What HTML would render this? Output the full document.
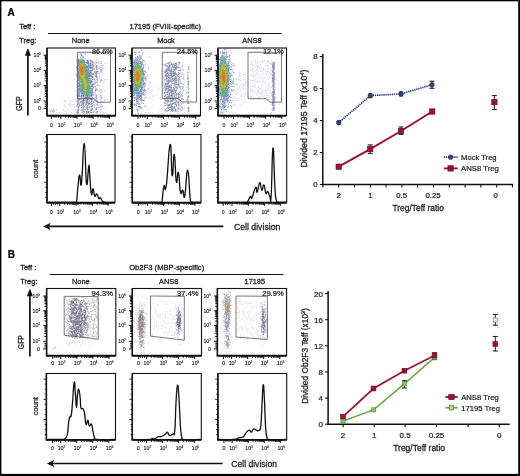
<!DOCTYPE html>
<html><head><meta charset="utf-8"><style>
html,body{margin:0;padding:0;background:#fff;}
svg{display:block;font-family:"Liberation Sans", sans-serif;}
</style></head><body>
<svg width="520" height="476" viewBox="0 0 520 476">
<defs><filter id="b4" x="-50%" y="-50%" width="200%" height="200%"><feGaussianBlur stdDeviation="0.4"/></filter><filter id="b8" x="-50%" y="-50%" width="200%" height="200%"><feGaussianBlur stdDeviation="0.8"/></filter><filter id="b10" x="-50%" y="-50%" width="200%" height="200%"><feGaussianBlur stdDeviation="1.0"/></filter><filter id="b12" x="-50%" y="-50%" width="200%" height="200%"><feGaussianBlur stdDeviation="1.2"/></filter><filter id="b15" x="-50%" y="-50%" width="200%" height="200%"><feGaussianBlur stdDeviation="1.5"/></filter><filter id="b20" x="-50%" y="-50%" width="200%" height="200%"><feGaussianBlur stdDeviation="2.0"/></filter></defs>
<rect width="520" height="476" fill="#fff"/>
<g opacity="0.999">
<rect x="0" y="0" width="520" height="1.3" fill="#000"/>
<rect x="0" y="0" width="1.4" height="476" fill="#000"/>
<rect x="518.2" y="0" width="1.8" height="476" fill="#000"/>
<rect x="0" y="473.9" width="520" height="2.1" fill="#000"/>
<text x="7.4" y="15.8" font-size="10" fill="#000" font-weight="bold" stroke="#000" stroke-width="0.22">A</text>
<text x="19.2" y="28.8" font-size="7.5" fill="#222" stroke="#222" stroke-width="0.32">Teff :</text>
<text x="129.5" y="28.8" font-size="7.4" fill="#222" textLength="71.5" lengthAdjust="spacingAndGlyphs" stroke="#222" stroke-width="0.28">17195 (FVIII-specific)</text>
<line x1="48" y1="33.5" x2="281.5" y2="33.5" stroke="#111" stroke-width="1.1"/>
<text x="19.2" y="42.8" font-size="7.5" fill="#222" stroke="#222" stroke-width="0.32">Treg:</text>
<text x="80.7" y="43" font-size="7.4" fill="#222" text-anchor="middle" stroke="#222" stroke-width="0.28">None</text>
<text x="166" y="43" font-size="7.4" fill="#222" text-anchor="middle" stroke="#222" stroke-width="0.28">Mock</text>
<text x="252" y="43" font-size="7.4" fill="#222" text-anchor="middle" stroke="#222" stroke-width="0.28">ANS8</text>
<g filter="url(#b4)">
<path d="M106.1 63.0h1v1h-1zM68.5 100.7h1v1h-1zM63.7 100.2h1v1h-1zM75.5 90.6h1v1h-1zM98.6 106.4h1v1h-1zM76.1 74.4h1v1h-1zM71.0 100.7h1v1h-1zM98.0 110.8h1v1h-1zM64.1 106.1h1v1h-1zM75.9 80.9h1v1h-1zM98.0 85.1h1v1h-1zM104.3 100.0h1v1h-1zM102.3 67.1h1v1h-1zM102.4 104.9h1v1h-1zM106.8 99.4h1v1h-1zM98.2 94.6h1v1h-1zM101.8 110.6h1v1h-1zM49.1 110.4h1v1h-1zM104.0 90.4h1v1h-1zM76.1 87.5h1v1h-1zM104.6 79.2h1v1h-1zM104.2 79.2h1v1h-1zM65.3 100.3h1v1h-1zM62.8 112.3h1v1h-1zM69.5 102.6h1v1h-1zM68.4 105.6h1v1h-1zM72.2 106.2h1v1h-1zM98.5 89.2h1v1h-1zM63.4 112.0h1v1h-1zM104.1 99.9h1v1h-1zM104.1 81.0h1v1h-1zM71.8 104.1h1v1h-1zM54.2 107.9h1v1h-1zM102.3 76.9h1v1h-1zM63.4 110.1h1v1h-1zM65.0 101.8h1v1h-1zM98.6 66.4h1v1h-1zM69.6 110.2h1v1h-1zM74.9 108.9h1v1h-1zM103.0 112.0h1v1h-1zM49.1 109.0h1v1h-1zM102.8 107.7h1v1h-1zM73.3 105.6h1v1h-1zM104.5 106.2h1v1h-1zM70.2 104.9h1v1h-1zM97.9 71.0h1v1h-1zM65.7 107.6h1v1h-1zM58.5 113.4h1v1h-1zM102.6 79.9h1v1h-1zM103.7 83.3h1v1h-1zM70.8 108.0h1v1h-1zM69.5 106.6h1v1h-1zM102.3 65.0h1v1h-1zM104.5 69.7h1v1h-1zM65.2 100.5h1v1h-1zM68.3 104.1h1v1h-1zM105.2 93.2h1v1h-1zM62.4 109.4h1v1h-1zM98.9 74.8h1v1h-1zM63.7 103.9h1v1h-1zM102.2 86.3h1v1h-1zM51.8 114.1h1v1h-1zM104.5 89.6h1v1h-1zM102.1 97.3h1v1h-1zM98.6 106.6h1v1h-1zM98.8 68.2h1v1h-1zM72.3 108.6h1v1h-1zM74.4 105.8h1v1h-1zM75.7 86.1h1v1h-1zM102.1 101.3h1v1h-1zM98.8 88.1h1v1h-1zM104.7 112.3h1v1h-1zM98.4 95.2h1v1h-1zM71.1 111.9h1v1h-1zM104.9 63.2h1v1h-1zM64.6 110.9h1v1h-1zM67.0 108.9h1v1h-1zM105.1 95.7h1v1h-1zM105.5 68.6h1v1h-1zM72.6 104.0h1v1h-1zM98.7 71.3h1v1h-1zM106.6 79.4h1v1h-1zM98.7 78.4h1v1h-1zM102.1 112.2h1v1h-1zM106.4 109.7h1v1h-1zM101.9 105.6h1v1h-1zM68.2 110.4h1v1h-1zM104.2 72.7h1v1h-1zM101.7 112.2h1v1h-1zM66.0 112.7h1v1h-1zM74.2 107.0h1v1h-1zM98.4 90.3h1v1h-1zM63.6 101.8h1v1h-1zM75.4 72.6h1v1h-1zM99.0 76.1h1v1h-1zM105.2 96.3h1v1h-1zM98.7 103.8h1v1h-1zM106.3 85.9h1v1h-1zM63.7 104.9h1v1h-1zM75.5 73.5h1v1h-1zM63.1 109.1h1v1h-1zM70.5 103.6h1v1h-1zM105.3 112.2h1v1h-1zM104.7 75.8h1v1h-1zM76.0 60.7h1v1h-1zM104.2 99.1h1v1h-1zM103.1 69.1h1v1h-1zM71.2 108.3h1v1h-1zM102.2 64.0h1v1h-1zM102.8 80.2h1v1h-1zM66.2 107.5h1v1h-1zM98.1 85.9h1v1h-1zM69.2 104.6h1v1h-1zM102.6 68.0h1v1h-1zM73.6 106.6h1v1h-1zM105.5 67.3h1v1h-1zM103.0 112.2h1v1h-1zM102.2 101.5h1v1h-1zM106.6 107.5h1v1h-1zM98.8 75.3h1v1h-1zM102.8 73.1h1v1h-1zM69.8 100.0h1v1h-1zM103.7 64.6h1v1h-1z" fill="#b4b4d6" fill-opacity="0.55"/>
<path d="M93.4 74.3h1v1h-1zM80.2 75.3h1v1h-1zM99.6 80.2h1v1h-1zM92.8 94.6h1v1h-1zM89.7 66.2h1v1h-1zM50.2 111.5h1v1h-1zM84.2 79.4h1v1h-1zM92.8 101.6h1v1h-1zM85.2 82.8h1v1h-1zM100.4 71.2h1v1h-1zM94.9 100.6h1v1h-1zM79.4 71.8h1v1h-1zM97.2 68.5h1v1h-1zM89.0 104.3h1v1h-1zM96.8 100.6h1v1h-1zM90.1 70.5h1v1h-1zM85.1 70.0h1v1h-1zM101.8 70.1h1v1h-1zM96.9 102.6h1v1h-1zM100.6 95.2h1v1h-1zM85.1 61.6h1v1h-1zM50.1 110.9h1v1h-1zM100.1 98.2h1v1h-1zM79.4 68.0h1v1h-1zM76.0 106.0h1v1h-1zM97.2 79.7h1v1h-1zM89.5 92.8h1v1h-1zM76.8 84.2h1v1h-1zM100.8 69.0h1v1h-1zM76.7 72.9h1v1h-1zM80.0 72.5h1v1h-1zM85.4 98.0h1v1h-1zM80.9 101.0h1v1h-1zM101.1 105.7h1v1h-1zM93.5 92.1h1v1h-1zM53.3 111.8h1v1h-1zM100.2 103.4h1v1h-1zM84.4 112.5h1v1h-1zM95.0 100.0h1v1h-1zM100.5 80.2h1v1h-1zM84.6 72.0h1v1h-1zM80.8 84.9h1v1h-1zM97.9 61.8h1v1h-1zM93.4 82.9h1v1h-1zM100.7 101.8h1v1h-1zM84.5 106.8h1v1h-1zM89.1 110.6h1v1h-1zM90.0 109.4h1v1h-1zM77.0 99.7h1v1h-1zM84.1 73.5h1v1h-1zM84.0 91.0h1v1h-1zM80.6 104.4h1v1h-1zM84.3 77.8h1v1h-1zM92.8 73.0h1v1h-1zM84.0 85.8h1v1h-1zM84.2 111.3h1v1h-1zM84.0 105.8h1v1h-1zM93.8 98.6h1v1h-1zM80.8 99.0h1v1h-1zM80.8 77.6h1v1h-1zM99.9 101.9h1v1h-1zM84.4 102.4h1v1h-1zM79.7 77.1h1v1h-1zM85.3 88.6h1v1h-1zM84.5 77.6h1v1h-1zM101.5 61.2h1v1h-1zM84.1 63.2h1v1h-1zM101.0 63.1h1v1h-1zM85.4 70.2h1v1h-1zM99.2 69.3h1v1h-1zM97.3 101.9h1v1h-1zM75.8 111.9h1v1h-1zM101.7 101.7h1v1h-1zM93.6 81.9h1v1h-1zM93.4 110.6h1v1h-1zM88.7 74.3h1v1h-1zM92.8 85.9h1v1h-1zM84.5 108.9h1v1h-1zM79.8 67.9h1v1h-1zM95.1 90.4h1v1h-1zM50.7 109.7h1v1h-1zM85.3 98.3h1v1h-1zM100.6 105.8h1v1h-1zM88.5 67.7h1v1h-1zM97.4 62.8h1v1h-1zM99.6 61.8h1v1h-1zM89.0 107.3h1v1h-1zM79.2 84.6h1v1h-1zM83.9 111.5h1v1h-1zM95.1 93.4h1v1h-1zM95.0 72.3h1v1h-1zM88.4 108.9h1v1h-1zM79.7 96.2h1v1h-1zM80.2 90.9h1v1h-1zM93.2 79.2h1v1h-1zM93.5 86.1h1v1h-1zM99.9 95.5h1v1h-1zM79.5 70.9h1v1h-1zM99.6 109.1h1v1h-1zM94.6 94.2h1v1h-1zM76.4 62.6h1v1h-1zM79.9 95.8h1v1h-1zM49.9 110.5h1v1h-1zM80.2 85.3h1v1h-1zM93.3 104.2h1v1h-1zM84.3 92.0h1v1h-1zM92.8 77.8h1v1h-1zM76.5 77.8h1v1h-1zM81.0 82.8h1v1h-1zM94.2 65.3h1v1h-1zM99.8 85.6h1v1h-1zM93.1 62.4h1v1h-1zM94.5 102.4h1v1h-1zM94.7 74.7h1v1h-1zM79.4 98.5h1v1h-1zM85.3 103.6h1v1h-1zM97.1 111.4h1v1h-1zM90.3 110.2h1v1h-1zM81.1 81.3h1v1h-1zM97.1 71.0h1v1h-1zM89.8 96.8h1v1h-1zM100.4 79.6h1v1h-1zM97.8 106.0h1v1h-1zM85.6 82.3h1v1h-1zM99.4 107.2h1v1h-1zM89.0 70.2h1v1h-1zM81.0 105.3h1v1h-1zM100.9 101.1h1v1h-1zM89.9 65.5h1v1h-1zM89.0 110.7h1v1h-1zM96.8 110.9h1v1h-1zM94.6 90.3h1v1h-1zM80.4 90.0h1v1h-1zM96.8 79.3h1v1h-1zM89.2 94.6h1v1h-1zM80.9 98.6h1v1h-1zM99.9 105.7h1v1h-1zM76.5 111.3h1v1h-1zM88.4 98.2h1v1h-1zM100.4 64.8h1v1h-1zM99.6 67.6h1v1h-1zM93.9 84.2h1v1h-1zM93.7 81.0h1v1h-1zM94.4 86.6h1v1h-1zM85.0 71.1h1v1h-1zM89.8 68.2h1v1h-1zM89.1 73.5h1v1h-1zM100.5 89.3h1v1h-1zM95.0 83.1h1v1h-1zM94.0 110.5h1v1h-1zM100.2 60.9h1v1h-1zM94.7 71.5h1v1h-1zM88.6 85.4h1v1h-1zM76.9 68.1h1v1h-1zM90.1 98.9h1v1h-1zM79.3 62.7h1v1h-1zM80.4 64.5h1v1h-1zM80.6 60.4h1v1h-1zM88.4 101.4h1v1h-1zM97.2 81.8h1v1h-1zM79.4 83.4h1v1h-1zM99.8 81.5h1v1h-1zM53.2 108.7h1v1h-1zM79.5 79.6h1v1h-1zM85.5 77.2h1v1h-1zM80.4 66.1h1v1h-1zM90.0 72.1h1v1h-1zM85.4 91.0h1v1h-1zM79.3 62.2h1v1h-1zM88.5 61.8h1v1h-1zM97.2 66.7h1v1h-1zM100.9 96.8h1v1h-1zM96.9 79.8h1v1h-1zM89.1 100.3h1v1h-1zM101.5 69.0h1v1h-1zM81.0 90.1h1v1h-1zM99.4 76.0h1v1h-1zM84.6 80.9h1v1h-1zM76.9 60.7h1v1h-1zM101.0 79.9h1v1h-1zM94.8 73.0h1v1h-1zM89.5 66.6h1v1h-1zM100.3 61.1h1v1h-1zM97.2 90.4h1v1h-1zM94.9 108.9h1v1h-1zM99.3 90.0h1v1h-1zM99.2 93.5h1v1h-1zM84.5 81.9h1v1h-1zM84.0 77.8h1v1h-1zM100.7 97.0h1v1h-1zM100.0 91.8h1v1h-1zM101.2 90.6h1v1h-1zM95.2 88.8h1v1h-1zM76.5 98.5h1v1h-1zM93.2 82.9h1v1h-1zM97.7 102.4h1v1h-1zM81.1 91.1h1v1h-1zM97.3 105.7h1v1h-1zM100.4 69.3h1v1h-1zM79.7 86.1h1v1h-1zM84.4 63.4h1v1h-1zM79.8 102.5h1v1h-1zM84.2 109.8h1v1h-1zM100.5 106.0h1v1h-1zM100.6 65.2h1v1h-1zM85.5 100.0h1v1h-1zM94.3 105.0h1v1h-1zM79.9 101.3h1v1h-1zM100.8 78.5h1v1h-1zM89.7 97.1h1v1h-1zM89.3 80.1h1v1h-1zM96.7 112.5h1v1h-1zM101.4 66.5h1v1h-1zM76.5 112.0h1v1h-1zM79.5 106.2h1v1h-1zM79.3 79.8h1v1h-1zM94.8 70.4h1v1h-1zM100.7 98.7h1v1h-1zM94.0 82.6h1v1h-1zM79.3 68.4h1v1h-1zM93.5 83.4h1v1h-1zM88.9 76.0h1v1h-1zM76.9 89.3h1v1h-1zM101.1 91.6h1v1h-1zM94.5 85.6h1v1h-1zM89.3 106.0h1v1h-1zM95.0 75.8h1v1h-1zM94.8 90.4h1v1h-1zM95.0 89.2h1v1h-1zM93.3 83.5h1v1h-1zM97.7 67.8h1v1h-1zM80.6 110.3h1v1h-1zM79.2 104.3h1v1h-1zM85.1 74.4h1v1h-1zM80.5 98.4h1v1h-1zM99.2 77.5h1v1h-1zM93.7 107.0h1v1h-1zM79.6 97.1h1v1h-1zM80.3 78.6h1v1h-1zM93.3 77.9h1v1h-1zM89.5 70.6h1v1h-1zM79.2 99.7h1v1h-1zM89.8 65.3h1v1h-1zM79.7 97.6h1v1h-1zM97.7 62.3h1v1h-1zM79.1 82.5h1v1h-1zM101.6 105.9h1v1h-1zM76.6 97.3h1v1h-1zM100.5 108.9h1v1h-1zM80.0 71.1h1v1h-1zM80.2 98.8h1v1h-1zM100.5 67.0h1v1h-1zM94.0 70.9h1v1h-1zM89.8 68.9h1v1h-1zM101.1 71.1h1v1h-1zM94.8 87.3h1v1h-1zM89.8 108.8h1v1h-1zM94.7 90.3h1v1h-1zM76.9 82.9h1v1h-1zM95.0 91.4h1v1h-1zM80.0 75.2h1v1h-1zM85.0 77.2h1v1h-1zM79.8 72.8h1v1h-1zM81.1 97.0h1v1h-1zM99.3 72.4h1v1h-1zM100.7 105.8h1v1h-1zM97.1 84.3h1v1h-1zM79.8 63.6h1v1h-1zM101.2 95.3h1v1h-1zM89.2 92.7h1v1h-1zM76.2 91.2h1v1h-1zM80.8 72.1h1v1h-1zM100.0 69.6h1v1h-1zM94.6 110.4h1v1h-1zM89.5 92.1h1v1h-1zM76.6 93.8h1v1h-1zM97.6 68.3h1v1h-1zM80.1 68.8h1v1h-1zM88.9 96.1h1v1h-1zM93.4 83.0h1v1h-1zM97.7 106.9h1v1h-1zM99.4 72.8h1v1h-1zM93.7 92.7h1v1h-1zM84.7 72.8h1v1h-1zM90.0 98.5h1v1h-1zM100.6 61.0h1v1h-1zM79.3 75.6h1v1h-1zM100.3 96.4h1v1h-1zM100.0 81.7h1v1h-1zM76.9 89.3h1v1h-1zM93.0 102.2h1v1h-1zM101.6 106.7h1v1h-1zM88.6 78.2h1v1h-1zM93.5 81.4h1v1h-1zM100.6 79.2h1v1h-1zM81.0 106.9h1v1h-1zM100.3 70.3h1v1h-1zM90.2 64.8h1v1h-1zM99.5 62.7h1v1h-1zM96.8 100.8h1v1h-1zM53.0 109.0h1v1h-1zM93.9 79.3h1v1h-1zM85.0 88.0h1v1h-1zM95.2 85.9h1v1h-1zM101.1 97.8h1v1h-1zM101.4 79.8h1v1h-1zM93.9 62.2h1v1h-1zM79.4 77.1h1v1h-1zM79.9 89.6h1v1h-1zM89.6 110.7h1v1h-1zM101.3 71.8h1v1h-1zM85.2 84.6h1v1h-1zM80.7 74.4h1v1h-1zM93.3 77.9h1v1h-1zM56.1 109.9h1v1h-1zM85.4 74.0h1v1h-1zM94.2 106.5h1v1h-1zM88.4 90.8h1v1h-1zM85.3 67.6h1v1h-1zM80.2 84.3h1v1h-1zM100.5 111.4h1v1h-1zM93.4 95.5h1v1h-1zM100.3 81.7h1v1h-1zM93.1 83.3h1v1h-1zM84.7 81.8h1v1h-1zM80.3 60.3h1v1h-1zM95.1 61.0h1v1h-1zM79.2 77.2h1v1h-1zM81.0 77.2h1v1h-1zM101.6 69.8h1v1h-1zM81.0 84.6h1v1h-1zM94.6 89.5h1v1h-1zM84.6 71.8h1v1h-1zM89.8 60.1h1v1h-1zM79.2 61.4h1v1h-1zM84.6 77.0h1v1h-1zM100.9 104.1h1v1h-1zM99.9 95.7h1v1h-1zM96.8 102.0h1v1h-1zM79.2 87.4h1v1h-1zM80.6 105.4h1v1h-1zM97.4 101.0h1v1h-1zM94.3 72.0h1v1h-1zM80.5 63.2h1v1h-1zM90.0 66.8h1v1h-1zM89.9 93.7h1v1h-1zM94.9 97.2h1v1h-1zM93.7 81.6h1v1h-1zM94.4 103.8h1v1h-1zM84.0 67.9h1v1h-1zM80.4 87.0h1v1h-1zM92.9 101.6h1v1h-1zM53.0 109.5h1v1h-1zM100.7 107.2h1v1h-1zM76.5 66.2h1v1h-1zM94.8 80.0h1v1h-1zM76.8 60.9h1v1h-1zM94.0 69.1h1v1h-1zM101.7 69.8h1v1h-1zM93.2 105.2h1v1h-1zM83.9 67.8h1v1h-1zM76.5 94.8h1v1h-1zM80.0 71.6h1v1h-1zM93.4 100.8h1v1h-1zM88.5 98.0h1v1h-1zM94.6 100.3h1v1h-1zM97.8 72.7h1v1h-1zM89.6 86.3h1v1h-1zM76.5 76.3h1v1h-1zM84.3 76.9h1v1h-1zM84.7 83.3h1v1h-1zM93.6 111.1h1v1h-1zM89.6 77.7h1v1h-1zM89.1 101.5h1v1h-1zM79.3 90.4h1v1h-1zM77.0 80.6h1v1h-1zM80.0 86.8h1v1h-1zM100.1 81.6h1v1h-1zM76.6 101.6h1v1h-1zM76.9 60.5h1v1h-1zM92.9 92.3h1v1h-1zM89.6 90.8h1v1h-1zM84.9 90.0h1v1h-1zM99.6 90.6h1v1h-1zM93.6 68.7h1v1h-1zM89.0 73.4h1v1h-1zM76.4 93.5h1v1h-1zM85.6 96.2h1v1h-1zM93.1 65.5h1v1h-1zM88.6 109.1h1v1h-1zM79.2 68.7h1v1h-1zM95.2 109.0h1v1h-1zM85.3 102.9h1v1h-1zM88.5 97.3h1v1h-1z" fill="#8e94bc" fill-opacity="0.65"/>
<path d="M86.4 89.4h1v1h-1zM79.1 67.7h1v1h-1zM83.0 95.1h1v1h-1zM83.3 70.6h1v1h-1zM78.1 74.0h1v1h-1zM89.0 85.3h1v1h-1zM82.9 82.2h1v1h-1zM79.9 73.7h1v1h-1zM86.3 89.3h1v1h-1zM85.9 83.0h1v1h-1zM89.4 87.9h1v1h-1zM82.2 88.6h1v1h-1zM87.8 62.9h1v1h-1zM88.1 75.5h1v1h-1zM84.4 61.4h1v1h-1zM80.9 70.7h1v1h-1zM90.8 94.9h1v1h-1zM82.7 74.3h1v1h-1zM90.3 71.7h1v1h-1zM81.4 71.2h1v1h-1zM88.9 80.4h1v1h-1zM80.8 69.0h1v1h-1zM82.1 67.5h1v1h-1zM86.0 61.9h1v1h-1zM83.6 79.5h1v1h-1zM79.6 73.3h1v1h-1zM86.0 93.5h1v1h-1zM83.2 74.3h1v1h-1zM83.2 72.1h1v1h-1zM82.9 67.3h1v1h-1zM86.6 97.2h1v1h-1zM86.7 94.3h1v1h-1zM83.0 99.9h1v1h-1zM85.6 75.0h1v1h-1zM85.6 71.1h1v1h-1zM81.9 64.8h1v1h-1zM89.8 62.9h1v1h-1zM79.2 82.9h1v1h-1zM81.6 76.9h1v1h-1zM85.3 69.5h1v1h-1zM77.4 69.6h1v1h-1zM84.9 82.2h1v1h-1zM84.4 93.5h1v1h-1zM83.7 65.6h1v1h-1zM90.5 87.7h1v1h-1zM79.0 77.1h1v1h-1zM83.5 80.9h1v1h-1zM83.7 82.4h1v1h-1zM86.9 77.1h1v1h-1zM83.8 71.2h1v1h-1zM79.3 77.6h1v1h-1zM82.7 66.6h1v1h-1zM87.3 86.9h1v1h-1zM81.4 70.0h1v1h-1zM79.8 91.4h1v1h-1zM79.6 76.1h1v1h-1zM86.8 100.2h1v1h-1zM89.4 74.9h1v1h-1zM86.8 90.5h1v1h-1zM84.8 85.5h1v1h-1zM89.0 73.2h1v1h-1zM78.2 59.4h1v1h-1zM86.4 83.9h1v1h-1zM82.2 80.3h1v1h-1zM87.4 98.2h1v1h-1zM83.0 86.2h1v1h-1zM86.8 79.2h1v1h-1zM87.2 86.9h1v1h-1zM85.0 88.2h1v1h-1zM81.6 71.1h1v1h-1zM83.0 95.4h1v1h-1zM89.4 71.8h1v1h-1zM85.8 97.0h1v1h-1zM90.4 80.5h1v1h-1zM81.1 54.8h1v1h-1zM82.1 89.4h1v1h-1zM81.1 71.0h1v1h-1zM85.7 95.2h1v1h-1zM90.2 92.0h1v1h-1zM81.4 59.6h1v1h-1zM87.1 66.6h1v1h-1zM90.1 81.7h1v1h-1zM78.8 68.2h1v1h-1zM90.4 81.3h1v1h-1zM85.5 80.6h1v1h-1zM83.5 85.8h1v1h-1zM80.5 62.5h1v1h-1zM80.0 61.5h1v1h-1zM81.8 84.0h1v1h-1zM85.0 67.7h1v1h-1zM81.3 61.1h1v1h-1zM87.5 77.6h1v1h-1zM85.2 64.1h1v1h-1zM81.4 77.3h1v1h-1zM86.8 95.1h1v1h-1zM86.9 88.1h1v1h-1zM88.0 76.1h1v1h-1zM79.2 72.9h1v1h-1zM85.5 86.4h1v1h-1zM82.0 85.5h1v1h-1zM79.1 67.8h1v1h-1zM80.3 63.3h1v1h-1zM80.6 92.8h1v1h-1zM81.1 61.2h1v1h-1zM79.3 66.9h1v1h-1zM80.0 75.0h1v1h-1zM84.3 68.5h1v1h-1zM86.1 93.7h1v1h-1zM82.7 88.3h1v1h-1zM80.2 76.5h1v1h-1zM80.0 75.0h1v1h-1zM82.1 77.4h1v1h-1zM85.1 73.7h1v1h-1zM87.4 97.9h1v1h-1zM80.3 67.3h1v1h-1zM76.9 68.9h1v1h-1zM78.8 65.9h1v1h-1zM80.3 101.4h1v1h-1zM80.4 71.6h1v1h-1zM82.5 71.1h1v1h-1zM90.3 72.2h1v1h-1zM81.0 70.3h1v1h-1zM83.3 65.5h1v1h-1zM82.1 62.5h1v1h-1zM85.4 79.5h1v1h-1zM90.2 75.8h1v1h-1zM76.3 66.9h1v1h-1zM86.6 99.7h1v1h-1zM82.4 77.8h1v1h-1zM81.0 95.3h1v1h-1zM79.8 64.2h1v1h-1zM85.5 75.8h1v1h-1zM80.1 70.2h1v1h-1zM86.0 84.8h1v1h-1zM85.1 66.5h1v1h-1zM86.7 78.7h1v1h-1zM82.9 60.2h1v1h-1zM88.2 67.8h1v1h-1zM82.0 63.0h1v1h-1zM78.4 60.0h1v1h-1zM83.2 80.6h1v1h-1zM86.3 82.2h1v1h-1zM78.6 70.6h1v1h-1zM84.7 78.1h1v1h-1zM81.3 76.9h1v1h-1zM83.6 100.0h1v1h-1zM89.2 84.8h1v1h-1zM84.0 61.8h1v1h-1zM87.3 86.6h1v1h-1zM88.2 82.3h1v1h-1zM79.9 71.3h1v1h-1zM81.1 88.9h1v1h-1zM86.9 61.3h1v1h-1zM85.8 74.8h1v1h-1zM78.1 77.1h1v1h-1zM81.6 74.6h1v1h-1zM77.0 80.0h1v1h-1zM83.2 81.9h1v1h-1zM81.6 79.1h1v1h-1zM80.1 75.7h1v1h-1zM83.3 72.2h1v1h-1zM86.5 74.3h1v1h-1zM87.8 91.9h1v1h-1zM82.7 63.7h1v1h-1zM86.4 92.4h1v1h-1zM85.2 73.9h1v1h-1zM81.1 71.6h1v1h-1zM87.3 79.9h1v1h-1zM81.4 62.3h1v1h-1zM78.8 66.2h1v1h-1zM86.0 65.8h1v1h-1zM79.0 70.1h1v1h-1zM82.3 67.2h1v1h-1zM85.4 88.6h1v1h-1zM82.5 92.8h1v1h-1zM85.9 86.3h1v1h-1zM88.6 74.9h1v1h-1zM88.9 103.1h1v1h-1zM86.6 86.6h1v1h-1zM80.5 65.2h1v1h-1zM82.9 69.5h1v1h-1zM87.3 76.1h1v1h-1zM91.2 98.7h1v1h-1zM78.9 75.8h1v1h-1zM78.3 69.1h1v1h-1z" fill="#34427a" fill-opacity="0.7"/>
<path d="M91.3 72.7h1v1h-1zM77.4 110.9h1v1h-1zM83.5 90.8h1v1h-1zM83.3 84.0h1v1h-1zM88.4 107.1h1v1h-1zM81.6 102.5h1v1h-1zM77.8 107.6h1v1h-1zM92.3 73.5h1v1h-1zM91.3 99.3h1v1h-1zM91.1 85.0h1v1h-1zM91.6 85.2h1v1h-1zM95.8 97.6h1v1h-1zM82.4 79.6h1v1h-1zM82.5 67.2h1v1h-1zM87.3 82.3h1v1h-1zM85.6 97.3h1v1h-1zM87.6 60.9h1v1h-1zM91.0 93.6h1v1h-1zM82.3 73.6h1v1h-1zM77.6 60.3h1v1h-1zM82.5 72.2h1v1h-1zM82.4 97.7h1v1h-1zM77.5 65.5h1v1h-1zM77.5 101.9h1v1h-1zM86.0 82.1h1v1h-1zM86.9 73.7h1v1h-1zM78.6 64.8h1v1h-1zM91.9 96.9h1v1h-1zM83.0 78.1h1v1h-1zM82.1 98.0h1v1h-1zM81.4 102.2h1v1h-1zM92.0 67.3h1v1h-1zM82.0 93.6h1v1h-1zM82.2 73.7h1v1h-1zM95.6 71.7h1v1h-1zM81.3 92.6h1v1h-1zM92.5 73.8h1v1h-1zM82.8 103.8h1v1h-1zM79.0 92.3h1v1h-1zM82.9 66.3h1v1h-1zM85.9 98.0h1v1h-1zM91.3 101.1h1v1h-1zM79.1 85.6h1v1h-1zM83.0 95.4h1v1h-1zM81.9 97.8h1v1h-1zM91.4 112.0h1v1h-1zM91.8 75.9h1v1h-1zM78.0 83.2h1v1h-1zM78.4 75.3h1v1h-1zM95.9 67.2h1v1h-1zM78.6 88.2h1v1h-1zM82.6 77.9h1v1h-1zM92.7 73.9h1v1h-1zM96.5 110.8h1v1h-1zM78.6 103.1h1v1h-1zM87.0 84.9h1v1h-1zM83.4 69.2h1v1h-1zM95.6 82.2h1v1h-1zM81.7 78.7h1v1h-1zM87.9 65.8h1v1h-1zM83.5 93.7h1v1h-1zM90.4 78.3h1v1h-1zM79.0 84.2h1v1h-1zM85.9 101.5h1v1h-1zM96.6 78.0h1v1h-1zM81.9 65.3h1v1h-1zM78.3 63.6h1v1h-1zM96.4 81.3h1v1h-1zM85.8 82.1h1v1h-1zM86.3 110.8h1v1h-1zM95.5 87.8h1v1h-1zM87.3 102.5h1v1h-1zM88.3 78.3h1v1h-1zM96.7 76.0h1v1h-1zM86.7 98.8h1v1h-1zM81.1 95.4h1v1h-1zM77.6 110.7h1v1h-1zM91.6 98.2h1v1h-1zM83.8 100.3h1v1h-1zM92.5 102.6h1v1h-1zM88.3 91.9h1v1h-1zM82.3 87.2h1v1h-1zM88.2 64.9h1v1h-1zM92.2 107.9h1v1h-1zM96.0 97.7h1v1h-1zM87.4 102.2h1v1h-1zM96.2 67.5h1v1h-1zM83.2 92.8h1v1h-1zM83.5 68.6h1v1h-1zM83.2 76.7h1v1h-1zM87.4 69.7h1v1h-1zM92.7 67.7h1v1h-1zM87.8 78.8h1v1h-1zM85.9 80.8h1v1h-1zM87.1 93.4h1v1h-1zM91.0 110.1h1v1h-1zM90.5 81.3h1v1h-1zM85.9 107.4h1v1h-1zM87.0 88.2h1v1h-1zM85.8 101.7h1v1h-1zM83.6 79.6h1v1h-1zM83.2 98.9h1v1h-1zM96.7 64.9h1v1h-1zM91.8 63.0h1v1h-1zM78.0 61.2h1v1h-1zM95.6 68.6h1v1h-1zM82.1 92.3h1v1h-1zM92.6 111.9h1v1h-1zM86.8 80.7h1v1h-1zM82.9 112.7h1v1h-1zM83.1 99.1h1v1h-1zM78.9 88.1h1v1h-1zM91.8 83.9h1v1h-1zM90.9 67.6h1v1h-1zM81.1 60.2h1v1h-1zM91.6 90.2h1v1h-1zM95.9 73.9h1v1h-1zM77.9 106.2h1v1h-1zM87.6 98.5h1v1h-1zM82.3 65.2h1v1h-1zM82.0 79.6h1v1h-1zM77.1 113.0h1v1h-1zM86.2 90.3h1v1h-1zM85.7 110.4h1v1h-1zM91.1 95.5h1v1h-1zM77.2 73.2h1v1h-1zM86.6 78.2h1v1h-1zM81.4 68.7h1v1h-1zM82.5 108.4h1v1h-1zM92.3 65.2h1v1h-1zM90.9 67.3h1v1h-1zM87.4 86.1h1v1h-1zM81.5 100.4h1v1h-1zM92.6 68.6h1v1h-1zM87.0 86.3h1v1h-1zM83.3 66.6h1v1h-1zM82.6 93.4h1v1h-1zM86.2 111.4h1v1h-1zM81.9 111.6h1v1h-1zM87.1 66.3h1v1h-1zM88.0 90.1h1v1h-1zM77.8 82.0h1v1h-1zM78.2 104.1h1v1h-1zM78.7 109.4h1v1h-1zM83.6 77.1h1v1h-1zM87.5 93.5h1v1h-1zM77.0 104.0h1v1h-1zM83.2 95.1h1v1h-1zM92.4 94.6h1v1h-1zM82.3 79.0h1v1h-1zM83.2 67.9h1v1h-1zM91.7 86.6h1v1h-1zM90.8 89.7h1v1h-1zM86.8 63.1h1v1h-1zM86.9 72.5h1v1h-1zM96.1 72.8h1v1h-1zM86.0 71.8h1v1h-1zM82.4 63.7h1v1h-1zM77.7 94.4h1v1h-1zM87.5 76.4h1v1h-1zM92.3 68.2h1v1h-1zM82.2 77.2h1v1h-1zM83.1 104.9h1v1h-1zM91.7 68.3h1v1h-1zM78.5 99.4h1v1h-1zM95.3 95.5h1v1h-1zM87.0 95.0h1v1h-1zM78.1 71.8h1v1h-1zM86.9 70.5h1v1h-1zM79.0 95.5h1v1h-1zM83.6 63.7h1v1h-1zM86.8 85.9h1v1h-1zM81.8 102.9h1v1h-1zM81.3 109.5h1v1h-1zM78.1 96.3h1v1h-1zM77.8 90.9h1v1h-1zM96.4 78.4h1v1h-1zM88.4 60.2h1v1h-1zM95.5 66.1h1v1h-1zM87.0 62.2h1v1h-1zM86.9 106.4h1v1h-1zM92.0 85.6h1v1h-1zM88.4 79.8h1v1h-1zM90.8 74.7h1v1h-1zM86.6 86.7h1v1h-1zM86.6 88.2h1v1h-1zM81.8 100.8h1v1h-1zM96.3 73.2h1v1h-1zM96.6 98.7h1v1h-1zM81.2 84.0h1v1h-1zM86.6 100.0h1v1h-1zM82.9 95.8h1v1h-1zM83.6 61.7h1v1h-1zM90.6 92.2h1v1h-1zM87.4 65.8h1v1h-1zM81.1 85.8h1v1h-1zM83.3 68.4h1v1h-1zM82.4 108.9h1v1h-1zM95.6 107.8h1v1h-1zM87.4 81.1h1v1h-1zM91.5 80.7h1v1h-1zM87.2 60.6h1v1h-1zM87.1 96.0h1v1h-1zM90.4 70.0h1v1h-1zM77.2 75.6h1v1h-1zM91.4 77.2h1v1h-1zM91.8 91.9h1v1h-1zM92.1 76.5h1v1h-1zM87.6 79.3h1v1h-1zM83.1 91.1h1v1h-1zM86.3 62.0h1v1h-1zM86.1 112.3h1v1h-1zM77.4 93.1h1v1h-1zM96.6 104.6h1v1h-1zM83.9 99.9h1v1h-1zM87.5 84.5h1v1h-1zM82.5 60.1h1v1h-1zM79.0 82.9h1v1h-1zM87.6 75.3h1v1h-1zM92.6 69.0h1v1h-1zM91.2 86.2h1v1h-1zM87.5 106.5h1v1h-1zM86.4 77.8h1v1h-1zM90.6 64.5h1v1h-1zM86.6 65.5h1v1h-1zM91.1 88.2h1v1h-1zM85.9 77.9h1v1h-1zM86.4 95.1h1v1h-1zM91.9 83.7h1v1h-1zM87.2 84.2h1v1h-1zM96.2 95.8h1v1h-1zM86.2 69.2h1v1h-1zM91.6 96.8h1v1h-1zM82.1 92.5h1v1h-1zM82.0 87.0h1v1h-1zM81.9 85.6h1v1h-1zM91.3 67.1h1v1h-1zM81.8 92.7h1v1h-1zM77.6 92.4h1v1h-1zM81.2 104.8h1v1h-1zM83.2 60.8h1v1h-1zM81.1 107.6h1v1h-1zM88.1 63.5h1v1h-1zM78.2 93.1h1v1h-1zM78.5 74.8h1v1h-1zM83.3 109.1h1v1h-1zM83.0 110.7h1v1h-1zM82.4 73.1h1v1h-1zM83.1 79.5h1v1h-1zM78.0 106.4h1v1h-1zM86.8 81.5h1v1h-1zM96.6 78.7h1v1h-1zM81.6 80.0h1v1h-1zM90.5 71.5h1v1h-1zM91.1 101.2h1v1h-1zM82.1 105.7h1v1h-1zM83.5 87.0h1v1h-1zM83.2 71.7h1v1h-1zM91.9 70.1h1v1h-1zM85.7 86.7h1v1h-1zM95.4 76.2h1v1h-1zM96.2 94.4h1v1h-1zM83.7 73.3h1v1h-1zM83.2 84.5h1v1h-1zM87.5 66.0h1v1h-1zM82.4 61.8h1v1h-1zM86.5 100.7h1v1h-1zM92.5 84.5h1v1h-1zM91.5 105.8h1v1h-1zM91.5 104.7h1v1h-1zM87.7 97.8h1v1h-1zM96.7 70.8h1v1h-1zM90.5 61.2h1v1h-1zM91.2 95.5h1v1h-1zM83.0 101.9h1v1h-1zM95.4 63.6h1v1h-1zM87.5 86.6h1v1h-1zM88.1 66.5h1v1h-1zM90.5 80.3h1v1h-1zM87.6 83.3h1v1h-1zM95.4 74.6h1v1h-1zM81.2 109.7h1v1h-1zM52.7 110.6h1v1h-1zM87.9 91.1h1v1h-1zM95.5 63.3h1v1h-1zM87.1 60.8h1v1h-1zM82.6 64.8h1v1h-1zM83.0 87.4h1v1h-1zM78.5 73.3h1v1h-1zM81.4 104.5h1v1h-1zM78.0 110.1h1v1h-1zM86.5 91.7h1v1h-1zM91.8 98.2h1v1h-1zM81.7 83.2h1v1h-1zM82.5 91.0h1v1h-1zM82.2 64.5h1v1h-1zM83.6 86.7h1v1h-1zM87.7 112.0h1v1h-1zM82.3 103.2h1v1h-1zM92.7 94.3h1v1h-1zM78.5 73.7h1v1h-1zM90.9 70.3h1v1h-1zM86.9 95.0h1v1h-1zM77.5 85.2h1v1h-1zM91.4 70.1h1v1h-1zM87.2 80.4h1v1h-1zM86.7 96.9h1v1h-1zM95.3 90.2h1v1h-1zM90.5 70.0h1v1h-1zM82.4 109.7h1v1h-1zM82.8 76.6h1v1h-1zM85.7 102.3h1v1h-1zM82.2 68.2h1v1h-1zM96.5 71.9h1v1h-1zM78.8 73.4h1v1h-1zM77.8 65.3h1v1h-1zM81.8 111.4h1v1h-1zM96.7 89.1h1v1h-1zM91.4 70.1h1v1h-1zM83.5 65.4h1v1h-1zM86.5 97.4h1v1h-1zM87.1 65.8h1v1h-1zM90.5 102.9h1v1h-1zM81.5 66.8h1v1h-1zM90.9 83.6h1v1h-1zM83.2 64.0h1v1h-1zM86.9 60.9h1v1h-1zM91.6 86.0h1v1h-1zM88.0 94.2h1v1h-1zM86.3 112.8h1v1h-1zM78.3 82.4h1v1h-1zM92.7 73.9h1v1h-1zM91.6 63.5h1v1h-1zM90.5 81.4h1v1h-1zM79.0 98.8h1v1h-1zM83.2 108.8h1v1h-1zM86.4 75.7h1v1h-1zM90.8 112.6h1v1h-1zM91.9 88.3h1v1h-1zM96.2 77.0h1v1h-1zM82.8 80.2h1v1h-1zM82.1 92.1h1v1h-1zM81.3 78.3h1v1h-1zM91.9 61.0h1v1h-1zM86.2 68.3h1v1h-1zM77.4 90.8h1v1h-1zM88.4 103.5h1v1h-1zM96.2 104.1h1v1h-1zM91.4 88.8h1v1h-1zM78.9 105.6h1v1h-1zM95.8 74.9h1v1h-1zM96.5 84.7h1v1h-1zM78.0 95.4h1v1h-1zM77.5 73.1h1v1h-1zM92.4 83.8h1v1h-1zM77.1 78.1h1v1h-1zM83.0 101.6h1v1h-1zM77.3 75.0h1v1h-1zM96.7 71.3h1v1h-1zM82.0 93.8h1v1h-1zM77.0 105.8h1v1h-1zM92.1 73.7h1v1h-1zM77.3 86.6h1v1h-1zM88.1 80.3h1v1h-1zM90.8 99.2h1v1h-1zM91.2 84.8h1v1h-1zM88.3 111.1h1v1h-1zM86.2 112.5h1v1h-1zM78.8 79.9h1v1h-1zM86.9 90.6h1v1h-1zM77.4 63.6h1v1h-1zM90.4 112.1h1v1h-1zM86.3 78.6h1v1h-1zM88.3 91.3h1v1h-1zM81.9 83.7h1v1h-1zM91.6 69.9h1v1h-1zM87.5 72.5h1v1h-1zM91.2 63.5h1v1h-1zM91.4 96.5h1v1h-1zM91.6 85.8h1v1h-1zM78.4 99.0h1v1h-1zM91.3 72.3h1v1h-1zM83.8 69.6h1v1h-1zM90.3 70.1h1v1h-1zM92.5 65.3h1v1h-1zM87.3 60.7h1v1h-1zM95.8 72.3h1v1h-1zM87.2 106.5h1v1h-1zM78.0 88.9h1v1h-1zM87.1 71.0h1v1h-1zM95.7 100.9h1v1h-1zM82.5 85.0h1v1h-1zM77.9 100.5h1v1h-1zM95.6 88.4h1v1h-1zM90.8 98.6h1v1h-1zM82.1 65.1h1v1h-1zM88.0 98.7h1v1h-1zM92.4 66.2h1v1h-1zM78.0 74.3h1v1h-1zM82.5 89.7h1v1h-1zM77.3 75.8h1v1h-1zM82.9 107.6h1v1h-1zM82.7 66.2h1v1h-1zM87.6 73.3h1v1h-1zM92.0 83.6h1v1h-1zM86.7 108.7h1v1h-1zM77.5 106.9h1v1h-1zM86.5 95.3h1v1h-1zM81.6 112.1h1v1h-1zM81.6 97.7h1v1h-1zM77.9 67.9h1v1h-1zM92.1 69.2h1v1h-1zM79.0 71.5h1v1h-1zM87.5 110.7h1v1h-1zM91.0 109.9h1v1h-1zM95.3 81.8h1v1h-1zM87.4 88.9h1v1h-1zM77.1 85.9h1v1h-1zM95.8 109.0h1v1h-1zM86.9 91.5h1v1h-1zM82.8 62.2h1v1h-1zM82.4 107.6h1v1h-1zM90.9 81.9h1v1h-1zM77.1 80.1h1v1h-1zM77.7 112.9h1v1h-1zM77.3 96.9h1v1h-1zM86.3 87.1h1v1h-1zM87.5 94.3h1v1h-1zM92.6 87.2h1v1h-1zM82.6 60.8h1v1h-1zM86.1 76.6h1v1h-1zM77.7 108.8h1v1h-1zM87.2 106.6h1v1h-1zM95.7 76.0h1v1h-1zM85.8 103.7h1v1h-1zM77.9 98.4h1v1h-1zM90.6 86.2h1v1h-1zM92.1 79.2h1v1h-1zM86.0 111.5h1v1h-1zM78.5 60.9h1v1h-1zM87.8 72.7h1v1h-1zM87.0 98.7h1v1h-1zM86.0 83.3h1v1h-1zM87.9 61.8h1v1h-1zM77.3 76.2h1v1h-1zM91.2 107.7h1v1h-1zM91.5 74.6h1v1h-1zM83.5 67.0h1v1h-1zM81.9 100.3h1v1h-1zM88.0 85.2h1v1h-1zM87.4 82.6h1v1h-1zM86.9 106.9h1v1h-1zM87.6 97.0h1v1h-1zM86.2 69.4h1v1h-1zM86.9 96.1h1v1h-1zM78.0 73.8h1v1h-1zM83.2 77.3h1v1h-1zM81.1 75.4h1v1h-1zM81.3 101.8h1v1h-1zM91.8 68.7h1v1h-1zM82.7 88.0h1v1h-1zM96.6 76.4h1v1h-1zM77.3 112.0h1v1h-1zM82.8 94.6h1v1h-1zM86.5 107.1h1v1h-1zM83.1 102.7h1v1h-1zM83.0 74.4h1v1h-1zM78.4 92.5h1v1h-1zM87.0 69.9h1v1h-1zM87.8 68.7h1v1h-1zM91.1 94.8h1v1h-1zM92.5 65.9h1v1h-1zM53.5 110.1h1v1h-1zM83.5 101.4h1v1h-1zM81.9 67.1h1v1h-1zM81.6 81.3h1v1h-1zM88.0 102.4h1v1h-1zM76.7 105.8h1v1h-1zM78.0 106.4h1v1h-1zM83.0 81.6h1v1h-1zM83.7 96.7h1v1h-1zM83.2 103.0h1v1h-1zM85.8 77.0h1v1h-1zM91.4 78.7h1v1h-1zM78.0 98.9h1v1h-1zM92.0 89.4h1v1h-1zM92.3 94.0h1v1h-1zM83.7 88.0h1v1h-1zM86.5 101.5h1v1h-1zM77.2 103.1h1v1h-1zM83.2 83.7h1v1h-1zM85.8 76.3h1v1h-1zM78.8 66.7h1v1h-1zM87.8 112.3h1v1h-1zM77.8 74.5h1v1h-1zM77.0 95.7h1v1h-1zM91.3 91.7h1v1h-1zM82.3 97.9h1v1h-1zM83.8 92.7h1v1h-1zM82.8 105.6h1v1h-1zM96.6 60.3h1v1h-1zM86.9 78.5h1v1h-1zM83.4 111.2h1v1h-1zM91.7 88.8h1v1h-1zM95.6 112.1h1v1h-1zM90.9 105.9h1v1h-1zM92.0 79.1h1v1h-1zM81.3 103.5h1v1h-1zM82.0 65.0h1v1h-1zM92.0 105.5h1v1h-1zM77.3 88.5h1v1h-1zM91.4 64.9h1v1h-1zM96.0 67.0h1v1h-1zM83.3 106.7h1v1h-1zM86.3 72.6h1v1h-1zM92.3 64.0h1v1h-1zM95.9 65.7h1v1h-1zM83.8 85.2h1v1h-1zM77.1 108.7h1v1h-1zM77.1 99.6h1v1h-1zM91.1 92.4h1v1h-1zM96.5 85.0h1v1h-1zM86.4 82.4h1v1h-1zM91.4 96.6h1v1h-1zM87.2 105.1h1v1h-1zM86.1 94.6h1v1h-1zM79.1 76.2h1v1h-1zM86.9 109.3h1v1h-1zM91.8 93.5h1v1h-1zM83.3 110.9h1v1h-1zM86.0 92.9h1v1h-1zM91.3 60.2h1v1h-1zM91.5 102.9h1v1h-1zM78.2 87.8h1v1h-1zM85.8 83.2h1v1h-1zM95.8 61.9h1v1h-1zM91.1 108.8h1v1h-1zM92.4 61.0h1v1h-1zM86.7 111.8h1v1h-1zM53.8 110.6h1v1h-1zM86.9 65.9h1v1h-1zM78.0 112.1h1v1h-1zM87.1 100.9h1v1h-1zM77.4 101.1h1v1h-1zM91.6 81.9h1v1h-1zM92.0 76.5h1v1h-1zM78.3 62.6h1v1h-1zM95.8 70.9h1v1h-1zM91.7 80.9h1v1h-1zM77.5 85.5h1v1h-1zM90.4 102.0h1v1h-1zM78.0 65.9h1v1h-1zM82.2 61.1h1v1h-1zM86.5 60.3h1v1h-1zM81.9 60.1h1v1h-1zM83.0 72.9h1v1h-1zM81.5 77.2h1v1h-1zM78.6 104.4h1v1h-1zM95.9 72.4h1v1h-1zM82.5 92.8h1v1h-1zM87.7 103.4h1v1h-1zM96.1 65.3h1v1h-1zM77.7 93.8h1v1h-1zM96.4 69.0h1v1h-1zM91.2 65.0h1v1h-1zM91.4 91.9h1v1h-1zM78.1 91.2h1v1h-1zM90.6 78.0h1v1h-1zM87.3 80.3h1v1h-1zM81.7 90.1h1v1h-1zM87.2 71.7h1v1h-1zM86.5 112.5h1v1h-1zM78.3 85.7h1v1h-1zM78.6 78.5h1v1h-1zM88.1 88.1h1v1h-1zM87.2 89.6h1v1h-1zM82.7 99.4h1v1h-1zM87.0 67.0h1v1h-1zM82.4 79.6h1v1h-1zM76.7 110.8h1v1h-1zM91.1 99.5h1v1h-1zM86.8 94.1h1v1h-1zM83.5 74.6h1v1h-1zM51.8 110.7h1v1h-1zM87.9 112.0h1v1h-1zM78.5 64.0h1v1h-1zM96.2 107.2h1v1h-1zM86.4 103.2h1v1h-1zM88.1 73.7h1v1h-1zM81.6 86.3h1v1h-1zM86.4 74.0h1v1h-1zM91.6 105.6h1v1h-1zM92.5 62.4h1v1h-1zM92.3 90.9h1v1h-1zM86.4 98.1h1v1h-1zM91.6 76.4h1v1h-1zM86.9 108.0h1v1h-1zM82.9 74.8h1v1h-1zM77.3 89.3h1v1h-1zM78.0 109.0h1v1h-1zM81.2 106.5h1v1h-1zM83.0 64.0h1v1h-1zM87.2 111.5h1v1h-1zM86.9 87.3h1v1h-1zM91.2 65.2h1v1h-1zM90.5 104.0h1v1h-1zM96.4 66.4h1v1h-1zM78.9 93.7h1v1h-1zM78.3 102.0h1v1h-1zM92.1 91.7h1v1h-1zM78.7 71.4h1v1h-1zM76.7 105.5h1v1h-1zM83.8 72.7h1v1h-1zM76.7 100.9h1v1h-1zM90.5 66.0h1v1h-1zM82.2 65.7h1v1h-1zM82.1 102.2h1v1h-1zM92.4 77.0h1v1h-1zM86.9 86.9h1v1h-1zM82.3 91.7h1v1h-1zM82.8 87.0h1v1h-1zM91.8 86.5h1v1h-1zM79.1 77.9h1v1h-1zM81.1 96.1h1v1h-1zM82.5 93.9h1v1h-1zM91.8 109.0h1v1h-1zM92.7 87.4h1v1h-1zM81.8 84.6h1v1h-1zM87.5 87.0h1v1h-1zM96.3 97.1h1v1h-1zM91.7 94.6h1v1h-1zM88.3 104.3h1v1h-1zM91.8 62.3h1v1h-1z" fill="#636a94" fill-opacity="0.72"/>
<path d="M77.6 58.5h1v1h-1zM84.7 53.6h1v1h-1zM93.0 86.7h1v1h-1zM89.2 98.4h1v1h-1zM84.9 58.5h1v1h-1zM88.7 97.1h1v1h-1zM76.1 66.8h1v1h-1zM77.2 63.7h1v1h-1zM77.4 77.6h1v1h-1zM90.6 73.2h1v1h-1zM84.0 100.0h1v1h-1zM85.7 101.0h1v1h-1zM80.9 56.2h1v1h-1zM90.7 74.7h1v1h-1zM77.0 95.2h1v1h-1zM76.5 67.2h1v1h-1zM80.3 56.4h1v1h-1zM88.7 106.6h1v1h-1zM82.1 55.5h1v1h-1zM77.3 55.8h1v1h-1zM80.8 54.6h1v1h-1zM91.2 93.7h1v1h-1zM85.6 104.8h1v1h-1zM76.7 80.5h1v1h-1zM80.3 56.8h1v1h-1zM83.0 57.5h1v1h-1zM91.4 88.6h1v1h-1zM80.3 56.7h1v1h-1zM90.8 95.4h1v1h-1zM85.8 106.1h1v1h-1zM91.1 91.5h1v1h-1zM81.0 55.1h1v1h-1zM77.3 62.9h1v1h-1zM91.6 93.2h1v1h-1zM93.9 78.4h1v1h-1zM77.0 74.2h1v1h-1zM84.5 58.3h1v1h-1zM77.7 62.5h1v1h-1zM83.2 56.4h1v1h-1zM76.7 88.9h1v1h-1zM89.9 98.2h1v1h-1zM77.4 61.2h1v1h-1zM83.6 101.8h1v1h-1zM77.4 76.5h1v1h-1zM77.6 78.6h1v1h-1zM77.8 86.3h1v1h-1zM79.9 52.6h1v1h-1zM90.7 80.4h1v1h-1zM88.3 98.1h1v1h-1zM75.3 73.4h1v1h-1zM82.6 101.3h1v1h-1zM76.7 70.2h1v1h-1zM80.5 53.7h1v1h-1zM77.0 66.2h1v1h-1zM85.5 99.6h1v1h-1zM82.9 97.4h1v1h-1zM88.3 100.7h1v1h-1zM88.7 97.3h1v1h-1zM87.9 102.9h1v1h-1zM89.8 100.4h1v1h-1zM82.7 53.0h1v1h-1zM90.6 99.0h1v1h-1zM76.4 59.0h1v1h-1zM83.2 98.7h1v1h-1zM93.5 75.9h1v1h-1zM83.2 56.6h1v1h-1zM91.5 100.2h1v1h-1zM76.6 69.6h1v1h-1zM76.9 67.8h1v1h-1zM91.0 75.8h1v1h-1zM91.1 91.2h1v1h-1zM85.4 54.4h1v1h-1zM76.8 55.3h1v1h-1zM82.0 56.7h1v1h-1zM91.5 88.2h1v1h-1zM76.6 58.7h1v1h-1zM75.7 74.9h1v1h-1zM90.7 87.6h1v1h-1zM83.7 98.6h1v1h-1zM80.8 96.5h1v1h-1zM83.1 99.1h1v1h-1zM90.9 101.1h1v1h-1zM77.5 61.5h1v1h-1zM89.3 114.4h1v1h-1zM85.1 100.2h1v1h-1z" fill="#7078b0" fill-opacity="0.65"/>
<path d="M87.6 96.4h1v1h-1zM86.7 68.0h1v1h-1zM81.6 95.3h1v1h-1zM84.3 97.9h1v1h-1zM78.8 85.0h1v1h-1zM90.4 89.4h1v1h-1zM89.3 66.6h1v1h-1zM77.7 72.0h1v1h-1zM78.7 92.3h1v1h-1zM89.0 77.9h1v1h-1zM90.0 75.5h1v1h-1zM88.0 62.1h1v1h-1zM80.8 93.7h1v1h-1zM89.3 74.6h1v1h-1zM77.8 70.6h1v1h-1zM89.4 75.4h1v1h-1zM89.3 79.0h1v1h-1zM78.2 79.5h1v1h-1zM87.8 69.8h1v1h-1zM88.4 72.2h1v1h-1zM86.8 62.3h1v1h-1zM78.0 74.0h1v1h-1zM86.2 65.2h1v1h-1zM81.1 94.7h1v1h-1zM78.5 89.9h1v1h-1zM86.6 67.6h1v1h-1zM86.7 67.5h1v1h-1zM78.8 86.3h1v1h-1zM86.4 69.8h1v1h-1zM87.1 61.0h1v1h-1zM86.9 97.0h1v1h-1zM88.5 63.4h1v1h-1zM89.8 79.5h1v1h-1zM89.4 93.8h1v1h-1zM87.0 60.8h1v1h-1zM85.7 98.2h1v1h-1zM89.3 76.4h1v1h-1zM80.9 93.0h1v1h-1zM89.6 67.4h1v1h-1zM89.9 64.4h1v1h-1zM88.7 70.1h1v1h-1zM90.5 93.5h1v1h-1zM78.4 83.6h1v1h-1zM80.8 90.7h1v1h-1zM82.1 95.3h1v1h-1zM90.4 62.8h1v1h-1zM86.3 66.1h1v1h-1zM89.6 72.8h1v1h-1zM85.7 67.1h1v1h-1zM86.0 62.4h1v1h-1zM90.2 59.7h1v1h-1zM87.0 67.6h1v1h-1zM77.9 65.1h1v1h-1zM80.6 58.7h1v1h-1zM90.0 75.2h1v1h-1zM89.2 65.2h1v1h-1zM78.6 89.3h1v1h-1zM78.3 59.1h1v1h-1zM88.2 75.0h1v1h-1zM89.8 64.3h1v1h-1zM88.2 65.5h1v1h-1zM90.1 67.0h1v1h-1zM84.4 97.4h1v1h-1zM80.7 90.6h1v1h-1zM88.7 75.2h1v1h-1zM78.8 80.8h1v1h-1zM86.1 66.5h1v1h-1zM90.4 95.0h1v1h-1zM90.2 59.2h1v1h-1zM79.4 90.3h1v1h-1zM77.8 72.9h1v1h-1zM79.3 94.6h1v1h-1zM89.6 65.8h1v1h-1zM87.7 73.4h1v1h-1zM80.0 87.9h1v1h-1zM79.5 95.4h1v1h-1zM81.6 58.2h1v1h-1zM79.8 89.8h1v1h-1zM78.4 81.6h1v1h-1zM89.6 71.2h1v1h-1zM90.4 90.4h1v1h-1zM89.5 75.5h1v1h-1zM78.1 59.5h1v1h-1zM88.2 61.9h1v1h-1zM79.8 88.5h1v1h-1zM80.3 89.2h1v1h-1zM88.3 71.3h1v1h-1zM90.2 89.8h1v1h-1zM77.6 65.5h1v1h-1zM88.9 76.0h1v1h-1zM90.3 61.1h1v1h-1zM78.2 85.5h1v1h-1zM78.7 89.0h1v1h-1zM78.3 94.8h1v1h-1zM86.8 62.8h1v1h-1zM79.3 87.3h1v1h-1zM77.3 65.7h1v1h-1zM85.3 64.8h1v1h-1zM79.1 93.0h1v1h-1zM87.0 67.3h1v1h-1zM78.7 84.1h1v1h-1zM84.7 97.0h1v1h-1zM79.2 88.5h1v1h-1zM85.1 96.7h1v1h-1zM86.6 67.6h1v1h-1zM79.1 84.7h1v1h-1zM88.1 68.7h1v1h-1zM90.1 82.6h1v1h-1zM82.2 95.8h1v1h-1zM81.6 57.7h1v1h-1zM78.0 90.1h1v1h-1zM89.9 91.9h1v1h-1zM79.4 90.9h1v1h-1zM79.4 95.7h1v1h-1zM79.3 89.7h1v1h-1zM87.7 64.1h1v1h-1zM88.0 63.2h1v1h-1zM77.4 72.8h1v1h-1zM79.0 89.0h1v1h-1zM89.5 66.9h1v1h-1zM87.7 70.4h1v1h-1zM87.7 72.4h1v1h-1zM89.5 95.1h1v1h-1zM89.9 70.6h1v1h-1zM80.0 90.9h1v1h-1zM89.0 66.8h1v1h-1zM78.6 80.4h1v1h-1zM89.0 95.2h1v1h-1zM79.8 86.3h1v1h-1zM90.3 91.3h1v1h-1zM85.9 97.6h1v1h-1zM90.1 91.3h1v1h-1zM90.4 67.7h1v1h-1zM81.3 92.6h1v1h-1zM77.9 73.9h1v1h-1zM89.6 66.1h1v1h-1zM87.8 72.2h1v1h-1zM87.6 63.4h1v1h-1zM78.7 84.2h1v1h-1zM84.0 61.0h1v1h-1zM88.3 75.0h1v1h-1zM80.1 58.5h1v1h-1zM89.9 74.3h1v1h-1zM81.2 92.5h1v1h-1zM78.5 89.9h1v1h-1zM77.9 71.1h1v1h-1zM90.1 71.7h1v1h-1zM80.2 88.1h1v1h-1zM77.7 65.6h1v1h-1zM83.8 60.2h1v1h-1zM86.6 67.5h1v1h-1zM89.3 77.4h1v1h-1zM87.4 60.3h1v1h-1zM90.1 82.5h1v1h-1zM78.5 79.8h1v1h-1zM88.5 64.6h1v1h-1zM89.7 81.1h1v1h-1zM88.3 69.1h1v1h-1zM90.2 88.7h1v1h-1zM90.2 86.7h1v1h-1zM89.9 82.6h1v1h-1zM88.1 71.4h1v1h-1zM90.2 81.4h1v1h-1zM86.9 67.9h1v1h-1zM78.3 89.7h1v1h-1zM79.3 89.5h1v1h-1zM90.1 65.0h1v1h-1zM90.1 62.3h1v1h-1zM88.2 96.6h1v1h-1zM86.3 65.7h1v1h-1zM77.9 71.4h1v1h-1zM89.9 95.7h1v1h-1zM84.4 59.9h1v1h-1zM79.8 88.7h1v1h-1z" fill="#5e88b0" fill-opacity="0.72"/>
<path d="M88.7 91.7h1v1h-1zM89.0 89.3h1v1h-1zM85.5 95.1h1v1h-1zM88.9 88.5h1v1h-1zM78.8 61.5h1v1h-1zM78.3 78.5h1v1h-1zM88.8 79.8h1v1h-1zM84.9 94.4h1v1h-1zM79.6 59.5h1v1h-1zM84.1 94.2h1v1h-1zM78.2 75.3h1v1h-1zM89.8 90.1h1v1h-1zM87.8 92.2h1v1h-1zM84.9 66.0h1v1h-1zM83.0 91.4h1v1h-1zM83.4 93.2h1v1h-1zM88.2 94.5h1v1h-1zM89.0 80.3h1v1h-1zM80.6 86.4h1v1h-1zM88.2 93.7h1v1h-1zM82.6 92.5h1v1h-1zM89.1 87.8h1v1h-1zM80.1 84.5h1v1h-1zM82.3 89.6h1v1h-1zM86.5 93.8h1v1h-1zM79.0 62.0h1v1h-1zM87.9 77.1h1v1h-1zM80.5 88.5h1v1h-1zM84.3 66.6h1v1h-1zM86.9 94.2h1v1h-1zM88.8 89.4h1v1h-1zM81.3 85.5h1v1h-1zM89.5 82.5h1v1h-1zM88.6 83.6h1v1h-1zM84.6 94.4h1v1h-1zM89.3 93.2h1v1h-1zM89.2 86.8h1v1h-1zM80.8 85.1h1v1h-1zM88.1 94.5h1v1h-1zM79.4 78.6h1v1h-1zM82.5 91.3h1v1h-1zM86.3 70.6h1v1h-1zM82.8 60.8h1v1h-1zM88.6 85.3h1v1h-1zM82.1 91.6h1v1h-1zM85.1 70.4h1v1h-1zM87.5 78.8h1v1h-1zM80.5 87.7h1v1h-1zM78.4 74.3h1v1h-1zM84.7 67.0h1v1h-1zM79.0 80.8h1v1h-1zM81.7 60.0h1v1h-1zM85.8 72.2h1v1h-1zM80.6 81.9h1v1h-1zM87.2 75.1h1v1h-1zM85.1 68.1h1v1h-1zM87.4 74.6h1v1h-1zM84.9 67.6h1v1h-1zM83.1 94.1h1v1h-1zM85.7 94.8h1v1h-1zM89.2 88.2h1v1h-1zM87.3 75.2h1v1h-1zM83.9 93.2h1v1h-1zM89.5 92.5h1v1h-1zM82.2 90.9h1v1h-1zM80.6 81.6h1v1h-1zM80.7 83.7h1v1h-1zM80.4 84.8h1v1h-1zM89.4 91.0h1v1h-1zM89.2 87.0h1v1h-1zM81.5 59.6h1v1h-1zM86.9 76.0h1v1h-1zM89.2 88.9h1v1h-1zM88.4 81.2h1v1h-1zM83.2 60.2h1v1h-1zM78.6 63.4h1v1h-1zM87.9 76.0h1v1h-1zM82.2 59.3h1v1h-1zM87.6 74.7h1v1h-1zM80.0 81.1h1v1h-1zM85.0 68.3h1v1h-1zM83.3 94.0h1v1h-1zM88.2 94.6h1v1h-1zM90.0 83.8h1v1h-1zM81.7 59.8h1v1h-1zM85.5 72.1h1v1h-1zM84.7 64.1h1v1h-1zM87.9 93.9h1v1h-1zM84.5 64.0h1v1h-1zM84.9 64.4h1v1h-1zM87.9 91.3h1v1h-1zM78.6 62.9h1v1h-1zM78.0 64.6h1v1h-1zM82.9 93.8h1v1h-1zM89.2 90.8h1v1h-1zM87.1 71.8h1v1h-1zM88.1 91.7h1v1h-1zM89.9 90.1h1v1h-1zM89.6 82.0h1v1h-1zM79.5 81.0h1v1h-1zM81.2 87.1h1v1h-1zM78.6 78.5h1v1h-1zM79.8 84.8h1v1h-1zM84.7 95.9h1v1h-1zM81.6 88.4h1v1h-1zM89.2 86.2h1v1h-1zM78.9 77.2h1v1h-1zM85.5 72.1h1v1h-1zM88.3 81.7h1v1h-1zM82.4 91.6h1v1h-1zM85.4 72.8h1v1h-1zM78.5 75.1h1v1h-1zM79.5 80.4h1v1h-1zM89.0 90.9h1v1h-1zM86.3 72.0h1v1h-1zM82.4 59.0h1v1h-1zM83.9 65.0h1v1h-1zM87.9 74.8h1v1h-1zM88.4 82.2h1v1h-1zM84.5 65.0h1v1h-1zM89.7 83.1h1v1h-1zM81.6 87.4h1v1h-1zM88.3 92.4h1v1h-1zM89.8 85.7h1v1h-1zM82.0 89.2h1v1h-1zM78.7 79.4h1v1h-1zM87.0 72.8h1v1h-1zM80.2 82.0h1v1h-1zM87.9 92.7h1v1h-1zM89.9 85.7h1v1h-1zM79.4 59.8h1v1h-1zM87.5 92.9h1v1h-1zM88.6 88.6h1v1h-1zM86.7 72.1h1v1h-1zM83.0 94.0h1v1h-1zM89.9 84.0h1v1h-1zM84.4 66.9h1v1h-1zM83.1 61.2h1v1h-1zM88.8 83.0h1v1h-1zM89.6 91.3h1v1h-1zM85.5 71.2h1v1h-1zM81.2 85.3h1v1h-1zM89.4 91.3h1v1h-1zM85.5 94.2h1v1h-1zM78.5 77.7h1v1h-1zM88.4 93.6h1v1h-1zM81.0 85.6h1v1h-1zM88.3 80.8h1v1h-1zM89.8 88.3h1v1h-1zM88.7 77.9h1v1h-1zM87.3 73.0h1v1h-1zM86.5 70.9h1v1h-1zM84.8 67.3h1v1h-1zM88.3 92.1h1v1h-1zM88.6 89.8h1v1h-1zM85.1 70.8h1v1h-1zM85.4 67.1h1v1h-1zM84.3 95.1h1v1h-1zM82.6 60.6h1v1h-1zM81.0 89.4h1v1h-1zM84.3 93.5h1v1h-1zM85.5 73.0h1v1h-1zM86.3 74.5h1v1h-1zM78.8 78.9h1v1h-1zM87.3 73.9h1v1h-1zM87.8 74.9h1v1h-1zM83.3 94.1h1v1h-1zM83.7 93.6h1v1h-1zM89.4 92.1h1v1h-1zM81.8 88.1h1v1h-1zM79.1 77.2h1v1h-1zM86.5 71.9h1v1h-1zM78.7 62.8h1v1h-1zM89.4 86.8h1v1h-1zM80.5 82.1h1v1h-1zM87.2 74.2h1v1h-1zM81.2 90.0h1v1h-1zM86.9 73.5h1v1h-1zM78.8 59.7h1v1h-1zM87.8 95.3h1v1h-1zM89.3 81.6h1v1h-1zM83.3 95.9h1v1h-1zM84.0 63.2h1v1h-1zM88.5 95.0h1v1h-1zM88.3 95.3h1v1h-1zM86.0 69.4h1v1h-1zM88.0 78.4h1v1h-1zM79.3 82.4h1v1h-1zM81.2 87.5h1v1h-1zM87.7 73.6h1v1h-1zM81.4 90.3h1v1h-1zM87.4 77.5h1v1h-1zM80.1 60.0h1v1h-1zM82.2 89.1h1v1h-1zM88.9 91.5h1v1h-1zM78.1 71.6h1v1h-1zM83.1 61.7h1v1h-1zM81.8 92.4h1v1h-1zM82.7 59.3h1v1h-1zM82.0 89.0h1v1h-1zM86.7 76.5h1v1h-1zM81.4 86.6h1v1h-1zM78.3 75.6h1v1h-1zM89.6 82.6h1v1h-1zM87.7 95.2h1v1h-1zM88.3 77.6h1v1h-1zM78.1 61.8h1v1h-1zM88.0 92.8h1v1h-1zM89.7 87.2h1v1h-1zM89.1 88.4h1v1h-1zM80.0 81.7h1v1h-1zM87.3 94.7h1v1h-1zM80.4 86.6h1v1h-1zM87.4 78.1h1v1h-1zM79.0 59.2h1v1h-1zM88.9 94.6h1v1h-1zM86.3 95.9h1v1h-1zM87.1 77.0h1v1h-1z" fill="#58a49c" fill-opacity="0.8"/>
<path d="M84.7 76.4h1v1h-1zM84.6 91.4h1v1h-1zM87.6 80.2h1v1h-1zM85.2 75.9h1v1h-1zM78.8 74.9h1v1h-1zM84.2 72.7h1v1h-1zM78.3 69.8h1v1h-1zM82.8 80.3h1v1h-1zM87.7 81.3h1v1h-1zM84.0 65.6h1v1h-1zM83.7 92.3h1v1h-1zM86.5 93.2h1v1h-1zM82.6 87.9h1v1h-1zM84.6 69.3h1v1h-1zM84.3 77.9h1v1h-1zM88.0 86.1h1v1h-1zM80.4 60.4h1v1h-1zM78.8 72.0h1v1h-1zM86.5 80.8h1v1h-1zM80.2 63.2h1v1h-1zM83.6 65.8h1v1h-1zM82.4 64.0h1v1h-1zM84.1 73.4h1v1h-1zM85.2 78.5h1v1h-1zM84.9 78.4h1v1h-1zM84.0 73.2h1v1h-1zM80.7 81.5h1v1h-1zM78.9 65.2h1v1h-1zM84.1 92.0h1v1h-1zM80.9 80.5h1v1h-1zM82.3 62.4h1v1h-1zM83.3 88.3h1v1h-1zM80.9 78.9h1v1h-1zM80.6 77.9h1v1h-1zM80.9 82.0h1v1h-1zM86.5 87.5h1v1h-1zM82.0 62.5h1v1h-1zM78.8 69.3h1v1h-1zM84.6 73.3h1v1h-1zM83.6 86.8h1v1h-1zM81.6 60.8h1v1h-1zM84.0 88.1h1v1h-1zM78.2 68.8h1v1h-1zM86.5 93.4h1v1h-1zM84.1 70.9h1v1h-1zM78.1 70.2h1v1h-1zM84.0 88.8h1v1h-1zM84.0 66.7h1v1h-1zM87.3 81.3h1v1h-1zM81.6 79.0h1v1h-1zM82.2 85.1h1v1h-1zM85.4 78.9h1v1h-1zM87.3 81.3h1v1h-1zM85.2 74.2h1v1h-1zM88.0 88.8h1v1h-1zM84.0 88.5h1v1h-1zM85.6 77.8h1v1h-1zM88.2 87.6h1v1h-1zM83.6 67.7h1v1h-1zM82.7 86.3h1v1h-1zM83.0 63.8h1v1h-1zM88.3 89.5h1v1h-1zM83.0 84.0h1v1h-1zM83.9 89.7h1v1h-1zM78.6 63.9h1v1h-1zM81.7 61.7h1v1h-1zM85.5 92.2h1v1h-1zM85.2 72.6h1v1h-1zM84.4 89.0h1v1h-1zM78.3 66.3h1v1h-1zM82.4 79.9h1v1h-1zM86.5 91.4h1v1h-1zM82.2 79.0h1v1h-1zM82.9 82.7h1v1h-1zM87.8 81.6h1v1h-1zM86.5 84.7h1v1h-1zM87.9 82.9h1v1h-1zM87.1 83.2h1v1h-1zM85.4 78.7h1v1h-1zM86.6 93.3h1v1h-1zM85.3 91.7h1v1h-1zM83.8 68.6h1v1h-1zM84.6 74.0h1v1h-1zM83.5 65.5h1v1h-1zM87.4 91.7h1v1h-1zM78.7 65.0h1v1h-1zM79.4 64.2h1v1h-1zM86.6 81.0h1v1h-1zM83.9 69.6h1v1h-1zM82.4 82.9h1v1h-1zM79.1 64.5h1v1h-1zM79.0 66.9h1v1h-1zM84.5 68.8h1v1h-1zM88.2 88.5h1v1h-1zM86.7 83.6h1v1h-1zM86.4 89.3h1v1h-1zM84.4 72.7h1v1h-1zM87.1 87.3h1v1h-1zM78.6 70.8h1v1h-1zM87.4 82.9h1v1h-1zM83.2 84.1h1v1h-1zM86.1 92.6h1v1h-1zM82.4 79.3h1v1h-1zM86.0 75.8h1v1h-1zM84.8 79.6h1v1h-1zM86.1 82.2h1v1h-1zM86.9 80.7h1v1h-1zM81.5 78.7h1v1h-1zM84.1 87.2h1v1h-1zM84.5 91.0h1v1h-1zM88.2 89.2h1v1h-1zM83.0 89.7h1v1h-1zM80.5 80.1h1v1h-1zM82.8 87.5h1v1h-1zM79.1 75.0h1v1h-1zM83.5 89.4h1v1h-1zM85.9 88.0h1v1h-1zM78.6 70.1h1v1h-1zM82.7 81.6h1v1h-1zM86.2 88.2h1v1h-1zM83.0 81.7h1v1h-1zM86.7 81.1h1v1h-1zM84.1 76.3h1v1h-1zM84.4 71.4h1v1h-1zM79.0 74.2h1v1h-1zM84.2 70.1h1v1h-1zM86.8 79.2h1v1h-1zM86.0 75.0h1v1h-1zM82.8 86.9h1v1h-1zM87.1 87.0h1v1h-1zM86.9 86.6h1v1h-1zM83.0 63.4h1v1h-1zM82.4 81.5h1v1h-1zM88.0 87.7h1v1h-1zM81.7 80.9h1v1h-1zM80.5 80.4h1v1h-1zM85.1 77.7h1v1h-1zM85.2 91.2h1v1h-1zM82.2 62.6h1v1h-1zM84.2 69.1h1v1h-1zM85.5 75.5h1v1h-1zM79.1 74.8h1v1h-1zM87.2 88.7h1v1h-1zM87.6 83.4h1v1h-1zM82.8 86.8h1v1h-1zM80.6 79.2h1v1h-1zM78.9 64.4h1v1h-1zM78.6 69.3h1v1h-1zM87.9 85.9h1v1h-1zM78.9 75.0h1v1h-1zM78.9 68.2h1v1h-1zM85.4 93.8h1v1h-1zM83.8 87.5h1v1h-1zM85.7 76.4h1v1h-1zM78.8 66.6h1v1h-1zM85.1 88.9h1v1h-1zM87.5 80.4h1v1h-1zM87.3 87.1h1v1h-1zM82.3 81.8h1v1h-1zM86.2 88.3h1v1h-1zM84.2 93.1h1v1h-1zM79.8 78.7h1v1h-1zM84.1 75.9h1v1h-1zM88.2 83.3h1v1h-1zM84.6 73.3h1v1h-1zM78.0 70.3h1v1h-1zM82.4 82.6h1v1h-1zM78.5 69.1h1v1h-1zM79.5 63.1h1v1h-1zM83.4 84.8h1v1h-1zM86.4 88.4h1v1h-1zM83.2 64.5h1v1h-1zM81.4 82.4h1v1h-1zM83.0 64.0h1v1h-1zM84.6 74.2h1v1h-1zM84.8 92.2h1v1h-1zM79.1 76.7h1v1h-1zM85.8 78.6h1v1h-1zM84.0 87.8h1v1h-1zM87.0 89.2h1v1h-1zM83.1 64.3h1v1h-1zM84.1 90.9h1v1h-1zM82.8 83.3h1v1h-1zM85.6 77.0h1v1h-1zM79.9 76.9h1v1h-1zM82.4 62.4h1v1h-1zM86.4 82.3h1v1h-1zM82.7 62.5h1v1h-1zM85.1 76.8h1v1h-1zM88.1 84.1h1v1h-1zM82.4 82.8h1v1h-1zM86.9 89.5h1v1h-1zM81.5 84.5h1v1h-1zM79.6 62.0h1v1h-1zM80.3 62.8h1v1h-1zM79.4 77.1h1v1h-1zM85.3 89.3h1v1h-1zM83.5 64.8h1v1h-1zM87.5 86.1h1v1h-1zM88.4 86.5h1v1h-1zM85.0 74.8h1v1h-1zM78.4 65.6h1v1h-1zM84.3 73.4h1v1h-1zM85.2 79.3h1v1h-1zM86.7 80.8h1v1h-1zM79.7 62.9h1v1h-1zM82.4 87.3h1v1h-1zM81.7 80.1h1v1h-1zM87.5 86.0h1v1h-1zM82.8 80.4h1v1h-1zM78.5 69.5h1v1h-1zM86.7 83.8h1v1h-1zM81.8 84.5h1v1h-1zM78.7 67.8h1v1h-1zM87.7 81.0h1v1h-1zM80.0 77.9h1v1h-1zM84.4 68.0h1v1h-1zM81.6 84.4h1v1h-1zM86.6 88.9h1v1h-1zM87.7 89.0h1v1h-1zM86.9 93.0h1v1h-1zM86.7 87.9h1v1h-1zM87.6 91.3h1v1h-1zM82.6 84.4h1v1h-1zM79.0 65.6h1v1h-1zM83.4 91.1h1v1h-1zM80.6 78.3h1v1h-1zM85.2 91.2h1v1h-1zM84.0 68.4h1v1h-1zM78.5 68.9h1v1h-1zM86.4 89.4h1v1h-1zM83.6 89.5h1v1h-1zM81.2 60.4h1v1h-1zM85.3 77.0h1v1h-1zM85.8 89.5h1v1h-1zM81.3 79.6h1v1h-1zM86.3 76.4h1v1h-1zM84.8 79.3h1v1h-1zM82.7 82.4h1v1h-1zM82.6 86.5h1v1h-1zM86.6 84.7h1v1h-1zM86.4 84.2h1v1h-1zM78.6 73.7h1v1h-1zM82.1 61.6h1v1h-1zM79.1 65.3h1v1h-1zM79.9 62.1h1v1h-1zM84.3 74.2h1v1h-1zM83.8 74.3h1v1h-1zM79.8 75.3h1v1h-1zM82.9 85.1h1v1h-1zM83.3 65.4h1v1h-1zM79.9 61.1h1v1h-1zM86.7 81.6h1v1h-1zM80.8 79.2h1v1h-1zM85.1 78.5h1v1h-1zM79.1 64.2h1v1h-1zM82.0 81.9h1v1h-1zM84.4 75.9h1v1h-1zM78.5 69.2h1v1h-1zM84.3 72.6h1v1h-1zM81.3 81.1h1v1h-1zM79.1 73.5h1v1h-1zM80.9 81.0h1v1h-1zM83.6 91.8h1v1h-1zM81.1 78.8h1v1h-1zM84.0 77.4h1v1h-1zM83.5 84.0h1v1h-1zM83.4 67.2h1v1h-1zM87.9 84.3h1v1h-1zM87.3 81.6h1v1h-1zM80.6 78.2h1v1h-1zM86.9 93.1h1v1h-1zM84.7 91.8h1v1h-1zM81.4 78.5h1v1h-1zM85.8 79.6h1v1h-1zM84.8 74.3h1v1h-1zM86.9 86.0h1v1h-1zM83.3 87.4h1v1h-1zM79.5 64.4h1v1h-1zM84.9 79.6h1v1h-1zM78.6 73.5h1v1h-1zM84.9 77.6h1v1h-1zM86.7 81.8h1v1h-1zM86.2 82.2h1v1h-1zM86.1 78.6h1v1h-1zM86.7 91.0h1v1h-1zM83.7 86.9h1v1h-1zM82.2 62.1h1v1h-1zM86.0 77.7h1v1h-1zM85.9 81.6h1v1h-1zM84.9 73.0h1v1h-1zM81.4 61.5h1v1h-1zM85.9 88.5h1v1h-1zM78.6 71.6h1v1h-1zM83.1 81.3h1v1h-1zM87.1 80.6h1v1h-1zM80.3 79.2h1v1h-1zM88.4 86.5h1v1h-1zM80.8 61.8h1v1h-1zM85.4 91.8h1v1h-1zM78.8 66.6h1v1h-1zM85.7 81.4h1v1h-1zM84.6 76.2h1v1h-1zM84.3 71.6h1v1h-1zM86.7 80.4h1v1h-1zM82.9 64.2h1v1h-1zM79.8 76.5h1v1h-1zM81.2 82.0h1v1h-1zM87.0 86.5h1v1h-1zM88.1 85.3h1v1h-1zM83.3 64.6h1v1h-1zM85.5 78.1h1v1h-1zM86.9 88.5h1v1h-1zM85.9 92.0h1v1h-1zM84.6 88.9h1v1h-1zM83.5 67.9h1v1h-1zM87.8 87.2h1v1h-1zM86.8 85.4h1v1h-1zM80.0 61.4h1v1h-1zM86.1 92.9h1v1h-1zM82.6 85.8h1v1h-1zM81.5 81.4h1v1h-1zM86.1 78.9h1v1h-1zM80.8 78.5h1v1h-1zM83.8 67.1h1v1h-1zM86.2 81.1h1v1h-1zM81.8 61.4h1v1h-1zM80.2 62.7h1v1h-1zM85.7 78.8h1v1h-1zM83.9 91.2h1v1h-1zM81.6 78.8h1v1h-1zM86.3 90.8h1v1h-1zM85.1 91.3h1v1h-1zM83.8 70.1h1v1h-1zM85.7 74.2h1v1h-1zM85.5 77.1h1v1h-1zM85.3 93.8h1v1h-1zM81.9 84.0h1v1h-1zM78.3 72.8h1v1h-1z" fill="#72ae4c" fill-opacity="0.88"/>
<path d="M85.1 81.5h1v1h-1zM82.0 65.1h1v1h-1zM82.7 79.3h1v1h-1zM83.7 70.1h1v1h-1zM81.0 75.0h1v1h-1zM83.1 69.2h1v1h-1zM84.4 81.9h1v1h-1zM84.8 85.4h1v1h-1zM80.1 72.9h1v1h-1zM84.4 87.3h1v1h-1zM84.7 87.8h1v1h-1zM83.6 81.5h1v1h-1zM84.4 85.6h1v1h-1zM81.8 77.1h1v1h-1zM85.7 83.8h1v1h-1zM83.5 79.6h1v1h-1zM84.6 82.6h1v1h-1zM84.0 81.1h1v1h-1zM81.2 77.0h1v1h-1zM82.1 78.2h1v1h-1zM84.3 79.8h1v1h-1zM83.7 78.7h1v1h-1zM82.6 73.5h1v1h-1zM82.9 67.2h1v1h-1zM84.8 86.6h1v1h-1zM81.4 63.8h1v1h-1zM83.7 79.9h1v1h-1zM85.1 86.6h1v1h-1zM83.5 82.2h1v1h-1zM85.7 87.3h1v1h-1zM83.9 80.3h1v1h-1zM82.7 72.2h1v1h-1zM86.2 85.5h1v1h-1zM82.8 79.8h1v1h-1zM85.8 84.2h1v1h-1zM84.3 78.8h1v1h-1zM83.8 85.5h1v1h-1zM85.4 83.1h1v1h-1zM85.4 88.1h1v1h-1zM85.6 85.7h1v1h-1zM84.1 79.6h1v1h-1zM83.8 84.5h1v1h-1zM83.9 82.5h1v1h-1zM81.8 64.8h1v1h-1zM85.0 87.2h1v1h-1zM81.4 77.2h1v1h-1zM85.7 83.2h1v1h-1zM79.2 72.8h1v1h-1zM86.1 87.3h1v1h-1zM83.2 79.3h1v1h-1zM81.8 63.7h1v1h-1zM83.3 68.5h1v1h-1zM79.9 74.3h1v1h-1zM83.2 66.9h1v1h-1zM81.3 75.1h1v1h-1zM79.1 70.0h1v1h-1zM86.1 86.0h1v1h-1zM84.0 80.7h1v1h-1zM82.1 78.5h1v1h-1zM82.9 73.0h1v1h-1zM85.2 84.2h1v1h-1zM82.8 69.4h1v1h-1zM80.3 63.2h1v1h-1zM82.8 66.3h1v1h-1zM81.3 64.9h1v1h-1zM81.4 74.9h1v1h-1zM85.1 82.6h1v1h-1zM82.3 66.1h1v1h-1zM83.7 82.0h1v1h-1zM83.7 84.9h1v1h-1zM83.4 78.0h1v1h-1zM86.1 84.7h1v1h-1zM83.4 73.8h1v1h-1zM83.1 67.8h1v1h-1zM85.9 84.8h1v1h-1zM84.4 83.8h1v1h-1zM83.7 74.8h1v1h-1zM80.1 74.7h1v1h-1zM79.2 69.2h1v1h-1zM81.7 78.1h1v1h-1zM83.6 78.2h1v1h-1zM82.4 65.3h1v1h-1zM79.4 65.3h1v1h-1zM83.1 77.4h1v1h-1zM81.1 74.7h1v1h-1zM84.7 87.6h1v1h-1zM80.2 63.5h1v1h-1zM83.2 72.9h1v1h-1zM83.9 79.8h1v1h-1zM82.8 67.7h1v1h-1zM81.9 64.1h1v1h-1zM80.7 64.2h1v1h-1zM80.3 75.5h1v1h-1zM84.8 83.6h1v1h-1zM82.3 64.6h1v1h-1zM83.9 86.1h1v1h-1zM82.5 74.4h1v1h-1zM80.2 75.5h1v1h-1zM80.6 75.1h1v1h-1zM82.0 63.6h1v1h-1zM83.2 77.8h1v1h-1zM84.5 82.4h1v1h-1zM80.3 74.9h1v1h-1zM83.7 76.4h1v1h-1zM85.9 85.1h1v1h-1zM83.8 75.2h1v1h-1zM81.3 76.1h1v1h-1zM81.9 74.9h1v1h-1zM79.6 72.4h1v1h-1zM84.6 85.9h1v1h-1zM80.4 63.6h1v1h-1zM83.0 78.1h1v1h-1zM83.4 79.8h1v1h-1zM82.0 77.4h1v1h-1zM80.9 74.6h1v1h-1zM79.3 71.0h1v1h-1zM82.6 73.8h1v1h-1zM83.7 71.6h1v1h-1zM85.6 88.1h1v1h-1zM80.6 76.7h1v1h-1zM84.4 85.7h1v1h-1zM80.8 62.9h1v1h-1zM81.9 64.0h1v1h-1zM80.6 65.2h1v1h-1zM85.8 85.9h1v1h-1zM82.2 74.4h1v1h-1zM80.3 64.7h1v1h-1zM82.4 79.0h1v1h-1zM85.1 83.1h1v1h-1zM84.1 85.7h1v1h-1zM82.7 68.6h1v1h-1zM82.7 75.7h1v1h-1zM83.6 73.4h1v1h-1zM80.6 76.1h1v1h-1zM84.6 87.7h1v1h-1zM80.4 76.0h1v1h-1zM84.7 84.7h1v1h-1zM82.9 77.4h1v1h-1zM85.1 85.5h1v1h-1zM85.3 81.6h1v1h-1zM80.1 64.3h1v1h-1zM81.9 78.3h1v1h-1zM82.7 79.5h1v1h-1zM83.3 76.7h1v1h-1zM82.5 77.5h1v1h-1zM83.2 75.8h1v1h-1zM82.1 64.4h1v1h-1zM80.4 74.6h1v1h-1zM81.2 75.1h1v1h-1zM80.5 74.5h1v1h-1zM84.5 82.7h1v1h-1zM82.1 76.9h1v1h-1zM80.4 75.2h1v1h-1zM82.4 66.2h1v1h-1zM81.5 76.0h1v1h-1zM83.0 73.1h1v1h-1zM83.0 78.3h1v1h-1zM85.0 83.2h1v1h-1zM84.8 81.7h1v1h-1zM85.3 86.9h1v1h-1zM79.6 74.2h1v1h-1zM82.8 72.1h1v1h-1zM79.4 66.4h1v1h-1zM82.8 76.1h1v1h-1zM80.7 76.0h1v1h-1zM85.9 82.5h1v1h-1zM82.3 74.4h1v1h-1zM82.5 64.2h1v1h-1zM81.8 77.2h1v1h-1zM83.5 70.0h1v1h-1zM82.9 73.4h1v1h-1zM82.2 77.3h1v1h-1zM81.2 76.1h1v1h-1zM83.1 77.0h1v1h-1zM81.8 63.2h1v1h-1zM83.3 69.4h1v1h-1zM82.8 66.9h1v1h-1zM82.3 74.5h1v1h-1zM79.7 70.8h1v1h-1zM82.5 76.9h1v1h-1zM82.7 68.7h1v1h-1zM83.0 70.8h1v1h-1zM84.1 85.3h1v1h-1zM84.1 79.9h1v1h-1zM82.9 78.5h1v1h-1zM83.4 70.4h1v1h-1zM84.3 84.4h1v1h-1zM85.0 80.8h1v1h-1zM80.2 63.8h1v1h-1zM83.6 81.0h1v1h-1zM80.7 64.3h1v1h-1zM85.4 81.4h1v1h-1zM82.7 78.5h1v1h-1zM82.7 76.2h1v1h-1zM81.7 76.2h1v1h-1zM83.1 79.9h1v1h-1zM83.4 78.1h1v1h-1zM82.5 78.3h1v1h-1zM83.4 76.4h1v1h-1zM85.5 86.1h1v1h-1zM83.3 72.2h1v1h-1zM79.4 66.4h1v1h-1zM83.1 75.9h1v1h-1zM82.7 67.1h1v1h-1zM84.4 79.1h1v1h-1zM84.4 79.4h1v1h-1zM86.3 85.0h1v1h-1zM82.4 65.0h1v1h-1zM83.8 77.8h1v1h-1zM81.7 75.3h1v1h-1zM79.6 71.5h1v1h-1zM83.8 76.0h1v1h-1zM84.6 87.3h1v1h-1zM84.3 84.0h1v1h-1zM82.7 78.3h1v1h-1zM84.6 79.8h1v1h-1zM84.8 81.9h1v1h-1zM82.4 75.7h1v1h-1zM80.1 74.8h1v1h-1zM80.9 75.0h1v1h-1zM82.8 65.4h1v1h-1zM82.8 78.8h1v1h-1zM82.6 76.4h1v1h-1zM83.7 77.1h1v1h-1zM81.5 77.3h1v1h-1zM81.4 65.0h1v1h-1zM83.7 71.6h1v1h-1zM79.7 71.8h1v1h-1zM80.7 76.7h1v1h-1zM85.1 82.3h1v1h-1zM81.7 75.3h1v1h-1zM86.0 85.2h1v1h-1zM82.9 79.4h1v1h-1zM85.6 83.6h1v1h-1zM83.4 71.5h1v1h-1zM80.6 74.9h1v1h-1zM83.7 74.1h1v1h-1zM83.4 74.1h1v1h-1zM81.0 75.2h1v1h-1zM82.1 74.5h1v1h-1zM82.8 73.6h1v1h-1zM85.1 82.8h1v1h-1zM83.8 76.5h1v1h-1zM81.7 65.2h1v1h-1zM83.7 75.7h1v1h-1zM79.4 68.2h1v1h-1zM79.6 72.8h1v1h-1zM83.1 70.2h1v1h-1zM82.7 73.6h1v1h-1zM81.3 75.4h1v1h-1zM83.0 65.9h1v1h-1zM84.2 81.1h1v1h-1zM85.2 84.0h1v1h-1zM83.8 78.8h1v1h-1zM84.6 84.6h1v1h-1zM81.2 75.8h1v1h-1z" fill="#c4bc34" fill-opacity="0.92"/>
<path d="M80.4 68.9h1v1h-1zM82.3 72.5h1v1h-1zM82.3 70.5h1v1h-1zM80.4 69.1h1v1h-1zM79.8 69.9h1v1h-1zM81.6 72.9h1v1h-1zM82.0 73.7h1v1h-1zM82.1 69.0h1v1h-1zM80.7 70.0h1v1h-1zM80.2 71.7h1v1h-1zM80.7 73.6h1v1h-1zM80.1 70.5h1v1h-1zM81.1 69.2h1v1h-1zM81.0 71.3h1v1h-1zM81.9 71.3h1v1h-1zM81.5 74.0h1v1h-1zM81.0 70.1h1v1h-1zM81.1 74.0h1v1h-1zM82.7 69.7h1v1h-1zM82.3 73.2h1v1h-1zM82.4 71.1h1v1h-1zM82.0 66.5h1v1h-1zM81.7 72.5h1v1h-1zM81.3 71.4h1v1h-1zM82.7 71.5h1v1h-1zM81.9 71.2h1v1h-1zM81.7 69.7h1v1h-1zM82.6 69.1h1v1h-1zM81.5 69.6h1v1h-1zM80.9 71.8h1v1h-1zM81.0 73.5h1v1h-1zM80.3 70.6h1v1h-1zM82.6 72.6h1v1h-1zM81.5 66.4h1v1h-1zM82.3 72.7h1v1h-1zM82.1 69.7h1v1h-1zM82.4 67.3h1v1h-1zM81.5 68.0h1v1h-1zM81.1 68.1h1v1h-1zM82.1 71.7h1v1h-1zM80.4 67.3h1v1h-1zM81.6 69.3h1v1h-1zM80.9 73.9h1v1h-1zM82.6 70.9h1v1h-1zM82.3 69.0h1v1h-1zM81.3 68.1h1v1h-1zM81.8 72.8h1v1h-1zM80.4 66.8h1v1h-1zM80.6 70.0h1v1h-1zM81.9 73.4h1v1h-1zM81.9 74.3h1v1h-1zM80.6 68.5h1v1h-1zM79.9 70.7h1v1h-1zM81.3 71.1h1v1h-1zM81.9 72.4h1v1h-1zM79.9 69.7h1v1h-1zM81.2 69.9h1v1h-1zM80.6 66.2h1v1h-1zM80.9 65.2h1v1h-1zM82.6 69.0h1v1h-1zM80.4 66.1h1v1h-1zM82.3 69.9h1v1h-1zM81.6 70.0h1v1h-1zM81.1 72.3h1v1h-1zM80.9 73.0h1v1h-1zM81.4 68.9h1v1h-1zM80.0 67.6h1v1h-1zM81.8 70.2h1v1h-1zM81.4 71.5h1v1h-1zM81.2 67.6h1v1h-1zM82.5 73.2h1v1h-1zM82.2 67.9h1v1h-1zM82.1 72.7h1v1h-1zM79.9 71.5h1v1h-1zM82.2 70.1h1v1h-1zM82.0 71.2h1v1h-1zM80.2 72.0h1v1h-1zM80.7 73.3h1v1h-1zM80.8 66.5h1v1h-1zM81.5 66.3h1v1h-1zM81.7 66.8h1v1h-1zM81.9 73.4h1v1h-1zM82.6 71.1h1v1h-1zM80.9 70.4h1v1h-1zM81.7 69.6h1v1h-1zM82.2 69.9h1v1h-1zM81.0 71.9h1v1h-1zM81.0 67.2h1v1h-1zM81.0 67.9h1v1h-1zM82.5 70.8h1v1h-1zM81.0 72.3h1v1h-1zM80.5 65.7h1v1h-1zM79.8 70.4h1v1h-1zM80.1 67.7h1v1h-1zM81.4 65.4h1v1h-1zM80.3 72.7h1v1h-1zM79.9 71.4h1v1h-1zM80.5 69.9h1v1h-1zM82.1 69.6h1v1h-1zM80.8 68.3h1v1h-1zM82.4 68.9h1v1h-1zM81.3 68.9h1v1h-1zM79.9 70.6h1v1h-1zM81.4 65.6h1v1h-1zM81.5 69.7h1v1h-1zM81.9 72.0h1v1h-1zM81.0 71.8h1v1h-1zM81.0 72.7h1v1h-1zM80.4 68.1h1v1h-1zM82.6 68.7h1v1h-1zM80.4 73.2h1v1h-1zM81.2 70.9h1v1h-1zM81.7 66.8h1v1h-1zM81.7 70.6h1v1h-1zM81.5 68.3h1v1h-1zM79.8 69.7h1v1h-1zM79.9 68.8h1v1h-1zM81.6 67.4h1v1h-1zM79.9 71.7h1v1h-1zM81.5 73.0h1v1h-1zM81.3 67.7h1v1h-1zM80.8 67.4h1v1h-1zM80.9 65.3h1v1h-1zM81.4 72.4h1v1h-1zM80.6 70.9h1v1h-1zM79.7 69.2h1v1h-1zM81.1 67.6h1v1h-1zM81.3 72.1h1v1h-1zM81.0 70.2h1v1h-1zM82.4 69.3h1v1h-1zM81.0 66.2h1v1h-1zM80.8 69.4h1v1h-1zM81.1 68.5h1v1h-1zM82.3 69.2h1v1h-1zM81.9 71.5h1v1h-1zM81.3 69.4h1v1h-1zM81.1 72.6h1v1h-1zM81.6 73.1h1v1h-1zM80.8 66.2h1v1h-1zM82.7 71.4h1v1h-1zM81.0 65.3h1v1h-1zM81.1 70.6h1v1h-1zM81.0 68.9h1v1h-1z" fill="#dc7c2a" fill-opacity="0.95"/>
</g>
<path d="M77.5 52.3H110.5V102.2H98L94 98.6H77.5Z" fill="none" stroke="#555" stroke-width="0.8"/>
<rect x="47" y="48" width="68.5" height="67.5" fill="none" stroke="#111" stroke-width="1.1"/>
<line x1="47" y1="48" x2="47" y2="116.1" stroke="#111" stroke-width="1.5"/>
<line x1="46.4" y1="115.7" x2="115.5" y2="115.7" stroke="#111" stroke-width="1.9"/>
<path d="M51.5 115.5v3.4M60.8 115.5v3.4M77 115.5v3.4M93.1 115.5v3.4M109.3 115.5v3.4M65.7 115.5v2.2M68.5 115.5v2.2M70.6 115.5v2.2M72.1 115.5v2.2M73.4 115.5v2.2M74.5 115.5v2.2M75.4 115.5v2.2M76.3 115.5v2.2M81.8 115.5v2.2M84.7 115.5v2.2M86.7 115.5v2.2M88.3 115.5v2.2M89.5 115.5v2.2M90.6 115.5v2.2M91.5 115.5v2.2M92.4 115.5v2.2M98 115.5v2.2M100.8 115.5v2.2M102.9 115.5v2.2M104.4 115.5v2.2M105.7 115.5v2.2M106.8 115.5v2.2M107.7 115.5v2.2M108.6 115.5v2.2M53.8 115.5v2.2M56.1 115.5v2.2M58.5 115.5v2.2" stroke="#111" stroke-width="1.0" fill="none"/>
<path d="M47 108.5h-3.4M47 101h-3.4M47 85.5h-3.4M47 70.3h-3.4M47 55.2h-3.4M47 96.3h-2.2M47 93.6h-2.2M47 91.7h-2.2M47 90.2h-2.2M47 88.9h-2.2M47 87.9h-2.2M47 87h-2.2M47 86.2h-2.2M47 80.9h-2.2M47 78.2h-2.2M47 76.3h-2.2M47 74.9h-2.2M47 73.7h-2.2M47 72.7h-2.2M47 71.8h-2.2M47 71h-2.2M47 65.8h-2.2M47 63.1h-2.2M47 61.2h-2.2M47 59.7h-2.2M47 58.5h-2.2M47 57.5h-2.2M47 56.7h-2.2M47 55.9h-2.2M47 106.6h-2.2M47 104.8h-2.2M47 102.9h-2.2" stroke="#111" stroke-width="1.0" fill="none"/>
<text x="51.5" y="126.6" font-size="5.2" fill="#222" text-anchor="middle" stroke="#222" stroke-width="0.14">0</text>
<text x="61.6" y="126.6" font-size="5.2" fill="#222" text-anchor="middle" stroke="#222" stroke-width="0.14">10<tspan dy="-2" font-size="2.9">2</tspan></text>
<text x="77.8" y="126.6" font-size="5.2" fill="#222" text-anchor="middle" stroke="#222" stroke-width="0.14">10<tspan dy="-2" font-size="2.9">3</tspan></text>
<text x="93.9" y="126.6" font-size="5.2" fill="#222" text-anchor="middle" stroke="#222" stroke-width="0.14">10<tspan dy="-2" font-size="2.9">4</tspan></text>
<text x="110.1" y="126.6" font-size="5.2" fill="#222" text-anchor="middle" stroke="#222" stroke-width="0.14">10<tspan dy="-2" font-size="2.9">5</tspan></text>
<text x="40.9" y="110.3" font-size="5.2" fill="#222" text-anchor="end" stroke="#222" stroke-width="0.14">0</text>
<text x="40.9" y="102.8" font-size="5.2" fill="#222" text-anchor="end" stroke="#222" stroke-width="0.14">10<tspan dy="-2" font-size="2.9">2</tspan></text>
<text x="40.9" y="87.3" font-size="5.2" fill="#222" text-anchor="end" stroke="#222" stroke-width="0.14">10<tspan dy="-2" font-size="2.9">3</tspan></text>
<text x="40.9" y="72.1" font-size="5.2" fill="#222" text-anchor="end" stroke="#222" stroke-width="0.14">10<tspan dy="-2" font-size="2.9">4</tspan></text>
<text x="40.9" y="57" font-size="5.2" fill="#222" text-anchor="end" stroke="#222" stroke-width="0.14">10<tspan dy="-2" font-size="2.9">5</tspan></text>
<text x="112.6" y="53.5" font-size="7.3" fill="#222" text-anchor="end" textLength="20.5" lengthAdjust="spacingAndGlyphs" stroke="#222" stroke-width="0.22">86.6%</text>
<g filter="url(#b4)">
<path d="M138.4 106.0h1v1h-1zM147.2 107.6h1v1h-1zM161.8 107.3h1v1h-1zM162.5 97.4h1v1h-1zM136.9 111.2h1v1h-1zM137.4 111.1h1v1h-1zM139.5 85.6h1v1h-1zM152.7 96.1h1v1h-1zM188.9 68.7h1v1h-1zM137.0 82.8h1v1h-1zM186.4 99.5h1v1h-1zM139.9 84.0h1v1h-1zM133.5 94.4h1v1h-1zM189.4 105.8h1v1h-1zM176.4 112.0h1v1h-1zM177.7 111.0h1v1h-1zM149.1 87.3h1v1h-1zM151.5 107.6h1v1h-1zM162.8 73.3h1v1h-1zM183.6 85.3h1v1h-1zM150.2 90.8h1v1h-1zM184.0 106.7h1v1h-1zM138.4 87.2h1v1h-1zM135.7 92.2h1v1h-1zM162.6 77.7h1v1h-1zM151.5 97.9h1v1h-1zM138.0 95.6h1v1h-1zM183.5 100.6h1v1h-1zM152.8 88.7h1v1h-1zM183.5 108.3h1v1h-1zM140.1 103.9h1v1h-1zM145.1 93.5h1v1h-1zM165.7 112.0h1v1h-1zM135.5 97.3h1v1h-1zM158.1 110.0h1v1h-1zM138.4 95.5h1v1h-1zM153.9 104.7h1v1h-1zM184.4 112.3h1v1h-1zM186.2 81.9h1v1h-1zM134.2 104.4h1v1h-1zM162.7 64.3h1v1h-1zM186.5 86.5h1v1h-1zM138.4 95.5h1v1h-1zM185.7 73.0h1v1h-1zM139.2 107.8h1v1h-1zM183.6 84.1h1v1h-1zM158.4 97.6h1v1h-1zM160.6 99.1h1v1h-1zM154.1 86.1h1v1h-1zM161.4 107.6h1v1h-1zM136.3 107.4h1v1h-1zM133.1 90.3h1v1h-1zM183.4 83.1h1v1h-1zM186.2 89.8h1v1h-1zM184.0 89.3h1v1h-1zM136.1 109.7h1v1h-1zM136.3 109.8h1v1h-1zM136.2 91.6h1v1h-1zM136.5 91.8h1v1h-1zM144.7 90.4h1v1h-1zM137.3 106.3h1v1h-1zM138.5 96.3h1v1h-1zM136.3 105.5h1v1h-1zM147.4 93.2h1v1h-1zM161.1 95.2h1v1h-1zM182.4 112.5h1v1h-1zM183.3 77.0h1v1h-1zM156.4 94.8h1v1h-1zM157.3 87.6h1v1h-1zM139.9 89.3h1v1h-1zM134.6 98.4h1v1h-1zM152.5 111.9h1v1h-1zM138.8 88.1h1v1h-1zM183.8 79.1h1v1h-1zM145.5 111.9h1v1h-1zM150.0 111.7h1v1h-1zM148.7 97.8h1v1h-1zM183.5 81.6h1v1h-1zM184.9 63.9h1v1h-1zM135.1 98.0h1v1h-1zM151.7 98.6h1v1h-1zM151.3 90.8h1v1h-1zM149.5 85.9h1v1h-1zM137.8 108.2h1v1h-1zM184.3 75.3h1v1h-1zM139.5 97.1h1v1h-1zM138.1 90.8h1v1h-1zM139.0 107.9h1v1h-1zM185.6 93.6h1v1h-1zM138.5 95.9h1v1h-1zM162.3 76.1h1v1h-1zM151.9 95.2h1v1h-1zM138.0 91.1h1v1h-1zM149.7 97.0h1v1h-1zM158.5 88.7h1v1h-1z" fill="#b4b4d6" fill-opacity="0.55"/>
<path d="M182.1 77.9h1v1h-1zM180.8 82.7h1v1h-1zM180.1 110.6h1v1h-1zM177.0 79.4h1v1h-1zM179.6 108.4h1v1h-1zM188.5 68.7h1v1h-1zM164.2 102.2h1v1h-1zM182.6 88.0h1v1h-1zM180.0 108.8h1v1h-1zM188.5 66.9h1v1h-1zM180.1 81.2h1v1h-1zM179.4 87.5h1v1h-1zM188.3 66.4h1v1h-1zM181.7 66.4h1v1h-1zM179.7 81.0h1v1h-1zM182.7 77.9h1v1h-1zM182.6 73.7h1v1h-1zM163.7 106.0h1v1h-1zM177.2 75.3h1v1h-1zM180.5 88.6h1v1h-1zM180.2 104.2h1v1h-1zM188.3 86.5h1v1h-1zM177.2 101.0h1v1h-1zM182.4 98.3h1v1h-1zM179.8 70.0h1v1h-1zM182.4 87.4h1v1h-1zM179.3 100.8h1v1h-1zM188.4 107.5h1v1h-1zM181.5 96.1h1v1h-1zM177.3 85.0h1v1h-1zM164.3 110.7h1v1h-1zM180.1 72.7h1v1h-1zM188.6 67.1h1v1h-1zM188.5 80.6h1v1h-1zM177.0 67.1h1v1h-1zM163.2 83.6h1v1h-1zM163.8 78.6h1v1h-1zM163.9 83.6h1v1h-1zM182.0 97.7h1v1h-1zM186.7 70.5h1v1h-1zM180.1 95.9h1v1h-1zM187.2 83.5h1v1h-1zM137.5 98.2h1v1h-1zM176.6 74.0h1v1h-1zM180.9 97.9h1v1h-1zM163.9 82.2h1v1h-1zM182.5 93.1h1v1h-1zM177.4 107.8h1v1h-1zM180.8 93.8h1v1h-1zM176.9 107.1h1v1h-1zM186.6 96.4h1v1h-1zM180.1 86.3h1v1h-1zM183.2 69.5h1v1h-1zM181.8 72.3h1v1h-1zM187.1 74.8h1v1h-1zM181.3 102.5h1v1h-1zM179.6 89.5h1v1h-1zM163.4 84.7h1v1h-1zM136.3 97.7h1v1h-1zM180.5 98.9h1v1h-1zM137.1 100.6h1v1h-1zM181.4 67.3h1v1h-1zM177.1 103.5h1v1h-1zM177.1 84.4h1v1h-1zM164.1 103.3h1v1h-1zM182.5 69.8h1v1h-1zM136.8 103.2h1v1h-1zM188.5 110.0h1v1h-1zM180.9 103.8h1v1h-1zM179.6 66.6h1v1h-1zM176.9 102.2h1v1h-1zM181.9 96.0h1v1h-1zM137.0 96.0h1v1h-1zM180.1 79.6h1v1h-1zM180.4 105.8h1v1h-1zM181.7 85.9h1v1h-1zM188.6 103.0h1v1h-1zM188.7 110.3h1v1h-1zM177.9 104.4h1v1h-1zM180.3 108.8h1v1h-1zM176.8 66.8h1v1h-1zM188.4 88.2h1v1h-1zM179.2 63.2h1v1h-1zM181.7 65.3h1v1h-1zM188.5 108.8h1v1h-1zM187.2 77.9h1v1h-1zM188.4 83.6h1v1h-1zM181.6 101.0h1v1h-1zM181.7 99.4h1v1h-1zM177.4 78.4h1v1h-1zM180.3 82.5h1v1h-1zM182.8 90.8h1v1h-1zM182.2 98.0h1v1h-1zM179.3 109.3h1v1h-1zM187.1 85.5h1v1h-1zM187.1 102.9h1v1h-1zM180.3 69.4h1v1h-1zM188.2 67.5h1v1h-1zM183.1 79.1h1v1h-1zM187.0 95.7h1v1h-1zM188.6 72.5h1v1h-1zM182.6 95.2h1v1h-1zM180.3 91.2h1v1h-1zM164.2 84.9h1v1h-1zM163.2 87.7h1v1h-1zM179.9 67.8h1v1h-1zM182.8 86.8h1v1h-1zM179.8 87.8h1v1h-1zM163.4 80.5h1v1h-1zM182.9 76.3h1v1h-1zM136.8 103.2h1v1h-1zM177.7 108.9h1v1h-1zM177.9 101.4h1v1h-1zM188.3 80.1h1v1h-1zM180.7 95.2h1v1h-1zM181.7 94.5h1v1h-1zM186.6 107.3h1v1h-1zM188.2 92.7h1v1h-1zM180.2 83.0h1v1h-1zM181.5 82.7h1v1h-1zM181.8 68.9h1v1h-1zM182.0 74.0h1v1h-1zM179.4 100.2h1v1h-1zM180.2 70.0h1v1h-1zM136.6 102.8h1v1h-1zM187.1 100.0h1v1h-1zM188.5 97.1h1v1h-1zM180.1 93.1h1v1h-1zM180.3 86.2h1v1h-1zM187.1 101.7h1v1h-1zM163.8 64.3h1v1h-1zM182.0 109.4h1v1h-1zM181.0 109.6h1v1h-1zM188.7 108.3h1v1h-1zM179.3 73.5h1v1h-1zM188.5 92.5h1v1h-1zM182.9 90.1h1v1h-1zM163.8 64.2h1v1h-1zM163.7 71.6h1v1h-1zM182.6 98.7h1v1h-1zM179.4 76.6h1v1h-1zM163.6 75.8h1v1h-1zM182.6 88.4h1v1h-1zM187.2 99.1h1v1h-1zM187.1 98.1h1v1h-1zM181.7 92.3h1v1h-1zM187.0 78.7h1v1h-1zM181.3 87.3h1v1h-1zM180.8 106.9h1v1h-1zM164.0 70.6h1v1h-1zM177.8 104.0h1v1h-1zM179.3 77.1h1v1h-1zM183.1 88.8h1v1h-1zM182.4 64.4h1v1h-1zM179.8 80.9h1v1h-1zM180.7 70.6h1v1h-1zM163.8 89.3h1v1h-1zM176.8 110.7h1v1h-1zM176.6 80.1h1v1h-1zM182.8 86.2h1v1h-1zM180.2 102.8h1v1h-1zM137.5 100.4h1v1h-1zM181.2 90.8h1v1h-1zM188.3 80.7h1v1h-1zM182.8 102.9h1v1h-1zM163.3 92.4h1v1h-1zM188.4 107.9h1v1h-1zM181.6 96.0h1v1h-1zM181.9 108.1h1v1h-1zM180.0 95.1h1v1h-1zM187.0 72.2h1v1h-1zM179.6 94.5h1v1h-1zM136.9 99.6h1v1h-1zM188.3 109.9h1v1h-1zM182.1 97.7h1v1h-1zM177.3 110.4h1v1h-1zM164.4 100.0h1v1h-1zM182.0 106.9h1v1h-1zM164.0 96.0h1v1h-1zM176.9 88.2h1v1h-1zM177.0 107.3h1v1h-1zM177.0 67.6h1v1h-1zM177.8 102.0h1v1h-1zM181.7 95.7h1v1h-1zM180.4 75.9h1v1h-1zM163.8 92.2h1v1h-1zM138.2 100.6h1v1h-1zM163.5 77.4h1v1h-1zM181.8 96.1h1v1h-1zM177.1 75.1h1v1h-1zM188.3 76.5h1v1h-1zM177.0 85.5h1v1h-1zM181.7 98.9h1v1h-1zM164.3 109.3h1v1h-1zM188.5 95.2h1v1h-1zM181.3 98.8h1v1h-1zM188.3 78.7h1v1h-1zM186.8 92.4h1v1h-1zM182.9 84.0h1v1h-1zM187.3 92.0h1v1h-1zM177.1 97.7h1v1h-1zM177.4 103.8h1v1h-1zM179.3 76.9h1v1h-1zM182.0 97.7h1v1h-1zM181.6 84.2h1v1h-1zM176.9 68.2h1v1h-1z" fill="#8e94bc" fill-opacity="0.65"/>
<path d="M143.0 71.8h1v1h-1zM139.4 77.5h1v1h-1zM142.0 78.5h1v1h-1zM134.4 68.6h1v1h-1zM133.3 61.8h1v1h-1zM136.1 89.2h1v1h-1zM133.4 80.0h1v1h-1zM139.6 95.7h1v1h-1zM137.9 74.1h1v1h-1zM138.2 68.0h1v1h-1zM144.1 83.1h1v1h-1zM142.3 77.9h1v1h-1zM135.3 79.3h1v1h-1zM134.4 76.6h1v1h-1zM137.5 86.6h1v1h-1zM138.4 79.2h1v1h-1zM133.6 73.9h1v1h-1zM140.1 83.7h1v1h-1zM136.4 70.4h1v1h-1zM135.1 77.2h1v1h-1zM138.0 81.3h1v1h-1zM133.4 71.8h1v1h-1zM135.0 69.5h1v1h-1zM137.7 79.2h1v1h-1zM139.7 75.5h1v1h-1zM134.9 76.7h1v1h-1zM142.5 83.0h1v1h-1zM133.5 94.9h1v1h-1zM137.0 87.8h1v1h-1zM136.3 79.9h1v1h-1zM140.5 64.2h1v1h-1zM138.3 75.4h1v1h-1zM136.2 90.1h1v1h-1zM140.6 86.9h1v1h-1zM135.0 74.0h1v1h-1zM134.5 85.1h1v1h-1zM136.1 85.5h1v1h-1zM140.0 81.9h1v1h-1zM137.7 79.1h1v1h-1zM135.4 72.9h1v1h-1zM140.4 61.4h1v1h-1zM136.4 88.1h1v1h-1zM141.5 82.0h1v1h-1zM134.6 81.2h1v1h-1zM133.8 76.8h1v1h-1zM136.0 83.1h1v1h-1zM137.7 72.9h1v1h-1zM138.6 75.5h1v1h-1zM136.0 85.2h1v1h-1zM137.0 71.8h1v1h-1zM140.7 87.0h1v1h-1zM138.0 69.8h1v1h-1zM134.3 78.3h1v1h-1zM133.2 78.7h1v1h-1zM136.4 61.9h1v1h-1zM140.4 66.3h1v1h-1zM138.6 71.3h1v1h-1zM136.1 74.1h1v1h-1zM137.4 65.0h1v1h-1zM137.1 73.4h1v1h-1zM134.4 77.9h1v1h-1zM136.2 78.0h1v1h-1zM139.7 83.8h1v1h-1zM133.2 69.4h1v1h-1zM144.6 106.2h1v1h-1zM136.7 66.0h1v1h-1zM139.4 72.4h1v1h-1zM143.9 74.1h1v1h-1zM138.1 77.7h1v1h-1zM137.8 79.2h1v1h-1zM134.9 82.5h1v1h-1zM135.1 89.8h1v1h-1zM133.5 80.3h1v1h-1zM133.8 89.4h1v1h-1zM137.7 52.0h1v1h-1zM136.9 83.9h1v1h-1zM141.4 98.7h1v1h-1zM135.3 69.7h1v1h-1zM136.0 79.9h1v1h-1zM139.1 83.3h1v1h-1zM140.0 74.2h1v1h-1zM134.7 83.5h1v1h-1zM137.2 77.4h1v1h-1zM136.0 73.3h1v1h-1zM137.9 71.0h1v1h-1zM133.3 76.4h1v1h-1zM136.1 72.7h1v1h-1zM135.9 77.8h1v1h-1zM138.1 92.3h1v1h-1zM133.9 99.9h1v1h-1zM133.4 83.8h1v1h-1zM135.6 59.8h1v1h-1zM133.1 69.9h1v1h-1zM137.8 80.1h1v1h-1zM136.3 77.6h1v1h-1zM140.4 66.0h1v1h-1zM140.9 83.1h1v1h-1zM143.3 75.5h1v1h-1zM141.0 88.3h1v1h-1zM142.9 83.9h1v1h-1zM136.9 85.8h1v1h-1zM136.4 79.2h1v1h-1zM135.5 80.3h1v1h-1zM139.8 70.1h1v1h-1zM139.6 61.0h1v1h-1zM142.7 92.3h1v1h-1zM136.5 77.8h1v1h-1zM140.0 81.9h1v1h-1zM138.7 80.8h1v1h-1zM139.0 66.5h1v1h-1zM138.7 106.0h1v1h-1zM132.7 80.8h1v1h-1zM139.9 78.4h1v1h-1zM135.6 72.4h1v1h-1zM138.1 66.7h1v1h-1zM132.9 85.9h1v1h-1zM133.5 81.6h1v1h-1zM133.1 91.0h1v1h-1zM137.0 82.4h1v1h-1zM136.8 82.7h1v1h-1zM137.1 56.8h1v1h-1zM136.4 93.3h1v1h-1zM136.5 70.6h1v1h-1zM133.7 71.9h1v1h-1zM140.5 86.5h1v1h-1zM135.2 72.4h1v1h-1zM137.4 69.1h1v1h-1zM137.6 70.7h1v1h-1zM136.7 86.7h1v1h-1zM137.3 76.8h1v1h-1zM141.7 77.9h1v1h-1zM139.0 85.1h1v1h-1zM135.1 69.8h1v1h-1zM140.5 95.7h1v1h-1zM134.1 74.7h1v1h-1zM143.5 100.0h1v1h-1zM139.0 73.3h1v1h-1zM137.2 90.1h1v1h-1zM136.8 75.0h1v1h-1zM135.6 79.3h1v1h-1zM136.9 81.5h1v1h-1zM139.5 77.9h1v1h-1zM133.0 67.9h1v1h-1zM142.6 83.7h1v1h-1zM141.6 70.7h1v1h-1zM136.9 85.0h1v1h-1zM136.5 78.7h1v1h-1zM138.6 82.0h1v1h-1zM136.7 70.3h1v1h-1zM134.1 62.0h1v1h-1zM136.4 75.6h1v1h-1zM139.0 96.9h1v1h-1zM136.8 59.2h1v1h-1zM140.7 107.7h1v1h-1zM138.0 76.0h1v1h-1zM135.8 84.0h1v1h-1zM136.2 67.6h1v1h-1zM137.1 81.6h1v1h-1zM137.0 81.4h1v1h-1zM138.8 78.6h1v1h-1zM135.6 81.6h1v1h-1zM137.1 75.7h1v1h-1zM133.1 66.0h1v1h-1zM140.4 62.7h1v1h-1zM137.6 83.1h1v1h-1zM133.8 94.4h1v1h-1zM133.3 78.8h1v1h-1zM142.0 63.8h1v1h-1zM139.1 74.9h1v1h-1zM138.8 74.8h1v1h-1zM135.8 77.2h1v1h-1zM136.2 71.1h1v1h-1zM135.3 64.9h1v1h-1zM137.5 78.7h1v1h-1zM143.8 88.8h1v1h-1zM145.1 97.3h1v1h-1zM133.6 92.9h1v1h-1zM142.0 73.2h1v1h-1zM135.5 86.5h1v1h-1zM138.2 73.0h1v1h-1zM134.0 88.8h1v1h-1zM137.7 77.7h1v1h-1zM142.8 90.3h1v1h-1zM138.0 86.2h1v1h-1zM136.1 98.4h1v1h-1zM135.9 67.4h1v1h-1zM134.2 72.2h1v1h-1zM138.4 72.4h1v1h-1zM136.7 81.0h1v1h-1zM140.2 89.0h1v1h-1zM137.6 95.0h1v1h-1zM135.7 74.6h1v1h-1zM136.0 82.0h1v1h-1zM136.4 78.8h1v1h-1zM138.9 78.6h1v1h-1zM139.9 71.9h1v1h-1zM133.6 68.0h1v1h-1zM135.5 93.4h1v1h-1zM139.6 72.1h1v1h-1zM136.5 68.0h1v1h-1zM137.6 70.5h1v1h-1zM134.8 76.3h1v1h-1zM137.3 69.1h1v1h-1zM136.9 63.3h1v1h-1zM143.4 75.6h1v1h-1zM134.4 104.1h1v1h-1zM133.4 77.1h1v1h-1zM141.9 70.5h1v1h-1zM136.2 73.3h1v1h-1zM137.1 71.4h1v1h-1zM140.2 68.3h1v1h-1zM136.7 81.0h1v1h-1zM137.6 82.5h1v1h-1zM137.5 63.0h1v1h-1zM136.6 101.6h1v1h-1zM136.6 72.6h1v1h-1zM137.6 89.0h1v1h-1zM136.5 81.3h1v1h-1zM135.7 77.6h1v1h-1zM136.2 73.6h1v1h-1zM134.3 90.4h1v1h-1zM134.1 78.7h1v1h-1zM140.2 90.5h1v1h-1zM138.6 71.9h1v1h-1zM139.4 70.7h1v1h-1zM143.5 89.7h1v1h-1zM135.6 71.5h1v1h-1zM135.8 100.5h1v1h-1zM137.8 82.7h1v1h-1zM141.4 63.6h1v1h-1zM148.2 68.0h1v1h-1zM142.1 76.9h1v1h-1zM140.2 57.7h1v1h-1zM137.7 82.4h1v1h-1zM137.0 85.7h1v1h-1zM139.2 81.2h1v1h-1zM136.9 73.8h1v1h-1zM137.5 85.5h1v1h-1zM137.7 82.0h1v1h-1zM142.4 69.5h1v1h-1zM134.3 76.2h1v1h-1zM139.0 72.1h1v1h-1zM137.7 77.3h1v1h-1zM143.3 81.4h1v1h-1zM133.3 71.8h1v1h-1zM135.8 79.1h1v1h-1zM133.3 68.3h1v1h-1zM138.6 75.4h1v1h-1z" fill="#34427a" fill-opacity="0.7"/>
<path d="M167.6 85.8h1v1h-1zM169.6 71.0h1v1h-1zM173.1 97.7h1v1h-1zM169.2 70.5h1v1h-1zM178.2 85.3h1v1h-1zM177.9 97.0h1v1h-1zM170.6 72.2h1v1h-1zM168.2 72.5h1v1h-1zM173.2 98.8h1v1h-1zM166.7 102.2h1v1h-1zM174.2 85.4h1v1h-1zM171.1 86.9h1v1h-1zM172.5 88.8h1v1h-1zM171.4 91.8h1v1h-1zM173.7 73.6h1v1h-1zM171.9 79.0h1v1h-1zM169.0 90.3h1v1h-1zM171.1 94.4h1v1h-1zM174.4 63.3h1v1h-1zM178.4 62.1h1v1h-1zM174.6 77.9h1v1h-1zM166.9 69.8h1v1h-1zM170.4 102.8h1v1h-1zM167.9 86.3h1v1h-1zM175.5 74.0h1v1h-1zM169.8 99.4h1v1h-1zM171.5 75.1h1v1h-1zM178.0 92.8h1v1h-1zM176.3 109.7h1v1h-1zM171.8 106.0h1v1h-1zM168.2 95.9h1v1h-1zM170.1 100.7h1v1h-1zM188.0 102.9h1v1h-1zM167.0 107.7h1v1h-1zM174.6 64.3h1v1h-1zM169.9 80.6h1v1h-1zM167.5 80.5h1v1h-1zM178.9 98.6h1v1h-1zM169.3 68.2h1v1h-1zM168.5 66.7h1v1h-1zM178.8 96.4h1v1h-1zM171.0 75.8h1v1h-1zM164.8 88.5h1v1h-1zM164.2 93.2h1v1h-1zM173.2 92.5h1v1h-1zM168.5 74.2h1v1h-1zM171.7 94.7h1v1h-1zM166.0 80.3h1v1h-1zM168.6 69.5h1v1h-1zM175.1 85.6h1v1h-1zM166.5 87.4h1v1h-1zM167.2 82.5h1v1h-1zM171.9 81.1h1v1h-1zM171.4 94.4h1v1h-1zM164.8 75.4h1v1h-1zM164.4 105.2h1v1h-1zM174.8 63.1h1v1h-1zM178.4 83.8h1v1h-1zM164.9 89.3h1v1h-1zM168.9 106.7h1v1h-1zM172.5 75.8h1v1h-1zM177.9 64.2h1v1h-1zM173.9 67.3h1v1h-1zM168.7 108.9h1v1h-1zM164.7 63.6h1v1h-1zM167.4 93.0h1v1h-1zM168.9 84.9h1v1h-1zM178.4 94.0h1v1h-1zM179.1 62.2h1v1h-1zM172.4 95.1h1v1h-1zM176.2 78.6h1v1h-1zM173.6 74.0h1v1h-1zM176.2 66.5h1v1h-1zM175.8 100.8h1v1h-1zM170.0 89.4h1v1h-1zM172.2 64.7h1v1h-1zM178.8 94.0h1v1h-1zM170.9 74.6h1v1h-1zM176.1 93.0h1v1h-1zM166.0 78.6h1v1h-1zM167.5 110.2h1v1h-1zM171.3 107.4h1v1h-1zM170.3 77.0h1v1h-1zM169.2 106.8h1v1h-1zM178.5 75.8h1v1h-1zM167.7 82.6h1v1h-1zM165.2 94.6h1v1h-1zM171.1 74.3h1v1h-1zM168.7 105.4h1v1h-1zM170.5 108.7h1v1h-1zM174.7 70.3h1v1h-1zM168.0 83.0h1v1h-1zM179.2 91.9h1v1h-1zM175.6 90.3h1v1h-1zM166.6 64.8h1v1h-1zM175.9 93.3h1v1h-1zM164.5 105.0h1v1h-1zM169.3 89.3h1v1h-1zM176.3 64.3h1v1h-1zM169.0 67.7h1v1h-1zM187.7 95.7h1v1h-1zM174.1 89.8h1v1h-1zM170.1 77.6h1v1h-1zM170.9 70.0h1v1h-1zM175.4 90.8h1v1h-1zM170.7 70.9h1v1h-1zM166.9 68.6h1v1h-1zM168.5 87.0h1v1h-1zM166.8 72.9h1v1h-1zM177.8 93.3h1v1h-1zM170.0 91.5h1v1h-1zM174.7 77.1h1v1h-1zM171.4 64.2h1v1h-1zM165.3 89.5h1v1h-1zM167.5 87.8h1v1h-1zM171.4 75.6h1v1h-1zM172.7 66.8h1v1h-1zM169.9 80.1h1v1h-1zM171.3 95.6h1v1h-1zM172.5 72.9h1v1h-1zM165.3 70.4h1v1h-1zM174.3 64.7h1v1h-1zM172.2 89.2h1v1h-1zM171.7 109.6h1v1h-1zM167.5 85.1h1v1h-1zM174.3 97.9h1v1h-1zM171.7 72.4h1v1h-1zM171.2 90.0h1v1h-1zM172.9 91.1h1v1h-1zM170.1 103.3h1v1h-1zM175.3 90.8h1v1h-1zM168.0 70.0h1v1h-1zM172.8 106.9h1v1h-1zM165.2 69.1h1v1h-1zM166.4 75.2h1v1h-1zM173.4 93.3h1v1h-1zM164.7 109.4h1v1h-1zM173.5 107.7h1v1h-1zM188.1 83.3h1v1h-1zM178.0 101.8h1v1h-1zM169.2 64.6h1v1h-1zM176.2 82.0h1v1h-1zM172.7 63.3h1v1h-1zM168.0 74.0h1v1h-1zM172.3 73.6h1v1h-1zM169.9 99.6h1v1h-1zM175.9 63.2h1v1h-1zM172.2 73.3h1v1h-1zM166.7 66.1h1v1h-1zM167.0 68.4h1v1h-1zM169.0 97.6h1v1h-1zM169.1 68.4h1v1h-1zM175.4 99.5h1v1h-1zM170.8 108.9h1v1h-1zM173.9 106.4h1v1h-1zM172.4 89.7h1v1h-1zM168.3 95.6h1v1h-1zM175.0 110.4h1v1h-1zM172.6 72.2h1v1h-1zM174.5 77.5h1v1h-1zM165.5 103.3h1v1h-1zM165.7 91.7h1v1h-1zM171.3 110.2h1v1h-1zM170.7 87.2h1v1h-1zM171.3 63.9h1v1h-1zM165.3 71.5h1v1h-1zM172.6 75.8h1v1h-1zM171.7 103.1h1v1h-1zM176.0 65.4h1v1h-1zM174.0 83.1h1v1h-1zM170.6 91.8h1v1h-1zM169.3 96.5h1v1h-1zM168.0 76.7h1v1h-1zM173.7 107.6h1v1h-1zM167.2 98.0h1v1h-1zM187.9 96.7h1v1h-1zM166.8 75.1h1v1h-1zM174.7 81.5h1v1h-1zM178.7 97.7h1v1h-1zM168.5 89.1h1v1h-1zM164.8 83.2h1v1h-1zM168.0 82.1h1v1h-1zM165.8 78.4h1v1h-1zM171.4 100.9h1v1h-1zM167.6 66.5h1v1h-1zM166.3 68.1h1v1h-1zM174.5 73.3h1v1h-1zM166.3 92.1h1v1h-1zM173.8 72.2h1v1h-1zM172.2 91.1h1v1h-1zM171.0 99.9h1v1h-1zM167.9 76.9h1v1h-1zM187.5 87.2h1v1h-1zM174.9 68.1h1v1h-1zM170.1 107.1h1v1h-1zM171.6 105.9h1v1h-1zM168.0 90.6h1v1h-1zM165.0 109.3h1v1h-1zM167.3 103.8h1v1h-1zM169.5 72.8h1v1h-1zM171.4 73.3h1v1h-1zM176.1 96.8h1v1h-1zM166.3 91.4h1v1h-1zM172.4 76.0h1v1h-1zM168.2 105.2h1v1h-1zM169.4 109.1h1v1h-1zM167.1 86.0h1v1h-1zM170.0 70.2h1v1h-1zM167.6 67.1h1v1h-1zM187.4 102.7h1v1h-1zM175.7 90.3h1v1h-1zM171.4 97.7h1v1h-1zM174.9 109.9h1v1h-1zM173.0 87.1h1v1h-1zM171.6 78.9h1v1h-1zM187.5 77.3h1v1h-1zM188.0 89.3h1v1h-1zM174.0 82.4h1v1h-1zM166.3 77.8h1v1h-1zM172.0 90.1h1v1h-1zM171.1 100.3h1v1h-1zM166.2 85.2h1v1h-1zM168.1 79.1h1v1h-1zM174.6 91.6h1v1h-1zM178.4 86.6h1v1h-1zM165.3 76.0h1v1h-1zM171.7 109.6h1v1h-1zM174.6 87.3h1v1h-1zM175.4 93.8h1v1h-1zM166.9 73.1h1v1h-1zM167.2 91.3h1v1h-1zM171.3 107.3h1v1h-1zM178.3 100.8h1v1h-1zM172.2 64.3h1v1h-1zM178.0 74.1h1v1h-1zM166.1 96.6h1v1h-1zM173.8 89.0h1v1h-1zM178.4 93.0h1v1h-1zM168.8 108.5h1v1h-1zM169.3 64.3h1v1h-1zM187.7 68.4h1v1h-1zM173.0 102.3h1v1h-1zM168.6 79.2h1v1h-1zM172.4 77.9h1v1h-1zM164.1 92.0h1v1h-1zM170.4 106.3h1v1h-1zM171.1 82.4h1v1h-1zM176.3 66.1h1v1h-1zM168.5 94.6h1v1h-1zM174.0 73.0h1v1h-1zM172.2 64.5h1v1h-1zM165.0 73.7h1v1h-1zM168.3 79.4h1v1h-1zM174.9 99.3h1v1h-1zM176.1 68.4h1v1h-1zM178.6 79.8h1v1h-1zM173.3 75.6h1v1h-1zM167.6 80.2h1v1h-1zM172.2 83.1h1v1h-1zM187.6 110.4h1v1h-1zM175.0 71.8h1v1h-1zM164.9 100.8h1v1h-1zM179.0 79.1h1v1h-1zM174.1 88.3h1v1h-1zM165.0 83.4h1v1h-1zM174.2 78.1h1v1h-1zM167.9 86.4h1v1h-1zM173.4 71.6h1v1h-1zM168.8 68.6h1v1h-1zM170.5 86.2h1v1h-1zM171.0 84.8h1v1h-1zM173.4 96.1h1v1h-1zM175.2 73.3h1v1h-1zM170.5 100.6h1v1h-1zM176.3 105.9h1v1h-1zM168.0 90.0h1v1h-1zM166.0 78.1h1v1h-1zM167.5 84.0h1v1h-1zM165.9 89.5h1v1h-1zM175.4 73.0h1v1h-1zM175.0 63.0h1v1h-1zM173.9 78.7h1v1h-1zM169.9 90.2h1v1h-1zM166.2 85.1h1v1h-1zM171.9 108.6h1v1h-1zM168.1 107.7h1v1h-1zM169.4 65.6h1v1h-1zM175.1 62.4h1v1h-1zM168.0 66.2h1v1h-1zM169.7 85.6h1v1h-1zM168.7 81.6h1v1h-1zM165.1 76.2h1v1h-1zM177.7 97.7h1v1h-1zM171.1 104.0h1v1h-1zM170.9 63.4h1v1h-1zM170.9 69.7h1v1h-1zM169.1 92.3h1v1h-1zM167.3 95.9h1v1h-1zM188.1 83.3h1v1h-1zM164.3 86.8h1v1h-1zM173.9 94.4h1v1h-1zM170.9 68.6h1v1h-1zM169.3 93.3h1v1h-1zM169.3 77.7h1v1h-1zM167.3 75.5h1v1h-1zM172.2 109.2h1v1h-1zM177.9 94.0h1v1h-1zM171.9 95.5h1v1h-1zM175.1 109.0h1v1h-1zM169.0 93.2h1v1h-1zM169.6 74.9h1v1h-1zM187.6 107.8h1v1h-1zM169.5 86.2h1v1h-1zM166.7 83.4h1v1h-1zM166.2 94.4h1v1h-1zM175.1 75.9h1v1h-1zM169.0 77.7h1v1h-1zM166.9 78.5h1v1h-1zM175.7 79.2h1v1h-1zM172.6 79.9h1v1h-1zM178.1 108.2h1v1h-1zM174.7 77.3h1v1h-1zM171.0 94.0h1v1h-1zM171.3 74.2h1v1h-1zM172.7 66.9h1v1h-1zM169.5 71.4h1v1h-1zM170.6 81.1h1v1h-1zM167.8 99.9h1v1h-1zM172.1 103.8h1v1h-1zM170.8 90.9h1v1h-1zM171.2 79.8h1v1h-1zM171.2 91.0h1v1h-1zM178.6 81.5h1v1h-1zM167.4 85.9h1v1h-1zM176.0 100.8h1v1h-1zM176.3 86.8h1v1h-1zM174.9 72.8h1v1h-1zM187.7 110.9h1v1h-1zM175.6 99.6h1v1h-1zM177.8 67.0h1v1h-1zM166.5 65.1h1v1h-1zM169.2 87.0h1v1h-1zM171.4 77.2h1v1h-1zM165.7 75.8h1v1h-1zM166.3 86.3h1v1h-1zM170.3 95.3h1v1h-1zM172.7 73.5h1v1h-1zM173.0 79.8h1v1h-1zM169.6 97.9h1v1h-1zM174.4 96.5h1v1h-1zM169.8 100.9h1v1h-1zM176.4 93.4h1v1h-1zM164.7 72.0h1v1h-1zM164.4 79.5h1v1h-1zM167.0 106.4h1v1h-1zM164.7 102.5h1v1h-1zM175.2 68.2h1v1h-1zM169.4 65.6h1v1h-1zM169.1 104.4h1v1h-1zM170.6 77.1h1v1h-1zM172.9 63.7h1v1h-1zM170.5 72.8h1v1h-1zM174.5 91.9h1v1h-1zM174.5 74.9h1v1h-1zM175.4 74.1h1v1h-1zM169.3 70.6h1v1h-1zM169.3 70.0h1v1h-1zM174.6 87.2h1v1h-1zM166.4 97.1h1v1h-1zM171.9 93.5h1v1h-1zM167.7 88.2h1v1h-1zM171.6 76.4h1v1h-1zM171.2 87.6h1v1h-1zM187.5 71.7h1v1h-1zM171.5 107.8h1v1h-1zM171.3 92.2h1v1h-1zM177.6 66.3h1v1h-1zM167.3 104.7h1v1h-1zM171.8 98.2h1v1h-1zM176.0 82.4h1v1h-1zM170.1 73.1h1v1h-1zM167.8 85.4h1v1h-1zM167.9 103.9h1v1h-1zM174.3 103.7h1v1h-1zM187.7 81.8h1v1h-1zM175.6 68.3h1v1h-1zM165.4 104.5h1v1h-1zM170.3 79.3h1v1h-1zM174.8 109.6h1v1h-1zM172.8 93.3h1v1h-1zM173.6 101.9h1v1h-1zM171.7 99.5h1v1h-1zM175.4 76.5h1v1h-1zM171.8 71.0h1v1h-1zM165.8 89.5h1v1h-1zM173.9 89.9h1v1h-1zM171.0 110.2h1v1h-1zM175.0 97.5h1v1h-1zM165.1 64.3h1v1h-1zM168.4 81.3h1v1h-1zM175.8 105.1h1v1h-1zM165.0 95.0h1v1h-1zM172.3 66.4h1v1h-1zM165.5 100.1h1v1h-1zM173.7 77.6h1v1h-1zM167.9 69.5h1v1h-1zM169.4 108.7h1v1h-1zM167.2 97.3h1v1h-1zM167.3 87.8h1v1h-1zM169.1 65.7h1v1h-1zM168.1 67.9h1v1h-1zM171.4 101.0h1v1h-1zM174.2 88.3h1v1h-1zM167.1 66.3h1v1h-1zM172.3 73.6h1v1h-1zM168.2 107.7h1v1h-1zM168.8 93.9h1v1h-1zM170.3 87.0h1v1h-1zM178.2 96.1h1v1h-1zM173.9 65.9h1v1h-1zM166.6 82.5h1v1h-1zM178.5 78.3h1v1h-1zM168.4 87.6h1v1h-1zM170.7 68.7h1v1h-1zM168.6 94.7h1v1h-1zM169.9 84.5h1v1h-1zM166.5 94.0h1v1h-1zM170.7 75.7h1v1h-1zM172.4 99.6h1v1h-1zM168.0 81.9h1v1h-1zM164.3 95.5h1v1h-1zM173.5 68.5h1v1h-1zM167.2 94.0h1v1h-1zM173.4 64.5h1v1h-1zM187.5 76.5h1v1h-1zM171.5 101.3h1v1h-1zM166.7 80.9h1v1h-1zM178.4 70.1h1v1h-1zM176.4 84.1h1v1h-1zM167.1 93.9h1v1h-1zM175.8 68.4h1v1h-1zM169.8 70.4h1v1h-1zM173.3 80.1h1v1h-1zM175.0 73.4h1v1h-1zM164.7 86.1h1v1h-1zM178.9 70.0h1v1h-1zM173.1 93.6h1v1h-1zM170.9 77.3h1v1h-1zM166.8 83.0h1v1h-1zM164.8 90.4h1v1h-1zM167.3 101.5h1v1h-1zM179.3 86.4h1v1h-1zM167.9 97.5h1v1h-1zM168.9 100.6h1v1h-1zM172.5 78.3h1v1h-1zM167.0 99.4h1v1h-1zM167.6 62.3h1v1h-1zM178.7 104.4h1v1h-1zM168.7 95.6h1v1h-1zM178.2 72.6h1v1h-1zM187.5 83.5h1v1h-1zM167.7 96.8h1v1h-1zM170.5 104.1h1v1h-1zM168.9 108.8h1v1h-1zM173.6 71.1h1v1h-1zM170.9 86.7h1v1h-1zM164.6 70.7h1v1h-1zM172.8 81.6h1v1h-1zM187.6 76.4h1v1h-1zM175.7 73.9h1v1h-1zM168.3 107.6h1v1h-1zM170.6 66.9h1v1h-1zM178.4 62.5h1v1h-1zM169.7 86.0h1v1h-1zM165.0 78.4h1v1h-1zM170.6 77.6h1v1h-1zM170.6 88.6h1v1h-1zM167.4 80.0h1v1h-1zM177.9 75.9h1v1h-1zM177.7 80.4h1v1h-1zM188.1 96.3h1v1h-1zM167.6 89.7h1v1h-1zM176.3 95.3h1v1h-1zM171.2 79.6h1v1h-1zM176.5 74.4h1v1h-1zM167.5 73.3h1v1h-1zM164.6 95.8h1v1h-1zM164.6 87.6h1v1h-1zM173.8 78.1h1v1h-1zM175.2 68.8h1v1h-1zM166.9 96.3h1v1h-1zM172.3 97.0h1v1h-1zM171.1 75.8h1v1h-1zM178.1 84.0h1v1h-1zM172.3 66.1h1v1h-1zM165.5 65.5h1v1h-1zM175.6 93.7h1v1h-1zM187.6 99.6h1v1h-1zM167.2 71.7h1v1h-1zM169.4 65.1h1v1h-1zM166.6 69.9h1v1h-1zM172.4 103.0h1v1h-1zM169.2 75.3h1v1h-1zM173.2 71.4h1v1h-1zM172.6 99.8h1v1h-1zM171.3 99.9h1v1h-1zM187.4 107.4h1v1h-1zM168.8 62.5h1v1h-1zM173.7 70.2h1v1h-1zM175.8 86.4h1v1h-1zM171.7 95.6h1v1h-1zM167.9 63.2h1v1h-1zM187.3 90.9h1v1h-1zM174.6 102.2h1v1h-1zM173.6 98.2h1v1h-1zM174.5 107.7h1v1h-1zM170.2 71.4h1v1h-1zM165.6 74.1h1v1h-1zM174.8 102.5h1v1h-1zM170.6 86.4h1v1h-1zM171.2 63.9h1v1h-1zM187.8 84.0h1v1h-1zM178.3 72.7h1v1h-1zM178.3 95.3h1v1h-1zM166.4 71.0h1v1h-1zM172.0 100.2h1v1h-1zM166.5 72.7h1v1h-1zM173.2 75.1h1v1h-1zM173.6 67.5h1v1h-1zM174.4 80.4h1v1h-1zM175.3 82.8h1v1h-1zM169.8 103.3h1v1h-1zM173.4 100.5h1v1h-1zM167.5 83.3h1v1h-1zM178.9 77.1h1v1h-1zM174.0 85.5h1v1h-1zM171.4 107.7h1v1h-1zM171.7 106.8h1v1h-1zM175.6 80.3h1v1h-1zM168.5 67.1h1v1h-1zM178.5 103.0h1v1h-1zM171.6 90.9h1v1h-1zM175.3 110.7h1v1h-1zM169.4 96.0h1v1h-1zM168.5 75.5h1v1h-1zM168.9 75.5h1v1h-1zM170.2 74.5h1v1h-1zM170.0 74.9h1v1h-1zM168.2 110.0h1v1h-1zM166.1 73.0h1v1h-1zM175.1 72.7h1v1h-1zM176.3 94.1h1v1h-1zM165.7 76.7h1v1h-1zM171.1 105.2h1v1h-1zM177.9 96.9h1v1h-1zM172.1 66.0h1v1h-1zM173.1 103.0h1v1h-1zM178.5 82.2h1v1h-1zM175.1 109.0h1v1h-1zM175.9 88.9h1v1h-1zM172.7 93.6h1v1h-1zM164.6 99.1h1v1h-1zM168.2 81.8h1v1h-1zM178.6 73.8h1v1h-1zM179.1 67.3h1v1h-1zM165.6 82.7h1v1h-1zM172.2 90.5h1v1h-1zM172.9 109.5h1v1h-1zM172.0 77.9h1v1h-1zM178.2 107.5h1v1h-1zM168.9 70.5h1v1h-1zM173.6 83.0h1v1h-1zM178.5 105.5h1v1h-1zM175.3 78.0h1v1h-1zM188.1 92.4h1v1h-1zM169.5 80.3h1v1h-1zM166.0 88.4h1v1h-1zM165.1 84.0h1v1h-1zM169.8 62.1h1v1h-1zM171.9 110.5h1v1h-1zM176.6 87.0h1v1h-1zM167.9 80.8h1v1h-1zM175.4 77.9h1v1h-1zM172.6 84.7h1v1h-1zM170.1 88.9h1v1h-1zM167.5 88.4h1v1h-1zM174.5 95.2h1v1h-1zM166.4 110.9h1v1h-1zM164.3 97.6h1v1h-1zM177.7 66.2h1v1h-1zM175.0 76.6h1v1h-1zM166.2 74.4h1v1h-1zM176.2 76.8h1v1h-1zM166.5 88.2h1v1h-1zM167.2 97.9h1v1h-1zM164.2 86.2h1v1h-1zM174.0 72.9h1v1h-1zM167.8 74.1h1v1h-1zM169.9 104.5h1v1h-1zM167.4 91.9h1v1h-1zM172.5 93.3h1v1h-1zM174.4 69.0h1v1h-1zM173.4 66.5h1v1h-1zM168.6 88.5h1v1h-1zM171.3 93.2h1v1h-1zM166.6 68.6h1v1h-1zM174.9 103.3h1v1h-1zM166.9 72.4h1v1h-1zM178.6 83.6h1v1h-1zM174.1 96.9h1v1h-1zM170.5 66.5h1v1h-1zM176.3 81.6h1v1h-1zM178.3 96.1h1v1h-1zM171.9 65.5h1v1h-1zM166.4 83.3h1v1h-1zM174.6 67.3h1v1h-1zM173.2 87.9h1v1h-1zM166.5 69.1h1v1h-1zM187.8 81.8h1v1h-1zM169.6 80.0h1v1h-1zM174.3 79.6h1v1h-1zM169.4 96.6h1v1h-1zM171.5 109.7h1v1h-1zM166.5 110.3h1v1h-1zM169.7 97.8h1v1h-1zM175.0 64.8h1v1h-1zM165.2 108.9h1v1h-1zM175.3 78.7h1v1h-1zM177.7 62.1h1v1h-1zM176.3 78.2h1v1h-1zM167.5 100.5h1v1h-1zM174.7 82.1h1v1h-1zM174.0 65.4h1v1h-1zM175.8 101.4h1v1h-1zM170.9 95.7h1v1h-1zM166.1 83.8h1v1h-1zM175.2 67.0h1v1h-1zM167.8 100.8h1v1h-1zM171.3 75.4h1v1h-1zM173.6 74.8h1v1h-1zM175.8 87.3h1v1h-1zM188.0 110.1h1v1h-1zM170.7 107.7h1v1h-1zM172.2 95.1h1v1h-1zM175.7 67.5h1v1h-1zM166.9 83.8h1v1h-1zM172.4 105.9h1v1h-1zM170.2 64.6h1v1h-1zM187.5 108.3h1v1h-1zM171.0 84.4h1v1h-1zM166.3 96.6h1v1h-1zM176.7 88.0h1v1h-1zM172.3 66.3h1v1h-1zM164.8 99.9h1v1h-1zM178.6 82.0h1v1h-1zM170.9 63.1h1v1h-1zM175.7 99.6h1v1h-1zM166.2 107.9h1v1h-1zM171.9 110.8h1v1h-1zM170.7 69.2h1v1h-1zM170.8 72.8h1v1h-1zM175.0 104.0h1v1h-1zM165.0 109.8h1v1h-1zM187.4 77.7h1v1h-1zM187.5 66.2h1v1h-1zM173.3 93.6h1v1h-1zM168.1 82.1h1v1h-1zM172.8 70.7h1v1h-1zM168.9 89.5h1v1h-1zM171.0 93.5h1v1h-1zM174.3 90.8h1v1h-1zM165.1 87.4h1v1h-1zM169.0 80.4h1v1h-1zM174.0 79.0h1v1h-1zM174.6 92.6h1v1h-1zM178.1 79.4h1v1h-1zM178.1 96.9h1v1h-1zM178.4 84.7h1v1h-1zM174.8 79.9h1v1h-1zM173.1 72.8h1v1h-1zM174.4 106.4h1v1h-1zM170.4 102.5h1v1h-1zM166.8 101.2h1v1h-1zM172.2 99.8h1v1h-1zM187.3 80.7h1v1h-1zM175.5 90.1h1v1h-1zM165.2 84.4h1v1h-1zM174.6 90.2h1v1h-1zM174.4 68.9h1v1h-1zM167.6 106.5h1v1h-1zM172.4 90.0h1v1h-1zM168.5 86.1h1v1h-1zM171.0 71.2h1v1h-1zM170.7 70.9h1v1h-1zM173.2 71.1h1v1h-1zM176.5 75.6h1v1h-1zM166.0 87.4h1v1h-1zM176.2 95.3h1v1h-1zM167.8 74.7h1v1h-1zM167.5 100.9h1v1h-1zM164.2 86.1h1v1h-1zM166.3 100.6h1v1h-1zM166.4 110.7h1v1h-1zM164.7 74.5h1v1h-1zM175.9 62.6h1v1h-1zM166.5 97.1h1v1h-1zM170.4 74.3h1v1h-1zM170.6 95.0h1v1h-1zM165.2 82.8h1v1h-1zM187.4 74.3h1v1h-1zM175.2 92.0h1v1h-1zM171.6 96.8h1v1h-1zM172.1 95.3h1v1h-1zM173.2 69.0h1v1h-1zM169.1 77.2h1v1h-1zM167.8 99.7h1v1h-1zM187.9 100.7h1v1h-1zM171.9 75.6h1v1h-1zM174.5 64.4h1v1h-1zM174.4 106.0h1v1h-1zM171.1 89.4h1v1h-1zM168.4 80.7h1v1h-1zM172.9 74.6h1v1h-1zM170.8 107.8h1v1h-1zM168.0 99.8h1v1h-1zM169.8 95.4h1v1h-1zM170.4 97.5h1v1h-1zM166.7 63.0h1v1h-1zM166.0 96.4h1v1h-1zM165.6 69.9h1v1h-1zM188.0 107.4h1v1h-1zM178.1 72.0h1v1h-1zM166.8 66.0h1v1h-1zM164.7 65.5h1v1h-1zM176.5 86.4h1v1h-1zM169.1 103.7h1v1h-1zM179.1 96.8h1v1h-1zM169.0 66.2h1v1h-1zM173.3 79.6h1v1h-1zM169.0 90.0h1v1h-1zM175.3 101.9h1v1h-1zM171.3 69.0h1v1h-1zM166.8 76.3h1v1h-1zM174.4 84.1h1v1h-1zM176.0 103.8h1v1h-1zM174.5 99.7h1v1h-1zM169.6 80.8h1v1h-1zM175.3 84.0h1v1h-1zM173.5 110.5h1v1h-1z" fill="#636a94" fill-opacity="0.72"/>
<path d="M139.8 105.9h1v1h-1zM140.3 113.6h1v1h-1zM141.3 64.0h1v1h-1zM137.6 58.1h1v1h-1zM134.3 97.4h1v1h-1zM139.9 106.9h1v1h-1zM136.9 101.8h1v1h-1zM143.3 78.8h1v1h-1zM139.8 54.9h1v1h-1zM138.2 98.8h1v1h-1zM144.0 95.3h1v1h-1zM137.8 98.3h1v1h-1zM141.6 99.5h1v1h-1zM140.7 96.3h1v1h-1zM135.8 51.5h1v1h-1zM133.2 103.5h1v1h-1zM143.0 93.3h1v1h-1zM144.2 61.2h1v1h-1zM136.2 104.6h1v1h-1zM137.5 97.6h1v1h-1zM141.0 95.2h1v1h-1zM133.6 61.0h1v1h-1zM141.3 98.2h1v1h-1zM137.9 57.4h1v1h-1zM135.1 52.0h1v1h-1zM133.4 61.5h1v1h-1zM141.1 100.5h1v1h-1zM139.2 55.8h1v1h-1zM141.9 59.3h1v1h-1zM137.1 102.9h1v1h-1zM144.2 90.8h1v1h-1zM135.8 57.7h1v1h-1zM143.2 80.8h1v1h-1zM134.2 104.7h1v1h-1zM143.6 85.3h1v1h-1zM141.1 55.5h1v1h-1zM142.0 61.4h1v1h-1zM140.0 100.2h1v1h-1zM134.2 60.1h1v1h-1zM137.8 103.4h1v1h-1zM138.9 103.2h1v1h-1zM137.2 112.5h1v1h-1zM135.2 114.1h1v1h-1zM139.2 96.4h1v1h-1zM142.1 93.3h1v1h-1zM141.1 106.8h1v1h-1zM145.0 85.8h1v1h-1zM143.9 89.6h1v1h-1zM143.1 80.2h1v1h-1zM141.1 58.2h1v1h-1zM136.3 98.9h1v1h-1zM144.6 76.9h1v1h-1zM143.5 82.7h1v1h-1zM140.7 56.0h1v1h-1zM137.0 109.7h1v1h-1zM136.3 101.7h1v1h-1zM141.6 95.2h1v1h-1zM140.5 94.5h1v1h-1zM144.9 76.3h1v1h-1zM141.5 93.3h1v1h-1zM142.9 59.7h1v1h-1zM143.2 65.2h1v1h-1zM143.2 71.4h1v1h-1zM139.0 59.0h1v1h-1zM138.2 56.5h1v1h-1zM142.8 68.3h1v1h-1zM141.0 49.4h1v1h-1zM143.3 91.5h1v1h-1zM134.5 97.4h1v1h-1zM138.9 107.0h1v1h-1zM145.0 78.2h1v1h-1zM134.3 103.8h1v1h-1zM135.1 59.3h1v1h-1zM138.4 54.4h1v1h-1zM143.0 103.0h1v1h-1zM139.3 59.1h1v1h-1zM135.1 54.1h1v1h-1zM142.3 93.9h1v1h-1zM134.9 57.3h1v1h-1zM143.2 74.2h1v1h-1zM144.6 77.3h1v1h-1zM143.6 73.5h1v1h-1zM144.9 63.6h1v1h-1zM135.8 104.8h1v1h-1zM144.9 71.0h1v1h-1zM143.2 83.2h1v1h-1zM133.7 61.3h1v1h-1zM144.5 89.8h1v1h-1zM138.0 102.4h1v1h-1zM134.2 51.2h1v1h-1zM149.9 82.0h1v1h-1zM144.2 93.3h1v1h-1zM142.2 62.6h1v1h-1zM141.4 96.9h1v1h-1zM137.2 56.0h1v1h-1zM143.5 77.2h1v1h-1zM141.3 60.7h1v1h-1zM145.0 71.5h1v1h-1zM142.6 68.2h1v1h-1zM145.1 80.5h1v1h-1zM139.4 57.9h1v1h-1zM138.8 59.7h1v1h-1zM145.8 72.0h1v1h-1zM139.9 55.3h1v1h-1zM137.9 56.4h1v1h-1zM148.7 56.7h1v1h-1zM140.2 99.8h1v1h-1zM143.3 73.1h1v1h-1zM142.3 100.1h1v1h-1zM137.1 108.6h1v1h-1zM139.1 97.2h1v1h-1zM133.5 58.9h1v1h-1zM147.9 88.3h1v1h-1zM136.9 98.5h1v1h-1zM145.5 89.5h1v1h-1zM136.3 109.0h1v1h-1zM144.3 69.9h1v1h-1zM137.7 98.6h1v1h-1zM134.4 52.1h1v1h-1zM141.6 92.9h1v1h-1zM141.3 92.9h1v1h-1zM143.0 94.3h1v1h-1zM142.7 64.8h1v1h-1zM138.4 99.0h1v1h-1zM137.9 58.0h1v1h-1zM138.3 104.2h1v1h-1zM140.7 98.5h1v1h-1zM144.6 104.8h1v1h-1zM143.3 59.4h1v1h-1zM137.6 106.2h1v1h-1zM133.8 97.1h1v1h-1zM141.3 61.9h1v1h-1zM133.0 96.8h1v1h-1zM141.1 95.1h1v1h-1zM141.9 53.4h1v1h-1zM141.9 93.1h1v1h-1zM133.7 59.6h1v1h-1zM138.7 60.1h1v1h-1zM143.4 84.2h1v1h-1zM135.5 103.2h1v1h-1zM140.8 102.9h1v1h-1zM140.6 62.4h1v1h-1zM145.4 78.8h1v1h-1zM144.6 84.2h1v1h-1zM133.8 98.4h1v1h-1zM137.5 101.0h1v1h-1zM136.1 99.4h1v1h-1zM133.3 58.3h1v1h-1zM143.4 100.1h1v1h-1zM136.3 59.2h1v1h-1zM146.7 74.4h1v1h-1zM143.8 71.0h1v1h-1zM136.2 99.8h1v1h-1zM138.6 57.3h1v1h-1zM141.1 94.3h1v1h-1zM145.8 92.0h1v1h-1zM137.6 110.0h1v1h-1zM144.2 61.1h1v1h-1zM137.8 98.4h1v1h-1zM143.9 82.3h1v1h-1zM144.8 83.1h1v1h-1zM144.4 94.4h1v1h-1zM146.2 78.5h1v1h-1zM143.0 66.6h1v1h-1zM143.8 86.9h1v1h-1zM132.7 92.3h1v1h-1zM141.8 91.7h1v1h-1zM147.4 66.5h1v1h-1zM139.0 106.3h1v1h-1zM142.2 52.4h1v1h-1zM145.1 78.0h1v1h-1zM136.9 55.9h1v1h-1zM137.6 58.3h1v1h-1zM140.4 56.9h1v1h-1zM142.6 69.4h1v1h-1zM142.8 67.7h1v1h-1zM139.7 98.9h1v1h-1zM137.7 112.8h1v1h-1zM142.0 89.6h1v1h-1zM135.6 58.1h1v1h-1zM135.2 56.8h1v1h-1zM134.3 54.3h1v1h-1zM140.3 98.0h1v1h-1zM145.6 79.8h1v1h-1zM133.1 60.3h1v1h-1zM139.2 50.9h1v1h-1zM141.3 50.0h1v1h-1zM143.5 84.2h1v1h-1zM133.3 63.1h1v1h-1zM137.6 106.1h1v1h-1zM143.3 66.7h1v1h-1zM136.6 98.1h1v1h-1zM137.1 58.5h1v1h-1zM140.4 62.1h1v1h-1zM137.7 106.2h1v1h-1zM133.0 95.0h1v1h-1zM143.8 78.5h1v1h-1zM143.5 86.3h1v1h-1zM135.6 98.2h1v1h-1zM145.2 84.4h1v1h-1zM142.5 87.5h1v1h-1zM141.5 94.6h1v1h-1zM139.5 51.7h1v1h-1zM143.2 79.1h1v1h-1zM135.0 57.4h1v1h-1zM144.0 90.3h1v1h-1zM143.4 64.3h1v1h-1z" fill="#7078b0" fill-opacity="0.65"/>
<path d="M133.7 62.8h1v1h-1zM137.4 62.9h1v1h-1zM141.6 84.7h1v1h-1zM142.1 81.6h1v1h-1zM141.0 90.1h1v1h-1zM133.2 87.4h1v1h-1zM132.9 66.9h1v1h-1zM137.7 92.8h1v1h-1zM136.0 94.7h1v1h-1zM138.3 95.0h1v1h-1zM133.7 86.8h1v1h-1zM140.1 90.7h1v1h-1zM137.6 95.7h1v1h-1zM135.0 64.2h1v1h-1zM136.2 62.8h1v1h-1zM140.4 92.9h1v1h-1zM141.3 64.8h1v1h-1zM133.4 86.8h1v1h-1zM138.5 63.0h1v1h-1zM141.7 69.8h1v1h-1zM136.0 92.6h1v1h-1zM143.0 77.2h1v1h-1zM132.8 85.2h1v1h-1zM135.9 62.2h1v1h-1zM136.3 60.7h1v1h-1zM142.5 73.9h1v1h-1zM142.2 79.0h1v1h-1zM137.9 96.6h1v1h-1zM133.6 90.2h1v1h-1zM135.1 92.8h1v1h-1zM141.0 68.8h1v1h-1zM135.1 61.6h1v1h-1zM133.3 87.2h1v1h-1zM134.8 90.2h1v1h-1zM141.0 65.7h1v1h-1zM133.4 90.0h1v1h-1zM133.6 88.9h1v1h-1zM139.4 63.7h1v1h-1zM141.1 91.0h1v1h-1zM133.5 87.8h1v1h-1zM139.9 89.8h1v1h-1zM142.9 74.4h1v1h-1zM134.1 64.0h1v1h-1zM132.8 87.3h1v1h-1zM142.7 74.4h1v1h-1zM142.4 73.7h1v1h-1zM142.8 76.8h1v1h-1zM135.9 62.2h1v1h-1zM136.7 93.3h1v1h-1zM135.8 91.3h1v1h-1zM141.1 90.8h1v1h-1zM139.4 90.4h1v1h-1zM140.5 63.0h1v1h-1zM141.2 86.0h1v1h-1zM137.3 96.7h1v1h-1zM141.1 90.4h1v1h-1zM138.8 93.9h1v1h-1zM134.5 90.9h1v1h-1zM133.4 66.4h1v1h-1zM133.0 88.6h1v1h-1zM136.8 60.1h1v1h-1zM138.9 93.0h1v1h-1zM140.2 92.9h1v1h-1zM136.9 63.0h1v1h-1zM139.3 60.7h1v1h-1zM140.5 90.7h1v1h-1zM136.9 92.0h1v1h-1zM139.3 95.4h1v1h-1zM136.5 62.1h1v1h-1zM136.9 92.4h1v1h-1zM134.0 66.3h1v1h-1zM140.8 87.0h1v1h-1zM137.0 62.8h1v1h-1zM137.5 94.7h1v1h-1zM136.4 93.1h1v1h-1zM141.6 88.0h1v1h-1zM139.2 92.2h1v1h-1zM138.1 93.1h1v1h-1zM139.0 90.8h1v1h-1zM132.9 66.9h1v1h-1zM133.2 85.7h1v1h-1zM140.3 91.2h1v1h-1zM136.2 62.2h1v1h-1zM142.5 72.4h1v1h-1zM133.2 88.7h1v1h-1zM138.4 93.6h1v1h-1zM142.1 85.3h1v1h-1zM142.1 71.5h1v1h-1zM142.5 85.4h1v1h-1zM141.2 89.0h1v1h-1zM133.0 83.9h1v1h-1zM140.5 93.7h1v1h-1zM136.5 91.5h1v1h-1zM133.9 93.3h1v1h-1zM137.3 61.5h1v1h-1zM139.7 90.4h1v1h-1zM139.1 95.1h1v1h-1zM134.1 62.8h1v1h-1zM140.5 93.9h1v1h-1zM136.3 96.4h1v1h-1zM137.8 92.8h1v1h-1zM142.1 69.6h1v1h-1zM142.1 87.0h1v1h-1zM137.9 61.6h1v1h-1zM134.9 90.6h1v1h-1zM134.4 92.8h1v1h-1zM143.1 74.9h1v1h-1zM140.7 87.0h1v1h-1zM139.6 90.8h1v1h-1zM142.7 79.8h1v1h-1zM141.9 85.2h1v1h-1zM134.7 65.0h1v1h-1zM138.3 61.7h1v1h-1zM141.8 73.5h1v1h-1zM137.5 93.8h1v1h-1zM141.3 87.2h1v1h-1zM141.7 86.1h1v1h-1zM141.2 69.0h1v1h-1zM142.8 73.6h1v1h-1zM132.8 65.3h1v1h-1zM139.1 63.2h1v1h-1zM134.3 88.6h1v1h-1zM137.8 61.1h1v1h-1zM142.3 70.3h1v1h-1zM141.3 86.4h1v1h-1zM141.1 68.8h1v1h-1zM134.6 61.3h1v1h-1zM136.1 95.1h1v1h-1zM132.8 69.4h1v1h-1zM140.5 66.0h1v1h-1zM141.5 69.1h1v1h-1zM136.6 95.7h1v1h-1zM140.2 94.2h1v1h-1zM141.5 67.0h1v1h-1zM137.4 92.4h1v1h-1zM134.8 90.4h1v1h-1zM139.0 95.8h1v1h-1zM141.1 85.2h1v1h-1zM141.9 86.6h1v1h-1zM135.2 96.5h1v1h-1zM133.0 87.7h1v1h-1zM135.8 60.2h1v1h-1zM138.0 60.7h1v1h-1zM142.1 79.8h1v1h-1zM141.8 66.8h1v1h-1zM140.9 92.3h1v1h-1zM142.4 70.9h1v1h-1zM141.5 67.8h1v1h-1zM140.6 65.6h1v1h-1zM141.9 75.4h1v1h-1zM136.2 93.0h1v1h-1zM135.5 91.5h1v1h-1zM133.9 62.9h1v1h-1zM133.3 64.9h1v1h-1zM141.9 73.4h1v1h-1zM142.0 80.0h1v1h-1zM142.2 86.5h1v1h-1zM138.2 93.6h1v1h-1zM133.7 88.4h1v1h-1zM142.9 80.9h1v1h-1zM139.5 92.5h1v1h-1zM133.7 86.7h1v1h-1zM133.7 86.7h1v1h-1zM136.9 95.2h1v1h-1zM142.5 70.0h1v1h-1zM133.8 87.8h1v1h-1zM138.2 63.2h1v1h-1zM137.8 91.9h1v1h-1zM142.1 67.9h1v1h-1zM140.5 88.7h1v1h-1zM141.6 89.5h1v1h-1zM141.3 88.2h1v1h-1zM134.1 93.7h1v1h-1zM133.5 87.9h1v1h-1zM134.4 61.8h1v1h-1zM140.1 91.5h1v1h-1zM136.4 91.8h1v1h-1zM141.1 85.6h1v1h-1zM139.1 62.8h1v1h-1zM139.7 93.0h1v1h-1zM137.6 61.3h1v1h-1zM142.9 72.7h1v1h-1zM132.7 66.1h1v1h-1zM133.3 64.3h1v1h-1zM134.7 63.1h1v1h-1zM141.2 91.9h1v1h-1zM138.4 94.4h1v1h-1zM138.8 96.0h1v1h-1zM138.6 91.8h1v1h-1zM139.8 95.1h1v1h-1zM134.8 60.9h1v1h-1zM140.8 64.5h1v1h-1zM133.4 91.7h1v1h-1zM141.9 78.0h1v1h-1zM134.9 89.9h1v1h-1zM134.5 90.0h1v1h-1zM132.8 89.1h1v1h-1zM132.8 85.5h1v1h-1zM133.5 64.2h1v1h-1zM135.4 62.7h1v1h-1zM139.5 91.7h1v1h-1zM138.6 91.7h1v1h-1zM139.2 96.2h1v1h-1zM141.3 91.0h1v1h-1zM142.0 88.6h1v1h-1zM134.2 92.0h1v1h-1zM142.0 69.4h1v1h-1zM138.8 90.8h1v1h-1zM133.3 89.4h1v1h-1zM133.7 63.4h1v1h-1zM141.4 68.3h1v1h-1zM134.6 90.8h1v1h-1zM134.1 88.1h1v1h-1zM142.1 80.2h1v1h-1z" fill="#5e88b0" fill-opacity="0.72"/>
<path d="M134.6 65.1h1v1h-1zM140.9 71.9h1v1h-1zM133.0 74.0h1v1h-1zM141.6 78.6h1v1h-1zM133.2 72.2h1v1h-1zM134.3 66.7h1v1h-1zM140.6 69.7h1v1h-1zM135.1 86.6h1v1h-1zM133.3 84.0h1v1h-1zM138.9 86.0h1v1h-1zM137.3 64.5h1v1h-1zM140.4 83.2h1v1h-1zM138.3 90.1h1v1h-1zM136.1 89.0h1v1h-1zM136.5 90.6h1v1h-1zM133.7 70.8h1v1h-1zM133.3 84.5h1v1h-1zM134.0 84.1h1v1h-1zM138.1 64.2h1v1h-1zM133.2 79.6h1v1h-1zM141.1 77.9h1v1h-1zM137.3 90.6h1v1h-1zM141.0 75.9h1v1h-1zM139.7 65.8h1v1h-1zM140.5 84.5h1v1h-1zM139.7 66.8h1v1h-1zM137.0 64.0h1v1h-1zM140.8 73.3h1v1h-1zM134.2 87.0h1v1h-1zM137.1 90.1h1v1h-1zM135.3 66.5h1v1h-1zM134.1 86.7h1v1h-1zM135.1 89.8h1v1h-1zM141.1 81.5h1v1h-1zM140.7 83.1h1v1h-1zM139.7 85.4h1v1h-1zM134.6 85.5h1v1h-1zM137.9 88.5h1v1h-1zM140.5 84.9h1v1h-1zM133.9 82.7h1v1h-1zM132.8 76.2h1v1h-1zM140.9 69.1h1v1h-1zM133.2 73.1h1v1h-1zM137.1 64.9h1v1h-1zM139.8 65.8h1v1h-1zM136.2 64.0h1v1h-1zM133.7 70.1h1v1h-1zM136.5 63.5h1v1h-1zM140.8 78.4h1v1h-1zM133.2 71.6h1v1h-1zM140.6 71.6h1v1h-1zM136.0 86.9h1v1h-1zM139.9 84.6h1v1h-1zM139.1 65.4h1v1h-1zM141.0 77.8h1v1h-1zM134.6 84.5h1v1h-1zM139.4 86.3h1v1h-1zM134.7 87.7h1v1h-1zM135.3 88.5h1v1h-1zM140.5 86.1h1v1h-1zM140.1 82.9h1v1h-1zM140.9 69.5h1v1h-1zM134.4 86.8h1v1h-1zM139.4 66.7h1v1h-1zM137.1 90.5h1v1h-1zM141.4 81.6h1v1h-1zM137.0 64.1h1v1h-1zM136.5 88.8h1v1h-1zM140.7 69.6h1v1h-1zM135.6 88.7h1v1h-1zM139.3 65.6h1v1h-1zM135.3 85.9h1v1h-1zM141.0 80.2h1v1h-1zM141.0 80.1h1v1h-1zM137.6 87.9h1v1h-1zM135.8 89.9h1v1h-1zM138.2 88.3h1v1h-1zM140.7 80.2h1v1h-1zM134.7 66.0h1v1h-1zM141.3 75.9h1v1h-1zM132.9 74.4h1v1h-1zM141.0 83.1h1v1h-1zM137.5 88.0h1v1h-1zM134.3 83.9h1v1h-1zM141.4 79.5h1v1h-1zM135.1 85.8h1v1h-1zM134.3 85.2h1v1h-1zM138.3 89.7h1v1h-1zM141.0 83.4h1v1h-1zM138.1 89.1h1v1h-1zM139.5 65.7h1v1h-1zM141.3 73.5h1v1h-1zM134.4 87.6h1v1h-1zM134.5 84.2h1v1h-1zM134.1 67.9h1v1h-1zM141.6 80.4h1v1h-1zM139.3 87.3h1v1h-1zM139.2 65.0h1v1h-1zM135.7 89.7h1v1h-1zM135.0 67.3h1v1h-1zM133.6 71.7h1v1h-1zM139.6 85.0h1v1h-1zM134.3 68.1h1v1h-1zM133.3 77.5h1v1h-1zM139.8 65.7h1v1h-1zM133.2 83.3h1v1h-1zM136.4 63.4h1v1h-1zM141.2 74.8h1v1h-1zM135.6 89.2h1v1h-1zM136.9 89.5h1v1h-1zM133.8 82.6h1v1h-1zM133.3 82.3h1v1h-1zM133.3 84.7h1v1h-1zM133.4 76.0h1v1h-1zM139.2 85.6h1v1h-1zM140.6 71.6h1v1h-1zM134.1 66.2h1v1h-1zM133.0 77.3h1v1h-1zM139.1 85.7h1v1h-1zM138.0 65.6h1v1h-1zM133.7 70.3h1v1h-1zM133.2 73.7h1v1h-1zM134.5 67.4h1v1h-1zM140.6 80.7h1v1h-1zM136.6 88.7h1v1h-1zM140.6 83.0h1v1h-1zM141.1 78.5h1v1h-1zM135.9 88.3h1v1h-1zM138.6 86.9h1v1h-1zM135.0 86.8h1v1h-1zM136.5 63.6h1v1h-1zM133.5 73.9h1v1h-1zM133.5 72.6h1v1h-1zM137.7 90.1h1v1h-1zM138.1 90.0h1v1h-1zM133.8 70.0h1v1h-1zM136.6 88.0h1v1h-1zM133.4 76.1h1v1h-1zM139.9 66.7h1v1h-1zM136.5 90.2h1v1h-1zM133.0 79.1h1v1h-1zM135.9 90.3h1v1h-1zM134.8 87.0h1v1h-1zM139.7 85.0h1v1h-1zM140.7 80.2h1v1h-1zM141.3 72.6h1v1h-1zM140.1 67.2h1v1h-1zM137.5 89.9h1v1h-1zM140.8 81.8h1v1h-1zM134.0 69.6h1v1h-1zM133.3 75.9h1v1h-1zM137.3 65.1h1v1h-1zM135.7 87.5h1v1h-1zM140.2 85.5h1v1h-1zM139.1 87.1h1v1h-1zM140.5 67.5h1v1h-1zM139.5 85.9h1v1h-1zM140.7 68.7h1v1h-1zM138.4 87.8h1v1h-1zM138.2 89.7h1v1h-1zM137.9 87.8h1v1h-1zM134.5 86.5h1v1h-1zM140.9 76.4h1v1h-1zM138.1 88.1h1v1h-1zM141.5 80.5h1v1h-1zM133.3 76.0h1v1h-1zM136.9 88.6h1v1h-1zM138.0 90.6h1v1h-1zM139.3 86.5h1v1h-1zM133.6 85.1h1v1h-1zM133.5 79.0h1v1h-1zM141.7 73.8h1v1h-1zM139.5 86.3h1v1h-1zM139.9 85.3h1v1h-1zM140.9 79.3h1v1h-1zM140.7 71.4h1v1h-1zM141.1 71.3h1v1h-1zM135.8 64.0h1v1h-1zM136.3 64.5h1v1h-1zM140.6 85.5h1v1h-1zM138.3 65.1h1v1h-1zM141.6 76.9h1v1h-1zM133.6 68.7h1v1h-1zM140.7 72.1h1v1h-1zM139.3 87.3h1v1h-1zM135.3 86.8h1v1h-1zM137.2 63.9h1v1h-1zM137.1 88.3h1v1h-1zM137.6 87.7h1v1h-1zM133.4 73.6h1v1h-1zM136.6 90.2h1v1h-1zM133.3 77.1h1v1h-1zM139.7 86.1h1v1h-1zM140.7 79.5h1v1h-1zM140.4 84.7h1v1h-1zM141.0 70.7h1v1h-1zM137.7 88.6h1v1h-1zM137.0 90.2h1v1h-1zM141.7 80.0h1v1h-1zM134.9 87.2h1v1h-1zM136.9 63.5h1v1h-1zM141.1 82.0h1v1h-1zM138.3 65.1h1v1h-1zM136.3 65.6h1v1h-1zM136.5 87.8h1v1h-1zM139.9 86.5h1v1h-1zM137.0 89.8h1v1h-1zM134.2 66.9h1v1h-1zM133.7 81.7h1v1h-1zM134.9 88.6h1v1h-1zM140.8 78.9h1v1h-1zM134.1 83.0h1v1h-1zM140.6 81.0h1v1h-1zM133.9 86.9h1v1h-1zM140.7 80.2h1v1h-1zM135.0 65.3h1v1h-1zM133.3 83.9h1v1h-1zM135.1 88.5h1v1h-1zM133.5 71.7h1v1h-1zM137.4 89.8h1v1h-1zM140.5 85.3h1v1h-1zM137.2 89.7h1v1h-1zM135.7 90.1h1v1h-1zM133.5 79.9h1v1h-1zM137.8 64.0h1v1h-1zM135.0 65.6h1v1h-1zM139.8 66.1h1v1h-1zM132.8 76.3h1v1h-1zM134.0 68.2h1v1h-1z" fill="#58a49c" fill-opacity="0.8"/>
<path d="M136.4 83.9h1v1h-1zM139.7 69.4h1v1h-1zM136.7 66.7h1v1h-1zM140.6 75.0h1v1h-1zM134.3 82.1h1v1h-1zM134.9 84.8h1v1h-1zM137.6 85.2h1v1h-1zM138.9 68.5h1v1h-1zM139.7 68.6h1v1h-1zM135.8 83.0h1v1h-1zM134.6 68.8h1v1h-1zM140.1 78.5h1v1h-1zM137.4 68.1h1v1h-1zM136.3 84.8h1v1h-1zM140.0 75.2h1v1h-1zM133.4 77.0h1v1h-1zM136.8 85.2h1v1h-1zM137.8 67.0h1v1h-1zM140.2 79.9h1v1h-1zM136.0 85.7h1v1h-1zM135.4 84.5h1v1h-1zM138.4 83.1h1v1h-1zM139.6 68.8h1v1h-1zM135.8 86.0h1v1h-1zM135.8 66.4h1v1h-1zM140.4 74.5h1v1h-1zM135.0 81.9h1v1h-1zM134.5 69.5h1v1h-1zM140.5 81.0h1v1h-1zM139.9 78.2h1v1h-1zM134.4 77.7h1v1h-1zM134.3 78.0h1v1h-1zM135.3 85.8h1v1h-1zM134.7 71.4h1v1h-1zM134.4 69.6h1v1h-1zM133.8 76.3h1v1h-1zM137.4 67.3h1v1h-1zM140.2 71.6h1v1h-1zM134.9 83.8h1v1h-1zM139.8 73.3h1v1h-1zM134.7 84.4h1v1h-1zM139.2 70.3h1v1h-1zM137.0 67.5h1v1h-1zM134.2 82.3h1v1h-1zM140.4 77.7h1v1h-1zM137.6 66.4h1v1h-1zM136.3 85.7h1v1h-1zM134.7 72.1h1v1h-1zM134.1 78.4h1v1h-1zM134.7 71.2h1v1h-1zM134.2 80.5h1v1h-1zM139.4 69.7h1v1h-1zM140.4 78.4h1v1h-1zM133.5 73.6h1v1h-1zM138.7 86.1h1v1h-1zM135.4 83.0h1v1h-1zM138.1 66.0h1v1h-1zM136.4 67.7h1v1h-1zM135.1 70.1h1v1h-1zM134.9 85.1h1v1h-1zM136.2 85.1h1v1h-1zM133.7 74.8h1v1h-1zM136.3 67.7h1v1h-1zM138.6 85.0h1v1h-1zM133.7 73.5h1v1h-1zM138.0 66.4h1v1h-1zM134.3 79.6h1v1h-1zM140.1 79.4h1v1h-1zM138.9 82.1h1v1h-1zM135.8 83.3h1v1h-1zM140.1 75.9h1v1h-1zM135.1 68.7h1v1h-1zM140.0 74.8h1v1h-1zM136.8 66.4h1v1h-1zM135.7 83.0h1v1h-1zM134.7 82.2h1v1h-1zM134.5 71.1h1v1h-1zM134.4 69.2h1v1h-1zM139.4 81.5h1v1h-1zM139.5 80.8h1v1h-1zM134.4 72.2h1v1h-1zM139.9 74.9h1v1h-1zM140.2 70.2h1v1h-1zM138.0 84.2h1v1h-1zM137.1 85.5h1v1h-1zM140.4 79.2h1v1h-1zM136.4 84.0h1v1h-1zM137.3 84.2h1v1h-1zM134.1 72.1h1v1h-1zM134.2 75.3h1v1h-1zM137.0 85.3h1v1h-1zM136.7 65.6h1v1h-1zM139.6 81.3h1v1h-1zM135.9 85.8h1v1h-1zM136.9 85.0h1v1h-1zM134.5 81.7h1v1h-1zM139.0 67.3h1v1h-1zM140.2 76.9h1v1h-1zM134.3 80.5h1v1h-1zM135.0 83.6h1v1h-1zM140.1 77.8h1v1h-1zM134.4 78.1h1v1h-1zM135.3 83.0h1v1h-1zM139.0 84.5h1v1h-1zM134.9 81.4h1v1h-1zM139.5 69.5h1v1h-1zM138.9 82.5h1v1h-1zM134.1 75.8h1v1h-1zM135.0 69.5h1v1h-1zM133.5 78.1h1v1h-1zM138.8 82.9h1v1h-1zM138.7 83.2h1v1h-1zM139.3 69.1h1v1h-1zM134.9 82.3h1v1h-1zM137.2 85.9h1v1h-1zM140.5 73.7h1v1h-1zM133.8 79.8h1v1h-1zM137.9 84.7h1v1h-1zM140.6 78.3h1v1h-1zM133.4 77.0h1v1h-1zM134.9 82.5h1v1h-1zM134.9 84.7h1v1h-1zM133.6 77.8h1v1h-1zM134.3 78.6h1v1h-1zM138.1 68.2h1v1h-1zM136.3 86.1h1v1h-1zM135.7 66.5h1v1h-1zM136.3 83.5h1v1h-1zM138.0 86.1h1v1h-1zM139.5 81.3h1v1h-1zM139.4 80.6h1v1h-1zM138.5 66.6h1v1h-1zM135.3 67.9h1v1h-1zM140.6 77.2h1v1h-1zM138.1 66.8h1v1h-1zM139.6 69.6h1v1h-1zM135.0 70.0h1v1h-1zM140.4 76.9h1v1h-1zM139.8 78.4h1v1h-1zM137.3 86.9h1v1h-1zM134.2 79.2h1v1h-1zM135.0 67.9h1v1h-1zM137.1 85.1h1v1h-1zM139.8 78.1h1v1h-1zM135.7 69.0h1v1h-1zM137.0 66.1h1v1h-1zM138.2 66.9h1v1h-1zM134.8 81.1h1v1h-1zM135.0 81.5h1v1h-1zM138.4 67.0h1v1h-1zM135.6 85.2h1v1h-1zM139.9 71.9h1v1h-1zM137.5 66.2h1v1h-1zM134.3 69.3h1v1h-1zM136.8 85.9h1v1h-1zM137.1 87.1h1v1h-1zM133.7 80.0h1v1h-1zM135.5 69.4h1v1h-1zM139.7 70.2h1v1h-1zM139.0 85.5h1v1h-1zM135.2 69.1h1v1h-1zM140.3 74.8h1v1h-1zM139.8 83.7h1v1h-1zM135.8 82.9h1v1h-1zM139.4 82.1h1v1h-1zM136.9 67.0h1v1h-1zM135.2 69.2h1v1h-1zM134.4 77.9h1v1h-1zM136.0 85.5h1v1h-1zM139.4 70.4h1v1h-1zM135.3 85.4h1v1h-1zM133.5 78.4h1v1h-1zM140.1 73.0h1v1h-1zM133.8 78.8h1v1h-1zM135.1 83.6h1v1h-1zM140.2 76.4h1v1h-1zM140.4 73.7h1v1h-1zM139.6 71.5h1v1h-1zM134.3 71.3h1v1h-1zM138.7 67.3h1v1h-1zM136.7 84.7h1v1h-1zM135.4 85.5h1v1h-1zM135.5 69.8h1v1h-1zM135.8 83.5h1v1h-1zM139.1 67.3h1v1h-1zM137.8 85.1h1v1h-1zM138.6 66.6h1v1h-1zM138.5 85.2h1v1h-1zM133.7 77.1h1v1h-1zM137.1 66.7h1v1h-1zM135.1 70.3h1v1h-1zM135.8 68.4h1v1h-1zM133.6 76.6h1v1h-1zM133.8 74.7h1v1h-1zM133.6 73.5h1v1h-1zM133.4 75.5h1v1h-1zM135.3 70.2h1v1h-1zM139.4 68.6h1v1h-1zM134.8 81.3h1v1h-1zM135.6 85.0h1v1h-1zM140.3 74.5h1v1h-1zM140.0 74.1h1v1h-1zM135.4 66.7h1v1h-1zM140.3 79.7h1v1h-1zM140.2 70.4h1v1h-1zM136.5 66.2h1v1h-1zM134.7 83.8h1v1h-1zM136.3 67.6h1v1h-1zM136.2 85.7h1v1h-1zM138.8 83.2h1v1h-1zM135.5 82.4h1v1h-1zM135.6 85.8h1v1h-1zM137.9 65.9h1v1h-1zM134.2 74.1h1v1h-1zM135.6 84.1h1v1h-1zM140.0 72.4h1v1h-1zM138.5 83.5h1v1h-1zM139.2 69.1h1v1h-1zM139.9 68.9h1v1h-1zM136.7 66.2h1v1h-1zM140.0 78.3h1v1h-1zM139.3 69.9h1v1h-1zM140.0 80.5h1v1h-1zM140.8 74.9h1v1h-1zM134.4 74.7h1v1h-1zM138.7 85.9h1v1h-1zM136.0 85.6h1v1h-1zM135.2 83.0h1v1h-1zM137.2 66.1h1v1h-1zM139.5 79.9h1v1h-1zM136.8 84.8h1v1h-1zM138.9 67.5h1v1h-1zM136.5 67.2h1v1h-1zM136.6 87.2h1v1h-1zM139.9 78.0h1v1h-1zM140.1 70.8h1v1h-1zM138.1 66.0h1v1h-1zM137.6 66.1h1v1h-1zM135.4 68.6h1v1h-1zM134.4 70.8h1v1h-1zM136.4 86.5h1v1h-1zM137.6 67.5h1v1h-1zM139.2 69.2h1v1h-1zM134.5 70.6h1v1h-1zM138.9 68.9h1v1h-1zM133.7 75.3h1v1h-1zM134.6 71.2h1v1h-1zM140.3 77.2h1v1h-1zM133.9 80.3h1v1h-1zM136.7 84.1h1v1h-1zM140.2 80.3h1v1h-1zM135.7 66.5h1v1h-1zM139.0 69.0h1v1h-1zM133.9 79.7h1v1h-1zM134.1 76.9h1v1h-1zM134.5 83.4h1v1h-1zM140.5 74.1h1v1h-1zM140.5 72.4h1v1h-1zM137.4 66.5h1v1h-1zM139.7 81.3h1v1h-1zM139.0 67.6h1v1h-1zM140.2 81.1h1v1h-1zM138.6 85.3h1v1h-1zM136.0 84.2h1v1h-1zM137.7 85.4h1v1h-1zM135.7 83.3h1v1h-1zM134.7 83.1h1v1h-1zM134.5 79.1h1v1h-1zM139.6 84.3h1v1h-1zM136.9 84.6h1v1h-1zM134.5 79.7h1v1h-1zM135.0 82.9h1v1h-1zM139.7 83.3h1v1h-1zM140.5 77.9h1v1h-1zM138.4 86.1h1v1h-1zM138.9 85.2h1v1h-1zM140.0 76.8h1v1h-1zM133.9 74.7h1v1h-1zM137.5 67.0h1v1h-1zM140.6 73.1h1v1h-1zM140.3 78.5h1v1h-1zM138.1 86.4h1v1h-1zM138.1 84.0h1v1h-1zM134.8 69.5h1v1h-1zM137.1 85.5h1v1h-1zM135.2 70.0h1v1h-1zM139.2 82.2h1v1h-1zM137.0 65.5h1v1h-1zM134.7 81.4h1v1h-1zM135.0 70.6h1v1h-1zM140.6 79.7h1v1h-1z" fill="#72ae4c" fill-opacity="0.88"/>
<path d="M135.7 72.3h1v1h-1zM139.1 71.3h1v1h-1zM136.0 69.7h1v1h-1zM134.9 79.5h1v1h-1zM138.9 71.1h1v1h-1zM134.9 77.9h1v1h-1zM137.4 80.9h1v1h-1zM134.8 73.8h1v1h-1zM138.6 81.4h1v1h-1zM135.7 79.5h1v1h-1zM135.4 77.6h1v1h-1zM137.1 83.1h1v1h-1zM135.5 73.2h1v1h-1zM134.5 76.2h1v1h-1zM135.0 71.6h1v1h-1zM139.5 77.8h1v1h-1zM138.0 80.4h1v1h-1zM135.0 73.0h1v1h-1zM138.5 69.8h1v1h-1zM134.8 75.9h1v1h-1zM137.3 81.7h1v1h-1zM137.3 82.9h1v1h-1zM139.2 77.6h1v1h-1zM136.5 69.2h1v1h-1zM138.1 71.3h1v1h-1zM138.8 70.5h1v1h-1zM136.3 69.8h1v1h-1zM137.6 70.5h1v1h-1zM134.9 73.8h1v1h-1zM136.4 82.5h1v1h-1zM136.5 80.6h1v1h-1zM137.6 68.6h1v1h-1zM138.5 80.8h1v1h-1zM138.7 81.9h1v1h-1zM138.4 79.9h1v1h-1zM135.8 79.4h1v1h-1zM134.9 79.2h1v1h-1zM138.0 70.6h1v1h-1zM137.6 69.0h1v1h-1zM134.7 77.6h1v1h-1zM137.6 82.2h1v1h-1zM138.7 71.1h1v1h-1zM135.6 71.0h1v1h-1zM139.1 80.3h1v1h-1zM139.3 76.0h1v1h-1zM139.4 76.0h1v1h-1zM135.1 79.6h1v1h-1zM135.6 81.5h1v1h-1zM139.5 76.7h1v1h-1zM139.4 79.4h1v1h-1zM139.4 76.0h1v1h-1zM136.7 68.8h1v1h-1zM135.0 73.1h1v1h-1zM135.7 82.1h1v1h-1zM139.0 81.1h1v1h-1zM134.8 73.3h1v1h-1zM136.2 69.1h1v1h-1zM136.5 69.1h1v1h-1zM138.3 81.8h1v1h-1zM139.1 74.3h1v1h-1zM135.0 73.3h1v1h-1zM138.2 70.3h1v1h-1zM137.5 70.2h1v1h-1zM139.5 77.9h1v1h-1zM138.9 70.2h1v1h-1zM134.8 78.9h1v1h-1zM138.2 82.3h1v1h-1zM135.1 75.0h1v1h-1zM135.3 73.7h1v1h-1zM139.2 75.7h1v1h-1zM135.0 72.3h1v1h-1zM134.7 73.8h1v1h-1zM139.0 79.5h1v1h-1zM139.8 77.7h1v1h-1zM138.5 82.3h1v1h-1zM137.9 81.6h1v1h-1zM138.6 70.8h1v1h-1zM138.5 81.7h1v1h-1zM135.2 76.6h1v1h-1zM139.5 78.4h1v1h-1zM135.5 80.4h1v1h-1zM137.6 80.9h1v1h-1zM135.0 80.5h1v1h-1zM137.8 69.0h1v1h-1zM139.3 74.7h1v1h-1zM135.3 78.1h1v1h-1zM135.6 71.9h1v1h-1zM139.4 75.1h1v1h-1zM135.6 78.6h1v1h-1zM138.7 79.2h1v1h-1zM138.5 80.7h1v1h-1zM135.2 77.6h1v1h-1zM134.9 77.4h1v1h-1zM138.2 70.8h1v1h-1zM136.8 82.7h1v1h-1zM139.1 75.5h1v1h-1zM135.6 80.2h1v1h-1zM138.0 82.5h1v1h-1zM137.7 81.6h1v1h-1zM139.5 75.6h1v1h-1zM139.2 70.9h1v1h-1zM139.0 70.8h1v1h-1zM137.2 81.6h1v1h-1zM134.5 77.1h1v1h-1zM138.5 70.8h1v1h-1zM138.4 80.6h1v1h-1zM138.5 82.2h1v1h-1zM138.3 81.7h1v1h-1zM139.4 77.5h1v1h-1zM136.7 68.8h1v1h-1zM139.6 75.7h1v1h-1zM139.4 72.4h1v1h-1zM138.5 71.7h1v1h-1zM139.1 73.0h1v1h-1zM137.2 69.9h1v1h-1zM139.2 71.3h1v1h-1zM135.4 79.5h1v1h-1zM138.6 72.0h1v1h-1zM137.0 70.2h1v1h-1zM137.8 68.5h1v1h-1zM139.0 76.0h1v1h-1zM135.3 79.4h1v1h-1zM134.7 77.0h1v1h-1zM138.0 69.0h1v1h-1zM139.2 71.6h1v1h-1zM138.4 71.9h1v1h-1zM136.3 70.8h1v1h-1zM139.1 79.5h1v1h-1zM137.5 82.7h1v1h-1zM137.2 82.2h1v1h-1zM136.5 83.3h1v1h-1zM138.2 71.4h1v1h-1zM135.2 79.6h1v1h-1zM135.8 70.4h1v1h-1zM137.3 68.3h1v1h-1zM137.9 81.3h1v1h-1zM134.7 78.0h1v1h-1zM138.4 81.2h1v1h-1zM139.2 75.0h1v1h-1zM139.1 80.0h1v1h-1zM138.8 82.0h1v1h-1zM138.2 81.8h1v1h-1zM136.8 70.0h1v1h-1zM138.9 74.3h1v1h-1zM134.9 73.2h1v1h-1zM135.4 76.8h1v1h-1zM135.5 78.9h1v1h-1zM134.7 78.8h1v1h-1zM135.4 73.2h1v1h-1zM139.6 74.4h1v1h-1zM135.0 72.6h1v1h-1zM138.8 70.6h1v1h-1zM138.6 81.0h1v1h-1zM138.6 81.1h1v1h-1zM137.2 70.2h1v1h-1zM135.9 82.1h1v1h-1zM135.1 74.4h1v1h-1zM134.8 76.6h1v1h-1zM137.0 83.5h1v1h-1zM136.9 70.7h1v1h-1zM139.3 76.3h1v1h-1zM134.9 77.6h1v1h-1zM136.7 81.3h1v1h-1zM139.0 73.4h1v1h-1zM134.6 78.6h1v1h-1zM136.7 81.6h1v1h-1zM138.1 81.3h1v1h-1zM134.9 75.0h1v1h-1zM135.8 70.4h1v1h-1zM138.9 77.9h1v1h-1zM135.2 78.3h1v1h-1zM139.2 78.1h1v1h-1zM137.0 68.3h1v1h-1zM135.2 80.7h1v1h-1zM138.9 69.9h1v1h-1zM139.0 77.0h1v1h-1zM134.9 73.4h1v1h-1zM139.2 71.4h1v1h-1zM135.2 75.0h1v1h-1zM138.9 71.0h1v1h-1zM135.0 80.1h1v1h-1zM137.1 81.3h1v1h-1zM135.1 76.9h1v1h-1zM138.9 77.9h1v1h-1zM137.1 83.1h1v1h-1zM138.8 81.8h1v1h-1zM135.3 75.1h1v1h-1zM135.4 71.3h1v1h-1zM139.0 79.1h1v1h-1zM139.0 80.9h1v1h-1zM139.7 78.2h1v1h-1zM135.6 78.5h1v1h-1zM138.2 81.3h1v1h-1zM137.3 81.8h1v1h-1zM135.4 73.6h1v1h-1zM135.9 69.2h1v1h-1zM139.1 78.9h1v1h-1zM139.9 76.5h1v1h-1zM135.5 70.0h1v1h-1zM138.5 82.3h1v1h-1zM138.7 70.4h1v1h-1zM134.4 76.8h1v1h-1zM138.2 81.2h1v1h-1zM139.6 72.5h1v1h-1zM135.2 76.3h1v1h-1zM137.8 81.0h1v1h-1zM135.7 81.1h1v1h-1zM135.7 80.8h1v1h-1zM135.2 78.9h1v1h-1zM135.0 75.4h1v1h-1zM134.8 72.7h1v1h-1zM134.5 77.1h1v1h-1zM135.2 73.3h1v1h-1zM134.8 77.3h1v1h-1zM137.3 68.6h1v1h-1zM135.6 70.9h1v1h-1zM138.9 72.2h1v1h-1zM137.4 81.6h1v1h-1zM139.1 75.4h1v1h-1zM136.0 70.2h1v1h-1zM139.4 76.8h1v1h-1zM134.8 75.0h1v1h-1zM138.9 79.9h1v1h-1zM139.3 76.8h1v1h-1zM138.8 72.5h1v1h-1zM139.1 75.5h1v1h-1zM134.6 74.9h1v1h-1zM137.4 82.7h1v1h-1zM136.3 83.0h1v1h-1zM138.5 71.2h1v1h-1zM138.6 70.3h1v1h-1zM136.6 82.2h1v1h-1zM135.4 80.3h1v1h-1zM138.9 71.9h1v1h-1zM135.5 71.7h1v1h-1zM137.8 69.1h1v1h-1zM139.5 76.3h1v1h-1zM135.7 69.5h1v1h-1zM135.2 74.4h1v1h-1zM139.0 80.9h1v1h-1zM135.8 82.6h1v1h-1zM134.5 74.0h1v1h-1zM136.5 81.5h1v1h-1zM138.2 81.2h1v1h-1zM139.6 76.0h1v1h-1zM137.1 69.1h1v1h-1zM138.4 81.6h1v1h-1zM135.4 70.6h1v1h-1zM139.1 80.4h1v1h-1zM138.4 82.1h1v1h-1zM136.8 70.5h1v1h-1zM136.4 69.7h1v1h-1zM136.6 82.9h1v1h-1z" fill="#c4bc34" fill-opacity="0.92"/>
<path d="M136.4 75.8h1v1h-1zM137.2 79.8h1v1h-1zM135.9 76.2h1v1h-1zM137.2 80.6h1v1h-1zM136.6 74.6h1v1h-1zM137.9 78.9h1v1h-1zM135.9 73.8h1v1h-1zM135.8 77.4h1v1h-1zM138.5 78.1h1v1h-1zM136.8 79.8h1v1h-1zM137.4 76.9h1v1h-1zM137.6 71.8h1v1h-1zM137.7 72.4h1v1h-1zM137.5 80.0h1v1h-1zM136.0 79.6h1v1h-1zM137.0 73.1h1v1h-1zM138.2 78.3h1v1h-1zM136.3 73.2h1v1h-1zM136.3 75.0h1v1h-1zM137.3 78.9h1v1h-1zM137.4 80.2h1v1h-1zM136.1 71.8h1v1h-1zM136.3 78.8h1v1h-1zM136.9 71.3h1v1h-1zM137.9 77.6h1v1h-1zM137.2 70.7h1v1h-1zM136.4 76.7h1v1h-1zM138.7 73.3h1v1h-1zM137.4 74.9h1v1h-1zM137.0 73.8h1v1h-1zM136.0 73.4h1v1h-1zM137.3 77.8h1v1h-1zM136.2 77.7h1v1h-1zM137.7 75.2h1v1h-1zM138.0 72.4h1v1h-1zM137.9 76.9h1v1h-1zM138.0 79.6h1v1h-1zM137.3 76.1h1v1h-1zM136.9 73.1h1v1h-1zM137.7 75.0h1v1h-1zM138.8 77.6h1v1h-1zM136.6 73.5h1v1h-1zM138.1 74.5h1v1h-1zM136.2 75.9h1v1h-1zM137.6 77.7h1v1h-1zM137.7 73.3h1v1h-1zM136.2 79.6h1v1h-1zM138.6 74.4h1v1h-1zM138.0 78.4h1v1h-1zM136.5 72.6h1v1h-1zM135.4 76.5h1v1h-1zM137.1 80.5h1v1h-1zM137.7 78.6h1v1h-1zM138.3 74.6h1v1h-1zM137.3 73.5h1v1h-1zM137.7 71.9h1v1h-1zM136.4 72.3h1v1h-1zM136.7 73.2h1v1h-1zM136.8 76.8h1v1h-1zM138.7 74.6h1v1h-1zM138.1 74.7h1v1h-1zM138.4 78.3h1v1h-1zM137.1 76.9h1v1h-1zM136.9 75.1h1v1h-1zM137.7 76.8h1v1h-1zM138.2 75.0h1v1h-1zM137.4 78.6h1v1h-1zM138.0 75.4h1v1h-1zM138.2 75.3h1v1h-1zM137.6 75.4h1v1h-1zM138.6 77.1h1v1h-1zM138.5 76.3h1v1h-1zM138.4 76.6h1v1h-1zM136.7 72.2h1v1h-1zM135.8 76.1h1v1h-1zM136.3 78.0h1v1h-1zM137.5 76.0h1v1h-1zM136.1 76.1h1v1h-1zM137.7 73.3h1v1h-1zM137.1 79.9h1v1h-1zM137.9 79.7h1v1h-1zM138.5 74.5h1v1h-1zM138.0 73.2h1v1h-1zM136.0 75.9h1v1h-1zM136.6 76.7h1v1h-1zM135.6 74.3h1v1h-1zM138.1 78.2h1v1h-1zM136.2 74.9h1v1h-1zM138.4 73.2h1v1h-1zM137.5 78.2h1v1h-1zM136.7 72.4h1v1h-1zM137.6 79.5h1v1h-1zM137.7 77.3h1v1h-1zM136.7 78.5h1v1h-1zM136.9 74.4h1v1h-1zM136.0 77.6h1v1h-1zM137.2 70.9h1v1h-1zM135.5 75.2h1v1h-1zM138.0 75.2h1v1h-1zM137.5 79.6h1v1h-1zM137.4 72.2h1v1h-1zM137.6 78.6h1v1h-1zM136.7 77.7h1v1h-1zM137.5 75.9h1v1h-1zM137.4 71.9h1v1h-1zM136.2 78.2h1v1h-1zM136.7 77.6h1v1h-1zM135.4 75.5h1v1h-1zM138.4 77.1h1v1h-1zM137.3 74.8h1v1h-1zM137.7 77.5h1v1h-1zM138.0 75.8h1v1h-1zM137.9 77.8h1v1h-1zM136.6 78.8h1v1h-1zM138.1 73.3h1v1h-1zM135.5 76.3h1v1h-1zM138.7 77.4h1v1h-1zM135.9 72.7h1v1h-1zM135.9 75.1h1v1h-1zM137.3 72.5h1v1h-1zM136.0 75.7h1v1h-1zM136.9 71.1h1v1h-1zM138.5 74.6h1v1h-1zM137.5 72.3h1v1h-1zM137.7 75.8h1v1h-1zM135.9 74.2h1v1h-1zM138.8 76.4h1v1h-1zM135.5 74.9h1v1h-1zM136.3 73.5h1v1h-1zM136.4 79.4h1v1h-1zM137.7 74.1h1v1h-1zM136.6 73.7h1v1h-1zM136.5 76.1h1v1h-1zM137.3 71.7h1v1h-1zM136.9 73.3h1v1h-1zM137.4 74.0h1v1h-1zM136.1 76.0h1v1h-1zM136.8 75.8h1v1h-1zM137.4 78.4h1v1h-1zM135.9 74.6h1v1h-1zM138.2 76.0h1v1h-1zM136.3 79.0h1v1h-1zM136.3 78.7h1v1h-1zM137.7 77.2h1v1h-1zM138.0 77.2h1v1h-1zM136.1 78.7h1v1h-1zM137.8 75.2h1v1h-1zM137.5 78.3h1v1h-1zM136.2 78.9h1v1h-1zM136.4 74.6h1v1h-1zM136.5 71.2h1v1h-1zM136.0 73.3h1v1h-1zM135.9 76.3h1v1h-1zM137.9 79.3h1v1h-1zM137.9 77.1h1v1h-1zM137.0 79.8h1v1h-1zM137.7 72.1h1v1h-1zM138.5 76.8h1v1h-1zM137.9 74.5h1v1h-1zM137.4 72.2h1v1h-1zM136.9 76.7h1v1h-1zM137.2 71.6h1v1h-1zM137.4 75.9h1v1h-1zM138.4 75.7h1v1h-1zM136.3 75.7h1v1h-1zM137.3 70.8h1v1h-1zM137.4 79.9h1v1h-1zM136.4 72.7h1v1h-1zM136.8 75.0h1v1h-1zM137.0 72.8h1v1h-1zM135.9 73.9h1v1h-1zM137.3 77.0h1v1h-1zM138.1 74.1h1v1h-1zM137.9 78.0h1v1h-1zM136.5 77.1h1v1h-1zM137.9 76.1h1v1h-1zM136.2 77.1h1v1h-1zM137.7 73.3h1v1h-1zM137.5 80.4h1v1h-1zM137.3 76.8h1v1h-1zM137.5 73.9h1v1h-1zM137.5 78.6h1v1h-1zM138.3 74.0h1v1h-1zM137.4 76.6h1v1h-1zM138.1 79.8h1v1h-1zM136.5 74.1h1v1h-1zM136.8 71.9h1v1h-1zM136.3 77.8h1v1h-1zM137.6 79.2h1v1h-1zM137.5 71.6h1v1h-1zM136.0 72.3h1v1h-1zM138.7 76.5h1v1h-1zM136.5 80.5h1v1h-1zM138.1 73.1h1v1h-1zM137.8 74.1h1v1h-1zM137.1 77.2h1v1h-1zM136.2 79.2h1v1h-1zM136.9 78.1h1v1h-1zM137.9 78.5h1v1h-1zM135.8 73.0h1v1h-1zM136.1 77.9h1v1h-1zM136.9 77.1h1v1h-1zM136.4 72.0h1v1h-1zM137.3 74.9h1v1h-1zM138.1 72.6h1v1h-1zM136.4 76.8h1v1h-1zM136.0 72.1h1v1h-1zM138.3 74.7h1v1h-1zM138.0 76.7h1v1h-1zM136.7 78.2h1v1h-1zM137.2 76.8h1v1h-1zM135.6 77.1h1v1h-1zM135.7 75.2h1v1h-1zM137.2 72.6h1v1h-1zM137.7 71.6h1v1h-1zM138.8 75.7h1v1h-1zM138.2 75.8h1v1h-1zM136.5 72.3h1v1h-1zM137.9 80.2h1v1h-1zM137.8 77.3h1v1h-1zM137.7 80.6h1v1h-1zM138.1 74.8h1v1h-1zM137.7 79.1h1v1h-1zM138.0 75.3h1v1h-1zM136.6 80.2h1v1h-1zM136.3 76.3h1v1h-1zM138.5 74.3h1v1h-1zM136.9 72.0h1v1h-1zM137.1 78.9h1v1h-1zM138.4 73.6h1v1h-1zM136.5 77.8h1v1h-1zM135.7 77.6h1v1h-1zM136.4 72.9h1v1h-1zM138.8 76.0h1v1h-1zM137.7 76.7h1v1h-1zM138.2 75.4h1v1h-1zM137.7 72.5h1v1h-1zM137.5 73.8h1v1h-1zM137.0 79.9h1v1h-1zM136.2 77.5h1v1h-1zM136.1 72.8h1v1h-1zM137.5 75.1h1v1h-1zM135.7 73.6h1v1h-1zM138.4 72.9h1v1h-1zM136.9 79.8h1v1h-1zM136.4 74.8h1v1h-1zM138.5 78.5h1v1h-1zM137.1 80.2h1v1h-1zM138.5 78.9h1v1h-1zM137.9 77.9h1v1h-1zM137.3 73.3h1v1h-1zM137.0 77.2h1v1h-1zM135.7 73.8h1v1h-1zM138.6 76.4h1v1h-1zM137.9 78.2h1v1h-1zM137.3 73.8h1v1h-1zM136.7 74.2h1v1h-1zM137.2 80.7h1v1h-1z" fill="#dc7c2a" fill-opacity="0.95"/>
</g>
<path d="M162.3 52.3H196.5V102H182.5L177.7 98.5H162.3Z" fill="none" stroke="#555" stroke-width="0.8"/>
<rect x="132" y="48" width="68.5" height="67.5" fill="none" stroke="#111" stroke-width="1.1"/>
<line x1="132" y1="48" x2="132" y2="116.1" stroke="#111" stroke-width="1.5"/>
<line x1="131.4" y1="115.7" x2="200.5" y2="115.7" stroke="#111" stroke-width="1.9"/>
<path d="M138 115.5v3.4M147.3 115.5v3.4M163.5 115.5v3.4M179.6 115.5v3.4M195.8 115.5v3.4M152.2 115.5v2.2M155 115.5v2.2M157.1 115.5v2.2M158.6 115.5v2.2M159.9 115.5v2.2M161 115.5v2.2M161.9 115.5v2.2M162.8 115.5v2.2M168.3 115.5v2.2M171.2 115.5v2.2M173.2 115.5v2.2M174.8 115.5v2.2M176 115.5v2.2M177.1 115.5v2.2M178 115.5v2.2M178.9 115.5v2.2M184.5 115.5v2.2M187.3 115.5v2.2M189.4 115.5v2.2M190.9 115.5v2.2M192.2 115.5v2.2M193.3 115.5v2.2M194.2 115.5v2.2M195.1 115.5v2.2M140.3 115.5v2.2M142.7 115.5v2.2M145 115.5v2.2" stroke="#111" stroke-width="1.0" fill="none"/>
<path d="M132 108.5h-3.4M132 101h-3.4M132 85.5h-3.4M132 70.3h-3.4M132 55.2h-3.4M132 96.3h-2.2M132 93.6h-2.2M132 91.7h-2.2M132 90.2h-2.2M132 88.9h-2.2M132 87.9h-2.2M132 87h-2.2M132 86.2h-2.2M132 80.9h-2.2M132 78.2h-2.2M132 76.3h-2.2M132 74.9h-2.2M132 73.7h-2.2M132 72.7h-2.2M132 71.8h-2.2M132 71h-2.2M132 65.8h-2.2M132 63.1h-2.2M132 61.2h-2.2M132 59.7h-2.2M132 58.5h-2.2M132 57.5h-2.2M132 56.7h-2.2M132 55.9h-2.2M132 106.6h-2.2M132 104.8h-2.2M132 102.9h-2.2" stroke="#111" stroke-width="1.0" fill="none"/>
<text x="138" y="126.6" font-size="5.2" fill="#222" text-anchor="middle" stroke="#222" stroke-width="0.14">0</text>
<text x="148.1" y="126.6" font-size="5.2" fill="#222" text-anchor="middle" stroke="#222" stroke-width="0.14">10<tspan dy="-2" font-size="2.9">2</tspan></text>
<text x="164.3" y="126.6" font-size="5.2" fill="#222" text-anchor="middle" stroke="#222" stroke-width="0.14">10<tspan dy="-2" font-size="2.9">3</tspan></text>
<text x="180.4" y="126.6" font-size="5.2" fill="#222" text-anchor="middle" stroke="#222" stroke-width="0.14">10<tspan dy="-2" font-size="2.9">4</tspan></text>
<text x="196.6" y="126.6" font-size="5.2" fill="#222" text-anchor="middle" stroke="#222" stroke-width="0.14">10<tspan dy="-2" font-size="2.9">5</tspan></text>
<text x="125.9" y="110.3" font-size="5.2" fill="#222" text-anchor="end" stroke="#222" stroke-width="0.14">0</text>
<text x="125.9" y="102.8" font-size="5.2" fill="#222" text-anchor="end" stroke="#222" stroke-width="0.14">10<tspan dy="-2" font-size="2.9">2</tspan></text>
<text x="125.9" y="87.3" font-size="5.2" fill="#222" text-anchor="end" stroke="#222" stroke-width="0.14">10<tspan dy="-2" font-size="2.9">3</tspan></text>
<text x="125.9" y="72.1" font-size="5.2" fill="#222" text-anchor="end" stroke="#222" stroke-width="0.14">10<tspan dy="-2" font-size="2.9">4</tspan></text>
<text x="125.9" y="57" font-size="5.2" fill="#222" text-anchor="end" stroke="#222" stroke-width="0.14">10<tspan dy="-2" font-size="2.9">5</tspan></text>
<text x="197.6" y="53.5" font-size="7.3" fill="#222" text-anchor="end" textLength="20.5" lengthAdjust="spacingAndGlyphs" stroke="#222" stroke-width="0.22">24.5%</text>
<g filter="url(#b4)">
<path d="M243.8 84.8h1v1h-1zM261.1 89.6h1v1h-1zM274.4 84.9h1v1h-1zM263.6 81.7h1v1h-1zM267.8 85.7h1v1h-1zM270.3 87.3h1v1h-1zM260.8 75.4h1v1h-1zM264.9 73.2h1v1h-1zM253.9 83.0h1v1h-1zM259.1 81.2h1v1h-1zM271.2 87.1h1v1h-1zM262.0 72.5h1v1h-1zM259.0 97.2h1v1h-1zM238.7 98.0h1v1h-1zM251.8 63.4h1v1h-1zM245.2 84.9h1v1h-1zM226.8 106.4h1v1h-1zM274.4 97.1h1v1h-1zM256.1 63.4h1v1h-1zM260.8 70.6h1v1h-1zM232.3 99.3h1v1h-1zM228.4 106.3h1v1h-1zM220.1 111.4h1v1h-1zM244.3 74.1h1v1h-1zM267.7 94.9h1v1h-1zM253.8 80.1h1v1h-1zM233.0 100.6h1v1h-1zM226.1 110.0h1v1h-1zM251.9 90.5h1v1h-1zM258.5 90.7h1v1h-1zM234.5 104.3h1v1h-1zM270.8 92.5h1v1h-1zM254.4 92.1h1v1h-1zM269.9 89.7h1v1h-1zM225.0 97.3h1v1h-1zM251.1 68.7h1v1h-1zM225.4 104.9h1v1h-1zM242.8 86.2h1v1h-1zM253.3 98.6h1v1h-1zM255.6 63.8h1v1h-1zM269.5 90.9h1v1h-1zM262.1 65.6h1v1h-1zM242.8 79.5h1v1h-1zM253.1 80.8h1v1h-1zM222.6 99.0h1v1h-1zM232.5 82.3h1v1h-1zM239.1 76.0h1v1h-1zM234.0 90.4h1v1h-1zM261.1 70.0h1v1h-1zM251.1 91.0h1v1h-1zM258.3 98.1h1v1h-1zM260.9 69.9h1v1h-1zM268.2 60.4h1v1h-1zM259.6 62.1h1v1h-1zM265.6 75.5h1v1h-1zM238.3 78.8h1v1h-1zM263.3 77.5h1v1h-1zM237.7 91.8h1v1h-1zM268.3 98.9h1v1h-1zM244.4 94.0h1v1h-1zM252.3 75.0h1v1h-1zM225.4 99.6h1v1h-1zM267.6 84.6h1v1h-1zM238.7 86.0h1v1h-1zM242.8 88.5h1v1h-1zM235.1 97.4h1v1h-1zM238.7 75.0h1v1h-1zM253.4 93.4h1v1h-1zM255.0 73.5h1v1h-1zM262.4 96.0h1v1h-1zM223.0 112.6h1v1h-1zM271.5 76.4h1v1h-1zM264.6 84.4h1v1h-1zM268.1 92.0h1v1h-1zM251.3 63.9h1v1h-1zM261.2 87.3h1v1h-1zM259.2 94.1h1v1h-1zM271.4 70.8h1v1h-1zM258.1 98.9h1v1h-1zM252.4 90.6h1v1h-1zM250.9 98.1h1v1h-1zM219.8 108.3h1v1h-1zM241.7 99.1h1v1h-1zM258.9 65.4h1v1h-1zM237.3 91.7h1v1h-1zM253.2 77.7h1v1h-1zM263.0 80.0h1v1h-1zM274.7 99.3h1v1h-1zM245.4 73.8h1v1h-1zM220.3 99.5h1v1h-1zM268.2 83.1h1v1h-1zM265.8 90.8h1v1h-1zM232.5 92.2h1v1h-1zM219.3 105.8h1v1h-1zM244.0 100.4h1v1h-1zM262.4 90.1h1v1h-1zM258.2 69.8h1v1h-1zM260.1 71.0h1v1h-1zM274.5 77.5h1v1h-1zM219.7 110.2h1v1h-1zM266.1 89.6h1v1h-1zM264.1 94.7h1v1h-1zM264.1 77.6h1v1h-1zM226.7 102.1h1v1h-1zM258.4 78.9h1v1h-1zM271.0 73.4h1v1h-1zM266.7 62.2h1v1h-1zM261.5 94.5h1v1h-1zM250.3 69.7h1v1h-1zM224.8 93.8h1v1h-1zM234.7 101.8h1v1h-1zM268.8 82.6h1v1h-1zM257.4 90.1h1v1h-1zM239.9 80.5h1v1h-1zM235.2 90.0h1v1h-1zM250.1 89.4h1v1h-1zM233.1 96.7h1v1h-1zM220.8 108.5h1v1h-1zM251.4 75.2h1v1h-1zM254.6 76.0h1v1h-1zM240.8 88.9h1v1h-1zM264.9 81.6h1v1h-1zM252.6 80.1h1v1h-1zM254.3 84.0h1v1h-1zM265.7 90.1h1v1h-1zM250.6 88.5h1v1h-1zM271.7 77.6h1v1h-1zM262.6 91.5h1v1h-1zM259.8 68.6h1v1h-1zM243.5 95.9h1v1h-1zM219.0 106.1h1v1h-1zM239.1 86.4h1v1h-1zM263.0 69.3h1v1h-1zM257.9 96.3h1v1h-1zM242.1 83.9h1v1h-1zM251.3 96.3h1v1h-1zM257.1 81.5h1v1h-1zM258.4 87.1h1v1h-1zM232.9 104.2h1v1h-1zM262.6 93.8h1v1h-1zM252.9 69.1h1v1h-1zM221.0 108.8h1v1h-1zM256.8 81.1h1v1h-1zM256.1 93.2h1v1h-1zM257.1 68.8h1v1h-1zM269.6 63.5h1v1h-1zM239.0 87.4h1v1h-1zM250.2 80.2h1v1h-1zM227.1 100.4h1v1h-1zM254.2 60.0h1v1h-1zM239.8 98.6h1v1h-1zM225.2 108.5h1v1h-1zM269.3 98.7h1v1h-1zM270.3 74.3h1v1h-1zM242.1 87.8h1v1h-1zM224.8 100.7h1v1h-1zM267.0 60.1h1v1h-1zM263.2 73.1h1v1h-1zM264.6 60.4h1v1h-1zM270.5 98.7h1v1h-1zM250.0 95.7h1v1h-1zM267.1 89.7h1v1h-1zM252.5 65.1h1v1h-1zM254.8 60.2h1v1h-1zM266.6 68.6h1v1h-1zM233.8 104.3h1v1h-1zM256.4 81.4h1v1h-1zM257.9 90.8h1v1h-1zM266.1 73.6h1v1h-1zM233.0 83.3h1v1h-1zM260.1 63.7h1v1h-1zM267.0 84.6h1v1h-1zM260.4 78.6h1v1h-1zM256.9 66.8h1v1h-1zM268.7 87.5h1v1h-1zM253.8 65.9h1v1h-1zM243.6 79.1h1v1h-1zM241.3 98.7h1v1h-1zM257.0 76.0h1v1h-1zM257.8 92.9h1v1h-1zM244.4 94.3h1v1h-1zM250.5 91.0h1v1h-1zM254.6 61.3h1v1h-1zM251.4 80.1h1v1h-1zM242.7 73.8h1v1h-1zM222.6 113.0h1v1h-1zM260.0 92.4h1v1h-1zM267.3 71.2h1v1h-1zM221.9 97.4h1v1h-1zM239.5 79.6h1v1h-1zM223.5 109.7h1v1h-1zM227.7 97.2h1v1h-1zM271.5 103.6h1v1h-1zM258.5 75.2h1v1h-1zM263.6 60.0h1v1h-1zM253.3 96.6h1v1h-1zM265.7 93.4h1v1h-1zM262.5 90.1h1v1h-1zM261.0 68.0h1v1h-1zM224.2 97.6h1v1h-1zM252.8 99.4h1v1h-1zM274.4 71.6h1v1h-1zM237.5 80.1h1v1h-1zM270.4 69.9h1v1h-1zM261.2 61.0h1v1h-1zM221.7 111.9h1v1h-1zM252.0 84.9h1v1h-1zM253.6 80.3h1v1h-1zM262.5 68.5h1v1h-1zM261.8 98.7h1v1h-1zM253.4 85.6h1v1h-1zM221.5 94.7h1v1h-1zM258.0 85.7h1v1h-1zM254.4 66.2h1v1h-1zM219.1 107.6h1v1h-1zM268.3 75.6h1v1h-1zM254.9 86.6h1v1h-1zM261.1 92.6h1v1h-1zM222.3 97.8h1v1h-1zM252.3 75.0h1v1h-1zM225.2 102.6h1v1h-1zM240.8 100.9h1v1h-1zM270.4 73.8h1v1h-1zM267.5 96.6h1v1h-1zM235.6 83.9h1v1h-1zM257.3 86.4h1v1h-1zM244.9 82.3h1v1h-1zM274.4 89.5h1v1h-1zM253.7 75.0h1v1h-1zM221.6 98.6h1v1h-1zM240.0 95.7h1v1h-1zM271.4 72.4h1v1h-1zM221.7 99.3h1v1h-1zM271.5 70.9h1v1h-1zM239.0 84.5h1v1h-1zM258.4 69.7h1v1h-1zM260.2 88.3h1v1h-1zM224.7 107.1h1v1h-1zM238.4 75.7h1v1h-1zM257.3 90.5h1v1h-1zM250.0 74.2h1v1h-1zM266.9 70.4h1v1h-1zM236.6 90.8h1v1h-1zM255.1 80.6h1v1h-1zM256.6 79.9h1v1h-1zM251.6 86.4h1v1h-1zM275.6 96.7h1v1h-1zM232.4 94.8h1v1h-1zM236.6 98.8h1v1h-1zM243.2 102.5h1v1h-1zM235.6 97.1h1v1h-1zM235.8 100.0h1v1h-1zM267.9 67.8h1v1h-1zM270.1 96.2h1v1h-1zM223.2 109.1h1v1h-1zM269.0 71.9h1v1h-1zM259.8 96.0h1v1h-1zM266.6 64.8h1v1h-1zM254.8 78.6h1v1h-1zM220.7 106.1h1v1h-1zM264.5 90.4h1v1h-1zM252.6 71.7h1v1h-1zM240.6 104.6h1v1h-1zM225.0 94.0h1v1h-1zM251.4 66.6h1v1h-1zM270.6 67.9h1v1h-1zM238.1 100.0h1v1h-1zM268.8 92.8h1v1h-1zM269.0 77.5h1v1h-1zM265.2 64.6h1v1h-1zM270.6 68.4h1v1h-1zM250.2 80.3h1v1h-1zM222.0 95.7h1v1h-1zM220.3 99.2h1v1h-1zM226.4 96.4h1v1h-1zM260.0 88.2h1v1h-1zM262.0 62.0h1v1h-1zM242.7 98.0h1v1h-1zM270.8 93.6h1v1h-1zM233.8 91.4h1v1h-1zM240.0 84.5h1v1h-1zM226.2 100.4h1v1h-1zM250.1 63.4h1v1h-1zM268.8 61.4h1v1h-1zM268.3 71.2h1v1h-1zM271.3 92.1h1v1h-1zM271.6 95.5h1v1h-1zM234.8 76.7h1v1h-1zM245.4 82.7h1v1h-1zM274.4 88.2h1v1h-1zM257.0 98.3h1v1h-1zM264.8 89.0h1v1h-1zM220.3 101.9h1v1h-1zM259.1 88.7h1v1h-1zM254.2 66.4h1v1h-1zM261.9 84.7h1v1h-1zM267.5 79.0h1v1h-1zM232.9 102.0h1v1h-1zM259.3 80.4h1v1h-1zM260.0 64.1h1v1h-1zM266.7 65.3h1v1h-1zM233.9 83.3h1v1h-1zM234.6 89.8h1v1h-1zM267.0 70.2h1v1h-1zM234.6 97.7h1v1h-1zM256.8 70.5h1v1h-1zM250.4 68.0h1v1h-1zM257.2 65.4h1v1h-1zM260.4 60.7h1v1h-1zM256.6 73.4h1v1h-1zM235.3 105.8h1v1h-1zM262.2 92.3h1v1h-1zM271.5 70.4h1v1h-1zM220.4 102.1h1v1h-1zM251.8 92.9h1v1h-1zM243.4 87.8h1v1h-1zM257.1 72.6h1v1h-1zM255.2 91.6h1v1h-1zM224.2 93.6h1v1h-1zM274.5 96.9h1v1h-1zM220.9 98.0h1v1h-1zM263.7 90.3h1v1h-1zM275.2 101.5h1v1h-1zM271.1 109.3h1v1h-1zM274.3 85.7h1v1h-1zM263.0 68.2h1v1h-1zM270.9 60.3h1v1h-1zM256.9 62.5h1v1h-1zM269.2 95.5h1v1h-1zM235.5 94.1h1v1h-1zM268.0 74.4h1v1h-1zM269.8 85.2h1v1h-1zM268.0 78.5h1v1h-1zM257.9 95.4h1v1h-1zM236.1 78.2h1v1h-1zM252.4 83.0h1v1h-1zM265.0 70.7h1v1h-1zM251.5 62.3h1v1h-1zM260.3 74.2h1v1h-1zM271.4 74.4h1v1h-1zM220.6 102.6h1v1h-1zM236.2 83.8h1v1h-1zM265.5 65.1h1v1h-1zM253.0 90.4h1v1h-1zM251.5 74.5h1v1h-1zM232.6 96.1h1v1h-1zM264.3 90.8h1v1h-1zM270.3 74.3h1v1h-1zM245.7 81.2h1v1h-1zM240.4 77.9h1v1h-1zM257.0 60.4h1v1h-1zM232.8 81.8h1v1h-1zM251.0 85.6h1v1h-1zM222.9 98.3h1v1h-1zM253.2 85.9h1v1h-1zM253.8 90.7h1v1h-1zM253.3 75.7h1v1h-1zM236.0 87.8h1v1h-1zM235.4 93.0h1v1h-1zM255.8 69.8h1v1h-1zM271.4 62.8h1v1h-1zM269.4 67.3h1v1h-1zM240.6 94.5h1v1h-1zM261.3 81.4h1v1h-1zM241.6 94.2h1v1h-1zM251.8 61.1h1v1h-1zM237.0 83.9h1v1h-1zM264.8 69.2h1v1h-1zM262.3 77.7h1v1h-1zM236.1 93.6h1v1h-1zM233.7 89.9h1v1h-1zM270.7 94.7h1v1h-1zM233.1 99.5h1v1h-1zM274.5 109.6h1v1h-1zM239.2 73.3h1v1h-1zM264.1 99.2h1v1h-1zM265.4 82.9h1v1h-1zM234.6 100.5h1v1h-1zM263.4 81.9h1v1h-1zM235.6 82.9h1v1h-1zM221.3 107.6h1v1h-1zM223.4 111.3h1v1h-1zM257.9 77.6h1v1h-1zM266.7 71.4h1v1h-1zM236.1 93.7h1v1h-1zM271.5 92.5h1v1h-1zM237.3 88.8h1v1h-1zM225.2 106.3h1v1h-1zM239.9 90.0h1v1h-1zM250.2 90.1h1v1h-1zM267.6 78.7h1v1h-1zM242.9 83.4h1v1h-1zM236.2 85.9h1v1h-1zM261.8 81.1h1v1h-1zM274.7 72.6h1v1h-1zM257.1 64.9h1v1h-1zM254.6 71.2h1v1h-1zM258.9 81.3h1v1h-1zM257.7 65.8h1v1h-1zM271.1 73.7h1v1h-1zM255.9 73.3h1v1h-1zM245.7 101.2h1v1h-1zM261.3 68.8h1v1h-1zM237.3 88.9h1v1h-1zM241.5 95.8h1v1h-1zM225.8 108.9h1v1h-1zM221.9 90.3h1v1h-1zM274.4 87.0h1v1h-1zM241.2 88.6h1v1h-1zM269.6 86.4h1v1h-1zM267.4 61.5h1v1h-1zM251.3 71.3h1v1h-1zM266.6 92.5h1v1h-1zM236.0 79.2h1v1h-1zM241.0 86.5h1v1h-1zM268.8 62.5h1v1h-1zM251.4 96.4h1v1h-1zM269.9 99.7h1v1h-1zM271.6 82.3h1v1h-1zM243.5 95.5h1v1h-1zM243.5 85.0h1v1h-1zM261.2 86.7h1v1h-1zM223.0 97.6h1v1h-1zM253.6 79.8h1v1h-1zM226.5 111.5h1v1h-1zM226.7 105.2h1v1h-1zM265.3 90.4h1v1h-1zM242.2 92.4h1v1h-1zM261.4 95.6h1v1h-1zM264.2 97.7h1v1h-1zM244.0 93.1h1v1h-1zM267.9 87.8h1v1h-1zM242.5 75.0h1v1h-1zM268.5 74.9h1v1h-1zM274.8 81.4h1v1h-1zM262.6 68.8h1v1h-1zM262.9 93.8h1v1h-1zM252.3 79.9h1v1h-1zM250.7 95.7h1v1h-1zM251.2 98.7h1v1h-1zM245.0 88.4h1v1h-1zM241.1 95.0h1v1h-1zM258.1 98.3h1v1h-1zM259.7 91.6h1v1h-1zM233.3 77.7h1v1h-1zM240.5 73.0h1v1h-1zM266.5 95.0h1v1h-1zM241.4 104.7h1v1h-1zM251.4 89.0h1v1h-1zM219.6 96.0h1v1h-1zM257.4 92.1h1v1h-1zM220.1 104.0h1v1h-1zM267.5 65.0h1v1h-1zM239.3 80.5h1v1h-1zM260.6 66.9h1v1h-1zM266.8 95.5h1v1h-1zM232.3 99.9h1v1h-1zM270.4 62.9h1v1h-1zM254.8 85.6h1v1h-1zM252.5 67.8h1v1h-1zM255.0 63.3h1v1h-1zM238.2 88.4h1v1h-1zM267.4 98.8h1v1h-1zM271.6 63.7h1v1h-1zM250.9 79.4h1v1h-1zM223.1 110.8h1v1h-1zM258.2 66.6h1v1h-1zM252.0 70.4h1v1h-1zM240.0 84.3h1v1h-1zM236.6 85.9h1v1h-1zM243.6 81.5h1v1h-1zM240.4 89.5h1v1h-1zM257.2 61.7h1v1h-1zM261.4 84.5h1v1h-1zM244.2 75.8h1v1h-1zM271.4 98.5h1v1h-1zM274.5 63.1h1v1h-1zM238.7 72.1h1v1h-1zM256.1 94.2h1v1h-1zM261.0 92.3h1v1h-1zM240.4 75.0h1v1h-1zM235.7 90.4h1v1h-1zM250.7 99.2h1v1h-1zM225.8 98.3h1v1h-1zM267.7 84.2h1v1h-1zM220.6 107.1h1v1h-1zM266.4 97.6h1v1h-1zM266.0 99.3h1v1h-1zM255.2 70.1h1v1h-1zM256.0 93.4h1v1h-1zM221.2 106.8h1v1h-1zM234.3 84.5h1v1h-1zM237.8 88.6h1v1h-1zM242.0 84.7h1v1h-1zM235.5 73.7h1v1h-1zM262.0 60.9h1v1h-1z" fill="#b4b4d6" fill-opacity="0.55"/>
<path d="M223.2 106.6h1v1h-1zM274.0 92.3h1v1h-1zM271.7 78.1h1v1h-1zM223.3 101.5h1v1h-1zM222.8 102.3h1v1h-1zM274.1 81.8h1v1h-1zM272.0 105.2h1v1h-1zM273.9 92.2h1v1h-1zM274.1 100.6h1v1h-1zM271.9 95.4h1v1h-1zM271.8 103.5h1v1h-1zM274.0 67.2h1v1h-1zM222.6 107.1h1v1h-1zM274.0 62.0h1v1h-1zM222.5 101.1h1v1h-1zM223.8 105.7h1v1h-1zM273.9 63.9h1v1h-1zM222.5 104.2h1v1h-1zM271.8 102.8h1v1h-1zM223.1 106.1h1v1h-1zM222.4 107.7h1v1h-1zM274.1 98.2h1v1h-1zM272.1 66.0h1v1h-1zM271.7 80.6h1v1h-1zM271.9 67.4h1v1h-1zM223.4 103.1h1v1h-1zM223.2 105.8h1v1h-1zM274.1 77.3h1v1h-1zM223.0 101.5h1v1h-1zM222.2 105.5h1v1h-1zM272.0 96.7h1v1h-1zM223.8 100.2h1v1h-1zM274.0 78.5h1v1h-1zM274.3 79.5h1v1h-1zM222.9 107.0h1v1h-1zM274.0 73.6h1v1h-1zM272.0 74.3h1v1h-1zM272.0 95.9h1v1h-1zM274.2 102.2h1v1h-1zM223.8 107.5h1v1h-1zM222.6 102.4h1v1h-1zM221.9 103.9h1v1h-1zM222.8 107.8h1v1h-1zM274.0 101.8h1v1h-1zM272.0 85.2h1v1h-1zM271.8 64.0h1v1h-1zM223.0 100.7h1v1h-1zM274.2 77.5h1v1h-1zM223.9 107.0h1v1h-1zM224.2 103.4h1v1h-1zM271.9 108.6h1v1h-1zM274.1 75.5h1v1h-1zM221.8 104.0h1v1h-1zM271.7 104.0h1v1h-1zM274.0 64.9h1v1h-1zM271.7 104.9h1v1h-1zM271.8 71.0h1v1h-1zM272.0 78.3h1v1h-1zM274.0 66.8h1v1h-1zM273.9 90.4h1v1h-1zM271.8 80.7h1v1h-1zM224.8 105.9h1v1h-1zM271.8 65.0h1v1h-1zM271.8 78.1h1v1h-1zM222.7 104.9h1v1h-1zM222.3 106.1h1v1h-1zM222.0 104.4h1v1h-1zM273.9 96.4h1v1h-1zM271.7 62.2h1v1h-1zM274.3 64.3h1v1h-1zM274.1 66.5h1v1h-1zM222.5 105.2h1v1h-1zM221.0 103.2h1v1h-1zM271.9 94.1h1v1h-1z" fill="#8e94bc" fill-opacity="0.65"/>
<path d="M220.9 72.3h1v1h-1zM219.5 75.1h1v1h-1zM223.8 84.8h1v1h-1zM221.9 71.4h1v1h-1zM220.2 78.1h1v1h-1zM222.1 60.6h1v1h-1zM227.1 94.9h1v1h-1zM224.8 77.2h1v1h-1zM226.1 95.6h1v1h-1zM228.6 86.9h1v1h-1zM223.3 76.5h1v1h-1zM224.1 76.7h1v1h-1zM223.4 76.6h1v1h-1zM224.2 80.7h1v1h-1zM224.8 70.8h1v1h-1zM222.7 76.3h1v1h-1zM224.7 69.4h1v1h-1zM222.6 65.7h1v1h-1zM222.3 75.6h1v1h-1zM221.7 86.7h1v1h-1zM225.3 78.6h1v1h-1zM220.8 82.5h1v1h-1zM222.9 80.4h1v1h-1zM225.1 88.7h1v1h-1zM223.1 89.0h1v1h-1zM224.0 71.8h1v1h-1zM224.8 81.0h1v1h-1zM220.3 92.7h1v1h-1zM222.1 74.9h1v1h-1zM225.9 68.0h1v1h-1zM224.7 83.8h1v1h-1zM225.5 96.5h1v1h-1zM230.8 89.5h1v1h-1zM224.9 77.5h1v1h-1zM220.1 57.3h1v1h-1zM221.7 74.8h1v1h-1zM221.2 67.1h1v1h-1zM221.9 89.3h1v1h-1zM219.4 66.3h1v1h-1zM225.5 56.1h1v1h-1zM221.7 72.4h1v1h-1zM219.7 71.9h1v1h-1zM223.5 82.0h1v1h-1zM223.0 86.1h1v1h-1zM221.9 85.7h1v1h-1zM226.1 79.6h1v1h-1zM227.5 70.5h1v1h-1zM226.8 88.2h1v1h-1zM221.0 64.7h1v1h-1zM222.1 92.2h1v1h-1zM227.1 92.6h1v1h-1zM224.2 65.8h1v1h-1zM222.2 89.8h1v1h-1zM227.9 75.0h1v1h-1zM222.4 91.4h1v1h-1zM225.6 91.3h1v1h-1zM227.2 100.3h1v1h-1zM222.4 72.0h1v1h-1zM226.2 89.7h1v1h-1zM222.2 83.9h1v1h-1zM222.7 83.0h1v1h-1zM220.2 64.7h1v1h-1zM225.8 96.3h1v1h-1zM223.3 84.5h1v1h-1zM223.1 58.5h1v1h-1zM222.7 100.8h1v1h-1zM224.4 93.8h1v1h-1zM220.5 87.0h1v1h-1zM225.4 68.4h1v1h-1zM226.8 90.1h1v1h-1zM221.5 94.9h1v1h-1zM223.9 69.6h1v1h-1zM220.4 82.1h1v1h-1zM224.5 81.6h1v1h-1zM224.5 89.4h1v1h-1zM219.9 100.4h1v1h-1zM222.6 75.1h1v1h-1zM223.2 73.9h1v1h-1zM230.3 69.0h1v1h-1zM226.0 68.8h1v1h-1zM221.2 63.1h1v1h-1zM224.7 58.7h1v1h-1zM220.0 61.6h1v1h-1zM222.0 68.3h1v1h-1zM222.5 88.6h1v1h-1zM223.7 72.9h1v1h-1zM223.2 77.6h1v1h-1zM221.8 90.1h1v1h-1zM220.8 109.3h1v1h-1zM226.3 86.4h1v1h-1zM227.6 80.5h1v1h-1zM221.3 90.7h1v1h-1zM224.9 82.9h1v1h-1zM227.1 80.5h1v1h-1zM224.7 94.7h1v1h-1zM222.5 78.3h1v1h-1zM225.1 60.8h1v1h-1zM230.0 81.0h1v1h-1zM222.4 84.8h1v1h-1zM225.5 82.1h1v1h-1zM227.6 68.8h1v1h-1zM228.2 77.6h1v1h-1zM224.0 81.1h1v1h-1zM222.8 52.6h1v1h-1zM226.2 67.8h1v1h-1zM227.4 72.6h1v1h-1zM223.2 72.9h1v1h-1zM221.7 83.6h1v1h-1zM222.6 73.4h1v1h-1zM223.9 48.8h1v1h-1zM220.4 76.9h1v1h-1zM220.4 76.5h1v1h-1zM226.3 73.9h1v1h-1zM224.0 75.0h1v1h-1zM233.9 65.3h1v1h-1zM221.4 88.6h1v1h-1zM227.0 79.1h1v1h-1zM225.0 77.6h1v1h-1zM225.2 83.2h1v1h-1zM224.6 61.9h1v1h-1zM221.6 82.1h1v1h-1zM220.6 76.9h1v1h-1zM227.2 65.9h1v1h-1zM220.1 68.8h1v1h-1zM225.0 70.0h1v1h-1zM226.2 78.3h1v1h-1zM224.4 85.4h1v1h-1zM222.9 82.7h1v1h-1zM222.3 73.8h1v1h-1zM219.1 71.1h1v1h-1zM225.3 76.7h1v1h-1zM222.5 75.3h1v1h-1zM226.6 94.3h1v1h-1zM223.5 75.5h1v1h-1zM219.1 77.6h1v1h-1zM221.8 74.4h1v1h-1zM221.6 77.9h1v1h-1zM219.5 73.1h1v1h-1zM222.8 85.5h1v1h-1zM225.5 104.5h1v1h-1zM219.6 89.2h1v1h-1zM223.6 84.7h1v1h-1zM223.7 59.7h1v1h-1zM220.4 74.7h1v1h-1zM221.2 60.2h1v1h-1zM225.4 75.0h1v1h-1zM223.8 69.9h1v1h-1zM220.6 73.0h1v1h-1zM224.0 81.4h1v1h-1zM223.9 90.6h1v1h-1zM222.8 77.6h1v1h-1zM222.2 72.4h1v1h-1zM220.5 65.9h1v1h-1zM223.3 87.6h1v1h-1zM223.3 79.4h1v1h-1zM225.0 78.6h1v1h-1zM221.0 88.7h1v1h-1zM224.5 77.4h1v1h-1zM220.9 70.0h1v1h-1zM224.1 84.3h1v1h-1zM223.0 93.3h1v1h-1zM225.6 90.5h1v1h-1zM224.1 62.9h1v1h-1zM226.1 79.4h1v1h-1zM230.7 102.5h1v1h-1zM223.4 79.4h1v1h-1zM223.5 90.6h1v1h-1zM226.4 66.5h1v1h-1zM228.2 69.4h1v1h-1zM218.9 105.5h1v1h-1zM228.3 81.7h1v1h-1zM224.6 80.9h1v1h-1zM220.8 57.2h1v1h-1zM223.1 81.7h1v1h-1zM223.5 103.6h1v1h-1zM223.9 77.0h1v1h-1zM224.1 87.3h1v1h-1zM226.2 92.3h1v1h-1zM232.5 85.8h1v1h-1zM226.6 89.7h1v1h-1zM221.8 68.9h1v1h-1zM219.8 66.5h1v1h-1zM223.1 88.6h1v1h-1zM224.6 91.9h1v1h-1zM222.2 89.4h1v1h-1zM223.6 81.7h1v1h-1zM224.6 66.6h1v1h-1zM226.4 85.4h1v1h-1zM225.9 51.9h1v1h-1zM225.8 82.2h1v1h-1zM222.6 83.0h1v1h-1zM224.2 80.5h1v1h-1zM219.7 59.0h1v1h-1zM227.9 83.4h1v1h-1zM223.1 84.2h1v1h-1zM222.6 85.6h1v1h-1zM219.6 107.6h1v1h-1zM220.7 69.3h1v1h-1zM222.6 91.7h1v1h-1zM223.2 71.3h1v1h-1zM224.0 58.8h1v1h-1zM220.7 77.2h1v1h-1zM223.0 75.9h1v1h-1zM219.8 66.4h1v1h-1zM229.1 79.4h1v1h-1zM220.1 62.8h1v1h-1zM222.8 85.2h1v1h-1zM226.1 73.5h1v1h-1zM225.7 73.7h1v1h-1zM223.6 65.3h1v1h-1zM223.1 95.2h1v1h-1zM224.7 62.1h1v1h-1zM224.0 80.0h1v1h-1zM224.4 106.3h1v1h-1zM221.7 74.7h1v1h-1zM218.9 94.7h1v1h-1zM227.3 65.2h1v1h-1zM221.6 78.4h1v1h-1zM226.2 90.0h1v1h-1zM222.3 86.0h1v1h-1zM224.9 66.1h1v1h-1zM225.6 88.1h1v1h-1zM224.6 86.4h1v1h-1zM223.4 69.3h1v1h-1zM221.5 73.1h1v1h-1zM221.0 84.0h1v1h-1zM223.8 90.1h1v1h-1zM226.0 72.9h1v1h-1zM222.9 69.3h1v1h-1zM222.7 72.9h1v1h-1zM219.6 85.8h1v1h-1zM221.7 93.7h1v1h-1zM221.9 70.7h1v1h-1zM230.0 76.4h1v1h-1zM224.8 93.3h1v1h-1zM222.0 67.0h1v1h-1zM225.2 61.3h1v1h-1zM219.1 64.7h1v1h-1zM224.4 82.6h1v1h-1zM219.0 68.4h1v1h-1zM222.2 69.4h1v1h-1zM222.1 59.7h1v1h-1zM219.1 80.6h1v1h-1zM220.6 80.3h1v1h-1zM218.8 65.0h1v1h-1zM226.8 81.0h1v1h-1zM230.9 106.2h1v1h-1zM225.5 83.7h1v1h-1zM220.9 78.4h1v1h-1zM222.1 73.4h1v1h-1zM224.8 87.7h1v1h-1zM221.1 88.7h1v1h-1zM221.1 76.2h1v1h-1zM229.9 93.8h1v1h-1zM228.5 87.4h1v1h-1zM220.7 69.9h1v1h-1zM228.8 72.5h1v1h-1zM230.4 97.1h1v1h-1zM229.3 54.9h1v1h-1zM224.6 62.5h1v1h-1zM224.0 76.7h1v1h-1zM227.0 84.5h1v1h-1zM230.2 100.3h1v1h-1zM220.7 82.9h1v1h-1zM219.0 72.6h1v1h-1zM220.3 93.2h1v1h-1z" fill="#34427a" fill-opacity="0.7"/>
<path d="M272.5 67.9h1v1h-1zM273.8 79.6h1v1h-1zM273.3 68.8h1v1h-1zM272.9 70.9h1v1h-1zM273.1 89.1h1v1h-1zM273.2 68.6h1v1h-1zM273.2 76.1h1v1h-1zM273.0 86.8h1v1h-1zM273.5 68.5h1v1h-1zM272.5 97.4h1v1h-1zM273.0 85.7h1v1h-1zM273.6 98.3h1v1h-1zM272.7 104.2h1v1h-1zM273.0 106.8h1v1h-1zM273.2 97.6h1v1h-1zM273.0 73.2h1v1h-1zM273.0 79.1h1v1h-1zM273.3 63.6h1v1h-1zM272.8 82.7h1v1h-1zM273.1 97.9h1v1h-1zM273.5 105.0h1v1h-1zM272.7 91.6h1v1h-1zM273.1 97.6h1v1h-1zM272.6 91.4h1v1h-1zM273.1 80.0h1v1h-1zM273.6 104.2h1v1h-1zM273.8 67.6h1v1h-1zM272.7 76.2h1v1h-1zM273.1 72.3h1v1h-1zM272.3 101.7h1v1h-1zM273.3 87.1h1v1h-1zM272.8 98.9h1v1h-1zM272.7 77.2h1v1h-1zM273.4 81.6h1v1h-1zM273.0 66.7h1v1h-1zM272.7 83.4h1v1h-1zM272.6 79.0h1v1h-1zM273.1 82.7h1v1h-1zM273.2 69.6h1v1h-1zM272.7 101.9h1v1h-1zM273.5 74.1h1v1h-1zM272.1 79.3h1v1h-1zM273.6 98.7h1v1h-1zM273.4 106.0h1v1h-1zM273.6 75.4h1v1h-1zM272.4 62.5h1v1h-1zM273.1 93.4h1v1h-1zM273.3 75.3h1v1h-1zM273.8 73.6h1v1h-1zM272.3 79.1h1v1h-1zM273.5 72.9h1v1h-1zM272.4 65.1h1v1h-1zM273.7 76.6h1v1h-1zM272.7 76.5h1v1h-1zM272.5 91.6h1v1h-1zM272.5 66.2h1v1h-1zM273.0 62.5h1v1h-1zM272.8 64.7h1v1h-1zM272.2 65.5h1v1h-1zM272.2 70.5h1v1h-1zM272.6 77.0h1v1h-1zM273.1 86.5h1v1h-1zM273.1 100.6h1v1h-1zM272.4 85.3h1v1h-1zM272.5 64.9h1v1h-1zM273.8 99.3h1v1h-1zM273.7 92.1h1v1h-1zM273.4 92.5h1v1h-1zM273.8 107.7h1v1h-1zM272.5 76.7h1v1h-1zM273.1 76.2h1v1h-1zM273.8 109.2h1v1h-1zM273.3 69.1h1v1h-1zM272.3 72.0h1v1h-1zM272.9 71.4h1v1h-1zM273.7 98.0h1v1h-1zM272.8 77.0h1v1h-1zM272.2 70.6h1v1h-1zM273.5 67.1h1v1h-1zM273.6 82.4h1v1h-1zM273.2 95.6h1v1h-1zM273.5 102.3h1v1h-1zM273.1 101.7h1v1h-1zM272.8 69.7h1v1h-1zM273.2 85.6h1v1h-1zM273.3 64.4h1v1h-1zM273.6 97.1h1v1h-1zM273.1 93.9h1v1h-1zM273.4 88.0h1v1h-1zM272.6 96.8h1v1h-1zM272.8 71.0h1v1h-1zM272.6 75.9h1v1h-1zM273.2 89.9h1v1h-1zM273.0 90.1h1v1h-1zM273.2 88.0h1v1h-1zM272.9 82.9h1v1h-1zM272.8 104.5h1v1h-1zM273.4 99.7h1v1h-1zM272.3 81.1h1v1h-1zM272.6 79.3h1v1h-1zM272.6 92.4h1v1h-1zM272.2 80.6h1v1h-1zM272.7 70.6h1v1h-1zM273.6 62.6h1v1h-1zM272.8 68.8h1v1h-1zM273.0 63.3h1v1h-1zM272.2 100.7h1v1h-1zM272.4 91.9h1v1h-1zM273.1 108.9h1v1h-1zM273.7 97.8h1v1h-1zM273.6 69.3h1v1h-1zM272.5 70.0h1v1h-1zM272.3 103.8h1v1h-1zM273.5 106.5h1v1h-1zM272.9 80.6h1v1h-1zM273.1 90.2h1v1h-1zM273.6 85.0h1v1h-1zM272.4 78.1h1v1h-1zM272.9 96.3h1v1h-1zM273.2 65.1h1v1h-1zM273.2 107.5h1v1h-1zM272.6 86.4h1v1h-1zM272.4 76.8h1v1h-1zM272.4 74.0h1v1h-1zM272.5 77.9h1v1h-1zM272.9 101.5h1v1h-1zM272.9 79.6h1v1h-1zM272.5 99.3h1v1h-1zM272.7 98.6h1v1h-1zM272.6 101.2h1v1h-1zM272.7 75.6h1v1h-1zM272.5 75.6h1v1h-1zM272.9 98.2h1v1h-1zM272.8 82.8h1v1h-1zM273.4 66.0h1v1h-1zM272.7 72.1h1v1h-1zM273.5 78.3h1v1h-1zM272.6 108.3h1v1h-1zM272.8 74.3h1v1h-1zM272.8 65.0h1v1h-1zM272.6 81.5h1v1h-1zM272.7 64.6h1v1h-1zM272.5 100.7h1v1h-1zM273.5 91.4h1v1h-1zM273.1 66.0h1v1h-1zM273.6 89.9h1v1h-1zM272.3 91.7h1v1h-1zM272.8 76.8h1v1h-1zM272.8 83.4h1v1h-1zM273.7 90.6h1v1h-1zM273.4 81.7h1v1h-1zM273.1 63.3h1v1h-1zM273.7 96.9h1v1h-1zM272.9 99.2h1v1h-1zM272.8 67.5h1v1h-1zM272.3 90.9h1v1h-1zM273.0 80.7h1v1h-1zM273.8 107.5h1v1h-1zM273.3 87.4h1v1h-1zM273.6 78.2h1v1h-1zM272.7 102.2h1v1h-1zM273.2 82.9h1v1h-1zM272.7 106.7h1v1h-1zM273.4 96.2h1v1h-1zM273.3 75.6h1v1h-1zM272.1 103.2h1v1h-1zM273.0 79.6h1v1h-1zM273.4 76.8h1v1h-1zM273.2 86.9h1v1h-1zM272.8 66.9h1v1h-1zM272.8 84.1h1v1h-1zM272.8 88.4h1v1h-1zM273.1 65.4h1v1h-1zM273.1 66.6h1v1h-1zM272.9 73.8h1v1h-1zM273.7 67.2h1v1h-1zM272.8 69.1h1v1h-1zM273.9 93.8h1v1h-1zM273.7 105.0h1v1h-1zM272.7 83.0h1v1h-1zM272.6 98.8h1v1h-1zM272.8 71.7h1v1h-1zM273.8 89.4h1v1h-1zM272.8 71.4h1v1h-1zM273.6 99.4h1v1h-1zM272.6 98.7h1v1h-1zM272.4 100.8h1v1h-1zM273.0 83.3h1v1h-1zM273.2 99.5h1v1h-1zM272.8 78.4h1v1h-1zM272.9 68.5h1v1h-1zM272.8 67.0h1v1h-1zM272.3 109.9h1v1h-1zM272.5 93.8h1v1h-1zM272.6 88.3h1v1h-1zM273.0 107.9h1v1h-1zM273.1 69.5h1v1h-1zM272.5 84.2h1v1h-1zM273.2 79.0h1v1h-1zM272.8 89.1h1v1h-1zM273.4 88.4h1v1h-1zM273.3 101.7h1v1h-1zM272.7 92.9h1v1h-1zM273.0 87.0h1v1h-1zM272.5 68.5h1v1h-1zM272.8 100.9h1v1h-1zM273.6 78.9h1v1h-1zM272.9 97.9h1v1h-1zM272.6 93.2h1v1h-1zM272.7 100.4h1v1h-1zM272.9 80.6h1v1h-1zM272.6 78.1h1v1h-1zM273.6 82.8h1v1h-1zM273.2 95.1h1v1h-1zM273.2 64.6h1v1h-1zM273.0 95.5h1v1h-1zM272.5 65.2h1v1h-1zM272.4 66.4h1v1h-1zM272.9 72.6h1v1h-1zM273.3 67.2h1v1h-1zM273.3 66.4h1v1h-1zM272.5 95.0h1v1h-1zM273.0 102.4h1v1h-1zM273.7 72.0h1v1h-1zM273.0 63.3h1v1h-1zM272.5 93.7h1v1h-1zM272.1 75.6h1v1h-1zM272.5 99.8h1v1h-1zM272.5 91.1h1v1h-1zM273.9 83.8h1v1h-1z" fill="#636a94" fill-opacity="0.72"/>
<path d="M236.6 83.6h1v1h-1zM227.1 56.0h1v1h-1zM227.5 95.1h1v1h-1zM227.9 104.5h1v1h-1zM228.9 58.9h1v1h-1zM230.4 88.4h1v1h-1zM228.2 62.7h1v1h-1zM231.7 90.8h1v1h-1zM232.6 80.8h1v1h-1zM221.7 112.2h1v1h-1zM228.5 59.1h1v1h-1zM222.0 51.8h1v1h-1zM222.4 104.7h1v1h-1zM228.9 91.2h1v1h-1zM221.2 103.1h1v1h-1zM225.9 99.6h1v1h-1zM230.5 84.1h1v1h-1zM222.1 50.0h1v1h-1zM228.9 100.3h1v1h-1zM225.8 51.8h1v1h-1zM227.4 96.6h1v1h-1zM229.1 101.9h1v1h-1zM223.4 101.8h1v1h-1zM220.2 99.6h1v1h-1zM226.9 98.5h1v1h-1zM227.0 98.0h1v1h-1zM228.0 62.9h1v1h-1zM219.0 102.7h1v1h-1zM221.8 52.7h1v1h-1zM219.6 52.2h1v1h-1zM229.3 57.4h1v1h-1zM232.7 63.0h1v1h-1zM227.8 58.8h1v1h-1zM227.9 93.8h1v1h-1zM224.5 105.8h1v1h-1zM229.3 60.0h1v1h-1zM220.1 105.8h1v1h-1zM223.7 109.4h1v1h-1zM225.9 99.7h1v1h-1zM227.8 61.5h1v1h-1zM225.1 101.8h1v1h-1zM228.5 61.6h1v1h-1zM229.8 95.6h1v1h-1zM231.3 81.8h1v1h-1zM221.0 111.6h1v1h-1zM227.3 99.1h1v1h-1zM230.4 66.8h1v1h-1zM220.5 106.6h1v1h-1zM232.7 89.3h1v1h-1zM225.9 53.6h1v1h-1zM219.5 101.1h1v1h-1zM231.6 82.4h1v1h-1zM231.0 74.9h1v1h-1zM220.3 52.9h1v1h-1zM223.3 101.7h1v1h-1zM229.6 73.2h1v1h-1zM233.8 72.2h1v1h-1zM224.8 52.6h1v1h-1zM219.3 102.7h1v1h-1zM229.5 69.6h1v1h-1zM230.5 78.8h1v1h-1zM230.6 79.0h1v1h-1zM221.3 103.3h1v1h-1zM228.2 99.5h1v1h-1zM231.6 91.1h1v1h-1zM228.1 98.0h1v1h-1zM229.2 55.7h1v1h-1zM222.4 103.9h1v1h-1zM232.1 69.2h1v1h-1zM228.7 101.9h1v1h-1zM228.2 56.4h1v1h-1zM231.2 64.0h1v1h-1zM229.9 74.2h1v1h-1zM225.3 109.2h1v1h-1zM234.0 86.3h1v1h-1zM230.3 92.5h1v1h-1zM230.7 85.5h1v1h-1zM226.8 100.7h1v1h-1zM229.7 60.9h1v1h-1zM231.9 65.0h1v1h-1zM232.8 82.5h1v1h-1zM222.7 51.9h1v1h-1zM225.7 108.9h1v1h-1zM228.9 96.2h1v1h-1zM231.7 85.9h1v1h-1zM222.7 52.8h1v1h-1zM225.8 110.9h1v1h-1zM224.0 53.5h1v1h-1zM226.4 98.7h1v1h-1zM227.7 97.4h1v1h-1zM221.5 103.5h1v1h-1zM229.8 104.9h1v1h-1zM226.6 99.3h1v1h-1zM228.1 96.3h1v1h-1zM223.8 105.2h1v1h-1zM232.1 71.5h1v1h-1zM230.0 73.5h1v1h-1zM222.3 53.1h1v1h-1zM233.2 72.3h1v1h-1zM220.1 99.9h1v1h-1zM230.5 65.9h1v1h-1zM226.4 54.9h1v1h-1zM223.8 52.0h1v1h-1zM231.1 52.6h1v1h-1zM228.0 94.5h1v1h-1zM227.0 56.5h1v1h-1zM225.5 109.1h1v1h-1zM229.4 82.7h1v1h-1zM227.5 60.8h1v1h-1zM223.8 106.9h1v1h-1zM230.8 73.4h1v1h-1zM224.1 49.5h1v1h-1zM230.5 83.8h1v1h-1zM231.6 74.8h1v1h-1zM222.1 101.5h1v1h-1zM226.4 99.8h1v1h-1zM226.5 100.0h1v1h-1zM228.2 100.5h1v1h-1zM231.3 83.8h1v1h-1zM221.9 112.4h1v1h-1zM231.6 89.7h1v1h-1zM223.5 105.8h1v1h-1zM228.4 102.8h1v1h-1zM229.9 78.8h1v1h-1zM232.0 80.9h1v1h-1zM229.2 66.7h1v1h-1zM226.3 54.2h1v1h-1zM223.3 108.4h1v1h-1zM227.9 106.4h1v1h-1zM224.3 53.9h1v1h-1zM232.5 80.0h1v1h-1zM226.5 102.2h1v1h-1zM225.8 49.0h1v1h-1zM228.5 65.2h1v1h-1zM223.9 52.7h1v1h-1zM231.3 107.8h1v1h-1zM232.9 78.4h1v1h-1zM227.4 95.6h1v1h-1zM230.7 79.7h1v1h-1zM220.4 52.7h1v1h-1zM219.5 50.6h1v1h-1zM220.7 114.2h1v1h-1zM219.9 111.4h1v1h-1zM219.2 106.3h1v1h-1zM222.6 53.5h1v1h-1zM229.8 99.5h1v1h-1zM223.6 104.9h1v1h-1zM219.5 112.4h1v1h-1zM232.4 82.8h1v1h-1zM229.9 75.4h1v1h-1zM229.2 95.4h1v1h-1zM227.0 99.0h1v1h-1zM221.6 51.0h1v1h-1zM229.7 58.2h1v1h-1zM221.8 106.0h1v1h-1zM228.2 63.8h1v1h-1zM231.3 105.8h1v1h-1zM228.5 55.3h1v1h-1zM224.0 102.9h1v1h-1zM227.4 107.1h1v1h-1zM231.9 75.4h1v1h-1zM224.0 51.8h1v1h-1zM223.9 101.9h1v1h-1zM230.7 64.5h1v1h-1zM230.2 83.3h1v1h-1z" fill="#7078b0" fill-opacity="0.65"/>
<path d="M229.0 75.0h1v1h-1zM224.4 99.5h1v1h-1zM227.6 88.0h1v1h-1zM227.7 63.0h1v1h-1zM219.0 93.4h1v1h-1zM219.5 60.2h1v1h-1zM220.2 93.6h1v1h-1zM227.2 89.4h1v1h-1zM228.3 76.4h1v1h-1zM228.9 75.5h1v1h-1zM226.8 90.9h1v1h-1zM228.2 78.0h1v1h-1zM224.7 95.9h1v1h-1zM220.6 60.2h1v1h-1zM227.8 68.0h1v1h-1zM221.7 98.5h1v1h-1zM219.0 94.6h1v1h-1zM222.3 101.5h1v1h-1zM221.3 55.6h1v1h-1zM220.2 58.8h1v1h-1zM228.5 67.3h1v1h-1zM223.1 56.2h1v1h-1zM219.1 64.7h1v1h-1zM228.2 86.8h1v1h-1zM226.1 57.8h1v1h-1zM228.7 84.3h1v1h-1zM223.9 97.6h1v1h-1zM226.2 94.2h1v1h-1zM226.7 63.5h1v1h-1zM222.6 100.8h1v1h-1zM222.8 57.6h1v1h-1zM227.6 68.8h1v1h-1zM227.6 61.6h1v1h-1zM225.9 98.6h1v1h-1zM220.5 61.1h1v1h-1zM222.0 58.7h1v1h-1zM220.7 96.2h1v1h-1zM225.9 93.5h1v1h-1zM225.9 59.2h1v1h-1zM226.6 90.6h1v1h-1zM220.0 60.5h1v1h-1zM221.6 54.7h1v1h-1zM227.2 92.5h1v1h-1zM228.5 82.8h1v1h-1zM228.2 72.5h1v1h-1zM228.2 64.2h1v1h-1zM223.4 55.2h1v1h-1zM228.8 85.3h1v1h-1zM228.5 67.4h1v1h-1zM219.2 92.7h1v1h-1zM228.5 83.4h1v1h-1zM227.1 90.5h1v1h-1zM225.0 95.3h1v1h-1zM218.9 90.3h1v1h-1zM221.4 96.3h1v1h-1zM223.4 96.9h1v1h-1zM225.3 58.2h1v1h-1zM224.8 99.9h1v1h-1zM226.9 64.0h1v1h-1zM220.3 61.8h1v1h-1zM222.4 54.8h1v1h-1zM219.4 91.7h1v1h-1zM224.4 99.1h1v1h-1zM221.3 57.7h1v1h-1zM221.4 98.2h1v1h-1zM228.5 84.0h1v1h-1zM227.0 88.9h1v1h-1zM225.3 55.9h1v1h-1zM222.6 100.4h1v1h-1zM220.5 59.7h1v1h-1zM228.8 68.1h1v1h-1zM223.8 58.5h1v1h-1zM225.2 94.3h1v1h-1zM226.1 92.3h1v1h-1zM220.5 59.6h1v1h-1zM227.7 65.1h1v1h-1zM228.9 84.5h1v1h-1zM223.9 97.1h1v1h-1zM227.9 91.9h1v1h-1zM225.6 59.5h1v1h-1zM227.7 86.5h1v1h-1zM221.7 55.0h1v1h-1zM224.4 99.0h1v1h-1zM226.9 89.4h1v1h-1zM219.2 59.0h1v1h-1zM219.6 62.8h1v1h-1zM228.3 77.3h1v1h-1zM228.6 68.0h1v1h-1zM228.1 70.7h1v1h-1zM221.2 57.6h1v1h-1zM225.9 93.7h1v1h-1zM228.4 65.2h1v1h-1zM222.0 58.3h1v1h-1zM225.4 98.5h1v1h-1zM226.0 57.3h1v1h-1zM220.0 61.7h1v1h-1zM220.5 95.8h1v1h-1zM227.8 91.6h1v1h-1zM229.3 74.7h1v1h-1zM225.1 58.2h1v1h-1zM224.6 100.7h1v1h-1zM220.1 94.7h1v1h-1zM229.1 78.2h1v1h-1zM222.6 100.0h1v1h-1zM225.4 99.7h1v1h-1zM226.8 65.0h1v1h-1zM227.6 70.5h1v1h-1zM218.7 89.3h1v1h-1zM219.9 60.2h1v1h-1zM227.8 68.2h1v1h-1zM219.3 96.8h1v1h-1zM220.8 98.7h1v1h-1zM222.0 101.0h1v1h-1zM228.0 86.7h1v1h-1zM220.2 98.9h1v1h-1zM228.1 78.6h1v1h-1zM224.1 99.9h1v1h-1zM221.0 97.1h1v1h-1zM223.6 98.2h1v1h-1zM223.4 96.0h1v1h-1zM228.6 68.0h1v1h-1zM222.9 56.4h1v1h-1zM228.4 70.3h1v1h-1zM220.6 95.3h1v1h-1zM219.1 90.7h1v1h-1zM220.2 93.5h1v1h-1zM222.0 57.7h1v1h-1zM223.7 96.1h1v1h-1zM223.4 100.1h1v1h-1zM229.0 73.2h1v1h-1zM228.5 76.2h1v1h-1zM224.8 95.2h1v1h-1zM227.7 84.8h1v1h-1zM228.3 78.1h1v1h-1zM223.1 99.8h1v1h-1zM222.6 57.2h1v1h-1zM228.1 80.8h1v1h-1zM223.0 101.1h1v1h-1zM220.2 61.9h1v1h-1zM228.4 79.5h1v1h-1zM222.0 56.5h1v1h-1zM227.1 95.1h1v1h-1zM228.5 89.1h1v1h-1zM226.2 97.8h1v1h-1zM221.7 55.0h1v1h-1zM225.2 57.3h1v1h-1zM228.4 65.7h1v1h-1zM228.9 75.4h1v1h-1zM221.6 59.1h1v1h-1zM224.2 96.4h1v1h-1zM228.7 77.1h1v1h-1zM225.8 61.9h1v1h-1zM228.0 84.5h1v1h-1zM224.4 98.1h1v1h-1zM227.8 90.7h1v1h-1zM220.7 94.2h1v1h-1zM221.3 58.7h1v1h-1zM224.1 57.9h1v1h-1zM222.8 57.8h1v1h-1zM220.6 94.8h1v1h-1zM228.0 87.7h1v1h-1zM223.8 57.1h1v1h-1zM219.0 64.6h1v1h-1zM228.4 67.9h1v1h-1zM223.4 97.5h1v1h-1zM226.7 90.7h1v1h-1zM225.5 97.8h1v1h-1zM224.5 58.9h1v1h-1zM228.6 66.5h1v1h-1zM227.8 89.7h1v1h-1zM218.9 94.7h1v1h-1zM228.5 71.6h1v1h-1zM222.9 97.6h1v1h-1zM218.7 67.0h1v1h-1zM227.8 83.5h1v1h-1zM228.2 90.3h1v1h-1zM219.0 93.0h1v1h-1zM221.7 56.8h1v1h-1zM227.5 92.5h1v1h-1zM226.6 94.3h1v1h-1zM219.1 63.8h1v1h-1zM228.6 77.1h1v1h-1zM224.1 56.2h1v1h-1zM220.0 58.4h1v1h-1zM218.9 88.0h1v1h-1zM226.4 95.9h1v1h-1zM223.4 100.3h1v1h-1zM227.9 75.2h1v1h-1zM219.2 58.9h1v1h-1zM222.2 99.6h1v1h-1zM229.0 75.3h1v1h-1zM222.5 56.0h1v1h-1zM227.5 92.0h1v1h-1zM226.9 64.7h1v1h-1zM227.5 68.9h1v1h-1zM227.4 66.8h1v1h-1zM227.8 85.9h1v1h-1zM228.7 84.9h1v1h-1zM223.7 58.7h1v1h-1z" fill="#5e88b0" fill-opacity="0.72"/>
<path d="M226.9 75.3h1v1h-1zM222.2 59.3h1v1h-1zM223.0 92.7h1v1h-1zM226.5 89.5h1v1h-1zM224.8 62.7h1v1h-1zM227.0 72.6h1v1h-1zM221.4 60.8h1v1h-1zM219.8 87.0h1v1h-1zM227.7 76.3h1v1h-1zM223.9 95.1h1v1h-1zM224.0 92.4h1v1h-1zM227.4 71.3h1v1h-1zM226.9 79.6h1v1h-1zM225.3 92.2h1v1h-1zM226.1 66.7h1v1h-1zM224.4 91.4h1v1h-1zM226.6 68.8h1v1h-1zM224.7 91.3h1v1h-1zM222.4 60.1h1v1h-1zM218.9 72.8h1v1h-1zM227.0 73.7h1v1h-1zM221.9 95.3h1v1h-1zM220.1 91.9h1v1h-1zM226.4 85.0h1v1h-1zM219.0 80.9h1v1h-1zM219.2 88.8h1v1h-1zM222.7 93.5h1v1h-1zM221.1 60.4h1v1h-1zM226.0 66.1h1v1h-1zM223.9 93.2h1v1h-1zM219.3 82.5h1v1h-1zM220.6 62.6h1v1h-1zM224.5 93.2h1v1h-1zM221.6 61.5h1v1h-1zM226.9 71.2h1v1h-1zM223.8 94.3h1v1h-1zM225.4 92.9h1v1h-1zM222.6 93.6h1v1h-1zM223.6 61.1h1v1h-1zM226.5 68.2h1v1h-1zM220.8 63.0h1v1h-1zM220.3 64.9h1v1h-1zM218.8 77.7h1v1h-1zM226.3 67.4h1v1h-1zM219.0 77.5h1v1h-1zM227.1 70.3h1v1h-1zM219.1 69.6h1v1h-1zM219.5 86.9h1v1h-1zM227.2 69.7h1v1h-1zM222.1 59.5h1v1h-1zM219.4 85.8h1v1h-1zM218.9 76.1h1v1h-1zM223.8 94.8h1v1h-1zM227.2 73.4h1v1h-1zM226.1 91.8h1v1h-1zM224.7 61.2h1v1h-1zM221.4 61.7h1v1h-1zM219.3 89.8h1v1h-1zM221.7 61.1h1v1h-1zM223.4 92.9h1v1h-1zM219.0 82.5h1v1h-1zM227.0 84.8h1v1h-1zM218.8 81.8h1v1h-1zM219.8 65.1h1v1h-1zM220.8 91.7h1v1h-1zM227.3 79.4h1v1h-1zM225.6 91.7h1v1h-1zM227.9 76.1h1v1h-1zM223.5 59.6h1v1h-1zM225.1 63.0h1v1h-1zM220.5 90.6h1v1h-1zM219.0 82.7h1v1h-1zM226.4 66.4h1v1h-1zM224.1 94.8h1v1h-1zM223.3 59.9h1v1h-1zM226.1 87.2h1v1h-1zM223.7 60.7h1v1h-1zM221.7 62.6h1v1h-1zM227.4 81.5h1v1h-1zM219.3 83.8h1v1h-1zM226.0 64.9h1v1h-1zM224.7 60.2h1v1h-1zM221.6 93.0h1v1h-1zM223.6 95.5h1v1h-1zM219.8 86.4h1v1h-1zM226.9 78.8h1v1h-1zM222.3 94.8h1v1h-1zM219.0 83.6h1v1h-1zM219.6 86.2h1v1h-1zM222.3 61.0h1v1h-1zM223.6 91.9h1v1h-1zM224.4 61.3h1v1h-1zM227.4 79.5h1v1h-1zM224.7 94.9h1v1h-1zM220.8 92.9h1v1h-1zM223.6 93.8h1v1h-1zM226.0 88.1h1v1h-1zM220.6 92.6h1v1h-1zM219.9 90.4h1v1h-1zM220.1 63.8h1v1h-1zM227.3 78.0h1v1h-1zM223.4 93.1h1v1h-1zM226.8 87.5h1v1h-1zM227.7 79.0h1v1h-1zM227.2 71.5h1v1h-1zM219.6 68.4h1v1h-1zM220.4 64.9h1v1h-1zM222.9 59.5h1v1h-1zM222.0 62.0h1v1h-1zM219.5 87.6h1v1h-1zM227.6 82.4h1v1h-1zM223.9 59.4h1v1h-1zM227.2 75.5h1v1h-1zM219.3 90.0h1v1h-1zM227.8 78.6h1v1h-1zM222.1 91.7h1v1h-1zM219.7 90.2h1v1h-1zM224.5 94.7h1v1h-1zM219.3 84.7h1v1h-1zM227.4 83.1h1v1h-1zM222.2 62.4h1v1h-1zM226.0 65.3h1v1h-1zM219.4 70.8h1v1h-1zM219.6 90.3h1v1h-1zM222.0 60.6h1v1h-1zM227.0 82.3h1v1h-1zM220.7 91.8h1v1h-1zM224.6 59.6h1v1h-1zM227.4 82.5h1v1h-1zM222.7 93.9h1v1h-1zM226.5 84.5h1v1h-1zM220.0 66.7h1v1h-1zM221.5 95.1h1v1h-1zM223.4 93.4h1v1h-1zM222.9 95.5h1v1h-1zM223.1 59.9h1v1h-1zM227.5 76.4h1v1h-1zM225.5 90.5h1v1h-1zM219.1 88.2h1v1h-1zM220.4 64.8h1v1h-1zM220.8 62.4h1v1h-1zM221.6 62.9h1v1h-1zM227.1 69.4h1v1h-1zM219.4 89.4h1v1h-1zM219.1 87.6h1v1h-1zM224.3 61.6h1v1h-1zM227.2 84.7h1v1h-1zM223.4 93.8h1v1h-1zM222.0 92.2h1v1h-1zM223.9 94.4h1v1h-1zM227.1 77.2h1v1h-1zM225.3 62.3h1v1h-1zM227.1 70.3h1v1h-1zM219.6 64.4h1v1h-1zM222.4 60.0h1v1h-1zM222.3 95.7h1v1h-1zM226.8 68.3h1v1h-1zM223.8 60.9h1v1h-1zM219.9 65.0h1v1h-1zM227.4 73.7h1v1h-1zM219.3 70.0h1v1h-1zM227.3 86.2h1v1h-1zM224.2 92.3h1v1h-1zM227.0 69.3h1v1h-1zM220.4 63.4h1v1h-1zM223.5 94.5h1v1h-1zM219.6 66.7h1v1h-1zM221.4 61.9h1v1h-1zM223.0 61.4h1v1h-1zM224.1 60.6h1v1h-1zM222.3 59.5h1v1h-1zM226.4 66.0h1v1h-1zM226.0 87.8h1v1h-1zM224.4 91.9h1v1h-1zM219.3 86.5h1v1h-1zM227.1 80.7h1v1h-1zM219.0 87.3h1v1h-1zM225.0 92.7h1v1h-1zM221.2 62.6h1v1h-1zM221.9 61.2h1v1h-1zM224.8 92.7h1v1h-1zM222.4 92.3h1v1h-1zM227.1 75.7h1v1h-1zM226.3 85.4h1v1h-1zM227.7 74.3h1v1h-1zM222.8 92.3h1v1h-1zM226.6 68.4h1v1h-1zM222.2 62.3h1v1h-1zM219.0 83.8h1v1h-1zM220.0 87.5h1v1h-1zM226.5 84.4h1v1h-1zM220.9 60.6h1v1h-1zM219.9 65.2h1v1h-1zM219.7 68.1h1v1h-1zM219.5 68.9h1v1h-1zM220.7 64.6h1v1h-1zM218.7 77.5h1v1h-1zM224.0 62.0h1v1h-1zM220.1 65.6h1v1h-1zM221.5 93.0h1v1h-1zM226.6 86.3h1v1h-1zM227.1 74.9h1v1h-1zM221.9 94.3h1v1h-1zM226.2 67.0h1v1h-1zM227.3 74.4h1v1h-1zM226.9 73.9h1v1h-1zM220.9 94.2h1v1h-1zM218.9 80.3h1v1h-1zM227.4 76.0h1v1h-1zM227.5 70.8h1v1h-1zM222.4 93.0h1v1h-1zM221.1 61.9h1v1h-1zM220.8 61.9h1v1h-1zM218.7 68.6h1v1h-1zM219.4 86.9h1v1h-1zM226.2 68.1h1v1h-1zM219.6 89.8h1v1h-1zM221.2 62.1h1v1h-1zM222.9 96.0h1v1h-1zM226.1 64.2h1v1h-1zM222.4 94.2h1v1h-1zM225.1 91.0h1v1h-1zM225.2 93.0h1v1h-1zM218.9 77.1h1v1h-1zM225.8 89.5h1v1h-1zM227.2 82.3h1v1h-1zM227.3 80.4h1v1h-1zM227.0 80.9h1v1h-1zM218.8 75.1h1v1h-1zM221.8 93.9h1v1h-1zM220.6 63.7h1v1h-1zM223.2 93.3h1v1h-1zM227.8 79.7h1v1h-1zM224.3 93.6h1v1h-1zM219.0 71.3h1v1h-1zM225.7 63.7h1v1h-1zM218.7 80.0h1v1h-1zM221.5 61.7h1v1h-1zM227.8 74.5h1v1h-1zM219.6 87.3h1v1h-1zM225.3 91.4h1v1h-1zM222.7 94.4h1v1h-1zM218.9 83.9h1v1h-1zM220.3 63.6h1v1h-1zM227.0 79.5h1v1h-1zM222.7 59.4h1v1h-1zM220.3 64.9h1v1h-1zM220.0 66.1h1v1h-1zM222.6 95.8h1v1h-1zM221.7 61.1h1v1h-1zM224.5 59.8h1v1h-1zM225.7 63.5h1v1h-1zM219.3 85.5h1v1h-1zM225.1 90.9h1v1h-1zM218.9 86.6h1v1h-1zM226.6 65.2h1v1h-1zM225.2 91.4h1v1h-1zM227.9 75.3h1v1h-1zM219.4 71.3h1v1h-1zM220.1 65.0h1v1h-1zM219.0 76.6h1v1h-1zM226.7 85.1h1v1h-1zM220.2 65.3h1v1h-1zM218.7 68.3h1v1h-1zM219.1 73.7h1v1h-1zM222.4 95.1h1v1h-1zM225.2 92.3h1v1h-1zM220.0 64.0h1v1h-1zM220.2 66.0h1v1h-1zM227.4 81.6h1v1h-1zM225.4 91.0h1v1h-1zM223.4 62.1h1v1h-1z" fill="#58a49c" fill-opacity="0.8"/>
<path d="M226.9 78.7h1v1h-1zM219.6 82.9h1v1h-1zM220.6 83.8h1v1h-1zM226.7 74.1h1v1h-1zM219.7 74.4h1v1h-1zM219.4 72.7h1v1h-1zM219.5 80.5h1v1h-1zM220.0 73.7h1v1h-1zM221.3 67.0h1v1h-1zM224.2 87.2h1v1h-1zM225.8 85.6h1v1h-1zM221.8 87.9h1v1h-1zM221.2 65.5h1v1h-1zM220.1 73.6h1v1h-1zM220.1 72.5h1v1h-1zM225.8 73.8h1v1h-1zM219.9 71.5h1v1h-1zM219.6 81.3h1v1h-1zM219.7 79.5h1v1h-1zM220.3 68.4h1v1h-1zM224.5 67.2h1v1h-1zM225.6 68.9h1v1h-1zM219.4 72.4h1v1h-1zM223.7 90.1h1v1h-1zM220.8 86.0h1v1h-1zM223.3 63.2h1v1h-1zM222.8 63.4h1v1h-1zM224.6 88.5h1v1h-1zM221.4 67.3h1v1h-1zM221.2 87.9h1v1h-1zM225.3 84.3h1v1h-1zM222.0 63.4h1v1h-1zM222.8 65.2h1v1h-1zM220.5 86.0h1v1h-1zM221.2 66.9h1v1h-1zM224.3 65.0h1v1h-1zM224.3 63.2h1v1h-1zM223.9 90.8h1v1h-1zM221.2 86.6h1v1h-1zM220.8 87.7h1v1h-1zM219.7 79.9h1v1h-1zM221.2 66.7h1v1h-1zM224.3 90.7h1v1h-1zM223.2 65.4h1v1h-1zM225.9 77.5h1v1h-1zM224.8 67.3h1v1h-1zM220.3 85.0h1v1h-1zM226.6 77.0h1v1h-1zM224.4 90.4h1v1h-1zM226.1 75.3h1v1h-1zM224.1 90.0h1v1h-1zM220.3 81.2h1v1h-1zM221.9 63.2h1v1h-1zM220.8 83.9h1v1h-1zM221.6 67.0h1v1h-1zM226.0 73.8h1v1h-1zM223.4 65.3h1v1h-1zM226.8 75.3h1v1h-1zM220.1 79.2h1v1h-1zM220.7 86.8h1v1h-1zM220.0 67.5h1v1h-1zM220.3 72.6h1v1h-1zM221.8 63.3h1v1h-1zM223.8 91.1h1v1h-1zM223.3 89.6h1v1h-1zM219.9 76.0h1v1h-1zM222.2 89.5h1v1h-1zM225.5 65.7h1v1h-1zM219.3 74.0h1v1h-1zM219.4 73.9h1v1h-1zM219.2 79.2h1v1h-1zM226.6 74.7h1v1h-1zM225.7 68.6h1v1h-1zM220.0 84.2h1v1h-1zM222.5 62.3h1v1h-1zM226.1 73.7h1v1h-1zM225.1 87.0h1v1h-1zM220.5 86.5h1v1h-1zM220.8 84.5h1v1h-1zM220.8 67.6h1v1h-1zM222.0 91.3h1v1h-1zM220.6 87.5h1v1h-1zM224.7 87.2h1v1h-1zM226.4 83.4h1v1h-1zM220.8 67.6h1v1h-1zM222.4 88.7h1v1h-1zM220.5 88.5h1v1h-1zM219.8 81.9h1v1h-1zM219.5 74.1h1v1h-1zM222.8 88.5h1v1h-1zM221.0 88.3h1v1h-1zM224.1 65.9h1v1h-1zM221.2 89.8h1v1h-1zM219.5 71.1h1v1h-1zM225.1 68.8h1v1h-1zM225.8 69.8h1v1h-1zM225.9 75.3h1v1h-1zM221.4 89.8h1v1h-1zM225.9 72.4h1v1h-1zM220.4 86.6h1v1h-1zM225.3 83.7h1v1h-1zM225.7 83.7h1v1h-1zM220.1 70.6h1v1h-1zM220.2 72.7h1v1h-1zM225.7 88.0h1v1h-1zM220.7 87.8h1v1h-1zM220.7 65.9h1v1h-1zM224.2 66.3h1v1h-1zM221.0 65.8h1v1h-1zM220.6 85.2h1v1h-1zM219.7 80.7h1v1h-1zM221.8 66.0h1v1h-1zM220.3 67.3h1v1h-1zM226.6 81.6h1v1h-1zM225.8 82.1h1v1h-1zM224.8 65.2h1v1h-1zM221.3 66.6h1v1h-1zM226.4 73.5h1v1h-1zM220.5 86.3h1v1h-1zM226.7 73.4h1v1h-1zM226.9 77.6h1v1h-1zM225.3 88.8h1v1h-1zM221.0 67.4h1v1h-1zM222.4 90.4h1v1h-1zM223.9 64.7h1v1h-1zM220.2 71.4h1v1h-1zM222.8 90.8h1v1h-1zM219.9 80.8h1v1h-1zM222.7 65.9h1v1h-1zM221.2 65.6h1v1h-1zM226.3 77.5h1v1h-1zM223.1 88.5h1v1h-1zM225.9 84.4h1v1h-1zM221.3 87.1h1v1h-1zM220.3 68.2h1v1h-1zM226.7 76.9h1v1h-1zM226.1 69.7h1v1h-1zM226.2 75.0h1v1h-1zM220.1 76.2h1v1h-1zM224.5 89.4h1v1h-1zM226.1 75.0h1v1h-1zM220.0 70.5h1v1h-1zM226.5 72.9h1v1h-1zM221.8 66.1h1v1h-1zM223.1 65.8h1v1h-1zM223.4 64.6h1v1h-1zM225.6 88.0h1v1h-1zM221.9 62.8h1v1h-1zM226.3 83.9h1v1h-1zM225.4 87.6h1v1h-1zM220.9 69.0h1v1h-1zM225.0 85.4h1v1h-1zM219.9 81.7h1v1h-1zM226.5 79.2h1v1h-1zM224.5 88.5h1v1h-1zM224.7 67.4h1v1h-1zM221.7 65.7h1v1h-1zM223.8 87.7h1v1h-1zM226.3 81.3h1v1h-1zM225.7 86.0h1v1h-1zM220.0 73.3h1v1h-1zM223.8 87.8h1v1h-1zM219.2 79.6h1v1h-1zM220.4 72.6h1v1h-1zM226.5 78.4h1v1h-1zM226.5 71.3h1v1h-1zM225.7 81.3h1v1h-1zM221.0 64.4h1v1h-1zM221.7 65.0h1v1h-1zM219.4 73.7h1v1h-1zM226.6 76.2h1v1h-1zM221.7 89.9h1v1h-1zM225.9 84.9h1v1h-1zM223.0 65.6h1v1h-1zM225.7 81.9h1v1h-1zM224.6 86.6h1v1h-1zM226.4 77.5h1v1h-1zM221.7 87.7h1v1h-1zM223.7 66.1h1v1h-1zM220.3 72.7h1v1h-1zM219.5 75.1h1v1h-1zM221.4 66.8h1v1h-1zM225.4 67.4h1v1h-1zM220.4 86.6h1v1h-1zM219.7 80.5h1v1h-1zM221.4 88.8h1v1h-1zM219.8 82.9h1v1h-1zM220.2 79.7h1v1h-1zM224.5 64.2h1v1h-1zM223.3 90.1h1v1h-1zM223.2 88.2h1v1h-1zM220.0 76.9h1v1h-1zM226.2 83.5h1v1h-1zM220.8 84.1h1v1h-1zM220.9 65.8h1v1h-1zM225.1 67.8h1v1h-1zM219.8 79.1h1v1h-1zM226.7 79.4h1v1h-1zM220.7 68.5h1v1h-1zM221.2 89.6h1v1h-1zM226.0 72.2h1v1h-1zM219.2 78.1h1v1h-1zM222.5 64.6h1v1h-1zM225.9 84.8h1v1h-1zM226.8 74.1h1v1h-1zM220.1 77.8h1v1h-1zM222.3 65.9h1v1h-1zM220.2 71.1h1v1h-1zM219.3 76.2h1v1h-1zM219.7 81.6h1v1h-1zM221.1 65.6h1v1h-1zM220.4 87.1h1v1h-1zM220.9 89.3h1v1h-1zM220.6 87.9h1v1h-1zM220.0 70.1h1v1h-1zM221.4 67.6h1v1h-1zM224.9 66.7h1v1h-1zM220.8 84.5h1v1h-1zM221.3 68.0h1v1h-1zM225.5 82.8h1v1h-1zM222.7 64.7h1v1h-1zM220.5 66.5h1v1h-1zM222.0 64.3h1v1h-1zM219.4 76.5h1v1h-1zM225.2 67.1h1v1h-1zM221.5 66.5h1v1h-1zM220.1 68.1h1v1h-1zM221.1 67.5h1v1h-1zM226.6 80.3h1v1h-1zM226.6 81.7h1v1h-1zM225.7 69.4h1v1h-1zM223.7 88.1h1v1h-1zM219.7 74.0h1v1h-1zM219.4 74.6h1v1h-1zM225.0 67.3h1v1h-1zM221.9 87.3h1v1h-1zM226.1 68.3h1v1h-1zM225.7 69.9h1v1h-1zM220.1 82.0h1v1h-1zM226.2 73.6h1v1h-1zM221.8 90.2h1v1h-1zM220.8 85.9h1v1h-1zM219.6 78.5h1v1h-1zM220.4 86.7h1v1h-1zM225.9 80.0h1v1h-1zM226.4 77.6h1v1h-1zM225.7 70.8h1v1h-1zM222.8 89.6h1v1h-1zM226.2 69.6h1v1h-1zM225.4 87.3h1v1h-1zM222.5 88.6h1v1h-1zM219.9 69.6h1v1h-1zM226.4 82.5h1v1h-1zM225.7 83.7h1v1h-1zM224.6 64.9h1v1h-1zM223.2 65.8h1v1h-1zM226.0 71.5h1v1h-1zM224.3 91.0h1v1h-1zM224.9 65.9h1v1h-1zM220.4 69.3h1v1h-1zM225.3 89.0h1v1h-1zM224.7 66.8h1v1h-1zM225.9 76.0h1v1h-1zM219.4 79.3h1v1h-1zM224.7 66.2h1v1h-1zM220.1 68.9h1v1h-1zM221.3 88.2h1v1h-1zM225.3 70.3h1v1h-1zM222.7 90.8h1v1h-1zM223.6 88.3h1v1h-1zM223.9 65.6h1v1h-1zM219.9 75.6h1v1h-1zM223.1 91.8h1v1h-1zM220.9 67.8h1v1h-1zM219.7 77.8h1v1h-1zM222.8 88.9h1v1h-1zM226.0 86.0h1v1h-1zM226.7 73.1h1v1h-1zM224.2 87.5h1v1h-1zM226.0 75.2h1v1h-1zM222.7 65.2h1v1h-1zM225.9 87.0h1v1h-1zM221.7 65.0h1v1h-1zM219.8 71.5h1v1h-1zM221.1 65.4h1v1h-1zM224.3 90.9h1v1h-1zM219.5 73.2h1v1h-1zM219.4 74.8h1v1h-1zM226.5 74.5h1v1h-1zM226.4 83.3h1v1h-1zM220.0 74.4h1v1h-1zM223.7 91.6h1v1h-1zM222.2 91.0h1v1h-1zM226.8 77.9h1v1h-1zM223.9 65.8h1v1h-1zM221.1 68.4h1v1h-1zM224.8 65.7h1v1h-1zM224.8 90.0h1v1h-1zM221.8 64.6h1v1h-1zM219.5 81.7h1v1h-1zM222.5 90.9h1v1h-1zM224.8 86.8h1v1h-1zM224.7 64.1h1v1h-1zM224.3 66.2h1v1h-1zM222.9 91.1h1v1h-1zM221.5 90.4h1v1h-1zM226.1 69.7h1v1h-1zM222.9 90.4h1v1h-1zM224.2 66.2h1v1h-1zM221.8 89.6h1v1h-1zM221.2 88.6h1v1h-1zM225.6 82.3h1v1h-1zM222.0 90.6h1v1h-1zM223.2 90.0h1v1h-1zM220.7 84.6h1v1h-1zM219.9 75.6h1v1h-1zM220.1 66.9h1v1h-1zM225.2 88.7h1v1h-1zM222.8 89.6h1v1h-1zM220.3 68.5h1v1h-1zM225.9 79.8h1v1h-1zM221.1 88.1h1v1h-1zM222.2 90.1h1v1h-1zM219.3 79.6h1v1h-1zM219.1 77.7h1v1h-1zM220.5 85.3h1v1h-1zM222.4 64.1h1v1h-1zM225.1 85.3h1v1h-1zM225.6 84.9h1v1h-1zM222.3 88.2h1v1h-1zM224.8 87.1h1v1h-1zM224.4 86.5h1v1h-1zM219.9 69.4h1v1h-1z" fill="#72ae4c" fill-opacity="0.88"/>
<path d="M223.5 86.5h1v1h-1zM224.4 84.2h1v1h-1zM224.1 83.6h1v1h-1zM225.4 76.5h1v1h-1zM221.5 84.8h1v1h-1zM225.7 78.0h1v1h-1zM223.6 86.1h1v1h-1zM224.3 86.1h1v1h-1zM225.3 75.2h1v1h-1zM225.0 76.4h1v1h-1zM224.6 85.9h1v1h-1zM221.2 78.8h1v1h-1zM224.3 86.4h1v1h-1zM220.7 75.9h1v1h-1zM222.1 83.4h1v1h-1zM221.7 69.5h1v1h-1zM222.6 68.3h1v1h-1zM225.2 71.5h1v1h-1zM224.8 79.5h1v1h-1zM224.6 83.4h1v1h-1zM224.3 69.2h1v1h-1zM222.2 86.4h1v1h-1zM220.9 75.6h1v1h-1zM221.0 69.1h1v1h-1zM224.6 83.0h1v1h-1zM225.0 77.7h1v1h-1zM224.9 74.2h1v1h-1zM225.3 73.2h1v1h-1zM221.2 68.7h1v1h-1zM221.8 68.7h1v1h-1zM220.6 75.1h1v1h-1zM221.1 70.2h1v1h-1zM225.3 79.1h1v1h-1zM222.3 83.5h1v1h-1zM224.8 81.7h1v1h-1zM223.3 84.0h1v1h-1zM220.8 74.4h1v1h-1zM222.8 69.2h1v1h-1zM223.1 86.0h1v1h-1zM222.1 68.0h1v1h-1zM224.1 67.5h1v1h-1zM220.6 80.4h1v1h-1zM220.3 76.5h1v1h-1zM224.5 81.3h1v1h-1zM225.1 70.2h1v1h-1zM224.9 79.4h1v1h-1zM225.3 74.3h1v1h-1zM225.0 83.2h1v1h-1zM222.5 84.8h1v1h-1zM221.1 69.0h1v1h-1zM221.8 69.0h1v1h-1zM221.9 68.2h1v1h-1zM224.7 82.7h1v1h-1zM223.0 87.5h1v1h-1zM223.8 67.7h1v1h-1zM221.9 83.2h1v1h-1zM223.1 67.0h1v1h-1zM221.0 76.3h1v1h-1zM221.9 68.2h1v1h-1zM221.9 84.7h1v1h-1zM225.0 70.1h1v1h-1zM220.8 74.5h1v1h-1zM223.3 67.0h1v1h-1zM220.4 79.7h1v1h-1zM224.8 70.7h1v1h-1zM224.5 71.6h1v1h-1zM224.9 83.4h1v1h-1zM221.7 84.0h1v1h-1zM225.0 74.7h1v1h-1zM225.4 74.0h1v1h-1zM221.4 85.9h1v1h-1zM225.5 73.5h1v1h-1zM220.4 76.8h1v1h-1zM225.2 79.9h1v1h-1zM225.0 80.1h1v1h-1zM221.1 77.9h1v1h-1zM220.6 74.1h1v1h-1zM223.5 85.8h1v1h-1zM222.5 86.4h1v1h-1zM224.5 83.3h1v1h-1zM224.1 86.9h1v1h-1zM223.4 66.8h1v1h-1zM222.8 67.3h1v1h-1zM223.5 67.9h1v1h-1zM222.0 68.6h1v1h-1zM225.1 70.5h1v1h-1zM222.8 84.3h1v1h-1zM225.7 77.1h1v1h-1zM224.9 78.6h1v1h-1zM223.9 67.1h1v1h-1zM225.7 74.7h1v1h-1zM223.1 86.7h1v1h-1zM222.9 69.3h1v1h-1zM223.1 86.4h1v1h-1zM222.3 67.9h1v1h-1zM221.6 71.3h1v1h-1zM222.0 66.7h1v1h-1zM225.5 74.3h1v1h-1zM221.2 82.9h1v1h-1zM220.8 74.6h1v1h-1zM221.4 81.3h1v1h-1zM220.7 73.9h1v1h-1zM223.1 86.1h1v1h-1zM221.8 70.3h1v1h-1zM222.9 69.2h1v1h-1zM223.6 86.5h1v1h-1zM225.7 77.4h1v1h-1zM224.0 69.8h1v1h-1zM220.9 83.0h1v1h-1zM223.9 84.5h1v1h-1zM221.4 70.5h1v1h-1zM225.5 76.6h1v1h-1zM221.8 69.7h1v1h-1zM221.5 84.0h1v1h-1zM222.2 68.2h1v1h-1zM224.6 71.3h1v1h-1zM220.7 77.0h1v1h-1zM221.1 83.3h1v1h-1zM224.9 81.8h1v1h-1zM225.3 73.0h1v1h-1zM222.3 66.2h1v1h-1zM225.2 71.1h1v1h-1zM225.6 75.4h1v1h-1zM222.0 84.5h1v1h-1zM220.9 74.7h1v1h-1zM225.6 74.0h1v1h-1zM222.4 86.9h1v1h-1zM224.3 86.6h1v1h-1zM223.6 67.1h1v1h-1zM221.0 69.5h1v1h-1zM225.4 71.4h1v1h-1zM221.4 68.5h1v1h-1zM223.9 67.3h1v1h-1zM223.0 69.3h1v1h-1zM221.6 70.6h1v1h-1zM224.2 84.9h1v1h-1zM220.8 73.6h1v1h-1zM224.9 80.3h1v1h-1zM221.8 69.9h1v1h-1zM222.0 67.3h1v1h-1zM221.1 76.6h1v1h-1zM220.6 82.2h1v1h-1zM225.7 79.2h1v1h-1zM222.9 86.1h1v1h-1zM221.8 67.6h1v1h-1zM220.5 77.2h1v1h-1zM225.2 81.0h1v1h-1zM221.8 70.2h1v1h-1zM224.1 70.9h1v1h-1zM224.8 78.6h1v1h-1zM220.5 74.8h1v1h-1zM225.4 79.3h1v1h-1zM222.8 84.4h1v1h-1zM223.6 84.3h1v1h-1zM221.5 83.7h1v1h-1zM223.4 69.3h1v1h-1zM221.4 69.8h1v1h-1zM223.9 69.5h1v1h-1zM221.4 69.7h1v1h-1zM224.7 72.6h1v1h-1zM221.0 74.3h1v1h-1zM223.7 87.2h1v1h-1zM220.6 74.4h1v1h-1zM220.6 81.8h1v1h-1zM221.8 67.4h1v1h-1zM220.4 78.3h1v1h-1zM224.9 69.7h1v1h-1zM224.7 70.9h1v1h-1zM221.6 85.0h1v1h-1zM224.9 72.4h1v1h-1zM221.8 86.0h1v1h-1zM224.3 82.7h1v1h-1zM220.4 78.8h1v1h-1zM224.8 72.8h1v1h-1zM220.6 82.0h1v1h-1zM220.9 78.4h1v1h-1zM225.7 80.5h1v1h-1zM225.8 78.6h1v1h-1zM224.8 83.2h1v1h-1zM220.4 76.1h1v1h-1zM221.2 73.0h1v1h-1zM223.2 84.1h1v1h-1zM225.2 77.1h1v1h-1zM224.8 74.8h1v1h-1zM225.0 72.3h1v1h-1zM220.4 79.7h1v1h-1zM220.6 80.6h1v1h-1zM221.4 72.2h1v1h-1zM225.4 75.5h1v1h-1zM222.0 70.3h1v1h-1zM223.7 66.8h1v1h-1zM221.1 77.1h1v1h-1zM223.7 67.2h1v1h-1zM220.3 73.6h1v1h-1zM222.3 69.5h1v1h-1zM222.2 67.0h1v1h-1zM221.1 74.6h1v1h-1zM221.9 85.9h1v1h-1zM222.6 67.4h1v1h-1zM223.4 85.3h1v1h-1zM223.4 84.6h1v1h-1zM223.9 69.3h1v1h-1zM225.1 74.5h1v1h-1zM224.2 86.2h1v1h-1zM224.6 67.8h1v1h-1zM224.0 84.2h1v1h-1zM220.3 79.7h1v1h-1zM222.6 86.7h1v1h-1zM222.3 69.2h1v1h-1zM224.2 83.6h1v1h-1zM224.4 67.6h1v1h-1zM221.7 68.5h1v1h-1zM224.8 69.7h1v1h-1zM225.3 81.0h1v1h-1zM223.0 86.6h1v1h-1zM222.0 84.9h1v1h-1zM221.1 84.7h1v1h-1zM224.9 77.3h1v1h-1zM224.4 69.7h1v1h-1zM221.2 72.9h1v1h-1zM224.8 69.8h1v1h-1zM223.6 67.6h1v1h-1zM220.4 75.3h1v1h-1zM223.0 84.4h1v1h-1zM221.1 71.0h1v1h-1zM221.7 85.9h1v1h-1zM222.7 87.4h1v1h-1zM223.4 85.2h1v1h-1zM220.2 78.9h1v1h-1zM223.0 87.6h1v1h-1zM220.5 78.5h1v1h-1zM224.3 71.6h1v1h-1zM223.5 68.2h1v1h-1zM224.9 74.9h1v1h-1zM221.0 79.8h1v1h-1zM224.1 83.0h1v1h-1zM220.8 82.4h1v1h-1zM220.7 79.5h1v1h-1zM221.0 75.2h1v1h-1zM220.5 76.5h1v1h-1zM223.6 68.8h1v1h-1zM220.3 75.6h1v1h-1zM223.1 86.2h1v1h-1zM224.3 70.4h1v1h-1zM221.1 76.1h1v1h-1zM221.1 74.5h1v1h-1zM220.4 81.0h1v1h-1zM221.4 69.8h1v1h-1zM225.0 72.1h1v1h-1zM225.6 75.6h1v1h-1zM220.3 72.9h1v1h-1zM225.3 75.6h1v1h-1zM224.1 86.4h1v1h-1zM222.1 83.4h1v1h-1zM221.1 71.0h1v1h-1zM223.0 87.2h1v1h-1zM220.9 70.1h1v1h-1zM225.0 78.4h1v1h-1zM224.0 69.8h1v1h-1zM220.4 78.8h1v1h-1zM223.4 86.7h1v1h-1zM225.5 81.4h1v1h-1zM222.5 66.1h1v1h-1zM224.0 69.4h1v1h-1zM225.6 79.0h1v1h-1zM224.9 72.8h1v1h-1zM220.9 84.4h1v1h-1zM223.4 68.8h1v1h-1zM222.8 65.9h1v1h-1zM224.8 72.5h1v1h-1zM223.9 68.2h1v1h-1zM224.0 86.0h1v1h-1zM221.8 67.3h1v1h-1zM222.3 83.9h1v1h-1zM223.3 84.5h1v1h-1zM222.3 66.8h1v1h-1zM220.9 71.4h1v1h-1zM220.4 73.3h1v1h-1zM221.3 85.0h1v1h-1zM224.4 68.3h1v1h-1zM220.5 80.7h1v1h-1zM221.2 81.8h1v1h-1zM225.4 80.2h1v1h-1zM221.1 76.2h1v1h-1zM223.2 86.6h1v1h-1zM221.8 67.4h1v1h-1zM221.6 86.1h1v1h-1zM225.0 73.1h1v1h-1zM222.3 67.2h1v1h-1zM221.1 77.3h1v1h-1zM223.6 87.3h1v1h-1zM222.9 69.4h1v1h-1zM223.7 66.8h1v1h-1zM223.4 66.2h1v1h-1zM223.4 85.9h1v1h-1zM220.4 74.2h1v1h-1zM222.7 87.1h1v1h-1zM222.2 86.4h1v1h-1zM222.6 86.2h1v1h-1zM225.6 80.4h1v1h-1zM224.9 73.4h1v1h-1zM225.2 81.3h1v1h-1zM222.4 86.9h1v1h-1zM225.1 70.1h1v1h-1zM221.3 81.8h1v1h-1zM221.6 70.7h1v1h-1zM223.6 67.6h1v1h-1zM224.9 79.8h1v1h-1zM221.8 85.8h1v1h-1zM220.7 81.5h1v1h-1zM220.2 77.7h1v1h-1zM223.3 87.7h1v1h-1zM223.3 86.8h1v1h-1zM220.2 75.5h1v1h-1zM225.1 82.6h1v1h-1zM220.7 79.0h1v1h-1zM221.3 83.1h1v1h-1zM224.9 73.3h1v1h-1zM220.3 75.9h1v1h-1zM222.0 85.8h1v1h-1zM223.4 86.2h1v1h-1zM221.8 71.0h1v1h-1zM221.2 84.7h1v1h-1zM221.2 75.0h1v1h-1zM220.9 70.1h1v1h-1zM221.7 85.3h1v1h-1zM221.2 73.2h1v1h-1zM224.0 67.8h1v1h-1zM223.8 70.2h1v1h-1zM225.8 77.6h1v1h-1zM223.0 84.1h1v1h-1zM221.5 85.0h1v1h-1zM220.6 71.3h1v1h-1zM223.5 67.5h1v1h-1zM223.7 84.6h1v1h-1zM224.0 70.5h1v1h-1zM225.4 82.2h1v1h-1zM224.5 81.7h1v1h-1zM220.3 74.0h1v1h-1zM222.1 86.9h1v1h-1zM221.9 68.9h1v1h-1zM220.7 71.5h1v1h-1zM224.5 81.0h1v1h-1zM220.4 75.5h1v1h-1zM224.9 82.2h1v1h-1zM223.8 68.2h1v1h-1zM223.4 68.5h1v1h-1zM224.4 68.3h1v1h-1zM220.9 79.9h1v1h-1zM222.0 67.2h1v1h-1zM223.8 67.2h1v1h-1zM223.8 87.4h1v1h-1zM220.4 73.1h1v1h-1zM225.1 74.3h1v1h-1zM224.9 71.7h1v1h-1z" fill="#c4bc34" fill-opacity="0.92"/>
<path d="M222.0 73.5h1v1h-1zM222.7 80.6h1v1h-1zM223.3 77.4h1v1h-1zM223.6 70.6h1v1h-1zM223.3 74.1h1v1h-1zM223.5 81.1h1v1h-1zM223.6 76.0h1v1h-1zM223.3 69.8h1v1h-1zM224.1 78.7h1v1h-1zM221.9 74.8h1v1h-1zM224.7 77.3h1v1h-1zM222.9 82.9h1v1h-1zM223.1 72.6h1v1h-1zM222.0 76.1h1v1h-1zM221.9 73.0h1v1h-1zM223.1 82.4h1v1h-1zM223.1 82.0h1v1h-1zM224.7 74.6h1v1h-1zM223.3 71.9h1v1h-1zM223.9 75.5h1v1h-1zM222.2 73.4h1v1h-1zM222.4 78.7h1v1h-1zM224.4 80.0h1v1h-1zM224.1 78.7h1v1h-1zM222.3 81.6h1v1h-1zM222.3 73.9h1v1h-1zM223.2 76.7h1v1h-1zM223.9 76.1h1v1h-1zM224.6 77.5h1v1h-1zM222.5 81.9h1v1h-1zM222.6 72.4h1v1h-1zM221.5 80.5h1v1h-1zM223.0 75.0h1v1h-1zM223.6 77.1h1v1h-1zM223.9 78.0h1v1h-1zM222.8 74.9h1v1h-1zM222.8 78.2h1v1h-1zM224.2 76.8h1v1h-1zM223.2 82.6h1v1h-1zM223.2 73.6h1v1h-1zM224.4 78.7h1v1h-1zM222.1 70.7h1v1h-1zM223.2 75.6h1v1h-1zM222.5 73.7h1v1h-1zM222.7 80.2h1v1h-1zM222.7 80.5h1v1h-1zM222.0 73.6h1v1h-1zM223.7 72.6h1v1h-1zM223.3 74.5h1v1h-1zM223.0 70.3h1v1h-1zM223.8 79.1h1v1h-1zM222.6 76.1h1v1h-1zM224.1 77.8h1v1h-1zM222.4 79.5h1v1h-1zM222.0 80.6h1v1h-1zM222.7 70.5h1v1h-1zM222.3 73.5h1v1h-1zM224.2 81.3h1v1h-1zM221.2 78.2h1v1h-1zM223.4 74.2h1v1h-1zM224.0 76.0h1v1h-1zM223.8 79.4h1v1h-1zM222.9 78.7h1v1h-1zM224.2 74.9h1v1h-1zM223.3 72.5h1v1h-1zM223.9 80.6h1v1h-1zM222.2 78.1h1v1h-1zM222.0 79.4h1v1h-1zM222.6 76.0h1v1h-1zM221.7 71.5h1v1h-1zM223.6 76.9h1v1h-1zM224.5 73.7h1v1h-1zM222.7 76.9h1v1h-1zM222.5 80.2h1v1h-1zM222.9 78.0h1v1h-1zM224.1 78.0h1v1h-1zM222.5 78.5h1v1h-1zM223.0 75.4h1v1h-1zM222.8 83.0h1v1h-1zM222.8 72.7h1v1h-1zM224.6 78.7h1v1h-1zM222.4 71.2h1v1h-1zM224.2 77.4h1v1h-1zM223.0 74.2h1v1h-1zM223.1 80.0h1v1h-1zM223.9 75.7h1v1h-1zM222.6 73.3h1v1h-1zM222.0 72.3h1v1h-1zM224.3 73.2h1v1h-1zM221.9 71.2h1v1h-1zM222.6 78.7h1v1h-1zM224.2 79.8h1v1h-1zM223.7 82.3h1v1h-1zM222.9 73.6h1v1h-1zM222.3 77.5h1v1h-1zM222.4 75.3h1v1h-1zM222.2 72.3h1v1h-1zM222.7 77.0h1v1h-1zM222.9 83.3h1v1h-1zM221.6 77.2h1v1h-1zM224.6 78.1h1v1h-1zM223.0 69.5h1v1h-1zM223.3 72.2h1v1h-1zM222.0 77.4h1v1h-1zM222.0 75.6h1v1h-1zM223.9 71.5h1v1h-1zM223.9 79.6h1v1h-1zM221.7 79.6h1v1h-1zM223.8 79.3h1v1h-1zM224.1 75.5h1v1h-1zM222.0 81.2h1v1h-1zM223.3 78.6h1v1h-1zM221.5 79.6h1v1h-1zM222.5 78.2h1v1h-1zM223.7 71.5h1v1h-1zM222.2 75.8h1v1h-1zM222.4 71.4h1v1h-1zM222.5 78.0h1v1h-1zM221.7 77.9h1v1h-1zM222.8 74.9h1v1h-1zM221.8 79.8h1v1h-1zM221.4 80.1h1v1h-1zM223.2 77.9h1v1h-1zM223.9 76.8h1v1h-1zM222.8 79.8h1v1h-1zM223.7 79.7h1v1h-1zM223.0 81.0h1v1h-1zM223.6 72.0h1v1h-1zM222.5 72.4h1v1h-1zM222.6 73.9h1v1h-1zM224.7 78.5h1v1h-1zM223.3 74.0h1v1h-1zM222.9 79.6h1v1h-1zM221.7 77.3h1v1h-1zM221.4 73.6h1v1h-1zM221.8 76.0h1v1h-1zM221.9 78.9h1v1h-1zM222.6 70.7h1v1h-1zM223.4 77.5h1v1h-1zM223.7 72.5h1v1h-1zM223.5 77.0h1v1h-1zM221.8 78.7h1v1h-1zM223.3 75.4h1v1h-1zM221.8 78.6h1v1h-1zM222.9 81.6h1v1h-1zM223.6 72.3h1v1h-1zM223.5 72.9h1v1h-1zM223.1 81.4h1v1h-1zM223.3 76.9h1v1h-1zM223.7 71.1h1v1h-1zM224.4 72.6h1v1h-1zM223.7 70.7h1v1h-1zM223.4 75.5h1v1h-1zM224.6 77.5h1v1h-1zM222.7 83.6h1v1h-1zM222.9 69.6h1v1h-1zM221.7 80.8h1v1h-1zM223.0 70.6h1v1h-1zM223.4 81.6h1v1h-1zM223.9 79.4h1v1h-1zM221.8 77.0h1v1h-1zM221.8 80.3h1v1h-1zM222.6 75.5h1v1h-1zM222.2 78.4h1v1h-1zM223.7 70.9h1v1h-1zM221.9 82.2h1v1h-1zM224.4 79.4h1v1h-1zM223.1 83.5h1v1h-1zM224.6 73.2h1v1h-1zM224.1 76.7h1v1h-1zM221.9 79.6h1v1h-1zM224.7 79.1h1v1h-1zM223.1 82.5h1v1h-1zM221.2 76.9h1v1h-1zM222.5 83.1h1v1h-1zM221.4 75.9h1v1h-1zM224.2 72.1h1v1h-1zM222.0 76.4h1v1h-1zM224.7 73.9h1v1h-1zM222.7 82.0h1v1h-1zM223.5 82.7h1v1h-1zM224.0 74.4h1v1h-1zM222.2 71.1h1v1h-1zM221.9 79.6h1v1h-1zM223.7 78.6h1v1h-1zM223.9 75.4h1v1h-1zM223.1 72.0h1v1h-1zM224.5 75.9h1v1h-1zM222.8 82.5h1v1h-1zM222.9 78.2h1v1h-1zM223.1 72.2h1v1h-1zM224.3 72.9h1v1h-1zM222.4 75.1h1v1h-1zM222.6 72.9h1v1h-1zM222.5 70.1h1v1h-1zM221.5 75.3h1v1h-1zM224.1 71.1h1v1h-1zM222.5 76.1h1v1h-1zM223.6 81.0h1v1h-1zM221.6 76.6h1v1h-1zM223.6 82.5h1v1h-1zM223.5 82.7h1v1h-1zM222.9 74.1h1v1h-1zM222.0 71.0h1v1h-1zM223.9 76.3h1v1h-1zM224.4 79.6h1v1h-1zM223.3 73.8h1v1h-1zM223.1 82.8h1v1h-1zM222.6 79.7h1v1h-1zM224.4 76.5h1v1h-1zM222.0 76.8h1v1h-1zM222.3 82.4h1v1h-1zM221.6 78.8h1v1h-1zM224.0 77.2h1v1h-1zM224.7 79.8h1v1h-1zM224.0 76.3h1v1h-1zM223.0 81.4h1v1h-1zM223.8 70.6h1v1h-1zM224.3 75.4h1v1h-1zM222.0 75.0h1v1h-1zM221.8 79.5h1v1h-1zM223.5 73.1h1v1h-1zM224.7 77.3h1v1h-1zM222.1 73.4h1v1h-1zM223.2 78.2h1v1h-1zM222.0 82.0h1v1h-1zM221.9 81.1h1v1h-1zM223.9 75.9h1v1h-1zM222.1 77.8h1v1h-1zM222.7 72.9h1v1h-1zM224.3 78.6h1v1h-1zM221.4 74.3h1v1h-1zM221.5 79.7h1v1h-1zM222.1 75.9h1v1h-1zM222.6 80.1h1v1h-1zM223.9 77.9h1v1h-1zM222.1 81.7h1v1h-1zM221.9 71.2h1v1h-1zM221.7 74.9h1v1h-1zM221.9 75.7h1v1h-1zM222.1 78.3h1v1h-1zM223.4 72.0h1v1h-1zM222.8 83.0h1v1h-1zM223.3 76.4h1v1h-1zM224.7 75.7h1v1h-1zM223.6 70.4h1v1h-1zM222.7 72.1h1v1h-1zM221.4 79.8h1v1h-1zM224.6 77.9h1v1h-1zM221.7 79.2h1v1h-1zM223.6 82.3h1v1h-1zM223.3 81.6h1v1h-1zM222.0 77.8h1v1h-1zM222.1 70.8h1v1h-1zM223.7 76.7h1v1h-1zM222.0 81.7h1v1h-1zM223.3 76.5h1v1h-1zM223.7 80.8h1v1h-1zM223.0 80.2h1v1h-1zM223.5 76.5h1v1h-1zM223.2 76.4h1v1h-1zM221.5 77.4h1v1h-1zM223.7 72.4h1v1h-1zM223.2 76.3h1v1h-1zM224.0 75.5h1v1h-1zM222.0 77.5h1v1h-1zM224.1 72.6h1v1h-1zM221.7 75.6h1v1h-1zM223.2 78.7h1v1h-1zM222.9 76.4h1v1h-1zM223.3 76.7h1v1h-1zM222.4 81.7h1v1h-1zM223.3 80.3h1v1h-1zM223.8 75.7h1v1h-1zM223.3 80.7h1v1h-1zM223.9 79.2h1v1h-1zM222.2 82.7h1v1h-1zM224.6 79.6h1v1h-1zM222.0 70.9h1v1h-1zM224.1 71.2h1v1h-1zM222.7 80.6h1v1h-1zM221.2 75.9h1v1h-1zM222.8 77.4h1v1h-1zM222.6 70.2h1v1h-1zM222.9 77.9h1v1h-1zM221.5 74.4h1v1h-1zM223.1 82.9h1v1h-1zM221.2 76.8h1v1h-1zM223.3 80.8h1v1h-1zM224.2 76.2h1v1h-1zM222.4 71.6h1v1h-1zM222.6 74.2h1v1h-1zM223.2 74.1h1v1h-1zM224.5 75.9h1v1h-1zM223.9 76.2h1v1h-1zM223.2 72.7h1v1h-1zM222.9 70.0h1v1h-1zM221.8 81.1h1v1h-1zM222.1 77.6h1v1h-1zM222.5 78.5h1v1h-1zM222.6 71.7h1v1h-1zM221.8 73.6h1v1h-1zM222.3 82.7h1v1h-1zM221.8 79.8h1v1h-1zM224.0 73.6h1v1h-1zM222.5 71.5h1v1h-1zM223.5 73.1h1v1h-1zM222.9 77.8h1v1h-1zM223.3 70.5h1v1h-1zM224.1 81.0h1v1h-1z" fill="#dc7c2a" fill-opacity="0.95"/>
</g>
<path d="M248 52.3H281.5V102.2H270L266 98.6H248Z" fill="none" stroke="#555" stroke-width="0.8"/>
<rect x="218" y="48" width="68.5" height="67.5" fill="none" stroke="#111" stroke-width="1.1"/>
<line x1="218" y1="48" x2="218" y2="116.1" stroke="#111" stroke-width="1.5"/>
<line x1="217.4" y1="115.7" x2="286.5" y2="115.7" stroke="#111" stroke-width="1.9"/>
<path d="M224 115.5v3.4M233.3 115.5v3.4M249.5 115.5v3.4M265.6 115.5v3.4M281.8 115.5v3.4M238.2 115.5v2.2M241 115.5v2.2M243.1 115.5v2.2M244.6 115.5v2.2M245.9 115.5v2.2M247 115.5v2.2M247.9 115.5v2.2M248.8 115.5v2.2M254.3 115.5v2.2M257.2 115.5v2.2M259.2 115.5v2.2M260.8 115.5v2.2M262 115.5v2.2M263.1 115.5v2.2M264 115.5v2.2M264.9 115.5v2.2M270.5 115.5v2.2M273.3 115.5v2.2M275.4 115.5v2.2M276.9 115.5v2.2M278.2 115.5v2.2M279.3 115.5v2.2M280.2 115.5v2.2M281.1 115.5v2.2M226.3 115.5v2.2M228.7 115.5v2.2M231 115.5v2.2" stroke="#111" stroke-width="1.0" fill="none"/>
<path d="M218 108.5h-3.4M218 101h-3.4M218 85.5h-3.4M218 70.3h-3.4M218 55.2h-3.4M218 96.3h-2.2M218 93.6h-2.2M218 91.7h-2.2M218 90.2h-2.2M218 88.9h-2.2M218 87.9h-2.2M218 87h-2.2M218 86.2h-2.2M218 80.9h-2.2M218 78.2h-2.2M218 76.3h-2.2M218 74.9h-2.2M218 73.7h-2.2M218 72.7h-2.2M218 71.8h-2.2M218 71h-2.2M218 65.8h-2.2M218 63.1h-2.2M218 61.2h-2.2M218 59.7h-2.2M218 58.5h-2.2M218 57.5h-2.2M218 56.7h-2.2M218 55.9h-2.2M218 106.6h-2.2M218 104.8h-2.2M218 102.9h-2.2" stroke="#111" stroke-width="1.0" fill="none"/>
<text x="224" y="126.6" font-size="5.2" fill="#222" text-anchor="middle" stroke="#222" stroke-width="0.14">0</text>
<text x="234.1" y="126.6" font-size="5.2" fill="#222" text-anchor="middle" stroke="#222" stroke-width="0.14">10<tspan dy="-2" font-size="2.9">2</tspan></text>
<text x="250.3" y="126.6" font-size="5.2" fill="#222" text-anchor="middle" stroke="#222" stroke-width="0.14">10<tspan dy="-2" font-size="2.9">3</tspan></text>
<text x="266.4" y="126.6" font-size="5.2" fill="#222" text-anchor="middle" stroke="#222" stroke-width="0.14">10<tspan dy="-2" font-size="2.9">4</tspan></text>
<text x="282.6" y="126.6" font-size="5.2" fill="#222" text-anchor="middle" stroke="#222" stroke-width="0.14">10<tspan dy="-2" font-size="2.9">5</tspan></text>
<text x="211.9" y="110.3" font-size="5.2" fill="#222" text-anchor="end" stroke="#222" stroke-width="0.14">0</text>
<text x="211.9" y="102.8" font-size="5.2" fill="#222" text-anchor="end" stroke="#222" stroke-width="0.14">10<tspan dy="-2" font-size="2.9">2</tspan></text>
<text x="211.9" y="87.3" font-size="5.2" fill="#222" text-anchor="end" stroke="#222" stroke-width="0.14">10<tspan dy="-2" font-size="2.9">3</tspan></text>
<text x="211.9" y="72.1" font-size="5.2" fill="#222" text-anchor="end" stroke="#222" stroke-width="0.14">10<tspan dy="-2" font-size="2.9">4</tspan></text>
<text x="211.9" y="57" font-size="5.2" fill="#222" text-anchor="end" stroke="#222" stroke-width="0.14">10<tspan dy="-2" font-size="2.9">5</tspan></text>
<text x="283.6" y="53.5" font-size="7.3" fill="#222" text-anchor="end" textLength="20.5" lengthAdjust="spacingAndGlyphs" stroke="#222" stroke-width="0.22">12.1%</text>
<line x1="27.9" y1="55" x2="27.9" y2="115.5" stroke="#111" stroke-width="1.7"/>
<path d="M24.9 55.8L27.4 49.1H28.4L30.9 55.8Z" fill="#111"/>
<text x="22.2" y="111.1" font-size="9.3" fill="#222" textLength="15.1" lengthAdjust="spacingAndGlyphs" transform="rotate(-90 22.2 111.1)" stroke="#222" stroke-width="0.3">GFP</text>
<rect x="47" y="134.5" width="68" height="68" fill="none" stroke="#111" stroke-width="1.1"/>
<line x1="47" y1="134.5" x2="47" y2="203.1" stroke="#111" stroke-width="1.5"/>
<line x1="46.4" y1="202.7" x2="115" y2="202.7" stroke="#111" stroke-width="1.9"/>
<path d="M47 197.4h-1.7M47 192.4h-1.7M47 187.3h-1.7M47 182.3h-2.8M47 177.2h-1.7M47 172.2h-1.7M47 167.2h-1.7M47 162.1h-2.8M47 157.1h-1.7M47 152h-1.7M47 146.9h-1.7M47 141.9h-2.8M47 136.9h-1.7" stroke="#111" stroke-width="0.9" fill="none"/>
<path d="M51.5 202.5v3.4M59.7 202.5v3.4M76.1 202.5v3.4M92.5 202.5v3.4M108.2 202.5v3.4M64.6 202.5v2.2M67.5 202.5v2.2M69.6 202.5v2.2M71.2 202.5v2.2M72.5 202.5v2.2M73.6 202.5v2.2M74.5 202.5v2.2M75.3 202.5v2.2M81 202.5v2.2M83.9 202.5v2.2M86 202.5v2.2M87.6 202.5v2.2M88.9 202.5v2.2M90 202.5v2.2M90.9 202.5v2.2M91.7 202.5v2.2M97.2 202.5v2.2M100 202.5v2.2M102 202.5v2.2M103.5 202.5v2.2M104.7 202.5v2.2M105.8 202.5v2.2M106.7 202.5v2.2M107.5 202.5v2.2M53.5 202.5v2.2M55.6 202.5v2.2M57.7 202.5v2.2" stroke="#111" stroke-width="1.0" fill="none"/>
<text x="51.5" y="213.6" font-size="5.2" fill="#222" text-anchor="middle" stroke="#222" stroke-width="0.14">0</text>
<text x="60.5" y="213.6" font-size="5.2" fill="#222" text-anchor="middle" stroke="#222" stroke-width="0.14">10<tspan dy="-2" font-size="2.9">2</tspan></text>
<text x="76.9" y="213.6" font-size="5.2" fill="#222" text-anchor="middle" stroke="#222" stroke-width="0.14">10<tspan dy="-2" font-size="2.9">3</tspan></text>
<text x="93.3" y="213.6" font-size="5.2" fill="#222" text-anchor="middle" stroke="#222" stroke-width="0.14">10<tspan dy="-2" font-size="2.9">4</tspan></text>
<text x="109" y="213.6" font-size="5.2" fill="#222" text-anchor="middle" stroke="#222" stroke-width="0.14">10<tspan dy="-2" font-size="2.9">5</tspan></text>
<path d="M47.50 202.30C55.10 202.30 68.24 202.41 76.00 202.30C83.76 202.19 76.04 206.51 76.60 201.90C77.16 197.29 77.30 192.17 78.10 185.00C78.90 177.83 78.69 175.59 79.60 175.00C80.51 174.41 80.25 191.20 81.50 182.80C82.75 174.40 82.97 143.31 84.30 143.50C85.63 143.69 85.33 177.34 86.50 183.50C87.67 189.66 87.87 169.53 88.70 166.60C89.53 163.67 88.91 165.25 89.60 172.50C90.29 179.75 90.37 189.48 91.30 193.80C92.23 198.12 92.19 188.11 93.10 188.70C94.01 189.29 93.69 194.59 94.70 196.00C95.71 197.41 95.83 193.33 96.90 194.00C97.97 194.67 97.71 197.46 98.70 198.50C99.69 199.54 99.16 196.91 100.60 197.90C102.04 198.89 100.39 201.03 104.10 202.20C107.81 203.37 111.73 202.27 114.50 202.30" fill="none" stroke="#111" stroke-width="1.3" stroke-linejoin="round"/>
<rect x="132.3" y="134.5" width="68.7" height="68" fill="none" stroke="#111" stroke-width="1.1"/>
<line x1="132.3" y1="134.5" x2="132.3" y2="203.1" stroke="#111" stroke-width="1.5"/>
<line x1="131.7" y1="202.7" x2="201" y2="202.7" stroke="#111" stroke-width="1.9"/>
<path d="M132.3 197.4h-1.7M132.3 192.4h-1.7M132.3 187.3h-1.7M132.3 182.3h-2.8M132.3 177.2h-1.7M132.3 172.2h-1.7M132.3 167.2h-1.7M132.3 162.1h-2.8M132.3 157.1h-1.7M132.3 152h-1.7M132.3 146.9h-1.7M132.3 141.9h-2.8M132.3 136.9h-1.7" stroke="#111" stroke-width="0.9" fill="none"/>
<path d="M138.3 202.5v3.4M147.6 202.5v3.4M163.6 202.5v3.4M179.3 202.5v3.4M194.9 202.5v3.4M152.4 202.5v2.2M155.2 202.5v2.2M157.2 202.5v2.2M158.8 202.5v2.2M160.1 202.5v2.2M161.1 202.5v2.2M162 202.5v2.2M162.9 202.5v2.2M168.3 202.5v2.2M171.1 202.5v2.2M173.1 202.5v2.2M174.6 202.5v2.2M175.8 202.5v2.2M176.9 202.5v2.2M177.8 202.5v2.2M178.6 202.5v2.2M184 202.5v2.2M186.7 202.5v2.2M188.7 202.5v2.2M190.2 202.5v2.2M191.4 202.5v2.2M192.5 202.5v2.2M193.4 202.5v2.2M194.2 202.5v2.2M140.6 202.5v2.2M143 202.5v2.2M145.3 202.5v2.2" stroke="#111" stroke-width="1.0" fill="none"/>
<text x="138.3" y="213.6" font-size="5.2" fill="#222" text-anchor="middle" stroke="#222" stroke-width="0.14">0</text>
<text x="148.4" y="213.6" font-size="5.2" fill="#222" text-anchor="middle" stroke="#222" stroke-width="0.14">10<tspan dy="-2" font-size="2.9">2</tspan></text>
<text x="164.4" y="213.6" font-size="5.2" fill="#222" text-anchor="middle" stroke="#222" stroke-width="0.14">10<tspan dy="-2" font-size="2.9">3</tspan></text>
<text x="180.1" y="213.6" font-size="5.2" fill="#222" text-anchor="middle" stroke="#222" stroke-width="0.14">10<tspan dy="-2" font-size="2.9">4</tspan></text>
<text x="195.7" y="213.6" font-size="5.2" fill="#222" text-anchor="middle" stroke="#222" stroke-width="0.14">10<tspan dy="-2" font-size="2.9">5</tspan></text>
<path d="M132.80 202.30C140.45 202.30 153.71 202.35 161.50 202.30C169.29 202.25 161.36 206.34 162.00 202.10C162.64 197.86 162.75 190.83 163.90 186.40C165.05 181.97 164.65 196.67 166.30 185.50C167.95 174.33 168.53 147.11 170.10 144.50C171.67 141.89 171.08 173.09 172.20 175.70C173.32 178.31 173.21 152.70 174.30 154.30C175.39 155.90 175.21 176.82 176.30 181.70C177.39 186.58 177.28 169.83 178.40 172.60C179.52 175.37 179.33 187.41 180.50 192.10C181.67 196.79 181.65 189.19 182.80 190.20C183.95 191.21 183.49 201.18 184.80 195.90C186.11 190.62 186.23 169.39 187.70 170.40C189.17 171.41 189.10 191.22 190.30 199.70C191.50 208.18 189.48 201.51 192.20 202.20C194.92 202.89 198.29 202.27 200.50 202.30" fill="none" stroke="#111" stroke-width="1.3" stroke-linejoin="round"/>
<rect x="218" y="134.5" width="68.7" height="68" fill="none" stroke="#111" stroke-width="1.1"/>
<line x1="218" y1="134.5" x2="218" y2="203.1" stroke="#111" stroke-width="1.5"/>
<line x1="217.4" y1="202.7" x2="286.7" y2="202.7" stroke="#111" stroke-width="1.9"/>
<path d="M218 197.4h-1.7M218 192.4h-1.7M218 187.3h-1.7M218 182.3h-2.8M218 177.2h-1.7M218 172.2h-1.7M218 167.2h-1.7M218 162.1h-2.8M218 157.1h-1.7M218 152h-1.7M218 146.9h-1.7M218 141.9h-2.8M218 136.9h-1.7" stroke="#111" stroke-width="0.9" fill="none"/>
<path d="M223.2 202.5v3.4M232 202.5v3.4M248.3 202.5v3.4M264.3 202.5v3.4M280.4 202.5v3.4M236.9 202.5v2.2M239.8 202.5v2.2M241.8 202.5v2.2M243.4 202.5v2.2M244.7 202.5v2.2M245.8 202.5v2.2M246.7 202.5v2.2M247.6 202.5v2.2M253.1 202.5v2.2M255.9 202.5v2.2M257.9 202.5v2.2M259.5 202.5v2.2M260.8 202.5v2.2M261.8 202.5v2.2M262.7 202.5v2.2M263.6 202.5v2.2M269.1 202.5v2.2M272 202.5v2.2M274 202.5v2.2M275.6 202.5v2.2M276.8 202.5v2.2M277.9 202.5v2.2M278.8 202.5v2.2M279.7 202.5v2.2M225.4 202.5v2.2M227.6 202.5v2.2M229.8 202.5v2.2" stroke="#111" stroke-width="1.0" fill="none"/>
<text x="223.2" y="213.6" font-size="5.2" fill="#222" text-anchor="middle" stroke="#222" stroke-width="0.14">0</text>
<text x="232.8" y="213.6" font-size="5.2" fill="#222" text-anchor="middle" stroke="#222" stroke-width="0.14">10<tspan dy="-2" font-size="2.9">2</tspan></text>
<text x="249.1" y="213.6" font-size="5.2" fill="#222" text-anchor="middle" stroke="#222" stroke-width="0.14">10<tspan dy="-2" font-size="2.9">3</tspan></text>
<text x="265.1" y="213.6" font-size="5.2" fill="#222" text-anchor="middle" stroke="#222" stroke-width="0.14">10<tspan dy="-2" font-size="2.9">4</tspan></text>
<text x="281.2" y="213.6" font-size="5.2" fill="#222" text-anchor="middle" stroke="#222" stroke-width="0.14">10<tspan dy="-2" font-size="2.9">5</tspan></text>
<path d="M218.50 202.30C226.10 202.30 239.27 202.35 247.00 202.30C254.73 202.25 246.59 203.65 247.50 202.10C248.41 200.55 249.23 197.65 250.40 196.50C251.57 195.35 250.49 200.23 251.90 197.80C253.31 195.37 254.29 188.92 255.70 187.40C257.11 185.88 256.11 193.35 257.20 192.10C258.29 190.85 258.60 183.21 259.80 182.70C261.00 182.19 260.58 189.56 261.70 190.20C262.82 190.84 262.88 184.25 264.00 185.10C265.12 185.95 264.89 191.69 265.90 193.40C266.91 195.11 266.76 190.67 267.80 191.50C268.84 192.33 268.89 195.57 269.80 196.50C270.71 197.43 270.35 207.91 271.20 195.00C272.05 182.09 272.01 150.13 273.00 148.10C273.99 146.07 273.97 173.40 274.90 187.40C275.83 201.40 275.59 196.65 276.50 200.60C277.41 204.55 275.71 201.75 278.30 202.20C280.89 202.65 284.09 202.27 286.20 202.30" fill="none" stroke="#111" stroke-width="1.3" stroke-linejoin="round"/>
<text x="38.3" y="178.2" font-size="7.6" fill="#222" transform="rotate(-90 38.3 178.2)" stroke="#222" stroke-width="0.28">count</text>
<line x1="48" y1="226.4" x2="223.3" y2="226.4" stroke="#111" stroke-width="1.6"/>
<path d="M43.1 226.4L50.6 222.7L48.8 226.4L50.6 230.1Z" fill="#111"/>
<text x="233.9" y="229.5" font-size="9.8" fill="#222" textLength="46.5" lengthAdjust="spacingAndGlyphs" stroke="#222" stroke-width="0.3">Cell division</text>
<line x1="322.8" y1="54" x2="322.8" y2="185.2" stroke="#111" stroke-width="1.5"/>
<line x1="322.1" y1="184.5" x2="513" y2="184.5" stroke="#111" stroke-width="1.5"/>
<line x1="319.8" y1="56.5" x2="322.8" y2="56.5" stroke="#111" stroke-width="1.1"/>
<text x="317.6" y="59.3" font-size="7.8" fill="#222" text-anchor="end" stroke="#222" stroke-width="0.22">8</text>
<line x1="319.8" y1="88.5" x2="322.8" y2="88.5" stroke="#111" stroke-width="1.1"/>
<text x="317.6" y="91.3" font-size="7.8" fill="#222" text-anchor="end" stroke="#222" stroke-width="0.22">6</text>
<line x1="319.8" y1="120.5" x2="322.8" y2="120.5" stroke="#111" stroke-width="1.1"/>
<text x="317.6" y="123.3" font-size="7.8" fill="#222" text-anchor="end" stroke="#222" stroke-width="0.22">4</text>
<line x1="319.8" y1="152.5" x2="322.8" y2="152.5" stroke="#111" stroke-width="1.1"/>
<text x="317.6" y="155.3" font-size="7.8" fill="#222" text-anchor="end" stroke="#222" stroke-width="0.22">2</text>
<line x1="319.8" y1="184.5" x2="322.8" y2="184.5" stroke="#111" stroke-width="1.1"/>
<text x="317.6" y="187.3" font-size="7.8" fill="#222" text-anchor="end" stroke="#222" stroke-width="0.22">0</text>
<line x1="322.9" y1="184.5" x2="322.9" y2="187.5" stroke="#111" stroke-width="1.1"/>
<line x1="338.7" y1="184.5" x2="338.7" y2="187.5" stroke="#111" stroke-width="1.1"/>
<line x1="354.5" y1="184.5" x2="354.5" y2="187.5" stroke="#111" stroke-width="1.1"/>
<line x1="370.3" y1="184.5" x2="370.3" y2="187.5" stroke="#111" stroke-width="1.1"/>
<line x1="386.1" y1="184.5" x2="386.1" y2="187.5" stroke="#111" stroke-width="1.1"/>
<line x1="401.9" y1="184.5" x2="401.9" y2="187.5" stroke="#111" stroke-width="1.1"/>
<line x1="417.7" y1="184.5" x2="417.7" y2="187.5" stroke="#111" stroke-width="1.1"/>
<line x1="433.5" y1="184.5" x2="433.5" y2="187.5" stroke="#111" stroke-width="1.1"/>
<line x1="449.3" y1="184.5" x2="449.3" y2="187.5" stroke="#111" stroke-width="1.1"/>
<line x1="465.1" y1="184.5" x2="465.1" y2="187.5" stroke="#111" stroke-width="1.1"/>
<line x1="480.9" y1="184.5" x2="480.9" y2="187.5" stroke="#111" stroke-width="1.1"/>
<line x1="496.7" y1="184.5" x2="496.7" y2="187.5" stroke="#111" stroke-width="1.1"/>
<line x1="512.5" y1="184.5" x2="512.5" y2="187.5" stroke="#111" stroke-width="1.1"/>
<text x="338.7" y="198" font-size="7.8" fill="#222" text-anchor="middle" stroke="#222" stroke-width="0.22">2</text>
<text x="370.3" y="198" font-size="7.8" fill="#222" text-anchor="middle" stroke="#222" stroke-width="0.22">1</text>
<text x="401.6" y="198" font-size="7.8" fill="#222" text-anchor="middle" stroke="#222" stroke-width="0.22">0.5</text>
<text x="433" y="198" font-size="7.8" fill="#222" text-anchor="middle" stroke="#222" stroke-width="0.22">0.25</text>
<text x="495.7" y="198" font-size="7.8" fill="#222" text-anchor="middle" stroke="#222" stroke-width="0.22">0</text>
<text x="392.4" y="210.6" font-size="9.4" fill="#222" textLength="51.5" lengthAdjust="spacingAndGlyphs" stroke="#222" stroke-width="0.3">Treg/Teff ratio</text>
<text x="306.8" y="167.5" font-size="9.6" fill="#222" textLength="97.9" lengthAdjust="spacingAndGlyphs" transform="rotate(-90 306.8 167.5)" stroke="#222" stroke-width="0.3">Divided 17195 Teff (x10<tspan dy="-3.2" font-size="6">4</tspan><tspan dy="3.2">)</tspan></text>
<path d="M338.7 122.6 L370.4 95.6 L401 93.9 L432 84.8" fill="none" stroke="#283868" stroke-width="1.7" stroke-dasharray="1.3 0.8"/>
<path d="M338.7 166.7 L370.2 149.1 L401 131 L432.2 111.5" fill="none" stroke="#961434" stroke-width="2"/>
<line x1="432" y1="81.2" x2="432" y2="88.3" stroke="#222" stroke-width="1"/>
<line x1="429.5" y1="81.2" x2="434.5" y2="81.2" stroke="#222" stroke-width="1.1"/>
<line x1="429.5" y1="88.3" x2="434.5" y2="88.3" stroke="#222" stroke-width="1.1"/>
<line x1="370.2" y1="144.9" x2="370.2" y2="153.4" stroke="#222" stroke-width="1"/>
<line x1="367.7" y1="144.9" x2="372.7" y2="144.9" stroke="#222" stroke-width="1.1"/>
<line x1="367.7" y1="153.4" x2="372.7" y2="153.4" stroke="#222" stroke-width="1.1"/>
<line x1="401" y1="127" x2="401" y2="134.4" stroke="#222" stroke-width="1"/>
<line x1="398.5" y1="127" x2="403.5" y2="127" stroke="#222" stroke-width="1.1"/>
<line x1="398.5" y1="134.4" x2="403.5" y2="134.4" stroke="#222" stroke-width="1.1"/>
<line x1="370.4" y1="93.6" x2="370.4" y2="97.6" stroke="#222" stroke-width="1"/>
<line x1="368.6" y1="93.6" x2="372.2" y2="93.6" stroke="#222" stroke-width="1.1"/>
<line x1="368.6" y1="97.6" x2="372.2" y2="97.6" stroke="#222" stroke-width="1.1"/>
<line x1="401" y1="91.8" x2="401" y2="96" stroke="#222" stroke-width="1"/>
<line x1="399.2" y1="91.8" x2="402.8" y2="91.8" stroke="#222" stroke-width="1.1"/>
<line x1="399.2" y1="96" x2="402.8" y2="96" stroke="#222" stroke-width="1.1"/>
<line x1="338.7" y1="121" x2="338.7" y2="124.3" stroke="#222" stroke-width="1"/>
<line x1="336.9" y1="121" x2="340.5" y2="121" stroke="#222" stroke-width="1.1"/>
<line x1="336.9" y1="124.3" x2="340.5" y2="124.3" stroke="#222" stroke-width="1.1"/>
<circle cx="338.7" cy="122.6" r="2.3" fill="#2e4680" stroke="#1e2a50" stroke-width="0.6"/>
<circle cx="370.4" cy="95.6" r="2.3" fill="#2e4680" stroke="#1e2a50" stroke-width="0.6"/>
<circle cx="401" cy="93.9" r="2.3" fill="#2e4680" stroke="#1e2a50" stroke-width="0.6"/>
<circle cx="432" cy="84.8" r="2.3" fill="#2e4680" stroke="#1e2a50" stroke-width="0.6"/>
<rect x="336" y="164" width="5.4" height="5.4" fill="#961434" stroke="#6a0a20" stroke-width="0.6"/>
<rect x="367.5" y="146.4" width="5.4" height="5.4" fill="#961434" stroke="#6a0a20" stroke-width="0.6"/>
<rect x="398.3" y="128.3" width="5.4" height="5.4" fill="#961434" stroke="#6a0a20" stroke-width="0.6"/>
<rect x="429.5" y="108.8" width="5.4" height="5.4" fill="#961434" stroke="#6a0a20" stroke-width="0.6"/>
<line x1="494.4" y1="95.6" x2="494.4" y2="109.5" stroke="#222" stroke-width="1"/>
<line x1="491.9" y1="95.6" x2="496.9" y2="95.6" stroke="#222" stroke-width="1.1"/>
<line x1="491.9" y1="109.5" x2="496.9" y2="109.5" stroke="#222" stroke-width="1.1"/>
<rect x="491.7" y="99.3" width="5.4" height="5.4" fill="#961434" stroke="#6a0a20" stroke-width="0.6"/>
<path d="M443.8 157.2H457.7" stroke="#283868" stroke-width="1.7" stroke-dasharray="1.3 0.8"/>
<circle cx="450.6" cy="157.2" r="2.3" fill="#2e4680" stroke="#1e2a50" stroke-width="0.6"/>
<text x="461.1" y="159.9" font-size="7.4" fill="#222" textLength="35.5" lengthAdjust="spacingAndGlyphs" stroke="#222" stroke-width="0.22">Mock Treg</text>
<line x1="443.8" y1="168.4" x2="457.7" y2="168.4" stroke="#961434" stroke-width="1.8"/>
<rect x="447.9" y="165.7" width="5.4" height="5.4" fill="#961434" stroke="#6a0a20" stroke-width="0.6"/>
<text x="461.1" y="171.1" font-size="7.4" fill="#222" textLength="37.8" lengthAdjust="spacingAndGlyphs" stroke="#222" stroke-width="0.22">ANS8 Treg</text>
<text x="7.8" y="257.6" font-size="10" fill="#000" font-weight="bold" stroke="#000" stroke-width="0.22">B</text>
<text x="20.2" y="269.7" font-size="7.5" fill="#222" stroke="#222" stroke-width="0.32">Teff :</text>
<text x="129.2" y="269.6" font-size="7.4" fill="#222" textLength="75" lengthAdjust="spacingAndGlyphs" stroke="#222" stroke-width="0.28">Ob2F3 (MBP-specific)</text>
<line x1="49.8" y1="274.5" x2="283.4" y2="274.5" stroke="#111" stroke-width="1.1"/>
<text x="20.2" y="284.1" font-size="7.5" fill="#222" stroke="#222" stroke-width="0.32">Treg:</text>
<text x="80.8" y="284.3" font-size="7.4" fill="#222" text-anchor="middle" stroke="#222" stroke-width="0.28">None</text>
<text x="168.7" y="284.3" font-size="7.4" fill="#222" text-anchor="middle" stroke="#222" stroke-width="0.28">ANS8</text>
<text x="254.8" y="284.3" font-size="7.4" fill="#222" text-anchor="middle" stroke="#222" stroke-width="0.28">17195</text>
<g filter="url(#b4)">
<path d="M79.6 340.8h1v1h-1zM81.0 343.8h1v1h-1zM82.4 337.4h1v1h-1zM82.2 340.9h1v1h-1zM71.5 342.4h1v1h-1zM89.7 340.7h1v1h-1zM81.5 340.3h1v1h-1zM67.6 344.4h1v1h-1zM86.9 337.6h1v1h-1zM85.1 339.0h1v1h-1zM84.2 293.6h1v1h-1zM68.8 342.4h1v1h-1zM74.4 339.8h1v1h-1zM81.3 340.3h1v1h-1zM74.3 341.2h1v1h-1zM88.3 337.3h1v1h-1zM76.2 344.2h1v1h-1zM64.4 326.4h1v1h-1zM78.6 341.8h1v1h-1zM74.3 342.2h1v1h-1zM77.2 342.0h1v1h-1zM69.7 342.0h1v1h-1zM70.8 342.8h1v1h-1zM71.5 341.5h1v1h-1zM62.5 316.7h1v1h-1zM74.6 341.4h1v1h-1zM83.9 340.4h1v1h-1zM67.3 339.3h1v1h-1zM60.6 314.9h1v1h-1zM89.5 344.8h1v1h-1zM69.6 341.5h1v1h-1zM68.7 344.2h1v1h-1zM72.7 340.3h1v1h-1zM92.1 338.4h1v1h-1zM66.6 340.2h1v1h-1zM50.5 347.8h1v1h-1zM75.2 342.1h1v1h-1zM71.6 340.6h1v1h-1zM84.7 344.2h1v1h-1zM53.7 349.1h1v1h-1zM79.9 344.6h1v1h-1z" fill="#bcb9c9" fill-opacity="0.5"/>
<path d="M92.1 335.4h1v1h-1zM96.9 298.1h1v1h-1zM95.0 300.7h1v1h-1zM95.8 326.0h1v1h-1zM92.2 302.3h1v1h-1zM73.4 297.9h1v1h-1zM83.3 300.9h1v1h-1zM67.0 323.2h1v1h-1zM88.0 320.5h1v1h-1zM69.0 304.4h1v1h-1zM94.3 310.7h1v1h-1zM68.7 333.1h1v1h-1zM87.5 332.8h1v1h-1zM68.6 326.2h1v1h-1zM90.0 330.7h1v1h-1zM92.4 313.9h1v1h-1zM67.1 329.8h1v1h-1zM92.7 332.7h1v1h-1zM94.8 308.9h1v1h-1zM69.1 331.1h1v1h-1zM93.5 301.2h1v1h-1zM84.3 300.0h1v1h-1zM91.9 335.3h1v1h-1zM96.4 312.1h1v1h-1zM93.2 327.8h1v1h-1zM96.8 318.8h1v1h-1zM66.3 300.0h1v1h-1zM95.2 317.8h1v1h-1zM94.2 336.1h1v1h-1zM67.2 319.3h1v1h-1zM94.1 308.6h1v1h-1zM96.0 315.8h1v1h-1zM92.2 328.0h1v1h-1zM87.3 325.6h1v1h-1zM67.3 303.5h1v1h-1zM92.0 300.5h1v1h-1zM85.6 298.1h1v1h-1zM90.3 334.0h1v1h-1zM68.9 332.4h1v1h-1zM66.4 309.2h1v1h-1zM67.9 317.7h1v1h-1zM92.7 298.4h1v1h-1zM67.9 315.3h1v1h-1zM83.3 335.6h1v1h-1zM65.3 297.2h1v1h-1zM91.5 320.1h1v1h-1zM91.5 333.3h1v1h-1zM90.6 299.3h1v1h-1zM88.0 311.9h1v1h-1zM96.2 327.1h1v1h-1zM87.6 322.9h1v1h-1zM92.5 302.6h1v1h-1zM83.6 301.0h1v1h-1zM88.5 318.0h1v1h-1zM87.2 334.8h1v1h-1zM95.5 316.2h1v1h-1zM88.9 304.0h1v1h-1zM86.0 334.3h1v1h-1zM67.7 317.6h1v1h-1zM65.7 335.7h1v1h-1zM93.5 299.8h1v1h-1zM90.4 310.7h1v1h-1zM91.1 305.6h1v1h-1zM68.0 332.0h1v1h-1zM94.0 318.0h1v1h-1zM90.1 324.4h1v1h-1zM93.7 328.6h1v1h-1zM88.3 335.0h1v1h-1zM65.4 319.2h1v1h-1zM83.0 300.1h1v1h-1zM91.3 311.0h1v1h-1zM88.6 300.0h1v1h-1zM65.1 315.5h1v1h-1zM67.9 313.3h1v1h-1zM68.2 330.6h1v1h-1zM87.7 324.6h1v1h-1zM68.7 331.5h1v1h-1zM89.3 317.3h1v1h-1zM92.6 320.1h1v1h-1zM87.7 307.7h1v1h-1zM97.4 299.9h1v1h-1zM93.3 327.7h1v1h-1zM87.4 332.7h1v1h-1zM96.8 299.3h1v1h-1zM92.2 314.1h1v1h-1zM81.3 297.3h1v1h-1zM95.6 320.7h1v1h-1zM67.4 307.9h1v1h-1zM92.5 307.1h1v1h-1zM96.9 327.2h1v1h-1zM95.8 326.6h1v1h-1zM65.7 317.6h1v1h-1zM67.3 311.2h1v1h-1zM93.0 303.1h1v1h-1zM93.5 333.4h1v1h-1zM67.7 315.3h1v1h-1zM69.2 300.9h1v1h-1zM67.9 304.3h1v1h-1zM91.7 313.8h1v1h-1zM65.1 303.7h1v1h-1zM78.8 337.6h1v1h-1zM67.3 320.9h1v1h-1zM89.0 316.5h1v1h-1zM67.4 328.2h1v1h-1zM93.2 330.7h1v1h-1zM88.3 316.5h1v1h-1zM96.6 297.3h1v1h-1zM88.2 313.1h1v1h-1zM93.8 321.1h1v1h-1zM96.4 316.1h1v1h-1zM93.5 336.8h1v1h-1zM96.0 327.2h1v1h-1zM84.9 334.0h1v1h-1zM68.8 336.0h1v1h-1zM53.1 348.2h1v1h-1zM94.7 323.9h1v1h-1zM96.7 298.2h1v1h-1zM93.5 324.6h1v1h-1zM66.2 314.3h1v1h-1zM68.4 321.1h1v1h-1zM65.5 309.4h1v1h-1zM65.9 335.0h1v1h-1zM69.1 333.5h1v1h-1zM66.1 326.1h1v1h-1zM96.9 313.8h1v1h-1zM66.3 305.3h1v1h-1zM54.7 347.3h1v1h-1zM88.8 304.4h1v1h-1zM76.3 297.9h1v1h-1zM73.7 297.8h1v1h-1zM87.9 315.6h1v1h-1zM87.8 329.3h1v1h-1zM88.6 302.5h1v1h-1zM67.4 302.5h1v1h-1zM97.3 320.1h1v1h-1zM89.3 328.8h1v1h-1zM89.6 327.5h1v1h-1zM96.5 332.1h1v1h-1zM95.4 316.0h1v1h-1zM55.3 346.8h1v1h-1zM68.1 315.3h1v1h-1zM90.8 302.1h1v1h-1zM96.5 305.6h1v1h-1zM65.5 307.2h1v1h-1zM82.8 334.1h1v1h-1zM83.5 301.3h1v1h-1zM65.5 309.4h1v1h-1zM89.8 315.4h1v1h-1zM97.6 302.5h1v1h-1zM93.1 306.9h1v1h-1zM54.6 346.8h1v1h-1zM94.5 335.4h1v1h-1zM95.3 314.7h1v1h-1zM93.1 309.8h1v1h-1zM90.0 320.9h1v1h-1zM89.4 312.6h1v1h-1zM95.5 336.0h1v1h-1zM88.6 320.7h1v1h-1zM87.5 334.2h1v1h-1zM68.4 331.6h1v1h-1zM67.2 306.8h1v1h-1zM86.5 298.2h1v1h-1zM88.5 323.2h1v1h-1zM93.4 306.2h1v1h-1zM68.1 330.8h1v1h-1zM87.3 310.3h1v1h-1zM94.0 304.9h1v1h-1zM96.0 306.8h1v1h-1zM67.8 325.0h1v1h-1zM90.9 316.1h1v1h-1zM68.1 332.6h1v1h-1zM68.4 300.0h1v1h-1zM96.3 334.0h1v1h-1zM93.5 322.7h1v1h-1zM68.1 328.9h1v1h-1zM65.2 327.5h1v1h-1zM96.0 300.7h1v1h-1zM92.3 328.5h1v1h-1zM65.9 330.1h1v1h-1zM96.9 329.7h1v1h-1zM86.6 334.5h1v1h-1zM54.1 347.3h1v1h-1zM87.5 326.0h1v1h-1zM87.9 323.3h1v1h-1zM90.5 335.2h1v1h-1zM96.5 298.1h1v1h-1zM93.8 297.0h1v1h-1zM95.1 331.6h1v1h-1zM87.3 327.5h1v1h-1zM65.9 335.3h1v1h-1zM90.9 302.6h1v1h-1zM95.1 313.8h1v1h-1zM88.2 327.1h1v1h-1zM87.7 301.2h1v1h-1zM65.5 321.9h1v1h-1zM88.9 304.2h1v1h-1zM72.2 297.8h1v1h-1zM85.4 335.3h1v1h-1zM66.1 312.7h1v1h-1zM68.4 307.1h1v1h-1zM91.1 315.7h1v1h-1zM88.6 326.1h1v1h-1zM88.2 306.1h1v1h-1zM95.6 301.4h1v1h-1zM93.7 308.9h1v1h-1zM94.5 306.0h1v1h-1zM86.7 301.6h1v1h-1zM97.3 299.6h1v1h-1zM88.5 302.8h1v1h-1zM72.8 297.9h1v1h-1zM82.6 297.0h1v1h-1zM72.8 298.9h1v1h-1zM68.0 313.3h1v1h-1zM82.8 299.3h1v1h-1zM94.0 314.5h1v1h-1zM72.4 298.1h1v1h-1zM90.4 322.0h1v1h-1zM87.3 327.7h1v1h-1zM93.0 299.7h1v1h-1zM67.3 320.2h1v1h-1zM96.9 324.2h1v1h-1zM93.8 304.3h1v1h-1zM95.9 299.0h1v1h-1zM94.0 302.1h1v1h-1zM90.7 327.3h1v1h-1zM93.4 323.6h1v1h-1zM88.1 305.9h1v1h-1zM93.6 319.5h1v1h-1zM68.7 304.9h1v1h-1zM92.1 298.3h1v1h-1zM97.1 317.6h1v1h-1zM65.5 318.4h1v1h-1zM68.1 314.6h1v1h-1zM68.4 327.4h1v1h-1zM87.7 312.3h1v1h-1zM93.6 336.8h1v1h-1zM70.3 297.2h1v1h-1zM87.4 305.8h1v1h-1zM67.8 310.6h1v1h-1zM68.0 333.5h1v1h-1zM92.0 310.5h1v1h-1zM89.2 303.5h1v1h-1zM90.0 306.4h1v1h-1zM65.2 297.8h1v1h-1zM66.6 328.7h1v1h-1zM68.8 326.3h1v1h-1zM95.3 305.4h1v1h-1zM96.6 316.3h1v1h-1zM91.5 317.3h1v1h-1zM96.3 336.8h1v1h-1zM87.6 311.4h1v1h-1zM94.1 304.1h1v1h-1zM69.0 298.9h1v1h-1zM91.1 319.0h1v1h-1zM68.6 304.2h1v1h-1zM96.7 309.8h1v1h-1zM87.7 326.6h1v1h-1zM89.4 303.3h1v1h-1zM84.1 301.4h1v1h-1zM88.9 319.2h1v1h-1zM91.1 314.4h1v1h-1zM88.0 334.8h1v1h-1zM65.2 303.8h1v1h-1zM92.6 304.8h1v1h-1zM66.1 333.5h1v1h-1zM68.5 316.2h1v1h-1zM65.3 317.2h1v1h-1zM68.9 303.3h1v1h-1zM92.5 324.6h1v1h-1zM97.6 303.2h1v1h-1zM88.7 301.3h1v1h-1zM93.1 332.3h1v1h-1zM66.7 300.7h1v1h-1zM90.3 313.2h1v1h-1zM93.6 333.0h1v1h-1zM88.4 315.6h1v1h-1zM88.7 312.8h1v1h-1zM91.1 318.0h1v1h-1zM94.1 328.4h1v1h-1zM65.3 299.1h1v1h-1zM68.3 308.1h1v1h-1zM79.1 337.2h1v1h-1zM89.9 308.2h1v1h-1zM68.5 313.5h1v1h-1zM66.9 328.3h1v1h-1zM96.8 307.9h1v1h-1zM93.7 318.5h1v1h-1zM66.3 333.5h1v1h-1zM93.1 305.2h1v1h-1zM66.9 329.8h1v1h-1zM92.6 327.3h1v1h-1zM90.2 327.5h1v1h-1zM94.8 303.8h1v1h-1zM71.5 298.6h1v1h-1zM66.1 331.2h1v1h-1zM95.4 311.2h1v1h-1zM72.8 337.1h1v1h-1zM95.9 317.0h1v1h-1zM93.8 331.7h1v1h-1zM89.9 306.4h1v1h-1zM93.0 325.6h1v1h-1zM92.0 300.0h1v1h-1zM88.8 324.7h1v1h-1zM67.8 333.1h1v1h-1zM96.5 332.9h1v1h-1zM53.4 348.3h1v1h-1zM92.0 329.5h1v1h-1zM65.9 309.8h1v1h-1zM93.3 305.8h1v1h-1zM94.2 320.4h1v1h-1zM89.9 316.5h1v1h-1zM87.5 322.9h1v1h-1zM68.3 306.5h1v1h-1zM66.6 301.6h1v1h-1z" fill="#9894ac" fill-opacity="0.6"/>
<path d="M87.1 314.7h1v1h-1zM70.0 328.0h1v1h-1zM69.6 304.5h1v1h-1zM70.2 333.9h1v1h-1zM77.1 299.0h1v1h-1zM85.6 303.7h1v1h-1zM82.5 306.7h1v1h-1zM73.3 301.8h1v1h-1zM82.9 323.0h1v1h-1zM85.3 317.7h1v1h-1zM70.2 305.0h1v1h-1zM86.7 307.3h1v1h-1zM91.7 336.1h1v1h-1zM69.1 316.0h1v1h-1zM69.1 308.8h1v1h-1zM86.6 322.5h1v1h-1zM69.3 316.5h1v1h-1zM86.1 329.9h1v1h-1zM70.3 308.0h1v1h-1zM86.4 329.3h1v1h-1zM78.2 329.2h1v1h-1zM82.6 313.7h1v1h-1zM77.7 307.3h1v1h-1zM69.3 317.5h1v1h-1zM69.6 318.6h1v1h-1zM78.4 333.1h1v1h-1zM77.9 307.6h1v1h-1zM84.6 337.0h1v1h-1zM69.0 316.0h1v1h-1zM73.6 335.5h1v1h-1zM79.4 336.7h1v1h-1zM86.1 316.9h1v1h-1zM84.2 303.7h1v1h-1zM82.3 333.0h1v1h-1zM82.1 331.9h1v1h-1zM71.6 336.3h1v1h-1zM86.4 329.6h1v1h-1zM82.0 333.9h1v1h-1zM81.1 335.8h1v1h-1zM69.5 334.3h1v1h-1zM71.8 336.6h1v1h-1zM82.3 311.0h1v1h-1zM70.2 303.6h1v1h-1zM86.2 325.1h1v1h-1zM84.7 306.5h1v1h-1zM73.6 298.4h1v1h-1zM86.1 323.0h1v1h-1zM73.1 334.2h1v1h-1zM85.4 332.1h1v1h-1zM68.8 336.0h1v1h-1zM78.0 299.7h1v1h-1zM82.9 309.9h1v1h-1zM82.9 306.0h1v1h-1zM78.5 331.8h1v1h-1zM82.4 330.9h1v1h-1zM86.1 318.8h1v1h-1zM86.4 308.4h1v1h-1zM70.0 306.0h1v1h-1zM73.9 335.2h1v1h-1zM87.3 336.8h1v1h-1zM78.4 329.1h1v1h-1zM86.7 316.9h1v1h-1zM86.7 314.8h1v1h-1zM85.6 313.4h1v1h-1zM70.0 315.5h1v1h-1zM69.8 304.3h1v1h-1zM86.5 325.0h1v1h-1zM82.5 335.6h1v1h-1zM82.3 322.1h1v1h-1zM84.1 306.4h1v1h-1zM83.2 321.1h1v1h-1zM69.0 315.2h1v1h-1zM69.2 326.5h1v1h-1zM73.2 335.3h1v1h-1zM84.5 304.3h1v1h-1zM83.2 313.7h1v1h-1zM85.6 326.9h1v1h-1zM78.0 301.6h1v1h-1zM87.4 316.0h1v1h-1zM68.9 316.7h1v1h-1zM85.3 302.1h1v1h-1zM85.5 312.3h1v1h-1zM78.1 331.9h1v1h-1zM81.8 305.0h1v1h-1zM86.6 330.7h1v1h-1zM82.5 318.1h1v1h-1zM85.2 323.3h1v1h-1zM86.6 306.1h1v1h-1zM86.6 317.8h1v1h-1zM69.8 325.5h1v1h-1zM85.5 308.1h1v1h-1zM82.1 329.5h1v1h-1zM86.0 332.5h1v1h-1zM82.3 300.1h1v1h-1zM87.0 309.1h1v1h-1zM77.8 305.5h1v1h-1zM84.1 306.4h1v1h-1zM82.7 324.9h1v1h-1zM83.1 309.5h1v1h-1zM82.8 324.2h1v1h-1zM86.7 324.9h1v1h-1zM86.8 331.3h1v1h-1zM81.3 335.5h1v1h-1zM84.6 329.1h1v1h-1zM78.7 303.1h1v1h-1zM83.5 325.5h1v1h-1zM83.2 310.8h1v1h-1zM83.8 331.4h1v1h-1zM81.7 305.6h1v1h-1zM84.3 327.6h1v1h-1zM77.4 304.0h1v1h-1zM85.7 320.1h1v1h-1zM84.7 327.4h1v1h-1zM86.6 307.1h1v1h-1zM69.1 326.5h1v1h-1zM82.1 331.9h1v1h-1zM77.9 327.7h1v1h-1zM82.7 323.7h1v1h-1zM82.2 336.9h1v1h-1zM78.5 331.2h1v1h-1zM82.7 319.5h1v1h-1zM83.0 325.5h1v1h-1zM82.6 300.3h1v1h-1zM83.3 322.6h1v1h-1zM73.0 302.1h1v1h-1zM85.1 303.9h1v1h-1zM86.2 323.9h1v1h-1zM73.7 334.5h1v1h-1zM81.7 335.1h1v1h-1zM88.4 336.6h1v1h-1zM84.1 326.9h1v1h-1zM69.7 326.5h1v1h-1zM86.7 317.8h1v1h-1zM84.2 330.3h1v1h-1zM70.1 333.4h1v1h-1zM78.8 301.6h1v1h-1zM87.2 323.9h1v1h-1zM84.0 309.7h1v1h-1zM70.5 330.9h1v1h-1zM82.6 321.8h1v1h-1zM82.4 335.9h1v1h-1zM85.1 303.1h1v1h-1zM84.9 306.6h1v1h-1zM83.7 309.1h1v1h-1zM69.1 328.2h1v1h-1zM86.7 303.3h1v1h-1zM81.7 302.1h1v1h-1zM83.9 326.4h1v1h-1zM86.7 315.8h1v1h-1zM74.0 298.7h1v1h-1zM86.7 302.7h1v1h-1zM76.2 337.3h1v1h-1zM68.9 324.2h1v1h-1zM82.2 313.0h1v1h-1zM77.8 330.0h1v1h-1zM73.9 298.1h1v1h-1zM85.2 304.7h1v1h-1zM82.6 320.3h1v1h-1zM77.4 305.1h1v1h-1zM73.3 335.8h1v1h-1zM85.0 310.7h1v1h-1zM77.1 338.0h1v1h-1zM77.7 332.6h1v1h-1zM85.2 327.1h1v1h-1zM83.3 325.5h1v1h-1zM82.3 302.8h1v1h-1zM82.2 311.7h1v1h-1zM85.5 331.6h1v1h-1zM86.4 306.0h1v1h-1zM84.5 304.0h1v1h-1zM85.8 318.8h1v1h-1zM85.7 307.5h1v1h-1zM69.2 327.9h1v1h-1zM86.7 316.9h1v1h-1zM86.1 325.2h1v1h-1zM68.9 323.7h1v1h-1zM82.4 305.7h1v1h-1zM84.0 303.0h1v1h-1zM68.1 336.3h1v1h-1zM85.9 316.2h1v1h-1zM78.3 332.6h1v1h-1zM85.5 309.4h1v1h-1zM77.6 299.8h1v1h-1zM86.2 330.1h1v1h-1zM82.8 323.2h1v1h-1zM85.2 313.5h1v1h-1zM85.5 312.4h1v1h-1zM83.6 330.0h1v1h-1zM83.2 304.5h1v1h-1zM74.2 337.8h1v1h-1zM84.7 303.9h1v1h-1zM86.2 336.8h1v1h-1zM86.4 307.7h1v1h-1zM85.3 304.4h1v1h-1zM86.8 327.1h1v1h-1zM83.4 329.5h1v1h-1zM86.0 306.7h1v1h-1zM70.3 311.2h1v1h-1zM82.1 336.3h1v1h-1zM69.4 330.1h1v1h-1zM82.5 334.3h1v1h-1zM81.5 332.4h1v1h-1zM92.3 336.1h1v1h-1zM83.4 329.2h1v1h-1zM81.5 304.9h1v1h-1zM82.3 314.0h1v1h-1zM78.1 331.1h1v1h-1zM86.8 311.0h1v1h-1zM78.1 306.3h1v1h-1zM73.6 335.3h1v1h-1zM70.1 319.9h1v1h-1zM85.7 322.0h1v1h-1zM80.0 336.8h1v1h-1zM82.3 319.5h1v1h-1zM70.2 316.3h1v1h-1zM85.9 303.0h1v1h-1zM81.9 301.4h1v1h-1zM87.2 322.0h1v1h-1zM83.9 336.6h1v1h-1zM72.1 336.8h1v1h-1zM81.9 304.6h1v1h-1zM86.0 306.0h1v1h-1zM69.8 308.9h1v1h-1zM82.3 332.9h1v1h-1zM82.0 328.8h1v1h-1zM69.5 316.2h1v1h-1zM73.9 298.3h1v1h-1zM77.6 303.8h1v1h-1zM69.2 319.0h1v1h-1zM69.3 316.2h1v1h-1zM69.6 321.6h1v1h-1zM81.8 331.8h1v1h-1zM71.4 336.7h1v1h-1zM70.0 300.8h1v1h-1zM78.2 332.8h1v1h-1zM86.9 329.1h1v1h-1zM83.1 333.7h1v1h-1zM82.8 327.9h1v1h-1zM79.9 337.0h1v1h-1zM83.0 310.1h1v1h-1zM83.5 312.1h1v1h-1zM70.0 321.2h1v1h-1zM81.8 305.8h1v1h-1zM82.8 316.3h1v1h-1zM85.1 303.8h1v1h-1zM69.6 318.9h1v1h-1zM84.7 328.0h1v1h-1zM81.6 329.9h1v1h-1zM68.8 311.3h1v1h-1zM68.7 321.2h1v1h-1zM70.5 300.4h1v1h-1zM69.8 317.3h1v1h-1zM78.5 300.2h1v1h-1zM82.7 326.6h1v1h-1zM84.4 308.4h1v1h-1z" fill="#74708c" fill-opacity="0.7"/>
<path d="M74.3 328.2h1v1h-1zM71.4 321.8h1v1h-1zM75.1 322.3h1v1h-1zM74.6 323.2h1v1h-1zM73.0 330.5h1v1h-1zM74.5 303.4h1v1h-1zM84.4 317.6h1v1h-1zM76.2 298.3h1v1h-1zM80.8 318.4h1v1h-1zM79.9 312.4h1v1h-1zM72.8 323.8h1v1h-1zM79.5 320.7h1v1h-1zM80.7 309.8h1v1h-1zM77.0 316.3h1v1h-1zM81.9 319.7h1v1h-1zM80.6 330.2h1v1h-1zM78.2 321.6h1v1h-1zM71.9 307.6h1v1h-1zM84.5 310.5h1v1h-1zM72.0 332.4h1v1h-1zM79.4 306.6h1v1h-1zM80.9 330.1h1v1h-1zM81.2 319.9h1v1h-1zM79.8 314.6h1v1h-1zM79.8 315.4h1v1h-1zM74.8 321.3h1v1h-1zM80.3 335.5h1v1h-1zM74.2 320.1h1v1h-1zM80.5 304.0h1v1h-1zM71.3 307.9h1v1h-1zM83.7 322.2h1v1h-1zM74.0 333.4h1v1h-1zM75.8 329.5h1v1h-1zM76.3 322.2h1v1h-1zM73.3 324.7h1v1h-1zM76.0 316.3h1v1h-1zM79.1 310.5h1v1h-1zM74.7 308.1h1v1h-1zM84.3 319.6h1v1h-1zM76.7 328.4h1v1h-1zM75.7 334.4h1v1h-1zM72.3 323.2h1v1h-1zM76.8 321.9h1v1h-1zM75.9 298.6h1v1h-1zM77.6 319.9h1v1h-1zM80.6 318.3h1v1h-1zM78.8 315.9h1v1h-1zM79.9 329.2h1v1h-1zM70.5 309.1h1v1h-1zM80.9 327.3h1v1h-1zM72.7 300.9h1v1h-1zM80.6 329.1h1v1h-1zM83.8 315.9h1v1h-1zM72.3 316.7h1v1h-1zM77.9 312.6h1v1h-1zM77.0 333.0h1v1h-1zM76.8 310.2h1v1h-1zM70.9 316.7h1v1h-1zM77.4 326.2h1v1h-1zM73.2 308.4h1v1h-1zM81.0 323.6h1v1h-1zM81.7 314.1h1v1h-1zM73.7 321.9h1v1h-1zM80.3 326.1h1v1h-1zM73.7 330.5h1v1h-1zM76.6 333.0h1v1h-1zM75.3 324.0h1v1h-1zM73.2 311.8h1v1h-1zM71.7 334.6h1v1h-1zM84.4 314.0h1v1h-1zM80.2 315.4h1v1h-1zM70.5 328.2h1v1h-1zM75.2 317.6h1v1h-1zM76.0 321.7h1v1h-1zM76.4 328.5h1v1h-1zM75.6 314.5h1v1h-1zM78.3 313.0h1v1h-1zM75.6 298.6h1v1h-1zM80.8 321.0h1v1h-1zM76.0 328.3h1v1h-1zM76.1 327.6h1v1h-1zM75.2 304.7h1v1h-1zM75.6 335.2h1v1h-1zM80.2 310.0h1v1h-1zM80.8 316.6h1v1h-1zM76.2 304.7h1v1h-1zM80.9 334.5h1v1h-1zM75.2 313.1h1v1h-1zM84.0 316.6h1v1h-1zM84.8 313.9h1v1h-1zM80.5 321.2h1v1h-1zM79.8 324.9h1v1h-1zM78.6 319.2h1v1h-1zM79.5 334.6h1v1h-1zM73.5 311.9h1v1h-1zM76.3 326.5h1v1h-1zM81.7 321.4h1v1h-1zM80.5 309.3h1v1h-1zM73.1 311.6h1v1h-1zM83.8 323.7h1v1h-1zM80.9 309.0h1v1h-1zM80.3 306.9h1v1h-1zM74.5 318.8h1v1h-1zM75.2 299.0h1v1h-1zM74.1 307.1h1v1h-1zM74.8 312.8h1v1h-1zM84.2 323.4h1v1h-1zM74.9 304.1h1v1h-1zM73.4 322.3h1v1h-1zM72.2 320.5h1v1h-1zM73.9 324.6h1v1h-1zM75.3 327.4h1v1h-1zM80.9 331.3h1v1h-1zM75.3 329.2h1v1h-1zM79.2 305.4h1v1h-1zM75.5 319.4h1v1h-1zM79.1 335.4h1v1h-1zM74.3 319.3h1v1h-1zM83.7 317.0h1v1h-1zM73.5 320.2h1v1h-1zM75.4 334.4h1v1h-1zM75.2 305.5h1v1h-1zM78.4 327.8h1v1h-1zM72.9 316.2h1v1h-1zM74.1 329.8h1v1h-1zM79.4 310.4h1v1h-1zM75.5 306.9h1v1h-1zM73.8 312.6h1v1h-1zM77.1 330.6h1v1h-1zM71.2 328.0h1v1h-1zM74.3 304.2h1v1h-1zM75.3 335.9h1v1h-1zM71.2 310.5h1v1h-1zM84.7 321.5h1v1h-1zM71.3 314.9h1v1h-1zM79.0 319.7h1v1h-1zM71.3 305.6h1v1h-1zM74.4 306.9h1v1h-1zM71.4 316.6h1v1h-1zM76.6 332.1h1v1h-1zM71.8 333.3h1v1h-1zM73.6 329.8h1v1h-1zM75.3 315.8h1v1h-1zM80.4 324.9h1v1h-1zM76.7 310.8h1v1h-1zM70.7 302.7h1v1h-1zM70.7 331.0h1v1h-1zM74.1 332.2h1v1h-1zM77.1 315.2h1v1h-1zM73.9 312.9h1v1h-1zM72.1 311.4h1v1h-1zM70.3 317.8h1v1h-1zM71.8 303.6h1v1h-1zM80.6 311.2h1v1h-1zM75.9 299.8h1v1h-1zM76.2 334.8h1v1h-1zM76.1 303.3h1v1h-1zM71.0 321.9h1v1h-1zM74.8 304.9h1v1h-1zM75.5 305.4h1v1h-1zM80.8 314.8h1v1h-1zM80.6 312.1h1v1h-1zM73.3 320.9h1v1h-1zM73.9 307.6h1v1h-1zM76.1 311.0h1v1h-1zM74.4 307.1h1v1h-1zM75.2 332.3h1v1h-1zM73.3 313.8h1v1h-1zM71.9 332.0h1v1h-1zM84.7 325.0h1v1h-1zM75.8 328.1h1v1h-1zM81.5 318.4h1v1h-1zM72.5 319.8h1v1h-1zM80.7 309.5h1v1h-1zM80.1 303.5h1v1h-1zM70.8 320.8h1v1h-1zM74.7 314.1h1v1h-1zM76.5 308.4h1v1h-1zM74.9 332.3h1v1h-1zM80.6 316.0h1v1h-1zM75.6 308.8h1v1h-1zM78.5 318.4h1v1h-1zM72.4 328.4h1v1h-1zM75.7 298.1h1v1h-1zM74.1 330.3h1v1h-1zM81.0 314.6h1v1h-1zM75.4 303.8h1v1h-1zM75.2 315.5h1v1h-1zM71.3 332.0h1v1h-1zM80.5 303.0h1v1h-1zM78.8 326.7h1v1h-1zM84.3 323.0h1v1h-1zM73.4 311.9h1v1h-1zM81.7 318.4h1v1h-1zM84.1 323.9h1v1h-1zM70.8 312.5h1v1h-1zM85.2 317.7h1v1h-1zM84.8 311.7h1v1h-1zM84.3 319.7h1v1h-1zM72.7 328.2h1v1h-1zM73.9 328.0h1v1h-1zM75.6 329.4h1v1h-1zM73.0 330.7h1v1h-1zM79.6 335.2h1v1h-1zM71.8 302.0h1v1h-1zM75.2 299.2h1v1h-1zM77.8 315.5h1v1h-1zM71.8 333.3h1v1h-1zM85.2 319.5h1v1h-1zM80.4 324.4h1v1h-1zM76.2 303.8h1v1h-1zM70.5 319.6h1v1h-1zM72.0 334.8h1v1h-1zM71.4 321.7h1v1h-1zM71.3 301.5h1v1h-1zM84.2 321.4h1v1h-1zM84.7 316.2h1v1h-1zM75.7 330.3h1v1h-1zM73.8 332.2h1v1h-1zM75.4 330.6h1v1h-1zM71.5 311.7h1v1h-1zM77.4 324.0h1v1h-1zM80.8 327.5h1v1h-1zM77.4 307.3h1v1h-1zM79.7 325.7h1v1h-1zM77.5 316.1h1v1h-1zM70.7 331.5h1v1h-1zM81.1 318.8h1v1h-1zM79.6 301.3h1v1h-1zM72.7 309.8h1v1h-1zM81.8 316.9h1v1h-1zM78.2 326.9h1v1h-1zM74.0 324.3h1v1h-1zM74.6 319.6h1v1h-1zM84.4 310.1h1v1h-1zM81.1 319.7h1v1h-1zM76.1 328.0h1v1h-1zM75.9 301.7h1v1h-1zM72.3 312.1h1v1h-1zM79.8 328.5h1v1h-1zM80.6 310.3h1v1h-1zM71.6 302.4h1v1h-1zM72.6 326.8h1v1h-1zM74.9 327.6h1v1h-1zM76.2 334.0h1v1h-1zM75.3 335.8h1v1h-1zM74.6 318.7h1v1h-1zM71.3 313.5h1v1h-1zM71.2 300.7h1v1h-1zM79.3 317.0h1v1h-1zM75.3 305.0h1v1h-1zM72.5 303.0h1v1h-1zM75.1 329.6h1v1h-1zM71.2 335.3h1v1h-1zM74.5 336.8h1v1h-1zM74.0 308.2h1v1h-1zM74.0 317.3h1v1h-1zM78.9 322.3h1v1h-1zM73.0 325.7h1v1h-1zM76.0 319.6h1v1h-1zM79.6 313.6h1v1h-1zM80.1 320.5h1v1h-1zM84.6 314.2h1v1h-1zM73.9 326.8h1v1h-1zM80.9 322.5h1v1h-1zM77.5 321.8h1v1h-1zM77.6 313.3h1v1h-1zM79.2 325.2h1v1h-1zM77.3 318.4h1v1h-1zM76.3 317.5h1v1h-1zM76.0 302.0h1v1h-1zM81.3 327.4h1v1h-1zM79.9 303.7h1v1h-1zM74.6 334.8h1v1h-1zM79.7 309.1h1v1h-1zM75.8 312.8h1v1h-1zM75.2 312.2h1v1h-1zM79.9 306.4h1v1h-1zM72.8 301.3h1v1h-1zM80.0 332.0h1v1h-1zM74.6 305.2h1v1h-1zM76.2 335.5h1v1h-1zM78.9 316.3h1v1h-1zM73.1 330.8h1v1h-1zM76.0 327.7h1v1h-1zM76.6 317.3h1v1h-1zM78.5 308.6h1v1h-1zM79.4 323.7h1v1h-1zM78.5 322.9h1v1h-1zM75.5 321.5h1v1h-1zM79.8 330.4h1v1h-1zM76.6 328.6h1v1h-1zM72.1 309.3h1v1h-1zM74.1 330.1h1v1h-1zM72.7 317.8h1v1h-1zM70.8 321.4h1v1h-1zM78.1 312.8h1v1h-1zM72.2 310.7h1v1h-1zM80.4 310.4h1v1h-1zM81.5 317.5h1v1h-1zM79.6 307.9h1v1h-1zM79.4 317.5h1v1h-1zM75.5 308.1h1v1h-1zM84.3 320.3h1v1h-1zM76.3 323.8h1v1h-1zM80.1 333.4h1v1h-1zM80.3 304.7h1v1h-1zM79.6 315.4h1v1h-1zM70.7 326.8h1v1h-1zM80.2 320.9h1v1h-1zM83.7 312.2h1v1h-1zM72.3 326.0h1v1h-1zM79.4 331.1h1v1h-1zM78.0 312.4h1v1h-1zM74.1 331.5h1v1h-1zM73.6 325.4h1v1h-1zM75.2 333.3h1v1h-1zM73.1 307.6h1v1h-1zM74.4 307.8h1v1h-1zM80.2 325.1h1v1h-1zM72.7 312.5h1v1h-1zM77.0 321.6h1v1h-1zM75.5 335.5h1v1h-1zM73.9 313.2h1v1h-1zM76.6 309.1h1v1h-1zM78.3 308.9h1v1h-1zM76.0 321.4h1v1h-1zM80.1 335.9h1v1h-1zM81.7 315.1h1v1h-1zM75.4 319.1h1v1h-1zM80.3 302.7h1v1h-1zM78.4 317.4h1v1h-1zM70.9 302.2h1v1h-1zM71.0 335.2h1v1h-1zM75.9 335.8h1v1h-1zM73.1 331.5h1v1h-1zM72.9 325.4h1v1h-1zM82.0 317.7h1v1h-1zM76.6 331.9h1v1h-1zM74.7 305.8h1v1h-1zM79.1 304.4h1v1h-1zM72.6 301.4h1v1h-1zM72.2 311.0h1v1h-1zM74.0 330.8h1v1h-1zM76.0 335.2h1v1h-1zM81.1 317.5h1v1h-1zM80.9 317.4h1v1h-1zM77.1 333.1h1v1h-1zM70.7 301.2h1v1h-1zM76.0 311.9h1v1h-1zM73.8 307.0h1v1h-1zM81.0 304.0h1v1h-1zM79.0 333.5h1v1h-1zM74.9 321.5h1v1h-1zM77.6 316.7h1v1h-1zM76.1 312.9h1v1h-1zM83.6 315.3h1v1h-1zM76.2 311.3h1v1h-1zM80.7 322.8h1v1h-1zM76.6 320.9h1v1h-1zM78.4 315.3h1v1h-1zM74.7 317.0h1v1h-1zM78.8 321.3h1v1h-1zM76.5 327.8h1v1h-1zM73.8 303.5h1v1h-1zM84.7 319.0h1v1h-1zM80.9 311.1h1v1h-1zM78.3 324.4h1v1h-1zM70.8 304.1h1v1h-1zM74.8 322.8h1v1h-1zM77.5 327.3h1v1h-1zM80.1 331.3h1v1h-1zM75.4 303.7h1v1h-1zM81.5 326.8h1v1h-1zM79.4 306.1h1v1h-1zM74.0 314.7h1v1h-1zM75.1 324.3h1v1h-1zM75.3 320.9h1v1h-1zM78.6 324.7h1v1h-1zM78.5 329.2h1v1h-1zM76.8 335.1h1v1h-1zM72.0 323.5h1v1h-1zM73.4 308.3h1v1h-1zM71.7 331.3h1v1h-1zM71.1 313.0h1v1h-1zM72.9 310.3h1v1h-1zM78.5 314.7h1v1h-1zM76.4 330.5h1v1h-1zM74.5 322.8h1v1h-1zM80.4 321.7h1v1h-1zM77.2 323.0h1v1h-1zM80.9 300.0h1v1h-1zM85.1 316.7h1v1h-1zM76.1 300.0h1v1h-1zM81.0 332.5h1v1h-1zM78.5 325.8h1v1h-1zM70.6 317.6h1v1h-1zM84.3 318.1h1v1h-1zM78.2 322.0h1v1h-1zM75.8 323.0h1v1h-1zM76.3 333.7h1v1h-1zM80.5 325.6h1v1h-1zM72.1 313.5h1v1h-1zM70.6 310.2h1v1h-1zM71.3 300.2h1v1h-1zM75.4 313.6h1v1h-1zM79.7 330.6h1v1h-1zM70.3 314.1h1v1h-1zM75.7 317.9h1v1h-1zM81.1 308.5h1v1h-1zM72.0 316.7h1v1h-1zM72.2 312.3h1v1h-1zM75.3 307.3h1v1h-1zM84.6 310.5h1v1h-1zM74.0 328.0h1v1h-1zM84.4 315.2h1v1h-1zM76.8 322.8h1v1h-1zM76.2 301.5h1v1h-1zM75.4 315.6h1v1h-1zM75.8 331.0h1v1h-1zM75.8 326.6h1v1h-1zM75.5 321.7h1v1h-1zM70.4 318.6h1v1h-1zM77.4 316.4h1v1h-1zM80.2 327.3h1v1h-1zM77.1 329.0h1v1h-1zM74.6 299.9h1v1h-1zM74.9 325.2h1v1h-1zM81.0 306.0h1v1h-1zM83.8 320.0h1v1h-1zM72.9 309.2h1v1h-1zM74.0 309.7h1v1h-1zM71.3 318.1h1v1h-1zM78.1 322.1h1v1h-1zM73.9 314.8h1v1h-1zM75.0 329.1h1v1h-1zM75.5 323.0h1v1h-1zM81.5 325.5h1v1h-1zM79.0 324.2h1v1h-1zM73.1 319.8h1v1h-1zM71.3 329.1h1v1h-1zM75.9 336.2h1v1h-1zM78.8 311.5h1v1h-1zM76.9 310.8h1v1h-1zM72.4 320.1h1v1h-1zM80.6 329.5h1v1h-1zM74.7 300.0h1v1h-1zM72.6 310.4h1v1h-1zM78.7 314.1h1v1h-1zM72.6 333.7h1v1h-1zM80.1 301.2h1v1h-1zM77.8 320.9h1v1h-1zM78.5 322.1h1v1h-1zM74.2 300.1h1v1h-1zM72.1 300.8h1v1h-1zM76.6 335.6h1v1h-1zM77.7 317.9h1v1h-1zM80.1 308.0h1v1h-1zM79.1 321.1h1v1h-1zM80.1 324.0h1v1h-1zM70.6 326.9h1v1h-1zM84.1 315.2h1v1h-1zM72.0 312.3h1v1h-1zM74.6 305.1h1v1h-1zM83.8 314.7h1v1h-1zM70.7 319.9h1v1h-1zM73.0 305.2h1v1h-1zM71.4 307.9h1v1h-1zM70.6 317.0h1v1h-1zM75.5 335.3h1v1h-1zM72.9 301.8h1v1h-1zM71.3 333.8h1v1h-1zM79.2 321.0h1v1h-1zM79.3 334.0h1v1h-1zM72.7 301.7h1v1h-1zM74.9 298.4h1v1h-1zM72.8 327.2h1v1h-1zM80.1 304.2h1v1h-1zM78.5 323.1h1v1h-1zM79.1 314.7h1v1h-1zM84.9 312.3h1v1h-1zM76.3 300.3h1v1h-1zM79.5 329.6h1v1h-1zM76.5 319.8h1v1h-1zM71.7 322.0h1v1h-1zM76.6 309.2h1v1h-1zM75.3 322.8h1v1h-1zM70.7 319.8h1v1h-1zM73.8 307.9h1v1h-1zM71.2 307.3h1v1h-1zM72.3 305.1h1v1h-1zM75.2 314.7h1v1h-1zM72.9 307.4h1v1h-1zM73.7 306.3h1v1h-1zM72.5 327.8h1v1h-1zM78.6 308.0h1v1h-1zM72.8 313.2h1v1h-1zM77.9 318.1h1v1h-1zM79.7 306.4h1v1h-1zM81.7 321.3h1v1h-1zM76.0 318.6h1v1h-1zM71.1 325.5h1v1h-1zM73.6 305.9h1v1h-1zM77.1 315.8h1v1h-1zM72.5 321.2h1v1h-1zM79.8 309.6h1v1h-1zM81.3 327.1h1v1h-1zM76.4 324.3h1v1h-1zM71.8 308.6h1v1h-1zM73.8 321.0h1v1h-1zM79.4 307.0h1v1h-1zM78.8 312.8h1v1h-1zM75.4 318.6h1v1h-1zM70.9 317.1h1v1h-1zM75.9 321.1h1v1h-1zM79.9 303.6h1v1h-1zM77.3 310.7h1v1h-1zM79.7 320.6h1v1h-1zM75.5 310.4h1v1h-1zM71.1 300.9h1v1h-1zM82.2 317.2h1v1h-1zM72.5 327.6h1v1h-1zM79.6 305.9h1v1h-1zM78.2 309.3h1v1h-1zM84.6 322.1h1v1h-1zM78.9 315.0h1v1h-1zM81.2 328.2h1v1h-1zM75.3 334.0h1v1h-1zM75.6 326.1h1v1h-1zM77.5 315.6h1v1h-1zM75.9 335.4h1v1h-1zM84.9 321.8h1v1h-1zM72.9 322.2h1v1h-1zM82.2 319.7h1v1h-1zM77.1 326.1h1v1h-1zM72.1 316.4h1v1h-1zM80.9 309.7h1v1h-1zM75.4 318.0h1v1h-1zM72.3 326.2h1v1h-1zM74.1 309.4h1v1h-1z" fill="#524e68" fill-opacity="0.75"/>
</g>
<path d="M64.2 296.3L98.3 296.6L98.3 339.3L64.2 335.1Z" fill="none" stroke="#555" stroke-width="0.8"/>
<rect x="46.6" y="288.5" width="69.2" height="67.1" fill="none" stroke="#111" stroke-width="1.1"/>
<line x1="46.6" y1="288.5" x2="46.6" y2="356.2" stroke="#111" stroke-width="1.5"/>
<line x1="46" y1="355.8" x2="115.8" y2="355.8" stroke="#111" stroke-width="1.9"/>
<path d="M52.8 355.6v3.4M60.8 355.6v3.4M76.9 355.6v3.4M92.9 355.6v3.4M109 355.6v3.4M65.6 355.6v2.2M68.5 355.6v2.2M70.5 355.6v2.2M72.1 355.6v2.2M73.3 355.6v2.2M74.4 355.6v2.2M75.3 355.6v2.2M76.2 355.6v2.2M81.7 355.6v2.2M84.5 355.6v2.2M86.5 355.6v2.2M88.1 355.6v2.2M89.4 355.6v2.2M90.4 355.6v2.2M91.3 355.6v2.2M92.2 355.6v2.2M97.7 355.6v2.2M100.6 355.6v2.2M102.6 355.6v2.2M104.2 355.6v2.2M105.4 355.6v2.2M106.5 355.6v2.2M107.4 355.6v2.2M108.3 355.6v2.2M54.8 355.6v2.2M56.8 355.6v2.2M58.8 355.6v2.2" stroke="#111" stroke-width="1.0" fill="none"/>
<path d="M46.6 348.9h-3.4M46.6 341.3h-3.4M46.6 325.4h-3.4M46.6 310.8h-3.4M46.6 296h-3.4M46.6 336.5h-2.2M46.6 333.7h-2.2M46.6 331.7h-2.2M46.6 330.2h-2.2M46.6 328.9h-2.2M46.6 327.9h-2.2M46.6 326.9h-2.2M46.6 326.1h-2.2M46.6 321h-2.2M46.6 318.4h-2.2M46.6 316.6h-2.2M46.6 315.2h-2.2M46.6 314h-2.2M46.6 313.1h-2.2M46.6 312.2h-2.2M46.6 311.5h-2.2M46.6 306.3h-2.2M46.6 303.7h-2.2M46.6 301.9h-2.2M46.6 300.5h-2.2M46.6 299.3h-2.2M46.6 298.3h-2.2M46.6 297.4h-2.2M46.6 296.7h-2.2M46.6 347h-2.2M46.6 345.1h-2.2M46.6 343.2h-2.2" stroke="#111" stroke-width="1.0" fill="none"/>
<text x="52.8" y="364.8" font-size="5.2" fill="#222" text-anchor="middle" stroke="#222" stroke-width="0.14">0</text>
<text x="61.6" y="364.8" font-size="5.2" fill="#222" text-anchor="middle" stroke="#222" stroke-width="0.14">10<tspan dy="-2" font-size="2.9">2</tspan></text>
<text x="77.7" y="364.8" font-size="5.2" fill="#222" text-anchor="middle" stroke="#222" stroke-width="0.14">10<tspan dy="-2" font-size="2.9">3</tspan></text>
<text x="93.7" y="364.8" font-size="5.2" fill="#222" text-anchor="middle" stroke="#222" stroke-width="0.14">10<tspan dy="-2" font-size="2.9">4</tspan></text>
<text x="109.8" y="364.8" font-size="5.2" fill="#222" text-anchor="middle" stroke="#222" stroke-width="0.14">10<tspan dy="-2" font-size="2.9">5</tspan></text>
<text x="40" y="350.7" font-size="5.2" fill="#222" text-anchor="end" stroke="#222" stroke-width="0.14">0</text>
<text x="40" y="343.1" font-size="5.2" fill="#222" text-anchor="end" stroke="#222" stroke-width="0.14">10<tspan dy="-2" font-size="2.9">2</tspan></text>
<text x="40" y="327.2" font-size="5.2" fill="#222" text-anchor="end" stroke="#222" stroke-width="0.14">10<tspan dy="-2" font-size="2.9">3</tspan></text>
<text x="40" y="312.6" font-size="5.2" fill="#222" text-anchor="end" stroke="#222" stroke-width="0.14">10<tspan dy="-2" font-size="2.9">4</tspan></text>
<text x="40" y="297.8" font-size="5.2" fill="#222" text-anchor="end" stroke="#222" stroke-width="0.14">10<tspan dy="-2" font-size="2.9">5</tspan></text>
<text x="112.9" y="295.6" font-size="7.7" fill="#222" text-anchor="end" textLength="21.5" lengthAdjust="spacingAndGlyphs" stroke="#222" stroke-width="0.22">94.3%</text>
<g filter="url(#b4)">
<path d="M153.6 318.4h1v1h-1zM144.0 343.1h1v1h-1zM170.4 308.7h1v1h-1zM145.5 324.5h1v1h-1zM137.0 316.5h1v1h-1zM145.1 333.3h1v1h-1zM178.8 303.7h1v1h-1zM136.8 314.0h1v1h-1zM145.2 314.1h1v1h-1zM135.9 319.3h1v1h-1zM152.0 302.4h1v1h-1zM175.1 327.3h1v1h-1zM177.0 336.7h1v1h-1zM155.5 335.5h1v1h-1zM144.9 329.7h1v1h-1zM145.1 336.3h1v1h-1zM166.0 322.9h1v1h-1zM136.0 328.1h1v1h-1zM182.1 316.2h1v1h-1zM171.1 327.4h1v1h-1zM136.7 340.7h1v1h-1zM164.9 301.3h1v1h-1zM171.6 334.8h1v1h-1zM143.3 347.5h1v1h-1zM169.7 337.3h1v1h-1zM175.0 318.5h1v1h-1zM139.3 301.8h1v1h-1zM167.8 332.8h1v1h-1zM157.9 304.0h1v1h-1zM141.5 349.9h1v1h-1zM137.6 344.7h1v1h-1zM174.6 318.4h1v1h-1zM166.4 304.1h1v1h-1zM170.6 334.5h1v1h-1zM139.8 349.6h1v1h-1zM175.0 315.3h1v1h-1zM137.5 335.6h1v1h-1zM174.2 304.7h1v1h-1zM163.6 332.2h1v1h-1zM135.5 314.1h1v1h-1zM173.4 316.6h1v1h-1zM170.1 314.2h1v1h-1zM152.6 328.0h1v1h-1zM157.6 315.0h1v1h-1zM140.5 301.6h1v1h-1zM182.1 322.1h1v1h-1zM165.6 310.8h1v1h-1zM182.0 314.3h1v1h-1zM165.3 321.0h1v1h-1zM173.0 319.0h1v1h-1zM140.4 304.2h1v1h-1zM173.0 336.4h1v1h-1zM157.6 328.8h1v1h-1zM164.0 332.0h1v1h-1zM174.7 319.3h1v1h-1zM137.0 313.5h1v1h-1zM138.3 297.9h1v1h-1zM158.2 325.7h1v1h-1zM136.3 348.0h1v1h-1zM141.7 305.3h1v1h-1zM157.6 320.4h1v1h-1zM178.6 302.0h1v1h-1zM146.4 313.7h1v1h-1zM146.8 324.7h1v1h-1zM138.3 308.3h1v1h-1zM136.0 316.8h1v1h-1zM168.7 326.1h1v1h-1zM142.1 294.9h1v1h-1zM143.7 303.9h1v1h-1zM147.3 316.2h1v1h-1zM156.0 310.9h1v1h-1zM176.0 308.1h1v1h-1zM139.8 350.1h1v1h-1zM165.7 303.5h1v1h-1zM170.4 326.4h1v1h-1zM146.8 343.2h1v1h-1zM177.1 335.8h1v1h-1zM180.5 331.8h1v1h-1zM162.3 328.7h1v1h-1zM163.4 323.1h1v1h-1zM170.5 326.2h1v1h-1zM138.9 306.9h1v1h-1zM143.5 351.8h1v1h-1zM143.7 345.6h1v1h-1zM167.9 321.5h1v1h-1zM180.7 329.8h1v1h-1zM169.1 310.2h1v1h-1zM181.1 349.0h1v1h-1zM134.5 332.6h1v1h-1zM152.3 335.2h1v1h-1zM144.6 309.8h1v1h-1zM152.8 310.0h1v1h-1zM174.7 305.3h1v1h-1zM165.3 326.9h1v1h-1zM176.8 306.6h1v1h-1zM135.6 351.6h1v1h-1zM164.8 313.8h1v1h-1zM165.5 332.7h1v1h-1zM146.0 334.5h1v1h-1zM172.8 312.5h1v1h-1zM155.8 323.2h1v1h-1zM175.4 333.7h1v1h-1zM144.4 311.4h1v1h-1zM171.0 317.8h1v1h-1zM167.2 332.0h1v1h-1zM179.0 296.2h1v1h-1zM174.1 331.2h1v1h-1zM143.7 302.3h1v1h-1zM140.0 304.3h1v1h-1zM182.4 314.9h1v1h-1zM178.7 290.7h1v1h-1zM158.3 316.8h1v1h-1zM181.5 323.2h1v1h-1zM180.6 311.7h1v1h-1zM168.8 330.0h1v1h-1zM136.8 308.5h1v1h-1zM156.0 325.2h1v1h-1zM145.1 327.9h1v1h-1zM137.0 334.9h1v1h-1zM144.8 316.5h1v1h-1zM169.5 310.8h1v1h-1zM162.5 320.9h1v1h-1zM143.9 354.2h1v1h-1zM161.4 336.3h1v1h-1zM137.1 312.3h1v1h-1zM174.5 332.5h1v1h-1zM136.3 340.7h1v1h-1zM156.1 325.2h1v1h-1zM174.0 321.7h1v1h-1zM178.6 344.5h1v1h-1zM160.1 316.4h1v1h-1zM177.2 336.5h1v1h-1zM174.0 332.3h1v1h-1zM137.0 329.2h1v1h-1zM146.1 297.9h1v1h-1zM168.8 330.9h1v1h-1zM136.4 310.0h1v1h-1zM156.2 315.4h1v1h-1zM152.4 317.4h1v1h-1zM165.7 327.7h1v1h-1zM165.0 317.2h1v1h-1zM170.9 314.5h1v1h-1zM154.6 312.1h1v1h-1zM141.8 304.9h1v1h-1zM142.7 303.3h1v1h-1zM137.2 331.7h1v1h-1zM167.4 335.0h1v1h-1zM165.5 313.9h1v1h-1zM141.7 302.2h1v1h-1zM159.7 301.4h1v1h-1zM161.8 314.7h1v1h-1zM162.1 311.5h1v1h-1zM167.8 316.6h1v1h-1zM143.9 346.2h1v1h-1zM171.1 329.6h1v1h-1zM177.2 335.8h1v1h-1zM179.8 343.5h1v1h-1zM159.5 314.3h1v1h-1zM165.2 316.6h1v1h-1zM176.9 306.6h1v1h-1zM170.6 323.0h1v1h-1zM151.7 322.5h1v1h-1zM182.0 322.6h1v1h-1zM174.7 328.5h1v1h-1zM173.6 335.1h1v1h-1zM145.6 317.9h1v1h-1zM168.6 331.6h1v1h-1zM155.8 324.2h1v1h-1zM144.0 305.0h1v1h-1zM174.9 307.3h1v1h-1zM166.8 311.5h1v1h-1zM154.0 323.4h1v1h-1zM154.4 329.3h1v1h-1zM157.5 323.2h1v1h-1zM162.9 336.4h1v1h-1zM145.0 313.2h1v1h-1zM155.3 321.3h1v1h-1zM156.6 315.0h1v1h-1zM151.3 319.4h1v1h-1zM178.4 337.8h1v1h-1zM138.6 303.4h1v1h-1zM144.9 334.9h1v1h-1zM174.7 331.9h1v1h-1zM137.2 296.2h1v1h-1zM141.4 296.2h1v1h-1zM144.0 305.6h1v1h-1zM163.5 320.3h1v1h-1zM180.8 312.0h1v1h-1zM167.6 321.8h1v1h-1zM181.7 330.2h1v1h-1zM155.7 311.5h1v1h-1zM180.5 309.5h1v1h-1zM158.5 315.9h1v1h-1zM136.6 321.8h1v1h-1zM136.1 314.9h1v1h-1zM154.3 325.6h1v1h-1zM164.5 313.9h1v1h-1zM169.7 312.8h1v1h-1zM136.4 312.5h1v1h-1zM153.4 313.8h1v1h-1zM176.8 292.0h1v1h-1zM153.8 309.4h1v1h-1zM153.5 326.0h1v1h-1zM168.9 327.9h1v1h-1zM176.1 309.0h1v1h-1zM171.8 318.3h1v1h-1zM176.5 334.6h1v1h-1zM174.2 334.2h1v1h-1zM172.9 333.9h1v1h-1zM161.5 324.9h1v1h-1zM173.8 337.2h1v1h-1zM139.3 305.8h1v1h-1zM141.6 351.7h1v1h-1zM173.9 315.9h1v1h-1zM136.2 323.2h1v1h-1zM136.5 320.6h1v1h-1zM144.4 332.5h1v1h-1zM171.7 320.6h1v1h-1zM152.1 334.0h1v1h-1zM160.7 313.7h1v1h-1zM174.9 322.9h1v1h-1zM172.0 302.9h1v1h-1zM164.7 313.9h1v1h-1zM166.5 317.5h1v1h-1zM174.7 325.1h1v1h-1zM169.4 322.2h1v1h-1zM138.2 349.5h1v1h-1zM161.9 325.8h1v1h-1zM154.3 307.2h1v1h-1zM143.7 348.8h1v1h-1zM136.6 323.5h1v1h-1zM163.5 304.2h1v1h-1zM157.8 312.9h1v1h-1zM164.3 338.0h1v1h-1zM156.8 304.3h1v1h-1z" fill="#bcb9c9" fill-opacity="0.5"/>
<path d="M140.8 305.4h1v1h-1zM137.9 311.5h1v1h-1zM138.0 326.2h1v1h-1zM139.1 310.7h1v1h-1zM137.8 321.4h1v1h-1zM144.0 323.7h1v1h-1zM180.1 314.1h1v1h-1zM175.7 322.1h1v1h-1zM137.1 325.3h1v1h-1zM138.3 330.2h1v1h-1zM143.8 328.2h1v1h-1zM143.5 335.6h1v1h-1zM138.1 317.0h1v1h-1zM180.4 322.6h1v1h-1zM180.4 328.9h1v1h-1zM143.8 317.3h1v1h-1zM142.6 310.5h1v1h-1zM138.2 329.1h1v1h-1zM137.4 328.0h1v1h-1zM141.8 307.7h1v1h-1zM139.0 334.1h1v1h-1zM177.1 310.2h1v1h-1zM181.1 320.2h1v1h-1zM142.5 344.2h1v1h-1zM138.3 333.8h1v1h-1zM177.1 332.4h1v1h-1zM137.8 340.7h1v1h-1zM142.8 334.4h1v1h-1zM176.1 314.6h1v1h-1zM179.1 331.3h1v1h-1zM139.6 347.2h1v1h-1zM177.5 308.9h1v1h-1zM178.0 306.9h1v1h-1zM180.2 315.2h1v1h-1zM137.4 326.9h1v1h-1zM144.2 332.1h1v1h-1zM137.8 318.2h1v1h-1zM178.1 333.5h1v1h-1zM138.1 329.4h1v1h-1zM143.0 340.2h1v1h-1zM142.7 308.3h1v1h-1zM144.0 317.5h1v1h-1zM143.5 343.3h1v1h-1zM138.4 333.9h1v1h-1zM177.4 332.9h1v1h-1zM138.6 309.7h1v1h-1zM180.5 325.6h1v1h-1zM141.0 305.2h1v1h-1zM138.5 336.8h1v1h-1zM180.4 322.7h1v1h-1zM175.8 326.0h1v1h-1zM175.8 325.6h1v1h-1zM177.2 335.6h1v1h-1zM138.7 312.4h1v1h-1zM138.3 330.3h1v1h-1zM177.6 306.9h1v1h-1zM177.8 332.7h1v1h-1zM180.8 322.5h1v1h-1zM179.1 334.2h1v1h-1zM138.2 327.4h1v1h-1zM141.7 309.9h1v1h-1zM144.8 323.4h1v1h-1zM178.1 308.4h1v1h-1zM142.7 307.7h1v1h-1zM137.8 317.7h1v1h-1zM175.3 323.3h1v1h-1zM142.9 312.1h1v1h-1zM178.1 306.9h1v1h-1zM141.1 309.4h1v1h-1zM180.4 315.7h1v1h-1zM176.7 331.3h1v1h-1zM138.4 329.3h1v1h-1zM140.5 307.3h1v1h-1zM138.5 312.6h1v1h-1zM138.5 313.9h1v1h-1zM136.9 320.6h1v1h-1zM179.3 311.0h1v1h-1zM137.8 320.9h1v1h-1zM143.7 335.7h1v1h-1zM137.8 320.8h1v1h-1zM180.4 312.0h1v1h-1zM139.3 309.7h1v1h-1zM138.8 335.2h1v1h-1zM175.8 313.9h1v1h-1zM142.7 343.0h1v1h-1zM176.0 329.5h1v1h-1zM143.3 336.7h1v1h-1zM180.9 316.5h1v1h-1zM177.3 333.4h1v1h-1zM138.4 331.6h1v1h-1zM180.4 330.6h1v1h-1zM179.2 332.6h1v1h-1zM143.3 336.9h1v1h-1zM142.8 309.9h1v1h-1zM177.2 306.4h1v1h-1zM180.0 329.3h1v1h-1zM176.2 311.7h1v1h-1zM177.7 332.6h1v1h-1zM180.3 327.3h1v1h-1zM143.4 340.2h1v1h-1zM137.8 323.0h1v1h-1zM138.7 338.0h1v1h-1zM177.0 332.6h1v1h-1zM137.5 324.6h1v1h-1zM177.7 307.1h1v1h-1zM143.0 346.9h1v1h-1zM138.0 318.1h1v1h-1zM143.5 340.6h1v1h-1zM139.4 309.9h1v1h-1zM144.7 317.9h1v1h-1zM138.4 333.6h1v1h-1zM143.6 312.4h1v1h-1zM138.8 343.5h1v1h-1zM141.1 348.6h1v1h-1zM143.0 343.2h1v1h-1zM138.5 331.9h1v1h-1z" fill="#9894ac" fill-opacity="0.6"/>
<path d="M141.5 335.4h1v1h-1zM138.6 317.4h1v1h-1zM140.2 335.9h1v1h-1zM177.3 310.6h1v1h-1zM140.4 331.9h1v1h-1zM139.0 332.7h1v1h-1zM140.0 330.8h1v1h-1zM139.7 315.1h1v1h-1zM141.4 332.4h1v1h-1zM140.3 313.8h1v1h-1zM140.1 314.5h1v1h-1zM139.2 336.2h1v1h-1zM138.8 320.1h1v1h-1zM142.5 330.9h1v1h-1zM179.4 313.1h1v1h-1zM176.4 324.5h1v1h-1zM141.6 332.0h1v1h-1zM180.0 318.5h1v1h-1zM180.1 318.6h1v1h-1zM139.1 342.0h1v1h-1zM143.2 319.5h1v1h-1zM141.6 333.9h1v1h-1zM139.8 332.7h1v1h-1zM142.3 332.1h1v1h-1zM180.1 318.4h1v1h-1zM140.4 341.9h1v1h-1zM141.0 340.2h1v1h-1zM177.7 313.3h1v1h-1zM141.0 312.1h1v1h-1zM143.6 323.9h1v1h-1zM139.7 312.9h1v1h-1zM179.8 323.5h1v1h-1zM139.8 338.3h1v1h-1zM140.3 313.7h1v1h-1zM180.1 318.1h1v1h-1zM179.9 317.3h1v1h-1zM140.5 313.4h1v1h-1zM139.3 338.3h1v1h-1zM141.5 314.1h1v1h-1zM141.6 313.6h1v1h-1zM139.3 330.6h1v1h-1zM140.6 334.3h1v1h-1zM140.1 345.6h1v1h-1zM140.7 341.4h1v1h-1zM140.7 342.2h1v1h-1zM143.7 322.3h1v1h-1zM141.4 330.1h1v1h-1zM140.0 315.1h1v1h-1zM179.8 313.8h1v1h-1zM140.1 344.0h1v1h-1zM179.6 327.9h1v1h-1zM178.7 311.7h1v1h-1zM140.9 314.5h1v1h-1zM179.5 326.1h1v1h-1zM139.7 332.2h1v1h-1zM142.3 340.2h1v1h-1zM140.0 340.4h1v1h-1zM143.2 315.8h1v1h-1zM142.5 315.7h1v1h-1zM177.9 329.9h1v1h-1zM176.4 324.9h1v1h-1zM177.9 310.1h1v1h-1zM139.1 314.5h1v1h-1zM139.3 315.7h1v1h-1zM139.5 327.7h1v1h-1zM141.3 331.8h1v1h-1zM176.5 322.8h1v1h-1zM176.6 314.2h1v1h-1zM143.6 323.1h1v1h-1zM179.8 324.9h1v1h-1zM141.9 332.5h1v1h-1zM142.7 324.6h1v1h-1zM143.1 320.0h1v1h-1zM139.9 315.5h1v1h-1zM142.2 336.0h1v1h-1zM139.8 314.8h1v1h-1zM142.8 339.4h1v1h-1zM141.4 311.1h1v1h-1zM138.0 321.3h1v1h-1zM142.0 328.6h1v1h-1zM139.5 328.8h1v1h-1zM142.1 341.7h1v1h-1zM141.7 337.1h1v1h-1zM138.4 325.6h1v1h-1zM139.0 316.1h1v1h-1zM178.2 331.7h1v1h-1zM176.6 314.7h1v1h-1zM179.3 312.0h1v1h-1zM139.9 341.7h1v1h-1zM143.3 325.5h1v1h-1zM139.6 331.0h1v1h-1zM139.7 329.9h1v1h-1zM143.3 324.3h1v1h-1zM179.1 310.8h1v1h-1zM176.1 317.9h1v1h-1zM178.7 312.1h1v1h-1zM179.6 328.7h1v1h-1zM177.7 312.6h1v1h-1zM140.3 314.7h1v1h-1zM180.0 319.0h1v1h-1zM139.3 327.5h1v1h-1zM177.5 328.2h1v1h-1zM178.4 312.8h1v1h-1zM179.8 321.1h1v1h-1zM176.5 321.6h1v1h-1zM140.6 342.3h1v1h-1zM142.9 318.3h1v1h-1zM141.3 314.3h1v1h-1zM176.5 325.0h1v1h-1zM138.9 329.2h1v1h-1zM142.1 335.6h1v1h-1zM140.8 336.2h1v1h-1zM139.3 333.6h1v1h-1zM141.1 335.4h1v1h-1zM140.6 343.5h1v1h-1zM139.8 335.6h1v1h-1zM139.6 341.7h1v1h-1zM138.8 324.2h1v1h-1zM139.8 330.4h1v1h-1zM142.9 321.5h1v1h-1zM139.2 328.7h1v1h-1zM180.1 318.7h1v1h-1zM139.6 314.0h1v1h-1zM139.8 329.3h1v1h-1zM179.7 318.4h1v1h-1zM140.8 310.6h1v1h-1zM141.7 311.9h1v1h-1zM143.0 326.3h1v1h-1zM138.4 325.3h1v1h-1zM179.8 315.2h1v1h-1zM141.5 335.1h1v1h-1zM139.6 335.5h1v1h-1zM139.1 321.1h1v1h-1zM142.3 332.8h1v1h-1zM179.2 315.2h1v1h-1zM139.1 328.3h1v1h-1zM179.4 328.4h1v1h-1zM141.6 336.5h1v1h-1zM139.3 326.3h1v1h-1zM141.5 332.5h1v1h-1zM140.8 343.9h1v1h-1zM178.9 311.2h1v1h-1zM139.0 314.3h1v1h-1zM141.4 314.0h1v1h-1zM176.8 313.9h1v1h-1zM177.5 311.8h1v1h-1zM178.9 311.9h1v1h-1zM140.6 333.1h1v1h-1zM142.3 340.7h1v1h-1zM139.1 314.8h1v1h-1zM141.2 335.1h1v1h-1zM142.8 339.8h1v1h-1zM180.0 325.3h1v1h-1zM141.9 340.5h1v1h-1zM139.4 317.5h1v1h-1zM180.2 320.3h1v1h-1zM138.5 320.7h1v1h-1zM138.4 324.7h1v1h-1zM179.2 315.6h1v1h-1zM138.7 327.1h1v1h-1zM140.6 341.2h1v1h-1zM176.5 315.1h1v1h-1zM138.4 320.0h1v1h-1zM141.5 336.8h1v1h-1zM142.2 312.0h1v1h-1zM140.7 345.1h1v1h-1zM140.0 338.7h1v1h-1zM143.7 325.7h1v1h-1zM141.5 345.9h1v1h-1zM139.6 338.4h1v1h-1zM138.8 318.7h1v1h-1zM179.8 325.3h1v1h-1zM179.7 327.1h1v1h-1zM139.9 313.4h1v1h-1zM142.6 325.7h1v1h-1zM140.8 333.3h1v1h-1zM141.2 330.1h1v1h-1zM138.5 318.1h1v1h-1zM143.5 322.5h1v1h-1zM142.1 342.5h1v1h-1zM179.7 319.9h1v1h-1zM179.9 314.5h1v1h-1zM141.7 314.5h1v1h-1zM140.2 340.7h1v1h-1zM142.4 326.2h1v1h-1zM138.7 319.2h1v1h-1zM139.2 318.6h1v1h-1zM179.3 314.0h1v1h-1zM176.8 329.5h1v1h-1zM142.9 326.3h1v1h-1zM139.7 312.9h1v1h-1zM176.6 324.6h1v1h-1zM140.8 340.5h1v1h-1zM178.2 311.8h1v1h-1zM138.3 325.0h1v1h-1zM139.0 324.2h1v1h-1zM138.7 319.3h1v1h-1zM176.7 329.3h1v1h-1zM139.9 311.4h1v1h-1zM141.0 345.3h1v1h-1zM139.5 317.0h1v1h-1zM142.9 331.4h1v1h-1zM140.2 311.6h1v1h-1zM141.6 334.3h1v1h-1zM179.4 326.2h1v1h-1zM140.0 313.8h1v1h-1zM179.9 325.2h1v1h-1zM142.9 330.6h1v1h-1zM140.3 330.7h1v1h-1zM138.8 327.8h1v1h-1zM178.4 330.8h1v1h-1zM176.6 323.3h1v1h-1zM139.6 341.1h1v1h-1z" fill="#74708c" fill-opacity="0.7"/>
<path d="M179.4 317.3h1v1h-1zM179.0 317.6h1v1h-1zM177.2 322.0h1v1h-1zM141.9 317.1h1v1h-1zM140.5 329.2h1v1h-1zM140.4 321.4h1v1h-1zM140.4 327.9h1v1h-1zM142.4 323.6h1v1h-1zM141.0 321.4h1v1h-1zM178.7 318.6h1v1h-1zM179.0 323.4h1v1h-1zM178.8 322.9h1v1h-1zM179.3 324.7h1v1h-1zM141.2 325.5h1v1h-1zM178.3 319.7h1v1h-1zM139.3 322.7h1v1h-1zM179.5 319.7h1v1h-1zM178.1 313.5h1v1h-1zM179.0 322.8h1v1h-1zM177.7 315.9h1v1h-1zM177.5 323.8h1v1h-1zM177.7 317.3h1v1h-1zM177.7 324.4h1v1h-1zM179.0 318.4h1v1h-1zM179.1 315.8h1v1h-1zM139.7 323.2h1v1h-1zM178.3 323.8h1v1h-1zM178.3 322.2h1v1h-1zM141.6 316.4h1v1h-1zM140.5 319.2h1v1h-1zM141.2 324.2h1v1h-1zM179.4 321.5h1v1h-1zM178.9 326.2h1v1h-1zM139.8 319.0h1v1h-1zM179.2 323.4h1v1h-1zM178.0 327.7h1v1h-1zM178.8 317.2h1v1h-1zM139.9 316.0h1v1h-1zM139.5 323.1h1v1h-1zM141.9 321.6h1v1h-1zM140.6 319.8h1v1h-1zM178.8 319.8h1v1h-1zM141.2 328.3h1v1h-1zM142.1 321.7h1v1h-1zM176.9 320.4h1v1h-1zM179.1 320.9h1v1h-1zM140.4 326.2h1v1h-1zM177.8 316.4h1v1h-1zM177.2 318.7h1v1h-1zM176.8 323.5h1v1h-1zM142.2 324.3h1v1h-1zM179.5 317.3h1v1h-1zM142.1 319.6h1v1h-1zM142.0 321.8h1v1h-1zM176.9 320.6h1v1h-1zM140.7 315.3h1v1h-1zM140.4 328.0h1v1h-1zM176.6 321.2h1v1h-1zM177.5 315.1h1v1h-1zM177.5 316.8h1v1h-1zM178.1 313.8h1v1h-1zM177.2 319.6h1v1h-1zM179.5 321.3h1v1h-1zM142.3 325.8h1v1h-1zM140.3 317.2h1v1h-1zM141.5 319.0h1v1h-1zM177.3 320.7h1v1h-1zM142.1 319.3h1v1h-1zM179.5 318.9h1v1h-1zM179.0 315.6h1v1h-1zM140.7 328.3h1v1h-1zM178.6 321.6h1v1h-1zM178.4 328.3h1v1h-1zM141.6 318.0h1v1h-1zM141.4 315.5h1v1h-1zM139.2 322.8h1v1h-1zM140.5 329.3h1v1h-1zM141.9 318.0h1v1h-1zM177.6 318.1h1v1h-1zM178.5 317.6h1v1h-1zM139.8 316.9h1v1h-1zM141.8 319.6h1v1h-1zM178.1 323.9h1v1h-1zM178.4 327.6h1v1h-1zM176.8 323.9h1v1h-1zM140.4 320.1h1v1h-1zM177.7 323.7h1v1h-1zM141.0 327.8h1v1h-1zM177.2 322.0h1v1h-1zM179.0 325.5h1v1h-1zM140.3 322.1h1v1h-1zM177.4 318.1h1v1h-1zM178.9 324.5h1v1h-1zM178.7 317.6h1v1h-1zM140.6 328.1h1v1h-1zM177.7 325.5h1v1h-1zM141.8 322.9h1v1h-1zM177.1 319.6h1v1h-1zM140.6 325.7h1v1h-1zM179.2 317.8h1v1h-1zM139.2 320.3h1v1h-1zM141.4 323.2h1v1h-1zM179.6 319.6h1v1h-1zM179.2 322.2h1v1h-1zM142.3 325.1h1v1h-1zM178.4 324.4h1v1h-1zM177.9 326.1h1v1h-1zM140.6 327.4h1v1h-1zM177.6 316.8h1v1h-1zM177.5 327.0h1v1h-1zM178.2 322.4h1v1h-1zM139.4 322.3h1v1h-1zM177.4 322.0h1v1h-1zM140.8 329.5h1v1h-1zM178.3 319.3h1v1h-1zM141.5 318.8h1v1h-1zM178.6 318.6h1v1h-1zM141.2 324.9h1v1h-1zM140.3 326.5h1v1h-1zM178.7 315.5h1v1h-1zM141.8 328.3h1v1h-1zM177.2 318.0h1v1h-1zM140.1 315.2h1v1h-1zM142.4 318.3h1v1h-1zM179.6 322.4h1v1h-1zM140.2 320.0h1v1h-1zM142.0 323.4h1v1h-1zM177.6 316.0h1v1h-1zM139.7 325.8h1v1h-1zM177.5 322.0h1v1h-1zM141.3 323.5h1v1h-1zM140.1 317.4h1v1h-1zM177.9 319.8h1v1h-1zM140.6 315.1h1v1h-1zM139.5 318.6h1v1h-1zM178.0 319.1h1v1h-1z" fill="#524e68" fill-opacity="0.75"/>
<path d="M140.0 334.6h1v1h-1zM139.5 337.1h1v1h-1zM144.4 324.1h1v1h-1zM138.3 336.0h1v1h-1zM138.5 331.4h1v1h-1zM141.7 345.6h1v1h-1zM141.6 311.7h1v1h-1zM137.8 329.0h1v1h-1zM141.9 336.7h1v1h-1zM137.8 323.2h1v1h-1zM142.8 311.6h1v1h-1zM145.9 319.4h1v1h-1zM138.3 318.4h1v1h-1zM139.0 317.7h1v1h-1zM143.4 332.0h1v1h-1zM141.9 310.6h1v1h-1zM141.7 313.7h1v1h-1zM142.2 336.5h1v1h-1zM140.8 315.1h1v1h-1zM143.0 315.4h1v1h-1zM141.3 313.2h1v1h-1zM144.2 331.6h1v1h-1zM144.4 321.7h1v1h-1zM142.7 317.1h1v1h-1zM138.3 324.8h1v1h-1zM139.2 334.3h1v1h-1zM143.5 326.8h1v1h-1zM143.7 329.3h1v1h-1zM139.4 310.5h1v1h-1zM144.1 326.1h1v1h-1zM144.9 326.7h1v1h-1zM143.9 319.3h1v1h-1zM140.5 311.6h1v1h-1zM133.4 320.6h1v1h-1zM139.8 338.4h1v1h-1zM138.2 326.9h1v1h-1zM141.9 315.3h1v1h-1zM143.5 316.1h1v1h-1zM138.3 315.1h1v1h-1zM141.1 338.2h1v1h-1zM141.2 310.5h1v1h-1zM140.7 336.4h1v1h-1zM138.1 321.6h1v1h-1zM143.6 337.1h1v1h-1zM139.5 316.4h1v1h-1z" fill="#8a8494" fill-opacity="0.6"/>
<path d="M139.5 327.8h1v1h-1zM138.8 325.8h1v1h-1zM138.9 319.0h1v1h-1zM139.1 320.6h1v1h-1zM139.8 316.2h1v1h-1zM142.4 318.6h1v1h-1zM143.1 321.4h1v1h-1zM142.9 324.3h1v1h-1zM140.8 331.9h1v1h-1zM142.1 331.3h1v1h-1zM138.9 323.5h1v1h-1zM139.5 318.9h1v1h-1zM142.7 321.9h1v1h-1zM139.6 318.8h1v1h-1zM140.3 329.8h1v1h-1zM140.9 330.4h1v1h-1zM140.0 316.0h1v1h-1zM142.8 319.3h1v1h-1zM139.2 317.5h1v1h-1zM141.1 317.3h1v1h-1zM139.0 323.4h1v1h-1zM138.9 318.8h1v1h-1zM139.7 331.1h1v1h-1zM142.2 328.5h1v1h-1zM139.3 328.9h1v1h-1zM141.8 331.5h1v1h-1zM139.4 327.7h1v1h-1zM138.9 327.0h1v1h-1zM140.3 331.1h1v1h-1zM139.2 330.5h1v1h-1zM141.4 318.0h1v1h-1zM142.6 328.6h1v1h-1z" fill="#9a8c78" fill-opacity="0.7"/>
<path d="M139.3 325.1h1v1h-1zM139.2 324.2h1v1h-1zM141.6 323.4h1v1h-1zM140.4 325.5h1v1h-1zM140.0 329.1h1v1h-1zM140.2 325.0h1v1h-1zM141.3 323.5h1v1h-1zM142.5 326.7h1v1h-1zM141.6 324.8h1v1h-1zM141.1 328.9h1v1h-1zM141.7 319.0h1v1h-1zM141.0 319.2h1v1h-1zM140.9 324.9h1v1h-1zM142.0 323.0h1v1h-1zM141.8 327.8h1v1h-1zM139.7 323.7h1v1h-1zM142.1 325.6h1v1h-1zM141.1 325.9h1v1h-1zM141.8 329.4h1v1h-1zM141.5 323.2h1v1h-1zM141.0 326.0h1v1h-1zM140.1 322.8h1v1h-1zM140.9 324.6h1v1h-1zM141.4 325.0h1v1h-1zM140.7 321.9h1v1h-1zM139.4 322.4h1v1h-1zM141.7 329.3h1v1h-1zM140.3 323.0h1v1h-1zM141.7 325.2h1v1h-1zM140.3 327.1h1v1h-1zM140.7 321.0h1v1h-1zM140.4 325.0h1v1h-1zM140.5 321.1h1v1h-1zM140.2 318.6h1v1h-1zM141.3 328.0h1v1h-1zM142.0 319.2h1v1h-1zM140.0 324.8h1v1h-1zM140.4 323.1h1v1h-1zM140.9 324.7h1v1h-1zM139.1 323.5h1v1h-1zM141.1 321.0h1v1h-1zM141.9 322.4h1v1h-1zM140.9 321.7h1v1h-1z" fill="#a89060" fill-opacity="0.8"/>
</g>
<path d="M150.5 296L184.3 296.3L184.3 340.1L150.5 336.2Z" fill="none" stroke="#555" stroke-width="0.8"/>
<rect x="132.3" y="288.5" width="69.2" height="67.1" fill="none" stroke="#111" stroke-width="1.1"/>
<line x1="132.3" y1="288.5" x2="132.3" y2="356.2" stroke="#111" stroke-width="1.5"/>
<line x1="131.7" y1="355.8" x2="201.5" y2="355.8" stroke="#111" stroke-width="1.9"/>
<path d="M138.5 355.6v3.4M146.5 355.6v3.4M162.6 355.6v3.4M178.6 355.6v3.4M194.7 355.6v3.4M151.3 355.6v2.2M154.2 355.6v2.2M156.2 355.6v2.2M157.8 355.6v2.2M159 355.6v2.2M160.1 355.6v2.2M161 355.6v2.2M161.9 355.6v2.2M167.4 355.6v2.2M170.2 355.6v2.2M172.2 355.6v2.2M173.8 355.6v2.2M175.1 355.6v2.2M176.1 355.6v2.2M177 355.6v2.2M177.9 355.6v2.2M183.4 355.6v2.2M186.3 355.6v2.2M188.3 355.6v2.2M189.9 355.6v2.2M191.1 355.6v2.2M192.2 355.6v2.2M193.1 355.6v2.2M194 355.6v2.2M140.5 355.6v2.2M142.5 355.6v2.2M144.5 355.6v2.2" stroke="#111" stroke-width="1.0" fill="none"/>
<path d="M132.3 348.9h-3.4M132.3 341.3h-3.4M132.3 325.4h-3.4M132.3 310.8h-3.4M132.3 296h-3.4M132.3 336.5h-2.2M132.3 333.7h-2.2M132.3 331.7h-2.2M132.3 330.2h-2.2M132.3 328.9h-2.2M132.3 327.9h-2.2M132.3 326.9h-2.2M132.3 326.1h-2.2M132.3 321h-2.2M132.3 318.4h-2.2M132.3 316.6h-2.2M132.3 315.2h-2.2M132.3 314h-2.2M132.3 313.1h-2.2M132.3 312.2h-2.2M132.3 311.5h-2.2M132.3 306.3h-2.2M132.3 303.7h-2.2M132.3 301.9h-2.2M132.3 300.5h-2.2M132.3 299.3h-2.2M132.3 298.3h-2.2M132.3 297.4h-2.2M132.3 296.7h-2.2M132.3 347h-2.2M132.3 345.1h-2.2M132.3 343.2h-2.2" stroke="#111" stroke-width="1.0" fill="none"/>
<text x="138.5" y="364.8" font-size="5.2" fill="#222" text-anchor="middle" stroke="#222" stroke-width="0.14">0</text>
<text x="147.3" y="364.8" font-size="5.2" fill="#222" text-anchor="middle" stroke="#222" stroke-width="0.14">10<tspan dy="-2" font-size="2.9">2</tspan></text>
<text x="163.4" y="364.8" font-size="5.2" fill="#222" text-anchor="middle" stroke="#222" stroke-width="0.14">10<tspan dy="-2" font-size="2.9">3</tspan></text>
<text x="179.4" y="364.8" font-size="5.2" fill="#222" text-anchor="middle" stroke="#222" stroke-width="0.14">10<tspan dy="-2" font-size="2.9">4</tspan></text>
<text x="195.5" y="364.8" font-size="5.2" fill="#222" text-anchor="middle" stroke="#222" stroke-width="0.14">10<tspan dy="-2" font-size="2.9">5</tspan></text>
<text x="125.7" y="350.7" font-size="5.2" fill="#222" text-anchor="end" stroke="#222" stroke-width="0.14">0</text>
<text x="125.7" y="343.1" font-size="5.2" fill="#222" text-anchor="end" stroke="#222" stroke-width="0.14">10<tspan dy="-2" font-size="2.9">2</tspan></text>
<text x="125.7" y="327.2" font-size="5.2" fill="#222" text-anchor="end" stroke="#222" stroke-width="0.14">10<tspan dy="-2" font-size="2.9">3</tspan></text>
<text x="125.7" y="312.6" font-size="5.2" fill="#222" text-anchor="end" stroke="#222" stroke-width="0.14">10<tspan dy="-2" font-size="2.9">4</tspan></text>
<text x="125.7" y="297.8" font-size="5.2" fill="#222" text-anchor="end" stroke="#222" stroke-width="0.14">10<tspan dy="-2" font-size="2.9">5</tspan></text>
<text x="198.6" y="295.6" font-size="7.7" fill="#222" text-anchor="end" textLength="21.5" lengthAdjust="spacingAndGlyphs" stroke="#222" stroke-width="0.22">37.4%</text>
<g filter="url(#b4)">
<path d="M225.2 295.2h1v1h-1zM238.8 314.8h1v1h-1zM257.3 334.5h1v1h-1zM251.6 306.5h1v1h-1zM258.3 313.6h1v1h-1zM244.9 301.0h1v1h-1zM240.9 318.5h1v1h-1zM228.7 351.5h1v1h-1zM255.4 330.4h1v1h-1zM229.9 336.1h1v1h-1zM256.4 301.3h1v1h-1zM250.1 300.6h1v1h-1zM220.6 303.7h1v1h-1zM257.9 330.9h1v1h-1zM247.8 301.7h1v1h-1zM225.2 295.1h1v1h-1zM252.5 310.1h1v1h-1zM239.0 329.6h1v1h-1zM230.8 347.8h1v1h-1zM226.1 298.2h1v1h-1zM243.3 312.6h1v1h-1zM256.4 312.8h1v1h-1zM239.0 300.3h1v1h-1zM259.9 335.5h1v1h-1zM266.9 321.0h1v1h-1zM266.2 317.3h1v1h-1zM230.7 310.9h1v1h-1zM222.6 319.9h1v1h-1zM248.9 303.0h1v1h-1zM239.2 300.6h1v1h-1zM259.6 306.1h1v1h-1zM267.3 310.6h1v1h-1zM222.2 299.6h1v1h-1zM231.6 337.0h1v1h-1zM223.5 347.7h1v1h-1zM244.7 326.9h1v1h-1zM227.8 290.0h1v1h-1zM230.6 322.7h1v1h-1zM248.3 315.7h1v1h-1zM241.0 304.2h1v1h-1zM239.3 326.2h1v1h-1zM254.6 318.3h1v1h-1zM249.4 323.7h1v1h-1zM250.0 302.8h1v1h-1zM256.2 328.5h1v1h-1zM253.0 337.4h1v1h-1zM250.0 331.1h1v1h-1zM256.6 301.1h1v1h-1zM242.4 325.9h1v1h-1zM224.3 298.8h1v1h-1zM221.5 309.2h1v1h-1zM245.7 323.5h1v1h-1zM259.8 310.3h1v1h-1zM230.3 350.5h1v1h-1zM243.4 315.1h1v1h-1zM223.5 331.4h1v1h-1zM223.3 293.3h1v1h-1zM227.7 296.2h1v1h-1zM260.1 301.5h1v1h-1zM261.3 301.9h1v1h-1zM245.5 302.2h1v1h-1zM258.4 305.0h1v1h-1zM240.5 300.4h1v1h-1zM266.1 326.9h1v1h-1zM230.1 334.0h1v1h-1zM249.8 317.9h1v1h-1zM247.8 316.8h1v1h-1zM250.6 333.0h1v1h-1zM258.6 335.3h1v1h-1zM258.4 312.5h1v1h-1zM246.9 319.0h1v1h-1zM229.7 300.1h1v1h-1zM264.9 336.5h1v1h-1zM251.7 319.3h1v1h-1zM261.4 302.8h1v1h-1zM266.3 320.8h1v1h-1zM236.6 318.2h1v1h-1zM250.2 329.1h1v1h-1zM238.8 308.5h1v1h-1zM225.9 294.0h1v1h-1zM222.5 305.7h1v1h-1zM242.0 327.4h1v1h-1zM238.5 312.4h1v1h-1zM228.9 300.9h1v1h-1zM248.8 317.8h1v1h-1zM238.1 334.0h1v1h-1zM264.0 302.3h1v1h-1zM246.5 317.1h1v1h-1zM263.8 301.9h1v1h-1zM265.4 309.2h1v1h-1zM264.3 302.0h1v1h-1zM230.2 332.6h1v1h-1zM263.9 341.2h1v1h-1zM244.2 323.0h1v1h-1zM251.8 320.0h1v1h-1zM243.4 336.7h1v1h-1zM221.3 332.0h1v1h-1zM224.1 297.9h1v1h-1zM251.8 334.9h1v1h-1zM260.1 312.0h1v1h-1zM220.9 328.3h1v1h-1zM222.5 349.9h1v1h-1zM263.2 300.5h1v1h-1zM231.3 308.1h1v1h-1zM261.3 305.1h1v1h-1zM267.1 307.7h1v1h-1zM257.9 323.0h1v1h-1zM267.2 324.2h1v1h-1zM252.1 327.2h1v1h-1zM266.1 313.2h1v1h-1zM223.0 305.5h1v1h-1zM242.4 336.9h1v1h-1zM241.3 311.7h1v1h-1zM222.2 322.5h1v1h-1zM241.6 313.7h1v1h-1zM242.9 309.4h1v1h-1zM222.6 325.0h1v1h-1zM267.1 335.1h1v1h-1zM259.6 328.0h1v1h-1zM228.7 297.0h1v1h-1zM223.5 346.0h1v1h-1zM265.1 336.5h1v1h-1zM227.2 291.2h1v1h-1zM259.5 315.8h1v1h-1zM257.3 330.3h1v1h-1zM256.7 303.5h1v1h-1zM243.5 313.4h1v1h-1zM248.6 313.2h1v1h-1zM256.1 321.2h1v1h-1zM229.0 291.0h1v1h-1zM251.5 325.6h1v1h-1zM240.4 333.8h1v1h-1zM260.4 341.1h1v1h-1zM259.1 306.1h1v1h-1zM256.8 314.2h1v1h-1zM266.1 311.5h1v1h-1zM237.5 308.0h1v1h-1zM266.3 318.2h1v1h-1zM245.1 307.4h1v1h-1zM243.7 308.7h1v1h-1zM264.6 338.3h1v1h-1zM231.4 345.7h1v1h-1zM266.4 336.1h1v1h-1zM250.7 319.3h1v1h-1zM267.1 310.9h1v1h-1zM228.3 296.2h1v1h-1zM252.8 332.4h1v1h-1zM245.7 337.7h1v1h-1zM225.3 294.5h1v1h-1zM255.8 314.5h1v1h-1zM266.2 323.1h1v1h-1zM255.8 307.0h1v1h-1zM238.5 301.1h1v1h-1zM264.3 296.3h1v1h-1zM257.6 325.7h1v1h-1zM244.8 326.1h1v1h-1zM255.2 306.5h1v1h-1zM242.3 319.3h1v1h-1zM222.8 322.6h1v1h-1zM222.5 322.2h1v1h-1zM231.0 336.0h1v1h-1zM249.9 302.6h1v1h-1zM227.9 351.6h1v1h-1zM257.3 333.9h1v1h-1zM267.3 318.5h1v1h-1zM230.7 315.9h1v1h-1zM238.6 317.3h1v1h-1zM237.7 317.3h1v1h-1zM251.1 326.0h1v1h-1zM221.6 320.0h1v1h-1zM223.7 347.9h1v1h-1zM239.8 336.7h1v1h-1zM265.6 331.2h1v1h-1zM252.8 329.8h1v1h-1zM222.1 328.4h1v1h-1zM261.6 303.4h1v1h-1zM247.9 314.7h1v1h-1zM260.8 306.6h1v1h-1zM256.0 318.4h1v1h-1zM236.9 328.4h1v1h-1zM229.0 303.2h1v1h-1zM246.9 319.6h1v1h-1zM237.5 302.6h1v1h-1zM256.8 331.5h1v1h-1zM247.1 329.2h1v1h-1zM241.9 329.8h1v1h-1zM223.5 350.1h1v1h-1zM255.9 308.0h1v1h-1zM242.4 316.5h1v1h-1zM244.8 316.3h1v1h-1zM260.1 339.7h1v1h-1zM247.2 336.4h1v1h-1zM244.4 337.5h1v1h-1zM247.7 327.8h1v1h-1zM265.8 329.1h1v1h-1zM221.8 343.8h1v1h-1zM223.4 303.9h1v1h-1zM252.5 328.1h1v1h-1zM262.9 345.4h1v1h-1zM262.9 295.6h1v1h-1zM246.8 312.1h1v1h-1zM258.1 325.9h1v1h-1zM257.8 336.6h1v1h-1zM238.9 301.7h1v1h-1zM230.6 307.7h1v1h-1zM252.4 308.1h1v1h-1zM241.3 337.3h1v1h-1zM243.7 336.0h1v1h-1zM260.1 303.7h1v1h-1zM239.2 320.9h1v1h-1zM247.4 328.6h1v1h-1zM225.9 352.8h1v1h-1zM223.6 291.5h1v1h-1zM229.1 297.6h1v1h-1zM221.7 309.9h1v1h-1zM257.5 334.6h1v1h-1zM250.2 333.5h1v1h-1zM247.1 330.4h1v1h-1zM222.8 332.4h1v1h-1zM252.2 335.3h1v1h-1zM239.1 311.2h1v1h-1zM226.5 297.2h1v1h-1zM254.7 315.8h1v1h-1zM266.3 321.8h1v1h-1zM228.3 348.6h1v1h-1zM254.1 327.1h1v1h-1zM242.7 311.1h1v1h-1zM222.8 332.6h1v1h-1zM256.1 301.8h1v1h-1zM254.2 304.9h1v1h-1zM243.0 303.6h1v1h-1zM243.0 332.6h1v1h-1zM237.3 324.2h1v1h-1zM258.7 318.3h1v1h-1zM241.1 336.7h1v1h-1zM237.0 312.1h1v1h-1zM266.1 324.3h1v1h-1zM241.7 302.5h1v1h-1zM245.7 301.0h1v1h-1zM252.2 333.0h1v1h-1zM222.2 307.4h1v1h-1zM264.2 300.6h1v1h-1zM250.8 306.7h1v1h-1zM250.1 320.9h1v1h-1zM231.2 316.5h1v1h-1zM239.1 304.5h1v1h-1zM265.8 309.8h1v1h-1zM253.4 336.1h1v1h-1zM252.3 320.0h1v1h-1zM249.2 332.2h1v1h-1zM264.6 304.0h1v1h-1zM242.8 304.2h1v1h-1zM227.3 293.9h1v1h-1zM241.9 328.1h1v1h-1zM238.2 302.8h1v1h-1zM222.2 331.0h1v1h-1zM222.4 292.7h1v1h-1zM266.1 328.8h1v1h-1zM240.9 329.4h1v1h-1zM224.4 297.3h1v1h-1zM229.2 303.9h1v1h-1zM254.2 337.7h1v1h-1zM239.8 335.2h1v1h-1zM240.6 300.2h1v1h-1zM223.7 353.1h1v1h-1zM251.1 326.6h1v1h-1zM259.7 312.1h1v1h-1zM241.4 326.7h1v1h-1zM238.1 337.3h1v1h-1zM246.5 303.6h1v1h-1zM256.8 316.1h1v1h-1zM230.7 317.4h1v1h-1zM260.2 337.8h1v1h-1zM223.7 332.8h1v1h-1zM222.7 316.5h1v1h-1zM249.2 303.4h1v1h-1zM239.6 327.2h1v1h-1zM227.0 354.1h1v1h-1zM259.2 321.6h1v1h-1zM231.6 304.5h1v1h-1zM224.3 293.7h1v1h-1zM222.7 307.9h1v1h-1zM245.6 329.5h1v1h-1zM246.5 306.6h1v1h-1zM221.0 312.5h1v1h-1zM248.7 310.9h1v1h-1zM228.8 298.6h1v1h-1zM240.0 337.9h1v1h-1zM260.7 302.2h1v1h-1zM250.4 302.6h1v1h-1zM261.3 303.0h1v1h-1zM264.0 338.4h1v1h-1z" fill="#bcb9c9" fill-opacity="0.5"/>
<path d="M225.2 304.6h1v1h-1zM229.3 320.9h1v1h-1zM261.3 306.5h1v1h-1zM226.4 301.6h1v1h-1zM227.1 346.5h1v1h-1zM228.3 330.6h1v1h-1zM228.6 330.9h1v1h-1zM265.0 308.3h1v1h-1zM224.3 321.3h1v1h-1zM227.0 347.5h1v1h-1zM229.0 311.3h1v1h-1zM262.4 304.2h1v1h-1zM224.2 343.3h1v1h-1zM265.1 328.3h1v1h-1zM228.3 345.2h1v1h-1zM228.6 333.7h1v1h-1zM229.0 339.6h1v1h-1zM224.8 306.3h1v1h-1zM265.9 315.0h1v1h-1zM262.3 307.5h1v1h-1zM226.1 346.9h1v1h-1zM224.0 319.7h1v1h-1zM224.0 341.5h1v1h-1zM226.1 304.2h1v1h-1zM261.9 337.8h1v1h-1zM228.6 331.8h1v1h-1zM264.2 307.9h1v1h-1zM262.4 306.5h1v1h-1zM225.5 304.7h1v1h-1zM223.4 321.0h1v1h-1zM228.9 333.3h1v1h-1zM263.9 304.2h1v1h-1zM229.1 321.6h1v1h-1zM229.6 323.5h1v1h-1zM224.8 335.7h1v1h-1zM262.3 335.5h1v1h-1zM262.5 336.7h1v1h-1zM228.4 306.4h1v1h-1zM265.0 313.8h1v1h-1zM227.5 345.7h1v1h-1zM265.4 332.0h1v1h-1zM228.7 339.4h1v1h-1zM227.1 347.6h1v1h-1zM261.3 309.3h1v1h-1zM225.2 341.5h1v1h-1zM223.2 315.3h1v1h-1zM262.0 305.9h1v1h-1zM224.6 324.7h1v1h-1zM265.4 321.7h1v1h-1zM224.6 334.0h1v1h-1zM225.4 299.9h1v1h-1zM224.5 345.4h1v1h-1zM226.6 302.3h1v1h-1zM223.7 321.2h1v1h-1zM228.4 326.0h1v1h-1zM228.9 319.0h1v1h-1zM229.5 311.0h1v1h-1zM228.9 345.4h1v1h-1zM228.6 327.9h1v1h-1zM265.2 308.0h1v1h-1zM265.3 326.5h1v1h-1zM228.3 344.8h1v1h-1zM225.5 300.2h1v1h-1zM224.5 325.4h1v1h-1zM224.7 325.2h1v1h-1zM228.0 334.4h1v1h-1zM226.9 347.3h1v1h-1zM228.9 344.1h1v1h-1zM224.3 331.3h1v1h-1zM228.3 326.0h1v1h-1zM260.9 329.5h1v1h-1zM225.9 335.0h1v1h-1zM224.4 336.9h1v1h-1zM227.1 299.9h1v1h-1zM229.8 312.4h1v1h-1zM229.1 323.1h1v1h-1zM228.6 338.9h1v1h-1zM227.9 336.7h1v1h-1zM225.6 299.9h1v1h-1zM228.7 302.2h1v1h-1zM226.8 300.5h1v1h-1zM223.5 315.2h1v1h-1zM265.0 328.8h1v1h-1zM224.4 313.3h1v1h-1zM226.0 302.6h1v1h-1zM264.4 308.9h1v1h-1zM223.7 324.9h1v1h-1zM228.1 345.5h1v1h-1zM261.2 332.0h1v1h-1zM228.7 313.4h1v1h-1zM265.8 319.6h1v1h-1zM229.0 306.8h1v1h-1zM225.7 332.2h1v1h-1zM265.5 329.9h1v1h-1zM224.9 302.9h1v1h-1zM228.3 340.6h1v1h-1zM225.6 345.1h1v1h-1zM224.2 317.9h1v1h-1zM229.3 328.3h1v1h-1zM223.2 320.5h1v1h-1zM264.0 337.8h1v1h-1zM230.0 320.3h1v1h-1zM260.9 311.0h1v1h-1zM228.1 334.6h1v1h-1zM261.9 306.0h1v1h-1zM264.8 333.1h1v1h-1zM226.1 304.5h1v1h-1zM224.2 308.9h1v1h-1zM225.4 330.2h1v1h-1zM265.5 331.2h1v1h-1zM229.7 309.7h1v1h-1zM260.1 325.8h1v1h-1zM224.4 340.5h1v1h-1zM261.4 333.8h1v1h-1zM264.5 305.3h1v1h-1zM261.5 306.7h1v1h-1zM228.9 330.7h1v1h-1zM223.8 317.5h1v1h-1zM229.5 342.1h1v1h-1zM223.3 321.7h1v1h-1zM224.8 302.1h1v1h-1zM229.2 317.3h1v1h-1zM228.6 323.4h1v1h-1zM224.4 331.0h1v1h-1zM225.1 334.4h1v1h-1zM223.5 316.3h1v1h-1zM228.4 310.2h1v1h-1zM226.5 301.5h1v1h-1zM224.2 328.4h1v1h-1zM229.9 315.5h1v1h-1zM265.0 309.3h1v1h-1zM265.8 320.3h1v1h-1zM225.2 329.1h1v1h-1zM261.4 334.3h1v1h-1zM226.3 304.9h1v1h-1zM261.9 308.2h1v1h-1zM225.5 347.6h1v1h-1zM224.3 322.3h1v1h-1zM224.1 316.2h1v1h-1zM224.6 323.5h1v1h-1zM260.1 318.4h1v1h-1zM265.2 314.9h1v1h-1zM226.5 304.7h1v1h-1zM229.5 316.8h1v1h-1zM227.4 334.9h1v1h-1zM265.8 319.0h1v1h-1zM223.4 321.0h1v1h-1zM226.6 345.6h1v1h-1zM265.5 315.0h1v1h-1zM228.3 337.3h1v1h-1zM228.3 301.3h1v1h-1zM227.7 346.4h1v1h-1zM224.1 325.4h1v1h-1z" fill="#9894ac" fill-opacity="0.6"/>
<path d="M261.4 316.2h1v1h-1zM225.0 326.5h1v1h-1zM227.3 326.4h1v1h-1zM228.5 319.8h1v1h-1zM261.5 313.9h1v1h-1zM227.6 309.8h1v1h-1zM226.8 322.3h1v1h-1zM226.3 329.4h1v1h-1zM226.6 336.4h1v1h-1zM225.4 325.5h1v1h-1zM264.0 329.7h1v1h-1zM261.8 309.6h1v1h-1zM261.6 331.2h1v1h-1zM226.8 323.7h1v1h-1zM264.2 330.9h1v1h-1zM263.0 330.9h1v1h-1zM225.1 312.7h1v1h-1zM261.5 328.5h1v1h-1zM227.9 337.8h1v1h-1zM226.9 310.2h1v1h-1zM228.4 317.0h1v1h-1zM225.8 315.4h1v1h-1zM228.7 318.1h1v1h-1zM227.4 326.1h1v1h-1zM227.2 322.5h1v1h-1zM225.6 307.7h1v1h-1zM227.0 338.8h1v1h-1zM225.1 311.5h1v1h-1zM225.0 321.7h1v1h-1zM227.6 339.7h1v1h-1zM265.2 321.2h1v1h-1zM226.4 324.6h1v1h-1zM227.2 326.2h1v1h-1zM264.5 316.2h1v1h-1zM262.7 332.6h1v1h-1zM228.0 311.3h1v1h-1zM227.6 323.2h1v1h-1zM227.3 311.0h1v1h-1zM261.0 316.5h1v1h-1zM226.6 336.1h1v1h-1zM226.2 306.6h1v1h-1zM226.2 327.5h1v1h-1zM262.4 310.6h1v1h-1zM227.1 310.5h1v1h-1zM227.1 329.4h1v1h-1zM225.5 317.5h1v1h-1zM226.3 311.9h1v1h-1zM226.0 315.7h1v1h-1zM261.7 310.9h1v1h-1zM262.6 331.2h1v1h-1zM228.4 318.1h1v1h-1zM226.6 326.5h1v1h-1zM225.2 325.9h1v1h-1zM263.0 309.6h1v1h-1zM225.6 318.4h1v1h-1zM262.4 330.3h1v1h-1zM226.7 341.8h1v1h-1zM227.7 336.1h1v1h-1zM264.2 329.0h1v1h-1zM226.0 341.7h1v1h-1zM228.6 319.1h1v1h-1zM264.7 314.5h1v1h-1zM263.3 333.7h1v1h-1zM225.2 321.6h1v1h-1zM224.9 319.4h1v1h-1zM225.4 310.6h1v1h-1zM226.5 341.4h1v1h-1zM261.2 319.7h1v1h-1zM226.3 313.5h1v1h-1zM226.2 321.5h1v1h-1zM264.7 320.0h1v1h-1zM226.2 335.7h1v1h-1zM264.5 325.2h1v1h-1zM227.2 317.2h1v1h-1zM225.6 328.8h1v1h-1zM227.7 309.0h1v1h-1zM225.8 322.8h1v1h-1zM265.0 321.6h1v1h-1zM226.0 337.4h1v1h-1zM226.4 331.3h1v1h-1zM226.1 313.6h1v1h-1zM227.1 335.8h1v1h-1zM260.9 326.7h1v1h-1zM226.1 327.6h1v1h-1zM226.0 344.2h1v1h-1zM227.7 314.8h1v1h-1zM262.3 308.9h1v1h-1zM263.2 311.6h1v1h-1zM262.7 334.1h1v1h-1zM225.8 328.1h1v1h-1zM228.1 339.1h1v1h-1zM226.9 344.9h1v1h-1zM226.4 335.1h1v1h-1zM262.6 333.6h1v1h-1zM260.7 318.0h1v1h-1zM264.4 329.4h1v1h-1zM224.7 314.0h1v1h-1zM226.4 332.9h1v1h-1zM227.0 309.3h1v1h-1zM225.4 323.4h1v1h-1zM227.8 343.9h1v1h-1zM264.7 326.3h1v1h-1zM226.6 329.0h1v1h-1zM227.9 321.2h1v1h-1zM227.1 325.2h1v1h-1zM264.5 311.6h1v1h-1zM226.9 321.4h1v1h-1zM226.7 311.6h1v1h-1zM226.4 326.1h1v1h-1zM228.3 313.3h1v1h-1zM227.3 307.7h1v1h-1zM227.6 321.4h1v1h-1zM262.9 331.0h1v1h-1zM228.1 317.7h1v1h-1zM262.4 331.0h1v1h-1zM227.2 307.8h1v1h-1zM228.5 315.0h1v1h-1zM264.3 329.0h1v1h-1zM264.4 312.5h1v1h-1zM227.8 322.1h1v1h-1zM228.5 322.3h1v1h-1zM263.5 331.9h1v1h-1zM227.6 341.7h1v1h-1zM262.4 310.0h1v1h-1zM226.2 342.9h1v1h-1zM224.9 310.5h1v1h-1zM227.5 319.7h1v1h-1zM225.6 311.9h1v1h-1zM226.1 309.4h1v1h-1zM225.5 321.1h1v1h-1zM261.4 325.2h1v1h-1zM225.6 341.5h1v1h-1zM226.7 343.7h1v1h-1zM226.3 307.0h1v1h-1zM227.5 325.8h1v1h-1zM261.0 328.8h1v1h-1zM261.0 325.9h1v1h-1zM228.0 323.9h1v1h-1zM262.8 308.7h1v1h-1zM262.3 330.9h1v1h-1zM264.1 310.9h1v1h-1zM225.9 314.4h1v1h-1zM264.5 322.0h1v1h-1zM261.7 327.1h1v1h-1zM260.7 316.5h1v1h-1zM225.6 322.1h1v1h-1zM265.1 320.2h1v1h-1zM264.1 329.4h1v1h-1zM225.7 344.0h1v1h-1zM226.0 328.3h1v1h-1zM227.5 343.1h1v1h-1zM262.0 312.6h1v1h-1zM225.8 327.0h1v1h-1zM264.9 321.1h1v1h-1zM228.2 325.7h1v1h-1zM262.7 331.0h1v1h-1zM226.6 313.2h1v1h-1zM227.2 339.6h1v1h-1zM226.5 320.4h1v1h-1zM227.4 330.2h1v1h-1zM226.6 313.4h1v1h-1zM226.8 323.4h1v1h-1zM226.6 323.1h1v1h-1zM227.3 324.4h1v1h-1zM226.6 309.0h1v1h-1zM227.4 336.7h1v1h-1zM225.5 317.0h1v1h-1zM264.4 312.6h1v1h-1zM226.5 343.6h1v1h-1zM227.4 308.2h1v1h-1zM227.5 310.1h1v1h-1zM262.6 308.4h1v1h-1zM226.1 318.7h1v1h-1zM262.9 311.5h1v1h-1zM226.6 325.8h1v1h-1zM227.8 319.8h1v1h-1zM261.4 331.1h1v1h-1zM226.6 340.9h1v1h-1zM226.2 318.0h1v1h-1zM227.7 318.4h1v1h-1zM227.1 327.5h1v1h-1zM263.7 311.2h1v1h-1zM227.3 343.2h1v1h-1zM262.6 331.8h1v1h-1zM225.1 319.2h1v1h-1zM227.5 311.6h1v1h-1zM227.7 315.9h1v1h-1zM226.3 325.1h1v1h-1zM260.8 323.6h1v1h-1zM225.4 316.4h1v1h-1zM227.6 313.6h1v1h-1zM227.0 324.6h1v1h-1zM261.0 325.8h1v1h-1zM262.7 311.9h1v1h-1zM261.2 319.0h1v1h-1zM225.4 311.0h1v1h-1zM227.7 315.5h1v1h-1zM263.9 310.4h1v1h-1zM226.1 329.4h1v1h-1z" fill="#74708c" fill-opacity="0.7"/>
<path d="M263.8 322.3h1v1h-1zM263.8 318.5h1v1h-1zM262.5 322.9h1v1h-1zM264.4 321.8h1v1h-1zM262.9 325.1h1v1h-1zM263.0 317.1h1v1h-1zM263.2 327.7h1v1h-1zM262.5 320.0h1v1h-1zM261.8 320.1h1v1h-1zM262.3 313.3h1v1h-1zM263.5 323.1h1v1h-1zM262.4 320.4h1v1h-1zM263.0 313.9h1v1h-1zM263.2 312.6h1v1h-1zM263.7 323.4h1v1h-1zM262.2 319.2h1v1h-1zM263.3 321.0h1v1h-1zM262.0 316.2h1v1h-1zM262.3 326.4h1v1h-1zM263.9 316.9h1v1h-1zM262.1 313.3h1v1h-1zM263.7 316.6h1v1h-1zM263.9 325.3h1v1h-1zM263.7 327.6h1v1h-1zM262.8 317.8h1v1h-1zM263.4 314.6h1v1h-1zM262.7 328.3h1v1h-1zM262.7 316.9h1v1h-1zM264.2 324.4h1v1h-1zM261.8 321.4h1v1h-1zM262.7 316.2h1v1h-1zM262.0 318.2h1v1h-1zM263.1 328.8h1v1h-1zM262.6 324.6h1v1h-1zM262.3 318.2h1v1h-1zM262.3 325.5h1v1h-1zM262.5 314.3h1v1h-1zM262.1 319.6h1v1h-1zM263.7 322.5h1v1h-1zM262.0 315.5h1v1h-1zM262.6 321.7h1v1h-1zM263.9 324.7h1v1h-1zM262.8 326.7h1v1h-1zM262.0 318.4h1v1h-1zM262.4 316.1h1v1h-1zM261.8 324.3h1v1h-1zM263.7 319.0h1v1h-1zM262.1 319.8h1v1h-1zM263.6 321.3h1v1h-1zM262.6 313.9h1v1h-1zM262.0 318.2h1v1h-1zM264.0 326.1h1v1h-1zM262.8 327.5h1v1h-1zM262.8 315.8h1v1h-1zM262.2 322.2h1v1h-1zM262.8 313.4h1v1h-1z" fill="#524e68" fill-opacity="0.75"/>
<path d="M222.4 300.7h1v1h-1zM227.6 313.5h1v1h-1zM230.7 297.7h1v1h-1zM225.5 294.8h1v1h-1zM229.2 319.1h1v1h-1zM222.6 304.8h1v1h-1zM228.5 297.7h1v1h-1zM226.1 315.6h1v1h-1zM229.0 299.1h1v1h-1zM228.5 314.5h1v1h-1zM229.6 307.9h1v1h-1zM228.5 296.9h1v1h-1zM229.5 308.6h1v1h-1zM222.0 301.6h1v1h-1zM229.8 300.8h1v1h-1zM228.7 297.3h1v1h-1zM223.3 292.8h1v1h-1zM229.6 303.4h1v1h-1zM227.0 314.5h1v1h-1zM229.7 305.2h1v1h-1zM225.5 295.7h1v1h-1zM224.7 312.5h1v1h-1zM227.9 296.7h1v1h-1zM222.4 300.2h1v1h-1zM228.3 321.9h1v1h-1zM229.2 313.6h1v1h-1zM230.0 304.7h1v1h-1zM223.0 300.4h1v1h-1zM230.2 295.1h1v1h-1zM229.4 293.6h1v1h-1zM227.4 295.5h1v1h-1zM226.5 293.2h1v1h-1zM225.7 294.7h1v1h-1zM229.1 315.9h1v1h-1zM230.8 301.5h1v1h-1zM228.1 312.9h1v1h-1zM223.2 302.7h1v1h-1zM224.3 313.5h1v1h-1zM227.2 296.2h1v1h-1zM229.1 311.4h1v1h-1zM226.2 316.5h1v1h-1zM223.4 302.2h1v1h-1zM224.5 298.8h1v1h-1zM225.7 294.6h1v1h-1zM224.8 296.4h1v1h-1zM224.2 294.4h1v1h-1zM223.0 308.7h1v1h-1zM224.3 296.7h1v1h-1zM231.3 305.2h1v1h-1zM229.3 310.2h1v1h-1zM226.6 313.9h1v1h-1zM224.7 297.1h1v1h-1zM224.3 311.4h1v1h-1zM229.6 298.6h1v1h-1zM223.3 303.0h1v1h-1zM228.7 316.1h1v1h-1zM222.1 301.5h1v1h-1zM229.8 308.2h1v1h-1zM226.5 313.9h1v1h-1zM230.2 291.8h1v1h-1zM225.0 295.8h1v1h-1zM222.7 302.3h1v1h-1zM229.7 299.8h1v1h-1zM227.8 294.1h1v1h-1zM231.2 299.5h1v1h-1zM229.7 299.8h1v1h-1zM228.1 294.1h1v1h-1zM228.2 291.3h1v1h-1zM230.3 313.3h1v1h-1zM226.2 295.5h1v1h-1zM229.0 296.1h1v1h-1zM224.0 294.1h1v1h-1z" fill="#8a8494" fill-opacity="0.6"/>
<path d="M224.4 306.3h1v1h-1zM225.7 311.8h1v1h-1zM227.6 299.1h1v1h-1zM228.8 302.7h1v1h-1zM224.5 304.8h1v1h-1zM228.4 301.4h1v1h-1zM228.6 306.9h1v1h-1zM228.5 308.9h1v1h-1zM226.7 297.8h1v1h-1zM224.5 299.8h1v1h-1zM227.9 297.1h1v1h-1zM225.6 298.2h1v1h-1zM228.9 302.7h1v1h-1zM228.5 308.1h1v1h-1zM224.4 301.9h1v1h-1zM224.9 300.7h1v1h-1zM225.0 308.9h1v1h-1zM224.9 299.4h1v1h-1zM228.8 302.9h1v1h-1zM228.2 309.6h1v1h-1zM228.5 300.0h1v1h-1zM226.1 297.8h1v1h-1zM225.0 297.8h1v1h-1zM228.9 300.5h1v1h-1zM225.4 312.9h1v1h-1zM227.8 311.6h1v1h-1zM229.0 301.8h1v1h-1zM228.9 306.3h1v1h-1zM228.8 304.6h1v1h-1zM228.2 310.4h1v1h-1zM228.7 306.0h1v1h-1zM229.0 307.6h1v1h-1zM224.4 304.0h1v1h-1zM226.4 298.1h1v1h-1zM227.9 299.0h1v1h-1zM226.8 311.2h1v1h-1zM225.9 311.4h1v1h-1zM228.9 306.3h1v1h-1zM228.6 302.9h1v1h-1zM229.4 305.6h1v1h-1zM227.2 296.8h1v1h-1zM228.8 306.8h1v1h-1zM228.6 310.2h1v1h-1zM224.3 301.4h1v1h-1zM224.8 308.0h1v1h-1zM224.6 299.4h1v1h-1zM225.8 297.8h1v1h-1zM224.6 302.1h1v1h-1zM225.2 312.0h1v1h-1z" fill="#9a8c78" fill-opacity="0.7"/>
<path d="M226.7 300.9h1v1h-1zM225.7 309.2h1v1h-1zM224.8 305.0h1v1h-1zM226.7 306.9h1v1h-1zM225.6 304.5h1v1h-1zM225.6 307.5h1v1h-1zM228.1 306.7h1v1h-1zM227.0 304.7h1v1h-1zM226.1 304.3h1v1h-1zM226.0 308.3h1v1h-1zM224.8 305.4h1v1h-1zM227.1 306.2h1v1h-1zM225.7 306.5h1v1h-1zM227.2 308.9h1v1h-1zM227.5 306.5h1v1h-1zM228.6 306.1h1v1h-1zM226.7 301.2h1v1h-1zM228.4 304.5h1v1h-1zM227.6 305.2h1v1h-1zM226.8 301.6h1v1h-1zM228.0 303.8h1v1h-1zM226.0 308.8h1v1h-1zM227.2 307.6h1v1h-1zM225.0 306.0h1v1h-1zM228.3 307.9h1v1h-1zM228.2 307.1h1v1h-1zM225.0 303.4h1v1h-1zM226.5 308.4h1v1h-1zM225.2 301.0h1v1h-1zM227.0 299.3h1v1h-1zM226.4 309.7h1v1h-1zM227.1 304.2h1v1h-1zM226.3 306.6h1v1h-1zM224.6 305.2h1v1h-1zM227.3 307.0h1v1h-1zM226.1 303.9h1v1h-1zM228.1 306.7h1v1h-1zM226.8 306.0h1v1h-1zM228.6 304.6h1v1h-1zM226.5 308.3h1v1h-1zM226.0 300.5h1v1h-1zM226.7 300.8h1v1h-1zM226.2 299.1h1v1h-1zM225.5 304.5h1v1h-1zM228.4 305.1h1v1h-1zM227.1 309.6h1v1h-1zM225.3 303.4h1v1h-1zM226.5 302.9h1v1h-1zM225.4 303.4h1v1h-1zM227.0 305.2h1v1h-1zM226.0 309.7h1v1h-1zM226.1 308.1h1v1h-1zM227.0 299.1h1v1h-1zM228.0 305.7h1v1h-1zM225.5 301.1h1v1h-1zM227.8 308.6h1v1h-1zM224.8 303.3h1v1h-1zM225.9 304.2h1v1h-1zM224.8 307.6h1v1h-1zM225.3 301.8h1v1h-1zM226.6 300.4h1v1h-1zM226.0 303.2h1v1h-1zM228.6 306.0h1v1h-1zM226.9 299.0h1v1h-1zM227.4 303.0h1v1h-1zM227.9 302.2h1v1h-1zM226.8 299.3h1v1h-1zM226.2 308.7h1v1h-1zM227.4 310.4h1v1h-1zM225.9 302.0h1v1h-1zM227.9 307.5h1v1h-1zM226.8 301.4h1v1h-1zM226.6 300.7h1v1h-1zM228.3 307.0h1v1h-1zM227.9 305.4h1v1h-1zM227.0 309.8h1v1h-1zM226.2 307.5h1v1h-1zM227.5 304.3h1v1h-1zM228.2 305.3h1v1h-1z" fill="#a89060" fill-opacity="0.8"/>
</g>
<path d="M236 296L267.4 296.3L267.4 339.5L236 337Z" fill="none" stroke="#555" stroke-width="0.8"/>
<rect x="217.4" y="288.5" width="69.2" height="67.1" fill="none" stroke="#111" stroke-width="1.1"/>
<line x1="217.4" y1="288.5" x2="217.4" y2="356.2" stroke="#111" stroke-width="1.5"/>
<line x1="216.8" y1="355.8" x2="286.6" y2="355.8" stroke="#111" stroke-width="1.9"/>
<path d="M223.6 355.6v3.4M231.6 355.6v3.4M247.7 355.6v3.4M263.7 355.6v3.4M279.8 355.6v3.4M236.4 355.6v2.2M239.3 355.6v2.2M241.3 355.6v2.2M242.9 355.6v2.2M244.1 355.6v2.2M245.2 355.6v2.2M246.1 355.6v2.2M247 355.6v2.2M252.5 355.6v2.2M255.3 355.6v2.2M257.3 355.6v2.2M258.9 355.6v2.2M260.2 355.6v2.2M261.2 355.6v2.2M262.1 355.6v2.2M263 355.6v2.2M268.5 355.6v2.2M271.4 355.6v2.2M273.4 355.6v2.2M275 355.6v2.2M276.2 355.6v2.2M277.3 355.6v2.2M278.2 355.6v2.2M279.1 355.6v2.2M225.6 355.6v2.2M227.6 355.6v2.2M229.6 355.6v2.2" stroke="#111" stroke-width="1.0" fill="none"/>
<path d="M217.4 348.9h-3.4M217.4 341.3h-3.4M217.4 325.4h-3.4M217.4 310.8h-3.4M217.4 296h-3.4M217.4 336.5h-2.2M217.4 333.7h-2.2M217.4 331.7h-2.2M217.4 330.2h-2.2M217.4 328.9h-2.2M217.4 327.9h-2.2M217.4 326.9h-2.2M217.4 326.1h-2.2M217.4 321h-2.2M217.4 318.4h-2.2M217.4 316.6h-2.2M217.4 315.2h-2.2M217.4 314h-2.2M217.4 313.1h-2.2M217.4 312.2h-2.2M217.4 311.5h-2.2M217.4 306.3h-2.2M217.4 303.7h-2.2M217.4 301.9h-2.2M217.4 300.5h-2.2M217.4 299.3h-2.2M217.4 298.3h-2.2M217.4 297.4h-2.2M217.4 296.7h-2.2M217.4 347h-2.2M217.4 345.1h-2.2M217.4 343.2h-2.2" stroke="#111" stroke-width="1.0" fill="none"/>
<text x="223.6" y="364.8" font-size="5.2" fill="#222" text-anchor="middle" stroke="#222" stroke-width="0.14">0</text>
<text x="232.4" y="364.8" font-size="5.2" fill="#222" text-anchor="middle" stroke="#222" stroke-width="0.14">10<tspan dy="-2" font-size="2.9">2</tspan></text>
<text x="248.5" y="364.8" font-size="5.2" fill="#222" text-anchor="middle" stroke="#222" stroke-width="0.14">10<tspan dy="-2" font-size="2.9">3</tspan></text>
<text x="264.5" y="364.8" font-size="5.2" fill="#222" text-anchor="middle" stroke="#222" stroke-width="0.14">10<tspan dy="-2" font-size="2.9">4</tspan></text>
<text x="280.6" y="364.8" font-size="5.2" fill="#222" text-anchor="middle" stroke="#222" stroke-width="0.14">10<tspan dy="-2" font-size="2.9">5</tspan></text>
<text x="210.8" y="350.7" font-size="5.2" fill="#222" text-anchor="end" stroke="#222" stroke-width="0.14">0</text>
<text x="210.8" y="343.1" font-size="5.2" fill="#222" text-anchor="end" stroke="#222" stroke-width="0.14">10<tspan dy="-2" font-size="2.9">2</tspan></text>
<text x="210.8" y="327.2" font-size="5.2" fill="#222" text-anchor="end" stroke="#222" stroke-width="0.14">10<tspan dy="-2" font-size="2.9">3</tspan></text>
<text x="210.8" y="312.6" font-size="5.2" fill="#222" text-anchor="end" stroke="#222" stroke-width="0.14">10<tspan dy="-2" font-size="2.9">4</tspan></text>
<text x="210.8" y="297.8" font-size="5.2" fill="#222" text-anchor="end" stroke="#222" stroke-width="0.14">10<tspan dy="-2" font-size="2.9">5</tspan></text>
<text x="283.7" y="295.6" font-size="7.7" fill="#222" text-anchor="end" textLength="21.5" lengthAdjust="spacingAndGlyphs" stroke="#222" stroke-width="0.22">29.9%</text>
<line x1="29.9" y1="295" x2="29.9" y2="356.4" stroke="#111" stroke-width="1.7"/>
<path d="M26.9 296.2L29.4 289.5H30.4L32.9 296.2Z" fill="#111"/>
<text x="23.8" y="349.2" font-size="9.3" fill="#222" textLength="14.1" lengthAdjust="spacingAndGlyphs" transform="rotate(-90 23.8 349.2)" stroke="#222" stroke-width="0.3">GFP</text>
<rect x="46.4" y="373.5" width="69.1" height="66.2" fill="none" stroke="#111" stroke-width="1.1"/>
<line x1="46.4" y1="373.5" x2="46.4" y2="440.3" stroke="#111" stroke-width="1.5"/>
<line x1="45.8" y1="439.9" x2="115.5" y2="439.9" stroke="#111" stroke-width="1.9"/>
<path d="M46.4 434.6h-1.7M46.4 429.6h-1.7M46.4 424.6h-1.7M46.4 419.5h-2.8M46.4 414.4h-1.7M46.4 409.4h-1.7M46.4 404.3h-1.7M46.4 399.3h-2.8M46.4 394.2h-1.7M46.4 389.2h-1.7M46.4 384.1h-1.7M46.4 379.1h-2.8" stroke="#111" stroke-width="0.9" fill="none"/>
<path d="M52.4 439.7v3.4M60.6 439.7v3.4M76.7 439.7v3.4M92.7 439.7v3.4M108.8 439.7v3.4M65.4 439.7v2.2M68.3 439.7v2.2M70.3 439.7v2.2M71.9 439.7v2.2M73.1 439.7v2.2M74.2 439.7v2.2M75.1 439.7v2.2M76 439.7v2.2M81.5 439.7v2.2M84.3 439.7v2.2M86.3 439.7v2.2M87.9 439.7v2.2M89.2 439.7v2.2M90.2 439.7v2.2M91.1 439.7v2.2M92 439.7v2.2M97.5 439.7v2.2M100.4 439.7v2.2M102.4 439.7v2.2M104 439.7v2.2M105.2 439.7v2.2M106.3 439.7v2.2M107.2 439.7v2.2M108.1 439.7v2.2M54.4 439.7v2.2M56.5 439.7v2.2M58.5 439.7v2.2" stroke="#111" stroke-width="1.0" fill="none"/>
<text x="52.4" y="450.4" font-size="5.2" fill="#222" text-anchor="middle" stroke="#222" stroke-width="0.14">0</text>
<text x="61.4" y="450.4" font-size="5.2" fill="#222" text-anchor="middle" stroke="#222" stroke-width="0.14">10<tspan dy="-2" font-size="2.9">2</tspan></text>
<text x="77.5" y="450.4" font-size="5.2" fill="#222" text-anchor="middle" stroke="#222" stroke-width="0.14">10<tspan dy="-2" font-size="2.9">3</tspan></text>
<text x="93.5" y="450.4" font-size="5.2" fill="#222" text-anchor="middle" stroke="#222" stroke-width="0.14">10<tspan dy="-2" font-size="2.9">4</tspan></text>
<text x="109.6" y="450.4" font-size="5.2" fill="#222" text-anchor="middle" stroke="#222" stroke-width="0.14">10<tspan dy="-2" font-size="2.9">5</tspan></text>
<path d="M46.80 439.50C51.25 439.50 58.94 439.55 63.50 439.50C68.06 439.45 62.94 440.39 63.90 439.30C64.86 438.21 65.82 440.01 67.10 435.40C68.38 430.79 67.98 426.93 68.70 422.00C69.42 417.07 69.11 418.79 69.80 416.90C70.49 415.01 70.55 419.01 71.30 414.90C72.05 410.79 71.83 410.19 72.60 401.50C73.37 392.81 73.45 384.41 74.20 382.30C74.95 380.19 74.79 386.88 75.40 393.60C76.01 400.32 75.91 407.50 76.50 407.50C77.09 407.50 76.96 398.35 77.60 393.60C78.24 388.85 78.21 388.45 78.90 389.70C79.59 390.95 79.67 393.47 80.20 398.30C80.73 403.13 80.21 405.05 80.90 407.80C81.59 410.55 81.87 407.35 82.80 408.60C83.73 409.85 83.55 408.31 84.40 412.50C85.25 416.69 85.07 422.27 86.00 424.30C86.93 426.33 87.02 419.67 87.90 420.10C88.78 420.53 88.34 424.78 89.30 425.90C90.26 427.02 90.49 422.62 91.50 424.30C92.51 425.98 92.27 428.63 93.10 432.20C93.93 435.77 93.77 435.81 94.60 437.70C95.43 439.59 90.76 438.82 96.20 439.30C101.64 439.78 109.99 439.45 115.00 439.50" fill="none" stroke="#111" stroke-width="1.3" stroke-linejoin="round"/>
<rect x="132.3" y="373.5" width="69" height="66.2" fill="none" stroke="#111" stroke-width="1.1"/>
<line x1="132.3" y1="373.5" x2="132.3" y2="440.3" stroke="#111" stroke-width="1.5"/>
<line x1="131.7" y1="439.9" x2="201.3" y2="439.9" stroke="#111" stroke-width="1.9"/>
<path d="M132.3 434.6h-1.7M132.3 429.6h-1.7M132.3 424.6h-1.7M132.3 419.5h-2.8M132.3 414.4h-1.7M132.3 409.4h-1.7M132.3 404.3h-1.7M132.3 399.3h-2.8M132.3 394.2h-1.7M132.3 389.2h-1.7M132.3 384.1h-1.7M132.3 379.1h-2.8" stroke="#111" stroke-width="0.9" fill="none"/>
<path d="M138.3 439.7v3.4M146.5 439.7v3.4M162.6 439.7v3.4M178.6 439.7v3.4M194.7 439.7v3.4M151.3 439.7v2.2M154.2 439.7v2.2M156.2 439.7v2.2M157.8 439.7v2.2M159 439.7v2.2M160.1 439.7v2.2M161 439.7v2.2M161.9 439.7v2.2M167.4 439.7v2.2M170.2 439.7v2.2M172.2 439.7v2.2M173.8 439.7v2.2M175.1 439.7v2.2M176.1 439.7v2.2M177 439.7v2.2M177.9 439.7v2.2M183.4 439.7v2.2M186.3 439.7v2.2M188.3 439.7v2.2M189.9 439.7v2.2M191.1 439.7v2.2M192.2 439.7v2.2M193.1 439.7v2.2M194 439.7v2.2M140.4 439.7v2.2M142.4 439.7v2.2M144.4 439.7v2.2" stroke="#111" stroke-width="1.0" fill="none"/>
<text x="138.3" y="450.4" font-size="5.2" fill="#222" text-anchor="middle" stroke="#222" stroke-width="0.14">0</text>
<text x="147.3" y="450.4" font-size="5.2" fill="#222" text-anchor="middle" stroke="#222" stroke-width="0.14">10<tspan dy="-2" font-size="2.9">2</tspan></text>
<text x="163.4" y="450.4" font-size="5.2" fill="#222" text-anchor="middle" stroke="#222" stroke-width="0.14">10<tspan dy="-2" font-size="2.9">3</tspan></text>
<text x="179.4" y="450.4" font-size="5.2" fill="#222" text-anchor="middle" stroke="#222" stroke-width="0.14">10<tspan dy="-2" font-size="2.9">4</tspan></text>
<text x="195.5" y="450.4" font-size="5.2" fill="#222" text-anchor="middle" stroke="#222" stroke-width="0.14">10<tspan dy="-2" font-size="2.9">5</tspan></text>
<path d="M132.80 439.50C137.44 439.50 145.05 439.82 150.20 439.50C155.35 439.18 150.82 438.51 152.10 438.30C153.38 438.09 153.48 439.10 155.00 438.70C156.52 438.30 156.04 437.39 157.80 436.80C159.56 436.21 159.57 437.25 161.60 436.50C163.63 435.75 163.88 435.17 165.40 434.00C166.92 432.83 166.21 431.75 167.30 432.10C168.39 432.45 168.01 434.79 169.50 435.30C170.99 435.81 171.49 435.36 172.90 434.00C174.31 432.64 173.97 438.52 174.80 430.20C175.63 421.88 175.28 414.75 176.00 402.80C176.72 390.85 176.70 386.41 177.50 385.40C178.30 384.39 178.20 387.80 179.00 399.00C179.80 410.20 179.70 417.05 180.50 427.40C181.30 437.75 181.25 434.57 182.00 437.80C182.75 441.03 178.29 439.05 183.30 439.50C188.31 439.95 196.13 439.50 200.80 439.50" fill="none" stroke="#111" stroke-width="1.3" stroke-linejoin="round"/>
<rect x="217.9" y="373.5" width="68.8" height="66.2" fill="none" stroke="#111" stroke-width="1.1"/>
<line x1="217.9" y1="373.5" x2="217.9" y2="440.3" stroke="#111" stroke-width="1.5"/>
<line x1="217.3" y1="439.9" x2="286.7" y2="439.9" stroke="#111" stroke-width="1.9"/>
<path d="M217.9 434.6h-1.7M217.9 429.6h-1.7M217.9 424.6h-1.7M217.9 419.5h-2.8M217.9 414.4h-1.7M217.9 409.4h-1.7M217.9 404.3h-1.7M217.9 399.3h-2.8M217.9 394.2h-1.7M217.9 389.2h-1.7M217.9 384.1h-1.7M217.9 379.1h-2.8" stroke="#111" stroke-width="0.9" fill="none"/>
<path d="M223.9 439.7v3.4M232.1 439.7v3.4M248.2 439.7v3.4M264.2 439.7v3.4M280.3 439.7v3.4M236.9 439.7v2.2M239.8 439.7v2.2M241.8 439.7v2.2M243.4 439.7v2.2M244.6 439.7v2.2M245.7 439.7v2.2M246.6 439.7v2.2M247.5 439.7v2.2M253 439.7v2.2M255.8 439.7v2.2M257.8 439.7v2.2M259.4 439.7v2.2M260.7 439.7v2.2M261.7 439.7v2.2M262.6 439.7v2.2M263.5 439.7v2.2M269 439.7v2.2M271.9 439.7v2.2M273.9 439.7v2.2M275.5 439.7v2.2M276.7 439.7v2.2M277.8 439.7v2.2M278.7 439.7v2.2M279.6 439.7v2.2M225.9 439.7v2.2M228 439.7v2.2M230.1 439.7v2.2" stroke="#111" stroke-width="1.0" fill="none"/>
<text x="223.9" y="450.4" font-size="5.2" fill="#222" text-anchor="middle" stroke="#222" stroke-width="0.14">0</text>
<text x="232.9" y="450.4" font-size="5.2" fill="#222" text-anchor="middle" stroke="#222" stroke-width="0.14">10<tspan dy="-2" font-size="2.9">2</tspan></text>
<text x="249" y="450.4" font-size="5.2" fill="#222" text-anchor="middle" stroke="#222" stroke-width="0.14">10<tspan dy="-2" font-size="2.9">3</tspan></text>
<text x="265" y="450.4" font-size="5.2" fill="#222" text-anchor="middle" stroke="#222" stroke-width="0.14">10<tspan dy="-2" font-size="2.9">4</tspan></text>
<text x="281.1" y="450.4" font-size="5.2" fill="#222" text-anchor="middle" stroke="#222" stroke-width="0.14">10<tspan dy="-2" font-size="2.9">5</tspan></text>
<path d="M218.40 439.50C222.40 439.50 227.91 439.95 233.40 439.50C238.89 439.05 236.49 438.41 239.00 437.80C241.51 437.19 241.28 437.97 242.80 437.20C244.32 436.43 243.69 436.26 244.70 434.90C245.71 433.54 245.35 433.35 246.60 432.10C247.85 430.85 248.15 430.20 249.40 430.20C250.65 430.20 250.13 432.45 251.30 432.10C252.47 431.75 252.44 429.41 253.80 428.90C255.16 428.39 255.04 429.85 256.40 430.20C257.76 430.55 257.73 431.45 258.90 430.20C260.07 428.95 259.95 432.81 260.80 425.50C261.65 418.19 261.46 413.65 262.10 402.80C262.74 391.95 262.59 385.81 263.20 384.80C263.81 383.79 263.79 388.15 264.40 399.00C265.01 409.85 264.81 415.15 265.50 425.50C266.19 435.85 266.25 434.07 267.00 437.80C267.75 441.53 263.18 439.05 268.30 439.50C273.42 439.95 281.43 439.50 286.20 439.50" fill="none" stroke="#111" stroke-width="1.3" stroke-linejoin="round"/>
<text x="38.3" y="415.6" font-size="7.6" fill="#222" transform="rotate(-90 38.3 415.6)" stroke="#222" stroke-width="0.28">count</text>
<line x1="52" y1="463.5" x2="222.7" y2="463.5" stroke="#111" stroke-width="1.6"/>
<path d="M46.9 463.5L54.4 459.8L52.6 463.5L54.4 467.2Z" fill="#111"/>
<text x="231.3" y="467.2" font-size="9.8" fill="#222" textLength="45.7" lengthAdjust="spacingAndGlyphs" stroke="#222" stroke-width="0.3">Cell division</text>
<line x1="328.1" y1="290.9" x2="328.1" y2="424.9" stroke="#111" stroke-width="1.5"/>
<line x1="327.4" y1="424.2" x2="509.7" y2="424.2" stroke="#111" stroke-width="1.5"/>
<line x1="325.1" y1="293.6" x2="328.1" y2="293.6" stroke="#111" stroke-width="1.1"/>
<text x="322.9" y="296.5" font-size="8.0" fill="#222" text-anchor="end" stroke="#222" stroke-width="0.22">20</text>
<line x1="325.1" y1="319.7" x2="328.1" y2="319.7" stroke="#111" stroke-width="1.1"/>
<text x="322.9" y="322.6" font-size="8.0" fill="#222" text-anchor="end" stroke="#222" stroke-width="0.22">16</text>
<line x1="325.1" y1="345.8" x2="328.1" y2="345.8" stroke="#111" stroke-width="1.1"/>
<text x="322.9" y="348.7" font-size="8.0" fill="#222" text-anchor="end" stroke="#222" stroke-width="0.22">12</text>
<line x1="325.1" y1="372" x2="328.1" y2="372" stroke="#111" stroke-width="1.1"/>
<text x="322.9" y="374.8" font-size="8.0" fill="#222" text-anchor="end" stroke="#222" stroke-width="0.22">8</text>
<line x1="325.1" y1="398.1" x2="328.1" y2="398.1" stroke="#111" stroke-width="1.1"/>
<text x="322.9" y="401" font-size="8.0" fill="#222" text-anchor="end" stroke="#222" stroke-width="0.22">4</text>
<line x1="325.1" y1="424.2" x2="328.1" y2="424.2" stroke="#111" stroke-width="1.1"/>
<text x="322.9" y="427.1" font-size="8.0" fill="#222" text-anchor="end" stroke="#222" stroke-width="0.22">0</text>
<line x1="343.1" y1="424.2" x2="343.1" y2="427.2" stroke="#111" stroke-width="1.1"/>
<line x1="374.2" y1="424.2" x2="374.2" y2="427.2" stroke="#111" stroke-width="1.1"/>
<line x1="405.1" y1="424.2" x2="405.1" y2="427.2" stroke="#111" stroke-width="1.1"/>
<line x1="436.5" y1="424.2" x2="436.5" y2="427.2" stroke="#111" stroke-width="1.1"/>
<line x1="468.1" y1="424.2" x2="468.1" y2="427.2" stroke="#111" stroke-width="1.1"/>
<line x1="499.3" y1="424.2" x2="499.3" y2="427.2" stroke="#111" stroke-width="1.1"/>
<text x="343.1" y="438.2" font-size="8.0" fill="#222" text-anchor="middle" stroke="#222" stroke-width="0.22">2</text>
<text x="374.2" y="438.2" font-size="8.0" fill="#222" text-anchor="middle" stroke="#222" stroke-width="0.22">1</text>
<text x="405.1" y="438.2" font-size="8.0" fill="#222" text-anchor="middle" stroke="#222" stroke-width="0.22">0.5</text>
<text x="436.5" y="438.2" font-size="8.0" fill="#222" text-anchor="middle" stroke="#222" stroke-width="0.22">0.25</text>
<text x="499.3" y="438.2" font-size="8.0" fill="#222" text-anchor="middle" stroke="#222" stroke-width="0.22">0</text>
<text x="393.2" y="450.9" font-size="9.3" fill="#222" textLength="51.9" lengthAdjust="spacingAndGlyphs" stroke="#222" stroke-width="0.3">Treg/Teff ratio</text>
<text x="308.1" y="403.7" font-size="9.6" fill="#222" textLength="95.5" lengthAdjust="spacingAndGlyphs" transform="rotate(-90 308.1 403.7)" stroke="#222" stroke-width="0.3">Divided Ob2F3 Teff (x10<tspan dy="-3.2" font-size="6">3</tspan><tspan dy="3.2">)</tspan></text>
<path d="M343 420.9 L373.5 409.9 L404.4 383.8 L434.5 357.4" fill="none" stroke="#6aa84a" stroke-width="1.6"/>
<path d="M343 416.6 L373.5 388.5 L404.4 370.7 L434.5 355.5" fill="none" stroke="#961434" stroke-width="1.8"/>
<line x1="404.4" y1="380.7" x2="404.4" y2="388" stroke="#222" stroke-width="1"/>
<line x1="401.9" y1="380.7" x2="406.9" y2="380.7" stroke="#222" stroke-width="1.1"/>
<line x1="401.9" y1="388" x2="406.9" y2="388" stroke="#222" stroke-width="1.1"/>
<line x1="434.5" y1="352.8" x2="434.5" y2="359.6" stroke="#222" stroke-width="1"/>
<line x1="432" y1="352.8" x2="437" y2="352.8" stroke="#222" stroke-width="1.1"/>
<line x1="432" y1="359.6" x2="437" y2="359.6" stroke="#222" stroke-width="1.1"/>
<rect x="340.9" y="418.8" width="4.2" height="4.2" fill="#90c060" stroke="#4a8a30" stroke-width="0.6"/>
<rect x="371.4" y="407.8" width="4.2" height="4.2" fill="#90c060" stroke="#4a8a30" stroke-width="0.6"/>
<rect x="402.3" y="381.7" width="4.2" height="4.2" fill="#90c060" stroke="#4a8a30" stroke-width="0.6"/>
<rect x="432.4" y="355.3" width="4.2" height="4.2" fill="#90c060" stroke="#4a8a30" stroke-width="0.6"/>
<rect x="340.6" y="414.2" width="4.8" height="4.8" fill="#961434" stroke="#6a0a20" stroke-width="0.6"/>
<rect x="371.1" y="386.1" width="4.8" height="4.8" fill="#961434" stroke="#6a0a20" stroke-width="0.6"/>
<rect x="402" y="368.3" width="4.8" height="4.8" fill="#961434" stroke="#6a0a20" stroke-width="0.6"/>
<rect x="432.1" y="353.1" width="4.8" height="4.8" fill="#961434" stroke="#6a0a20" stroke-width="0.6"/>
<line x1="495.3" y1="314.4" x2="495.3" y2="325.2" stroke="#222" stroke-width="1"/>
<line x1="492.8" y1="314.4" x2="497.8" y2="314.4" stroke="#222" stroke-width="1.1"/>
<line x1="492.8" y1="325.2" x2="497.8" y2="325.2" stroke="#222" stroke-width="1.1"/>
<rect x="493.2" y="317.8" width="4.2" height="4.2" fill="#e8ecc8" stroke="#6a7a50" stroke-width="0.6"/>
<line x1="495.3" y1="336.5" x2="495.3" y2="351" stroke="#222" stroke-width="1"/>
<line x1="492.8" y1="336.5" x2="497.8" y2="336.5" stroke="#222" stroke-width="1.1"/>
<line x1="492.8" y1="351" x2="497.8" y2="351" stroke="#222" stroke-width="1.1"/>
<rect x="492.9" y="341.6" width="4.8" height="4.8" fill="#961434" stroke="#6a0a20" stroke-width="0.6"/>
<line x1="445.4" y1="397" x2="457.7" y2="397" stroke="#961434" stroke-width="1.8"/>
<rect x="448.8" y="394.3" width="5.4" height="5.4" fill="#961434" stroke="#6a0a20" stroke-width="0.6"/>
<text x="461.2" y="399.9" font-size="7.4" fill="#222" textLength="37.6" lengthAdjust="spacingAndGlyphs" stroke="#222" stroke-width="0.22">ANS8 Treg</text>
<line x1="445.4" y1="407.8" x2="457.7" y2="407.8" stroke="#6aa84a" stroke-width="1.6"/>
<rect x="449.3" y="405.6" width="4.4" height="4.4" fill="#b8d890" stroke="#3e6a2a" stroke-width="0.6"/>
<text x="461.2" y="410.6" font-size="7.4" fill="#222" textLength="38.8" lengthAdjust="spacingAndGlyphs" stroke="#222" stroke-width="0.22">17195 Treg</text>
</g>
</svg>
</body></html>
